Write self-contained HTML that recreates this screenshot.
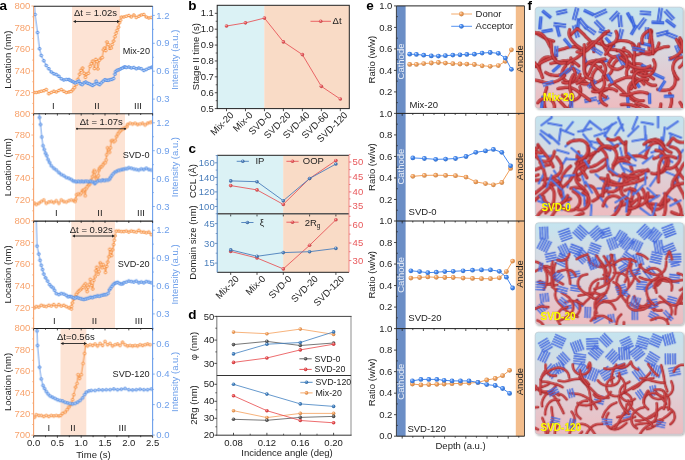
<!DOCTYPE html><html><head><meta charset="utf-8"><style>html,body{margin:0;padding:0;background:#fff;}svg{display:block;will-change:transform;}</style></head><body><svg width="685" height="460" viewBox="0 0 685 460" font-family='"Liberation Sans", sans-serif'><rect x="72" y="6" width="48" height="107.4" fill="#FDE3D4" />
<rect x="75" y="113.4" width="50" height="107.4" fill="#FDE3D4" />
<rect x="71.3" y="220.8" width="43.7" height="107.4" fill="#FDE3D4" />
<rect x="60.5" y="328.2" width="25.8" height="107.4" fill="#FDE3D4" />
<svg x="33.6" y="6" width="119" height="107.4" overflow="hidden"><g transform="translate(-33.6,-6)">
<polyline points="33.75,92.5 36.25,92.5 38.75,92 41.25,91.25 43.75,90.75 46.25,89.5 48.75,93.75 51.25,92.5 53.75,91.25 56.25,92 58.75,90.5 61.25,89.5 63.75,91.25 66.25,92.5 68.75,92 70.88,91.6 72.6,89.85 74.35,87.75 76.1,84.62 77.83,79.4 79.58,74.17 80.8,70.35 82.53,68.1 83.92,73.3 85.33,77.33 86.53,74.17 88.28,73.3 90.03,66.35 91.22,63.75 92.62,61.12 94.38,68.6 95.75,59.38 96.97,61.65 97.85,68.95 99.25,60.25 100.97,58.17 102.2,57.65 103.42,49.83 104.47,48.08 105.67,50.67 106.9,41.98 108.3,44.6 109.67,48.42 111.08,48.08 112.12,44.6 113.53,41.1 114.9,36.75 115.95,33.27 117,30.32 118.4,27.18 119.42,22.82 120.47,20.23 121.35,17.1 123.75,17 126.25,16.25 128.75,15.5 131.25,17 133.75,15 136.25,17.5 138.75,16.25 141.25,15 143.75,14.5 146.25,17 148.75,18 151.25,17.5" fill="none" stroke="#F5862F" stroke-width="0.85" stroke-linejoin="round" />
<circle cx="33.75" cy="92.5" r="1.3" fill="#FFF0E4" stroke="#F5862F" stroke-width="0.95"/>
<circle cx="36.25" cy="92.5" r="1.3" fill="#FFF0E4" stroke="#F5862F" stroke-width="0.95"/>
<circle cx="38.75" cy="92" r="1.3" fill="#FFF0E4" stroke="#F5862F" stroke-width="0.95"/>
<circle cx="41.25" cy="91.25" r="1.3" fill="#FFF0E4" stroke="#F5862F" stroke-width="0.95"/>
<circle cx="43.75" cy="90.75" r="1.3" fill="#FFF0E4" stroke="#F5862F" stroke-width="0.95"/>
<circle cx="46.25" cy="89.5" r="1.3" fill="#FFF0E4" stroke="#F5862F" stroke-width="0.95"/>
<circle cx="48.75" cy="93.75" r="1.3" fill="#FFF0E4" stroke="#F5862F" stroke-width="0.95"/>
<circle cx="51.25" cy="92.5" r="1.3" fill="#FFF0E4" stroke="#F5862F" stroke-width="0.95"/>
<circle cx="53.75" cy="91.25" r="1.3" fill="#FFF0E4" stroke="#F5862F" stroke-width="0.95"/>
<circle cx="56.25" cy="92" r="1.3" fill="#FFF0E4" stroke="#F5862F" stroke-width="0.95"/>
<circle cx="58.75" cy="90.5" r="1.3" fill="#FFF0E4" stroke="#F5862F" stroke-width="0.95"/>
<circle cx="61.25" cy="89.5" r="1.3" fill="#FFF0E4" stroke="#F5862F" stroke-width="0.95"/>
<circle cx="63.75" cy="91.25" r="1.3" fill="#FFF0E4" stroke="#F5862F" stroke-width="0.95"/>
<circle cx="66.25" cy="92.5" r="1.3" fill="#FFF0E4" stroke="#F5862F" stroke-width="0.95"/>
<circle cx="68.75" cy="92" r="1.3" fill="#FFF0E4" stroke="#F5862F" stroke-width="0.95"/>
<circle cx="70.88" cy="91.6" r="1.3" fill="#FFF0E4" stroke="#F5862F" stroke-width="0.95"/>
<circle cx="72.6" cy="89.85" r="1.3" fill="#FFF0E4" stroke="#F5862F" stroke-width="0.95"/>
<circle cx="74.35" cy="87.75" r="1.3" fill="#FFF0E4" stroke="#F5862F" stroke-width="0.95"/>
<circle cx="76.1" cy="84.62" r="1.3" fill="#FFF0E4" stroke="#F5862F" stroke-width="0.95"/>
<circle cx="77.83" cy="79.4" r="1.3" fill="#FFF0E4" stroke="#F5862F" stroke-width="0.95"/>
<circle cx="79.58" cy="74.17" r="1.3" fill="#FFF0E4" stroke="#F5862F" stroke-width="0.95"/>
<circle cx="80.8" cy="70.35" r="1.3" fill="#FFF0E4" stroke="#F5862F" stroke-width="0.95"/>
<circle cx="82.53" cy="68.1" r="1.3" fill="#FFF0E4" stroke="#F5862F" stroke-width="0.95"/>
<circle cx="83.92" cy="73.3" r="1.3" fill="#FFF0E4" stroke="#F5862F" stroke-width="0.95"/>
<circle cx="85.33" cy="77.33" r="1.3" fill="#FFF0E4" stroke="#F5862F" stroke-width="0.95"/>
<circle cx="86.53" cy="74.17" r="1.3" fill="#FFF0E4" stroke="#F5862F" stroke-width="0.95"/>
<circle cx="88.28" cy="73.3" r="1.3" fill="#FFF0E4" stroke="#F5862F" stroke-width="0.95"/>
<circle cx="90.03" cy="66.35" r="1.3" fill="#FFF0E4" stroke="#F5862F" stroke-width="0.95"/>
<circle cx="91.22" cy="63.75" r="1.3" fill="#FFF0E4" stroke="#F5862F" stroke-width="0.95"/>
<circle cx="92.62" cy="61.12" r="1.3" fill="#FFF0E4" stroke="#F5862F" stroke-width="0.95"/>
<circle cx="94.38" cy="68.6" r="1.3" fill="#FFF0E4" stroke="#F5862F" stroke-width="0.95"/>
<circle cx="95.75" cy="59.38" r="1.3" fill="#FFF0E4" stroke="#F5862F" stroke-width="0.95"/>
<circle cx="96.97" cy="61.65" r="1.3" fill="#FFF0E4" stroke="#F5862F" stroke-width="0.95"/>
<circle cx="97.85" cy="68.95" r="1.3" fill="#FFF0E4" stroke="#F5862F" stroke-width="0.95"/>
<circle cx="99.25" cy="60.25" r="1.3" fill="#FFF0E4" stroke="#F5862F" stroke-width="0.95"/>
<circle cx="100.97" cy="58.17" r="1.3" fill="#FFF0E4" stroke="#F5862F" stroke-width="0.95"/>
<circle cx="102.2" cy="57.65" r="1.3" fill="#FFF0E4" stroke="#F5862F" stroke-width="0.95"/>
<circle cx="103.42" cy="49.83" r="1.3" fill="#FFF0E4" stroke="#F5862F" stroke-width="0.95"/>
<circle cx="104.47" cy="48.08" r="1.3" fill="#FFF0E4" stroke="#F5862F" stroke-width="0.95"/>
<circle cx="105.67" cy="50.67" r="1.3" fill="#FFF0E4" stroke="#F5862F" stroke-width="0.95"/>
<circle cx="106.9" cy="41.98" r="1.3" fill="#FFF0E4" stroke="#F5862F" stroke-width="0.95"/>
<circle cx="108.3" cy="44.6" r="1.3" fill="#FFF0E4" stroke="#F5862F" stroke-width="0.95"/>
<circle cx="109.67" cy="48.42" r="1.3" fill="#FFF0E4" stroke="#F5862F" stroke-width="0.95"/>
<circle cx="111.08" cy="48.08" r="1.3" fill="#FFF0E4" stroke="#F5862F" stroke-width="0.95"/>
<circle cx="112.12" cy="44.6" r="1.3" fill="#FFF0E4" stroke="#F5862F" stroke-width="0.95"/>
<circle cx="113.53" cy="41.1" r="1.3" fill="#FFF0E4" stroke="#F5862F" stroke-width="0.95"/>
<circle cx="114.9" cy="36.75" r="1.3" fill="#FFF0E4" stroke="#F5862F" stroke-width="0.95"/>
<circle cx="115.95" cy="33.27" r="1.3" fill="#FFF0E4" stroke="#F5862F" stroke-width="0.95"/>
<circle cx="117" cy="30.32" r="1.3" fill="#FFF0E4" stroke="#F5862F" stroke-width="0.95"/>
<circle cx="118.4" cy="27.18" r="1.3" fill="#FFF0E4" stroke="#F5862F" stroke-width="0.95"/>
<circle cx="119.42" cy="22.82" r="1.3" fill="#FFF0E4" stroke="#F5862F" stroke-width="0.95"/>
<circle cx="120.47" cy="20.23" r="1.3" fill="#FFF0E4" stroke="#F5862F" stroke-width="0.95"/>
<circle cx="121.35" cy="17.1" r="1.3" fill="#FFF0E4" stroke="#F5862F" stroke-width="0.95"/>
<circle cx="123.75" cy="17" r="1.3" fill="#FFF0E4" stroke="#F5862F" stroke-width="0.95"/>
<circle cx="126.25" cy="16.25" r="1.3" fill="#FFF0E4" stroke="#F5862F" stroke-width="0.95"/>
<circle cx="128.75" cy="15.5" r="1.3" fill="#FFF0E4" stroke="#F5862F" stroke-width="0.95"/>
<circle cx="131.25" cy="17" r="1.3" fill="#FFF0E4" stroke="#F5862F" stroke-width="0.95"/>
<circle cx="133.75" cy="15" r="1.3" fill="#FFF0E4" stroke="#F5862F" stroke-width="0.95"/>
<circle cx="136.25" cy="17.5" r="1.3" fill="#FFF0E4" stroke="#F5862F" stroke-width="0.95"/>
<circle cx="138.75" cy="16.25" r="1.3" fill="#FFF0E4" stroke="#F5862F" stroke-width="0.95"/>
<circle cx="141.25" cy="15" r="1.3" fill="#FFF0E4" stroke="#F5862F" stroke-width="0.95"/>
<circle cx="143.75" cy="14.5" r="1.3" fill="#FFF0E4" stroke="#F5862F" stroke-width="0.95"/>
<circle cx="146.25" cy="17" r="1.3" fill="#FFF0E4" stroke="#F5862F" stroke-width="0.95"/>
<circle cx="148.75" cy="18" r="1.3" fill="#FFF0E4" stroke="#F5862F" stroke-width="0.95"/>
<circle cx="151.25" cy="17.5" r="1.3" fill="#FFF0E4" stroke="#F5862F" stroke-width="0.95"/>
<polyline points="34.4,4 35,14.5 37.5,32.5 39.5,48.75 41.25,55.5 43.75,60.75 46.25,65.5 48.75,68.75 51.25,72 53.75,73.75 56.25,74.5 58.75,76.25 61.25,78.75 63.75,80 66.25,79.5 68.75,79.5 70,80.28 71.75,81.15 73.47,82.03 75.22,82.88 76.97,82.03 78.7,81.15 80.45,83.75 82.17,84.62 83.92,82.88 85.67,82.03 87.4,83.22 89.15,83.75 90.9,84.62 92.62,85.5 94.38,84.28 96.1,81.15 97.85,83.75 99.6,84.62 101.33,82.88 103.08,81.15 104.83,79.75 106.55,80.28 108.3,80.28 110.03,79.75 111.78,79.4 113.53,78.53 114.9,74.17 115.6,71.58 117,70.35 118.75,69.83 120.47,68.95 122.22,68.1 123.95,67.22 125,66.88 126.25,67.5 128.75,67 131.25,68 133.75,67.5 136.25,68.75 138.75,68 141.25,68.75 143.75,70.5 146.25,69.5 148.75,68.25 151.25,67.5 152.5,67" fill="none" stroke="#4B88E4" stroke-width="0.8" stroke-linejoin="round" />
<circle cx="35" cy="14.5" r="1.35" fill="#C4D9F8" stroke="#4B88E4" stroke-width="0.95"/>
<circle cx="37.5" cy="32.5" r="1.35" fill="#C4D9F8" stroke="#4B88E4" stroke-width="0.95"/>
<circle cx="39.5" cy="48.75" r="1.35" fill="#C4D9F8" stroke="#4B88E4" stroke-width="0.95"/>
<circle cx="41.25" cy="55.5" r="1.35" fill="#C4D9F8" stroke="#4B88E4" stroke-width="0.95"/>
<circle cx="43.75" cy="60.75" r="1.35" fill="#C4D9F8" stroke="#4B88E4" stroke-width="0.95"/>
<circle cx="46.25" cy="65.5" r="1.35" fill="#C4D9F8" stroke="#4B88E4" stroke-width="0.95"/>
<circle cx="48.75" cy="68.75" r="1.35" fill="#C4D9F8" stroke="#4B88E4" stroke-width="0.95"/>
<circle cx="51.25" cy="72" r="1.35" fill="#C4D9F8" stroke="#4B88E4" stroke-width="0.95"/>
<circle cx="53.75" cy="73.75" r="1.35" fill="#C4D9F8" stroke="#4B88E4" stroke-width="0.95"/>
<circle cx="56.25" cy="74.5" r="1.35" fill="#C4D9F8" stroke="#4B88E4" stroke-width="0.95"/>
<circle cx="58.75" cy="76.25" r="1.35" fill="#C4D9F8" stroke="#4B88E4" stroke-width="0.95"/>
<circle cx="61.25" cy="78.75" r="1.35" fill="#C4D9F8" stroke="#4B88E4" stroke-width="0.95"/>
<circle cx="63.75" cy="80" r="1.35" fill="#C4D9F8" stroke="#4B88E4" stroke-width="0.95"/>
<circle cx="66.25" cy="79.5" r="1.35" fill="#C4D9F8" stroke="#4B88E4" stroke-width="0.95"/>
<circle cx="68.75" cy="79.5" r="1.35" fill="#C4D9F8" stroke="#4B88E4" stroke-width="0.95"/>
<circle cx="70" cy="80.28" r="1.35" fill="#C4D9F8" stroke="#4B88E4" stroke-width="0.95"/>
<circle cx="71.75" cy="81.15" r="1.35" fill="#C4D9F8" stroke="#4B88E4" stroke-width="0.95"/>
<circle cx="73.47" cy="82.03" r="1.35" fill="#C4D9F8" stroke="#4B88E4" stroke-width="0.95"/>
<circle cx="75.22" cy="82.88" r="1.35" fill="#C4D9F8" stroke="#4B88E4" stroke-width="0.95"/>
<circle cx="76.97" cy="82.03" r="1.35" fill="#C4D9F8" stroke="#4B88E4" stroke-width="0.95"/>
<circle cx="78.7" cy="81.15" r="1.35" fill="#C4D9F8" stroke="#4B88E4" stroke-width="0.95"/>
<circle cx="80.45" cy="83.75" r="1.35" fill="#C4D9F8" stroke="#4B88E4" stroke-width="0.95"/>
<circle cx="82.17" cy="84.62" r="1.35" fill="#C4D9F8" stroke="#4B88E4" stroke-width="0.95"/>
<circle cx="83.92" cy="82.88" r="1.35" fill="#C4D9F8" stroke="#4B88E4" stroke-width="0.95"/>
<circle cx="85.67" cy="82.03" r="1.35" fill="#C4D9F8" stroke="#4B88E4" stroke-width="0.95"/>
<circle cx="87.4" cy="83.22" r="1.35" fill="#C4D9F8" stroke="#4B88E4" stroke-width="0.95"/>
<circle cx="89.15" cy="83.75" r="1.35" fill="#C4D9F8" stroke="#4B88E4" stroke-width="0.95"/>
<circle cx="90.9" cy="84.62" r="1.35" fill="#C4D9F8" stroke="#4B88E4" stroke-width="0.95"/>
<circle cx="92.62" cy="85.5" r="1.35" fill="#C4D9F8" stroke="#4B88E4" stroke-width="0.95"/>
<circle cx="94.38" cy="84.28" r="1.35" fill="#C4D9F8" stroke="#4B88E4" stroke-width="0.95"/>
<circle cx="96.1" cy="81.15" r="1.35" fill="#C4D9F8" stroke="#4B88E4" stroke-width="0.95"/>
<circle cx="97.85" cy="83.75" r="1.35" fill="#C4D9F8" stroke="#4B88E4" stroke-width="0.95"/>
<circle cx="99.6" cy="84.62" r="1.35" fill="#C4D9F8" stroke="#4B88E4" stroke-width="0.95"/>
<circle cx="101.33" cy="82.88" r="1.35" fill="#C4D9F8" stroke="#4B88E4" stroke-width="0.95"/>
<circle cx="103.08" cy="81.15" r="1.35" fill="#C4D9F8" stroke="#4B88E4" stroke-width="0.95"/>
<circle cx="104.83" cy="79.75" r="1.35" fill="#C4D9F8" stroke="#4B88E4" stroke-width="0.95"/>
<circle cx="106.55" cy="80.28" r="1.35" fill="#C4D9F8" stroke="#4B88E4" stroke-width="0.95"/>
<circle cx="108.3" cy="80.28" r="1.35" fill="#C4D9F8" stroke="#4B88E4" stroke-width="0.95"/>
<circle cx="110.03" cy="79.75" r="1.35" fill="#C4D9F8" stroke="#4B88E4" stroke-width="0.95"/>
<circle cx="111.78" cy="79.4" r="1.35" fill="#C4D9F8" stroke="#4B88E4" stroke-width="0.95"/>
<circle cx="113.53" cy="78.53" r="1.35" fill="#C4D9F8" stroke="#4B88E4" stroke-width="0.95"/>
<circle cx="114.9" cy="74.17" r="1.35" fill="#C4D9F8" stroke="#4B88E4" stroke-width="0.95"/>
<circle cx="115.6" cy="71.58" r="1.35" fill="#C4D9F8" stroke="#4B88E4" stroke-width="0.95"/>
<circle cx="117" cy="70.35" r="1.35" fill="#C4D9F8" stroke="#4B88E4" stroke-width="0.95"/>
<circle cx="118.75" cy="69.83" r="1.35" fill="#C4D9F8" stroke="#4B88E4" stroke-width="0.95"/>
<circle cx="120.47" cy="68.95" r="1.35" fill="#C4D9F8" stroke="#4B88E4" stroke-width="0.95"/>
<circle cx="122.22" cy="68.1" r="1.35" fill="#C4D9F8" stroke="#4B88E4" stroke-width="0.95"/>
<circle cx="123.95" cy="67.22" r="1.35" fill="#C4D9F8" stroke="#4B88E4" stroke-width="0.95"/>
<circle cx="125" cy="66.88" r="1.35" fill="#C4D9F8" stroke="#4B88E4" stroke-width="0.95"/>
<circle cx="126.25" cy="67.5" r="1.35" fill="#C4D9F8" stroke="#4B88E4" stroke-width="0.95"/>
<circle cx="128.75" cy="67" r="1.35" fill="#C4D9F8" stroke="#4B88E4" stroke-width="0.95"/>
<circle cx="131.25" cy="68" r="1.35" fill="#C4D9F8" stroke="#4B88E4" stroke-width="0.95"/>
<circle cx="133.75" cy="67.5" r="1.35" fill="#C4D9F8" stroke="#4B88E4" stroke-width="0.95"/>
<circle cx="136.25" cy="68.75" r="1.35" fill="#C4D9F8" stroke="#4B88E4" stroke-width="0.95"/>
<circle cx="138.75" cy="68" r="1.35" fill="#C4D9F8" stroke="#4B88E4" stroke-width="0.95"/>
<circle cx="141.25" cy="68.75" r="1.35" fill="#C4D9F8" stroke="#4B88E4" stroke-width="0.95"/>
<circle cx="143.75" cy="70.5" r="1.35" fill="#C4D9F8" stroke="#4B88E4" stroke-width="0.95"/>
<circle cx="146.25" cy="69.5" r="1.35" fill="#C4D9F8" stroke="#4B88E4" stroke-width="0.95"/>
<circle cx="148.75" cy="68.25" r="1.35" fill="#C4D9F8" stroke="#4B88E4" stroke-width="0.95"/>
<circle cx="151.25" cy="67.5" r="1.35" fill="#C4D9F8" stroke="#4B88E4" stroke-width="0.95"/>
<circle cx="152.5" cy="67" r="1.35" fill="#C4D9F8" stroke="#4B88E4" stroke-width="0.95"/>
</g></svg>
<svg x="33.6" y="113.4" width="119" height="107.4" overflow="hidden"><g transform="translate(-33.6,-113.4)">
<polyline points="34.5,203.25 36.25,204.5 38.75,203.25 41.25,201.5 43.75,200 46.25,203.25 48.75,202 51.25,201.5 53.75,202.5 56.25,200.75 58.75,203.25 61.25,200 63.75,201.5 66.25,202 68.75,200.75 71.25,200 73.75,200.75 75,201.5 75.6,199.2 76.47,194.85 78.22,193.97 79.97,194.5 81.35,193.1 82.58,190.5 83.45,191.38 84.33,189.62 85.17,195.72 86.05,188.75 86.92,187.03 88.33,185.28 89.53,184.4 91.28,180.05 92.5,176.57 93.55,172.22 94.22,170.47 94.92,172.22 95.62,177.45 96.5,179.18 97.38,177.1 98.25,175.7 98.75,170.47 99.45,168.4 100.5,167 101.72,166.65 102.95,164.9 103.97,163.18 105.2,162.65 106.08,160.03 106.6,154.82 107.47,147.85 108.67,149.6 109.55,152.2 110.42,147.85 111.3,140.9 112.67,140.55 113.9,141.75 115.12,140.55 116.53,136.53 117.9,133.93 119.12,132.18 120.35,130.8 121.75,129.57 123.47,128.7 125.22,127.83 126.95,126.62 127.5,124.5 130,123.25 132.5,124 135,123.25 137.5,124.5 140,124 142.5,123.25 145,125 147.5,123.25 150,122.5 152,122" fill="none" stroke="#F5862F" stroke-width="0.85" stroke-linejoin="round" />
<circle cx="34.5" cy="203.25" r="1.3" fill="#FFF0E4" stroke="#F5862F" stroke-width="0.95"/>
<circle cx="36.25" cy="204.5" r="1.3" fill="#FFF0E4" stroke="#F5862F" stroke-width="0.95"/>
<circle cx="38.75" cy="203.25" r="1.3" fill="#FFF0E4" stroke="#F5862F" stroke-width="0.95"/>
<circle cx="41.25" cy="201.5" r="1.3" fill="#FFF0E4" stroke="#F5862F" stroke-width="0.95"/>
<circle cx="43.75" cy="200" r="1.3" fill="#FFF0E4" stroke="#F5862F" stroke-width="0.95"/>
<circle cx="46.25" cy="203.25" r="1.3" fill="#FFF0E4" stroke="#F5862F" stroke-width="0.95"/>
<circle cx="48.75" cy="202" r="1.3" fill="#FFF0E4" stroke="#F5862F" stroke-width="0.95"/>
<circle cx="51.25" cy="201.5" r="1.3" fill="#FFF0E4" stroke="#F5862F" stroke-width="0.95"/>
<circle cx="53.75" cy="202.5" r="1.3" fill="#FFF0E4" stroke="#F5862F" stroke-width="0.95"/>
<circle cx="56.25" cy="200.75" r="1.3" fill="#FFF0E4" stroke="#F5862F" stroke-width="0.95"/>
<circle cx="58.75" cy="203.25" r="1.3" fill="#FFF0E4" stroke="#F5862F" stroke-width="0.95"/>
<circle cx="61.25" cy="200" r="1.3" fill="#FFF0E4" stroke="#F5862F" stroke-width="0.95"/>
<circle cx="63.75" cy="201.5" r="1.3" fill="#FFF0E4" stroke="#F5862F" stroke-width="0.95"/>
<circle cx="66.25" cy="202" r="1.3" fill="#FFF0E4" stroke="#F5862F" stroke-width="0.95"/>
<circle cx="68.75" cy="200.75" r="1.3" fill="#FFF0E4" stroke="#F5862F" stroke-width="0.95"/>
<circle cx="71.25" cy="200" r="1.3" fill="#FFF0E4" stroke="#F5862F" stroke-width="0.95"/>
<circle cx="73.75" cy="200.75" r="1.3" fill="#FFF0E4" stroke="#F5862F" stroke-width="0.95"/>
<circle cx="75" cy="201.5" r="1.3" fill="#FFF0E4" stroke="#F5862F" stroke-width="0.95"/>
<circle cx="75.6" cy="199.2" r="1.3" fill="#FFF0E4" stroke="#F5862F" stroke-width="0.95"/>
<circle cx="76.47" cy="194.85" r="1.3" fill="#FFF0E4" stroke="#F5862F" stroke-width="0.95"/>
<circle cx="78.22" cy="193.97" r="1.3" fill="#FFF0E4" stroke="#F5862F" stroke-width="0.95"/>
<circle cx="79.97" cy="194.5" r="1.3" fill="#FFF0E4" stroke="#F5862F" stroke-width="0.95"/>
<circle cx="81.35" cy="193.1" r="1.3" fill="#FFF0E4" stroke="#F5862F" stroke-width="0.95"/>
<circle cx="82.58" cy="190.5" r="1.3" fill="#FFF0E4" stroke="#F5862F" stroke-width="0.95"/>
<circle cx="83.45" cy="191.38" r="1.3" fill="#FFF0E4" stroke="#F5862F" stroke-width="0.95"/>
<circle cx="84.33" cy="189.62" r="1.3" fill="#FFF0E4" stroke="#F5862F" stroke-width="0.95"/>
<circle cx="85.17" cy="195.72" r="1.3" fill="#FFF0E4" stroke="#F5862F" stroke-width="0.95"/>
<circle cx="86.05" cy="188.75" r="1.3" fill="#FFF0E4" stroke="#F5862F" stroke-width="0.95"/>
<circle cx="86.92" cy="187.03" r="1.3" fill="#FFF0E4" stroke="#F5862F" stroke-width="0.95"/>
<circle cx="88.33" cy="185.28" r="1.3" fill="#FFF0E4" stroke="#F5862F" stroke-width="0.95"/>
<circle cx="89.53" cy="184.4" r="1.3" fill="#FFF0E4" stroke="#F5862F" stroke-width="0.95"/>
<circle cx="91.28" cy="180.05" r="1.3" fill="#FFF0E4" stroke="#F5862F" stroke-width="0.95"/>
<circle cx="92.5" cy="176.57" r="1.3" fill="#FFF0E4" stroke="#F5862F" stroke-width="0.95"/>
<circle cx="93.55" cy="172.22" r="1.3" fill="#FFF0E4" stroke="#F5862F" stroke-width="0.95"/>
<circle cx="94.22" cy="170.47" r="1.3" fill="#FFF0E4" stroke="#F5862F" stroke-width="0.95"/>
<circle cx="94.92" cy="172.22" r="1.3" fill="#FFF0E4" stroke="#F5862F" stroke-width="0.95"/>
<circle cx="95.62" cy="177.45" r="1.3" fill="#FFF0E4" stroke="#F5862F" stroke-width="0.95"/>
<circle cx="96.5" cy="179.18" r="1.3" fill="#FFF0E4" stroke="#F5862F" stroke-width="0.95"/>
<circle cx="97.38" cy="177.1" r="1.3" fill="#FFF0E4" stroke="#F5862F" stroke-width="0.95"/>
<circle cx="98.25" cy="175.7" r="1.3" fill="#FFF0E4" stroke="#F5862F" stroke-width="0.95"/>
<circle cx="98.75" cy="170.47" r="1.3" fill="#FFF0E4" stroke="#F5862F" stroke-width="0.95"/>
<circle cx="99.45" cy="168.4" r="1.3" fill="#FFF0E4" stroke="#F5862F" stroke-width="0.95"/>
<circle cx="100.5" cy="167" r="1.3" fill="#FFF0E4" stroke="#F5862F" stroke-width="0.95"/>
<circle cx="101.72" cy="166.65" r="1.3" fill="#FFF0E4" stroke="#F5862F" stroke-width="0.95"/>
<circle cx="102.95" cy="164.9" r="1.3" fill="#FFF0E4" stroke="#F5862F" stroke-width="0.95"/>
<circle cx="103.97" cy="163.18" r="1.3" fill="#FFF0E4" stroke="#F5862F" stroke-width="0.95"/>
<circle cx="105.2" cy="162.65" r="1.3" fill="#FFF0E4" stroke="#F5862F" stroke-width="0.95"/>
<circle cx="106.08" cy="160.03" r="1.3" fill="#FFF0E4" stroke="#F5862F" stroke-width="0.95"/>
<circle cx="106.6" cy="154.82" r="1.3" fill="#FFF0E4" stroke="#F5862F" stroke-width="0.95"/>
<circle cx="107.47" cy="147.85" r="1.3" fill="#FFF0E4" stroke="#F5862F" stroke-width="0.95"/>
<circle cx="108.67" cy="149.6" r="1.3" fill="#FFF0E4" stroke="#F5862F" stroke-width="0.95"/>
<circle cx="109.55" cy="152.2" r="1.3" fill="#FFF0E4" stroke="#F5862F" stroke-width="0.95"/>
<circle cx="110.42" cy="147.85" r="1.3" fill="#FFF0E4" stroke="#F5862F" stroke-width="0.95"/>
<circle cx="111.3" cy="140.9" r="1.3" fill="#FFF0E4" stroke="#F5862F" stroke-width="0.95"/>
<circle cx="112.67" cy="140.55" r="1.3" fill="#FFF0E4" stroke="#F5862F" stroke-width="0.95"/>
<circle cx="113.9" cy="141.75" r="1.3" fill="#FFF0E4" stroke="#F5862F" stroke-width="0.95"/>
<circle cx="115.12" cy="140.55" r="1.3" fill="#FFF0E4" stroke="#F5862F" stroke-width="0.95"/>
<circle cx="116.53" cy="136.53" r="1.3" fill="#FFF0E4" stroke="#F5862F" stroke-width="0.95"/>
<circle cx="117.9" cy="133.93" r="1.3" fill="#FFF0E4" stroke="#F5862F" stroke-width="0.95"/>
<circle cx="119.12" cy="132.18" r="1.3" fill="#FFF0E4" stroke="#F5862F" stroke-width="0.95"/>
<circle cx="120.35" cy="130.8" r="1.3" fill="#FFF0E4" stroke="#F5862F" stroke-width="0.95"/>
<circle cx="121.75" cy="129.57" r="1.3" fill="#FFF0E4" stroke="#F5862F" stroke-width="0.95"/>
<circle cx="123.47" cy="128.7" r="1.3" fill="#FFF0E4" stroke="#F5862F" stroke-width="0.95"/>
<circle cx="125.22" cy="127.83" r="1.3" fill="#FFF0E4" stroke="#F5862F" stroke-width="0.95"/>
<circle cx="126.95" cy="126.62" r="1.3" fill="#FFF0E4" stroke="#F5862F" stroke-width="0.95"/>
<circle cx="127.5" cy="124.5" r="1.3" fill="#FFF0E4" stroke="#F5862F" stroke-width="0.95"/>
<circle cx="130" cy="123.25" r="1.3" fill="#FFF0E4" stroke="#F5862F" stroke-width="0.95"/>
<circle cx="132.5" cy="124" r="1.3" fill="#FFF0E4" stroke="#F5862F" stroke-width="0.95"/>
<circle cx="135" cy="123.25" r="1.3" fill="#FFF0E4" stroke="#F5862F" stroke-width="0.95"/>
<circle cx="137.5" cy="124.5" r="1.3" fill="#FFF0E4" stroke="#F5862F" stroke-width="0.95"/>
<circle cx="140" cy="124" r="1.3" fill="#FFF0E4" stroke="#F5862F" stroke-width="0.95"/>
<circle cx="142.5" cy="123.25" r="1.3" fill="#FFF0E4" stroke="#F5862F" stroke-width="0.95"/>
<circle cx="145" cy="125" r="1.3" fill="#FFF0E4" stroke="#F5862F" stroke-width="0.95"/>
<circle cx="147.5" cy="123.25" r="1.3" fill="#FFF0E4" stroke="#F5862F" stroke-width="0.95"/>
<circle cx="150" cy="122.5" r="1.3" fill="#FFF0E4" stroke="#F5862F" stroke-width="0.95"/>
<circle cx="152" cy="122" r="1.3" fill="#FFF0E4" stroke="#F5862F" stroke-width="0.95"/>
<polyline points="38.9,111.4 39.5,117.5 40.5,124.5 41.75,137 43,145.75 44.25,149.5 45.5,153.25 46.75,155.75 48,159.5 49.5,162.5 51.25,165.75 53.75,168.25 56.25,170 58.75,172.5 61.25,174.5 63.75,175.75 66.25,177.5 68.75,178.25 71.25,179.5 73,180.93 74.75,181.28 76.47,181.8 78.22,181.28 79.97,181.8 81.7,181.28 83.45,181.8 85.17,181.28 86.92,181.28 88.67,181.8 90.4,181.28 92.15,181.8 93.9,182.32 94.75,183.53 95.62,182.68 97.38,181.28 99.1,180.57 100.85,180.93 102.6,180.05 104.33,180.57 106.08,180.05 107.83,180.05 109.55,179.18 110.42,177.45 111.65,175.7 113.03,173.95 114.78,172.22 116.53,171.35 118.25,170.47 120,170.12 121.75,169.6 123.47,169.25 125.22,168.75 126.95,168.75 128.75,167.75 131.25,168.25 133.75,169 136.25,169.5 138.75,170 141.25,169 143.75,169.5 146.25,168.25 148.75,169.5 151.25,170" fill="none" stroke="#4B88E4" stroke-width="0.8" stroke-linejoin="round" />
<circle cx="39.5" cy="117.5" r="1.35" fill="#C4D9F8" stroke="#4B88E4" stroke-width="0.95"/>
<circle cx="40.5" cy="124.5" r="1.35" fill="#C4D9F8" stroke="#4B88E4" stroke-width="0.95"/>
<circle cx="41.75" cy="137" r="1.35" fill="#C4D9F8" stroke="#4B88E4" stroke-width="0.95"/>
<circle cx="43" cy="145.75" r="1.35" fill="#C4D9F8" stroke="#4B88E4" stroke-width="0.95"/>
<circle cx="44.25" cy="149.5" r="1.35" fill="#C4D9F8" stroke="#4B88E4" stroke-width="0.95"/>
<circle cx="45.5" cy="153.25" r="1.35" fill="#C4D9F8" stroke="#4B88E4" stroke-width="0.95"/>
<circle cx="46.75" cy="155.75" r="1.35" fill="#C4D9F8" stroke="#4B88E4" stroke-width="0.95"/>
<circle cx="48" cy="159.5" r="1.35" fill="#C4D9F8" stroke="#4B88E4" stroke-width="0.95"/>
<circle cx="49.5" cy="162.5" r="1.35" fill="#C4D9F8" stroke="#4B88E4" stroke-width="0.95"/>
<circle cx="51.25" cy="165.75" r="1.35" fill="#C4D9F8" stroke="#4B88E4" stroke-width="0.95"/>
<circle cx="53.75" cy="168.25" r="1.35" fill="#C4D9F8" stroke="#4B88E4" stroke-width="0.95"/>
<circle cx="56.25" cy="170" r="1.35" fill="#C4D9F8" stroke="#4B88E4" stroke-width="0.95"/>
<circle cx="58.75" cy="172.5" r="1.35" fill="#C4D9F8" stroke="#4B88E4" stroke-width="0.95"/>
<circle cx="61.25" cy="174.5" r="1.35" fill="#C4D9F8" stroke="#4B88E4" stroke-width="0.95"/>
<circle cx="63.75" cy="175.75" r="1.35" fill="#C4D9F8" stroke="#4B88E4" stroke-width="0.95"/>
<circle cx="66.25" cy="177.5" r="1.35" fill="#C4D9F8" stroke="#4B88E4" stroke-width="0.95"/>
<circle cx="68.75" cy="178.25" r="1.35" fill="#C4D9F8" stroke="#4B88E4" stroke-width="0.95"/>
<circle cx="71.25" cy="179.5" r="1.35" fill="#C4D9F8" stroke="#4B88E4" stroke-width="0.95"/>
<circle cx="73" cy="180.93" r="1.35" fill="#C4D9F8" stroke="#4B88E4" stroke-width="0.95"/>
<circle cx="74.75" cy="181.28" r="1.35" fill="#C4D9F8" stroke="#4B88E4" stroke-width="0.95"/>
<circle cx="76.47" cy="181.8" r="1.35" fill="#C4D9F8" stroke="#4B88E4" stroke-width="0.95"/>
<circle cx="78.22" cy="181.28" r="1.35" fill="#C4D9F8" stroke="#4B88E4" stroke-width="0.95"/>
<circle cx="79.97" cy="181.8" r="1.35" fill="#C4D9F8" stroke="#4B88E4" stroke-width="0.95"/>
<circle cx="81.7" cy="181.28" r="1.35" fill="#C4D9F8" stroke="#4B88E4" stroke-width="0.95"/>
<circle cx="83.45" cy="181.8" r="1.35" fill="#C4D9F8" stroke="#4B88E4" stroke-width="0.95"/>
<circle cx="85.17" cy="181.28" r="1.35" fill="#C4D9F8" stroke="#4B88E4" stroke-width="0.95"/>
<circle cx="86.92" cy="181.28" r="1.35" fill="#C4D9F8" stroke="#4B88E4" stroke-width="0.95"/>
<circle cx="88.67" cy="181.8" r="1.35" fill="#C4D9F8" stroke="#4B88E4" stroke-width="0.95"/>
<circle cx="90.4" cy="181.28" r="1.35" fill="#C4D9F8" stroke="#4B88E4" stroke-width="0.95"/>
<circle cx="92.15" cy="181.8" r="1.35" fill="#C4D9F8" stroke="#4B88E4" stroke-width="0.95"/>
<circle cx="93.9" cy="182.32" r="1.35" fill="#C4D9F8" stroke="#4B88E4" stroke-width="0.95"/>
<circle cx="94.75" cy="183.53" r="1.35" fill="#C4D9F8" stroke="#4B88E4" stroke-width="0.95"/>
<circle cx="95.62" cy="182.68" r="1.35" fill="#C4D9F8" stroke="#4B88E4" stroke-width="0.95"/>
<circle cx="97.38" cy="181.28" r="1.35" fill="#C4D9F8" stroke="#4B88E4" stroke-width="0.95"/>
<circle cx="99.1" cy="180.57" r="1.35" fill="#C4D9F8" stroke="#4B88E4" stroke-width="0.95"/>
<circle cx="100.85" cy="180.93" r="1.35" fill="#C4D9F8" stroke="#4B88E4" stroke-width="0.95"/>
<circle cx="102.6" cy="180.05" r="1.35" fill="#C4D9F8" stroke="#4B88E4" stroke-width="0.95"/>
<circle cx="104.33" cy="180.57" r="1.35" fill="#C4D9F8" stroke="#4B88E4" stroke-width="0.95"/>
<circle cx="106.08" cy="180.05" r="1.35" fill="#C4D9F8" stroke="#4B88E4" stroke-width="0.95"/>
<circle cx="107.83" cy="180.05" r="1.35" fill="#C4D9F8" stroke="#4B88E4" stroke-width="0.95"/>
<circle cx="109.55" cy="179.18" r="1.35" fill="#C4D9F8" stroke="#4B88E4" stroke-width="0.95"/>
<circle cx="110.42" cy="177.45" r="1.35" fill="#C4D9F8" stroke="#4B88E4" stroke-width="0.95"/>
<circle cx="111.65" cy="175.7" r="1.35" fill="#C4D9F8" stroke="#4B88E4" stroke-width="0.95"/>
<circle cx="113.03" cy="173.95" r="1.35" fill="#C4D9F8" stroke="#4B88E4" stroke-width="0.95"/>
<circle cx="114.78" cy="172.22" r="1.35" fill="#C4D9F8" stroke="#4B88E4" stroke-width="0.95"/>
<circle cx="116.53" cy="171.35" r="1.35" fill="#C4D9F8" stroke="#4B88E4" stroke-width="0.95"/>
<circle cx="118.25" cy="170.47" r="1.35" fill="#C4D9F8" stroke="#4B88E4" stroke-width="0.95"/>
<circle cx="120" cy="170.12" r="1.35" fill="#C4D9F8" stroke="#4B88E4" stroke-width="0.95"/>
<circle cx="121.75" cy="169.6" r="1.35" fill="#C4D9F8" stroke="#4B88E4" stroke-width="0.95"/>
<circle cx="123.47" cy="169.25" r="1.35" fill="#C4D9F8" stroke="#4B88E4" stroke-width="0.95"/>
<circle cx="125.22" cy="168.75" r="1.35" fill="#C4D9F8" stroke="#4B88E4" stroke-width="0.95"/>
<circle cx="126.95" cy="168.75" r="1.35" fill="#C4D9F8" stroke="#4B88E4" stroke-width="0.95"/>
<circle cx="128.75" cy="167.75" r="1.35" fill="#C4D9F8" stroke="#4B88E4" stroke-width="0.95"/>
<circle cx="131.25" cy="168.25" r="1.35" fill="#C4D9F8" stroke="#4B88E4" stroke-width="0.95"/>
<circle cx="133.75" cy="169" r="1.35" fill="#C4D9F8" stroke="#4B88E4" stroke-width="0.95"/>
<circle cx="136.25" cy="169.5" r="1.35" fill="#C4D9F8" stroke="#4B88E4" stroke-width="0.95"/>
<circle cx="138.75" cy="170" r="1.35" fill="#C4D9F8" stroke="#4B88E4" stroke-width="0.95"/>
<circle cx="141.25" cy="169" r="1.35" fill="#C4D9F8" stroke="#4B88E4" stroke-width="0.95"/>
<circle cx="143.75" cy="169.5" r="1.35" fill="#C4D9F8" stroke="#4B88E4" stroke-width="0.95"/>
<circle cx="146.25" cy="168.25" r="1.35" fill="#C4D9F8" stroke="#4B88E4" stroke-width="0.95"/>
<circle cx="148.75" cy="169.5" r="1.35" fill="#C4D9F8" stroke="#4B88E4" stroke-width="0.95"/>
<circle cx="151.25" cy="170" r="1.35" fill="#C4D9F8" stroke="#4B88E4" stroke-width="0.95"/>
</g></svg>
<svg x="33.6" y="220.8" width="119" height="107.4" overflow="hidden"><g transform="translate(-33.6,-220.8)">
<polyline points="34.5,307.75 36.25,306.5 38.75,307 41.25,305.25 43.75,306 46.25,306.5 48.75,305.25 51.25,306 53.75,304.5 56.25,306.5 58.75,304.5 61.25,306 63.75,305.25 66.25,306.5 68.75,307.75 71.25,309 71.47,306.32 72.35,302.85 73.58,299.02 74.97,296.75 76.35,294.15 77.58,292.4 78.8,291 80.17,289.8 81.58,288.57 82.8,287.18 84.03,285.45 85.4,283.7 86.28,288.93 87.15,291.52 88.03,287.18 89.22,284.57 90.28,279.35 91.5,285.45 92.72,288.93 93.75,280.23 94.97,276.75 95.85,270.65 96.72,267.18 97.95,274.12 98.97,271.52 100.2,262.82 101.08,264.55 101.95,267.68 103.15,264.55 104.2,267.18 105.42,272.38 106.65,266.3 107.67,261.95 108.9,256.73 109.78,249.22 110.83,252.03 111.53,255.5 112.55,249.75 113.6,244.53 114.3,240.18 115,235.82 116.25,231 118.75,231 121.25,231.5 123.75,231.5 126.25,231 128.75,232 131.25,231 133.75,231.5 136.25,232 138.75,230.25 141.25,232 143.75,232 146.25,232.75 148.75,232 151.25,234.5" fill="none" stroke="#F5862F" stroke-width="0.85" stroke-linejoin="round" />
<circle cx="34.5" cy="307.75" r="1.3" fill="#FFF0E4" stroke="#F5862F" stroke-width="0.95"/>
<circle cx="36.25" cy="306.5" r="1.3" fill="#FFF0E4" stroke="#F5862F" stroke-width="0.95"/>
<circle cx="38.75" cy="307" r="1.3" fill="#FFF0E4" stroke="#F5862F" stroke-width="0.95"/>
<circle cx="41.25" cy="305.25" r="1.3" fill="#FFF0E4" stroke="#F5862F" stroke-width="0.95"/>
<circle cx="43.75" cy="306" r="1.3" fill="#FFF0E4" stroke="#F5862F" stroke-width="0.95"/>
<circle cx="46.25" cy="306.5" r="1.3" fill="#FFF0E4" stroke="#F5862F" stroke-width="0.95"/>
<circle cx="48.75" cy="305.25" r="1.3" fill="#FFF0E4" stroke="#F5862F" stroke-width="0.95"/>
<circle cx="51.25" cy="306" r="1.3" fill="#FFF0E4" stroke="#F5862F" stroke-width="0.95"/>
<circle cx="53.75" cy="304.5" r="1.3" fill="#FFF0E4" stroke="#F5862F" stroke-width="0.95"/>
<circle cx="56.25" cy="306.5" r="1.3" fill="#FFF0E4" stroke="#F5862F" stroke-width="0.95"/>
<circle cx="58.75" cy="304.5" r="1.3" fill="#FFF0E4" stroke="#F5862F" stroke-width="0.95"/>
<circle cx="61.25" cy="306" r="1.3" fill="#FFF0E4" stroke="#F5862F" stroke-width="0.95"/>
<circle cx="63.75" cy="305.25" r="1.3" fill="#FFF0E4" stroke="#F5862F" stroke-width="0.95"/>
<circle cx="66.25" cy="306.5" r="1.3" fill="#FFF0E4" stroke="#F5862F" stroke-width="0.95"/>
<circle cx="68.75" cy="307.75" r="1.3" fill="#FFF0E4" stroke="#F5862F" stroke-width="0.95"/>
<circle cx="71.25" cy="309" r="1.3" fill="#FFF0E4" stroke="#F5862F" stroke-width="0.95"/>
<circle cx="71.47" cy="306.32" r="1.3" fill="#FFF0E4" stroke="#F5862F" stroke-width="0.95"/>
<circle cx="72.35" cy="302.85" r="1.3" fill="#FFF0E4" stroke="#F5862F" stroke-width="0.95"/>
<circle cx="73.58" cy="299.02" r="1.3" fill="#FFF0E4" stroke="#F5862F" stroke-width="0.95"/>
<circle cx="74.97" cy="296.75" r="1.3" fill="#FFF0E4" stroke="#F5862F" stroke-width="0.95"/>
<circle cx="76.35" cy="294.15" r="1.3" fill="#FFF0E4" stroke="#F5862F" stroke-width="0.95"/>
<circle cx="77.58" cy="292.4" r="1.3" fill="#FFF0E4" stroke="#F5862F" stroke-width="0.95"/>
<circle cx="78.8" cy="291" r="1.3" fill="#FFF0E4" stroke="#F5862F" stroke-width="0.95"/>
<circle cx="80.17" cy="289.8" r="1.3" fill="#FFF0E4" stroke="#F5862F" stroke-width="0.95"/>
<circle cx="81.58" cy="288.57" r="1.3" fill="#FFF0E4" stroke="#F5862F" stroke-width="0.95"/>
<circle cx="82.8" cy="287.18" r="1.3" fill="#FFF0E4" stroke="#F5862F" stroke-width="0.95"/>
<circle cx="84.03" cy="285.45" r="1.3" fill="#FFF0E4" stroke="#F5862F" stroke-width="0.95"/>
<circle cx="85.4" cy="283.7" r="1.3" fill="#FFF0E4" stroke="#F5862F" stroke-width="0.95"/>
<circle cx="86.28" cy="288.93" r="1.3" fill="#FFF0E4" stroke="#F5862F" stroke-width="0.95"/>
<circle cx="87.15" cy="291.52" r="1.3" fill="#FFF0E4" stroke="#F5862F" stroke-width="0.95"/>
<circle cx="88.03" cy="287.18" r="1.3" fill="#FFF0E4" stroke="#F5862F" stroke-width="0.95"/>
<circle cx="89.22" cy="284.57" r="1.3" fill="#FFF0E4" stroke="#F5862F" stroke-width="0.95"/>
<circle cx="90.28" cy="279.35" r="1.3" fill="#FFF0E4" stroke="#F5862F" stroke-width="0.95"/>
<circle cx="91.5" cy="285.45" r="1.3" fill="#FFF0E4" stroke="#F5862F" stroke-width="0.95"/>
<circle cx="92.72" cy="288.93" r="1.3" fill="#FFF0E4" stroke="#F5862F" stroke-width="0.95"/>
<circle cx="93.75" cy="280.23" r="1.3" fill="#FFF0E4" stroke="#F5862F" stroke-width="0.95"/>
<circle cx="94.97" cy="276.75" r="1.3" fill="#FFF0E4" stroke="#F5862F" stroke-width="0.95"/>
<circle cx="95.85" cy="270.65" r="1.3" fill="#FFF0E4" stroke="#F5862F" stroke-width="0.95"/>
<circle cx="96.72" cy="267.18" r="1.3" fill="#FFF0E4" stroke="#F5862F" stroke-width="0.95"/>
<circle cx="97.95" cy="274.12" r="1.3" fill="#FFF0E4" stroke="#F5862F" stroke-width="0.95"/>
<circle cx="98.97" cy="271.52" r="1.3" fill="#FFF0E4" stroke="#F5862F" stroke-width="0.95"/>
<circle cx="100.2" cy="262.82" r="1.3" fill="#FFF0E4" stroke="#F5862F" stroke-width="0.95"/>
<circle cx="101.08" cy="264.55" r="1.3" fill="#FFF0E4" stroke="#F5862F" stroke-width="0.95"/>
<circle cx="101.95" cy="267.68" r="1.3" fill="#FFF0E4" stroke="#F5862F" stroke-width="0.95"/>
<circle cx="103.15" cy="264.55" r="1.3" fill="#FFF0E4" stroke="#F5862F" stroke-width="0.95"/>
<circle cx="104.2" cy="267.18" r="1.3" fill="#FFF0E4" stroke="#F5862F" stroke-width="0.95"/>
<circle cx="105.42" cy="272.38" r="1.3" fill="#FFF0E4" stroke="#F5862F" stroke-width="0.95"/>
<circle cx="106.65" cy="266.3" r="1.3" fill="#FFF0E4" stroke="#F5862F" stroke-width="0.95"/>
<circle cx="107.67" cy="261.95" r="1.3" fill="#FFF0E4" stroke="#F5862F" stroke-width="0.95"/>
<circle cx="108.9" cy="256.73" r="1.3" fill="#FFF0E4" stroke="#F5862F" stroke-width="0.95"/>
<circle cx="109.78" cy="249.22" r="1.3" fill="#FFF0E4" stroke="#F5862F" stroke-width="0.95"/>
<circle cx="110.83" cy="252.03" r="1.3" fill="#FFF0E4" stroke="#F5862F" stroke-width="0.95"/>
<circle cx="111.53" cy="255.5" r="1.3" fill="#FFF0E4" stroke="#F5862F" stroke-width="0.95"/>
<circle cx="112.55" cy="249.75" r="1.3" fill="#FFF0E4" stroke="#F5862F" stroke-width="0.95"/>
<circle cx="113.6" cy="244.53" r="1.3" fill="#FFF0E4" stroke="#F5862F" stroke-width="0.95"/>
<circle cx="114.3" cy="240.18" r="1.3" fill="#FFF0E4" stroke="#F5862F" stroke-width="0.95"/>
<circle cx="115" cy="235.82" r="1.3" fill="#FFF0E4" stroke="#F5862F" stroke-width="0.95"/>
<circle cx="116.25" cy="231" r="1.3" fill="#FFF0E4" stroke="#F5862F" stroke-width="0.95"/>
<circle cx="118.75" cy="231" r="1.3" fill="#FFF0E4" stroke="#F5862F" stroke-width="0.95"/>
<circle cx="121.25" cy="231.5" r="1.3" fill="#FFF0E4" stroke="#F5862F" stroke-width="0.95"/>
<circle cx="123.75" cy="231.5" r="1.3" fill="#FFF0E4" stroke="#F5862F" stroke-width="0.95"/>
<circle cx="126.25" cy="231" r="1.3" fill="#FFF0E4" stroke="#F5862F" stroke-width="0.95"/>
<circle cx="128.75" cy="232" r="1.3" fill="#FFF0E4" stroke="#F5862F" stroke-width="0.95"/>
<circle cx="131.25" cy="231" r="1.3" fill="#FFF0E4" stroke="#F5862F" stroke-width="0.95"/>
<circle cx="133.75" cy="231.5" r="1.3" fill="#FFF0E4" stroke="#F5862F" stroke-width="0.95"/>
<circle cx="136.25" cy="232" r="1.3" fill="#FFF0E4" stroke="#F5862F" stroke-width="0.95"/>
<circle cx="138.75" cy="230.25" r="1.3" fill="#FFF0E4" stroke="#F5862F" stroke-width="0.95"/>
<circle cx="141.25" cy="232" r="1.3" fill="#FFF0E4" stroke="#F5862F" stroke-width="0.95"/>
<circle cx="143.75" cy="232" r="1.3" fill="#FFF0E4" stroke="#F5862F" stroke-width="0.95"/>
<circle cx="146.25" cy="232.75" r="1.3" fill="#FFF0E4" stroke="#F5862F" stroke-width="0.95"/>
<circle cx="148.75" cy="232" r="1.3" fill="#FFF0E4" stroke="#F5862F" stroke-width="0.95"/>
<circle cx="151.25" cy="234.5" r="1.3" fill="#FFF0E4" stroke="#F5862F" stroke-width="0.95"/>
<polyline points="35.65,218.8 36.25,220.25 37,246 38.75,254 40,260.25 41.25,265.25 42.5,269.5 43.75,274 45.5,277.75 47.5,281 49.5,284.5 51.25,286.5 53,287.75 54.5,290.25 56.25,293.5 58.75,294.5 61.25,293.5 63.75,294 66.25,295.25 68,296.75 69.75,296.4 71.47,296.75 73.22,297.62 74.97,298.15 76.7,297.27 78.45,297.98 80.17,298.5 81.92,299.02 83.67,299.38 85.4,299.02 87.15,298.5 88.9,297.98 90.62,297.27 92.38,297.62 94.1,296.75 95.85,296.4 97.6,295.88 99.33,296.23 101.08,295.52 102.83,295.02 104.55,294.68 106.3,294.5 108.03,293.27 109.42,289.8 110.65,288.05 111.88,286.3 113.25,284.57 114.65,283.35 115.88,282.82 117.6,282.3 119.35,283.35 121.1,284.05 122.83,283.7 123.75,282.75 126.25,282 128.75,281 131.25,281.5 133.75,282 136.25,281 138.75,282.75 141.25,282 143.75,282.75 146.25,281.5 148.75,282 151.25,282.75" fill="none" stroke="#4B88E4" stroke-width="0.8" stroke-linejoin="round" />
<circle cx="36.25" cy="220.25" r="1.35" fill="#C4D9F8" stroke="#4B88E4" stroke-width="0.95"/>
<circle cx="37" cy="246" r="1.35" fill="#C4D9F8" stroke="#4B88E4" stroke-width="0.95"/>
<circle cx="38.75" cy="254" r="1.35" fill="#C4D9F8" stroke="#4B88E4" stroke-width="0.95"/>
<circle cx="40" cy="260.25" r="1.35" fill="#C4D9F8" stroke="#4B88E4" stroke-width="0.95"/>
<circle cx="41.25" cy="265.25" r="1.35" fill="#C4D9F8" stroke="#4B88E4" stroke-width="0.95"/>
<circle cx="42.5" cy="269.5" r="1.35" fill="#C4D9F8" stroke="#4B88E4" stroke-width="0.95"/>
<circle cx="43.75" cy="274" r="1.35" fill="#C4D9F8" stroke="#4B88E4" stroke-width="0.95"/>
<circle cx="45.5" cy="277.75" r="1.35" fill="#C4D9F8" stroke="#4B88E4" stroke-width="0.95"/>
<circle cx="47.5" cy="281" r="1.35" fill="#C4D9F8" stroke="#4B88E4" stroke-width="0.95"/>
<circle cx="49.5" cy="284.5" r="1.35" fill="#C4D9F8" stroke="#4B88E4" stroke-width="0.95"/>
<circle cx="51.25" cy="286.5" r="1.35" fill="#C4D9F8" stroke="#4B88E4" stroke-width="0.95"/>
<circle cx="53" cy="287.75" r="1.35" fill="#C4D9F8" stroke="#4B88E4" stroke-width="0.95"/>
<circle cx="54.5" cy="290.25" r="1.35" fill="#C4D9F8" stroke="#4B88E4" stroke-width="0.95"/>
<circle cx="56.25" cy="293.5" r="1.35" fill="#C4D9F8" stroke="#4B88E4" stroke-width="0.95"/>
<circle cx="58.75" cy="294.5" r="1.35" fill="#C4D9F8" stroke="#4B88E4" stroke-width="0.95"/>
<circle cx="61.25" cy="293.5" r="1.35" fill="#C4D9F8" stroke="#4B88E4" stroke-width="0.95"/>
<circle cx="63.75" cy="294" r="1.35" fill="#C4D9F8" stroke="#4B88E4" stroke-width="0.95"/>
<circle cx="66.25" cy="295.25" r="1.35" fill="#C4D9F8" stroke="#4B88E4" stroke-width="0.95"/>
<circle cx="68" cy="296.75" r="1.35" fill="#C4D9F8" stroke="#4B88E4" stroke-width="0.95"/>
<circle cx="69.75" cy="296.4" r="1.35" fill="#C4D9F8" stroke="#4B88E4" stroke-width="0.95"/>
<circle cx="71.47" cy="296.75" r="1.35" fill="#C4D9F8" stroke="#4B88E4" stroke-width="0.95"/>
<circle cx="73.22" cy="297.62" r="1.35" fill="#C4D9F8" stroke="#4B88E4" stroke-width="0.95"/>
<circle cx="74.97" cy="298.15" r="1.35" fill="#C4D9F8" stroke="#4B88E4" stroke-width="0.95"/>
<circle cx="76.7" cy="297.27" r="1.35" fill="#C4D9F8" stroke="#4B88E4" stroke-width="0.95"/>
<circle cx="78.45" cy="297.98" r="1.35" fill="#C4D9F8" stroke="#4B88E4" stroke-width="0.95"/>
<circle cx="80.17" cy="298.5" r="1.35" fill="#C4D9F8" stroke="#4B88E4" stroke-width="0.95"/>
<circle cx="81.92" cy="299.02" r="1.35" fill="#C4D9F8" stroke="#4B88E4" stroke-width="0.95"/>
<circle cx="83.67" cy="299.38" r="1.35" fill="#C4D9F8" stroke="#4B88E4" stroke-width="0.95"/>
<circle cx="85.4" cy="299.02" r="1.35" fill="#C4D9F8" stroke="#4B88E4" stroke-width="0.95"/>
<circle cx="87.15" cy="298.5" r="1.35" fill="#C4D9F8" stroke="#4B88E4" stroke-width="0.95"/>
<circle cx="88.9" cy="297.98" r="1.35" fill="#C4D9F8" stroke="#4B88E4" stroke-width="0.95"/>
<circle cx="90.62" cy="297.27" r="1.35" fill="#C4D9F8" stroke="#4B88E4" stroke-width="0.95"/>
<circle cx="92.38" cy="297.62" r="1.35" fill="#C4D9F8" stroke="#4B88E4" stroke-width="0.95"/>
<circle cx="94.1" cy="296.75" r="1.35" fill="#C4D9F8" stroke="#4B88E4" stroke-width="0.95"/>
<circle cx="95.85" cy="296.4" r="1.35" fill="#C4D9F8" stroke="#4B88E4" stroke-width="0.95"/>
<circle cx="97.6" cy="295.88" r="1.35" fill="#C4D9F8" stroke="#4B88E4" stroke-width="0.95"/>
<circle cx="99.33" cy="296.23" r="1.35" fill="#C4D9F8" stroke="#4B88E4" stroke-width="0.95"/>
<circle cx="101.08" cy="295.52" r="1.35" fill="#C4D9F8" stroke="#4B88E4" stroke-width="0.95"/>
<circle cx="102.83" cy="295.02" r="1.35" fill="#C4D9F8" stroke="#4B88E4" stroke-width="0.95"/>
<circle cx="104.55" cy="294.68" r="1.35" fill="#C4D9F8" stroke="#4B88E4" stroke-width="0.95"/>
<circle cx="106.3" cy="294.5" r="1.35" fill="#C4D9F8" stroke="#4B88E4" stroke-width="0.95"/>
<circle cx="108.03" cy="293.27" r="1.35" fill="#C4D9F8" stroke="#4B88E4" stroke-width="0.95"/>
<circle cx="109.42" cy="289.8" r="1.35" fill="#C4D9F8" stroke="#4B88E4" stroke-width="0.95"/>
<circle cx="110.65" cy="288.05" r="1.35" fill="#C4D9F8" stroke="#4B88E4" stroke-width="0.95"/>
<circle cx="111.88" cy="286.3" r="1.35" fill="#C4D9F8" stroke="#4B88E4" stroke-width="0.95"/>
<circle cx="113.25" cy="284.57" r="1.35" fill="#C4D9F8" stroke="#4B88E4" stroke-width="0.95"/>
<circle cx="114.65" cy="283.35" r="1.35" fill="#C4D9F8" stroke="#4B88E4" stroke-width="0.95"/>
<circle cx="115.88" cy="282.82" r="1.35" fill="#C4D9F8" stroke="#4B88E4" stroke-width="0.95"/>
<circle cx="117.6" cy="282.3" r="1.35" fill="#C4D9F8" stroke="#4B88E4" stroke-width="0.95"/>
<circle cx="119.35" cy="283.35" r="1.35" fill="#C4D9F8" stroke="#4B88E4" stroke-width="0.95"/>
<circle cx="121.1" cy="284.05" r="1.35" fill="#C4D9F8" stroke="#4B88E4" stroke-width="0.95"/>
<circle cx="122.83" cy="283.7" r="1.35" fill="#C4D9F8" stroke="#4B88E4" stroke-width="0.95"/>
<circle cx="123.75" cy="282.75" r="1.35" fill="#C4D9F8" stroke="#4B88E4" stroke-width="0.95"/>
<circle cx="126.25" cy="282" r="1.35" fill="#C4D9F8" stroke="#4B88E4" stroke-width="0.95"/>
<circle cx="128.75" cy="281" r="1.35" fill="#C4D9F8" stroke="#4B88E4" stroke-width="0.95"/>
<circle cx="131.25" cy="281.5" r="1.35" fill="#C4D9F8" stroke="#4B88E4" stroke-width="0.95"/>
<circle cx="133.75" cy="282" r="1.35" fill="#C4D9F8" stroke="#4B88E4" stroke-width="0.95"/>
<circle cx="136.25" cy="281" r="1.35" fill="#C4D9F8" stroke="#4B88E4" stroke-width="0.95"/>
<circle cx="138.75" cy="282.75" r="1.35" fill="#C4D9F8" stroke="#4B88E4" stroke-width="0.95"/>
<circle cx="141.25" cy="282" r="1.35" fill="#C4D9F8" stroke="#4B88E4" stroke-width="0.95"/>
<circle cx="143.75" cy="282.75" r="1.35" fill="#C4D9F8" stroke="#4B88E4" stroke-width="0.95"/>
<circle cx="146.25" cy="281.5" r="1.35" fill="#C4D9F8" stroke="#4B88E4" stroke-width="0.95"/>
<circle cx="148.75" cy="282" r="1.35" fill="#C4D9F8" stroke="#4B88E4" stroke-width="0.95"/>
<circle cx="151.25" cy="282.75" r="1.35" fill="#C4D9F8" stroke="#4B88E4" stroke-width="0.95"/>
</g></svg>
<svg x="33.6" y="328.2" width="119" height="107.4" overflow="hidden"><g transform="translate(-33.6,-328.2)">
<polyline points="34.5,417.25 36.25,414.75 38.75,415.5 41.25,415.5 43.75,416.5 46.25,415.5 48.75,416.5 51.25,415.5 53.75,416 56.25,415.5 58.75,416 60.5,415.5 62.5,413.5 65,412.25 67,409.75 68.75,407.25 70.5,404.75 72.5,399.75 73.75,394.75 75.5,387.25 77,383.5 78,374.75 79.5,378.5 81.25,374.75 83,363.5 84.5,353.5 85.5,344.75 87.5,346 90,344.75 92.5,345.5 95,344 97.5,346 100,343.5 102.5,345.5 105,341.5 107.5,344.75 110,343.5 112.5,346 115,344.75 117.5,344 120,345.5 122.5,342.25 125,344.75 127.5,346 130,345.5 132.5,346 135,345.5 137.5,346 140,344.75 142.5,345.5 145,344.75 147.5,344 150,344.75" fill="none" stroke="#F5862F" stroke-width="0.85" stroke-linejoin="round" />
<circle cx="34.5" cy="417.25" r="1.3" fill="#FFF0E4" stroke="#F5862F" stroke-width="0.95"/>
<circle cx="36.25" cy="414.75" r="1.3" fill="#FFF0E4" stroke="#F5862F" stroke-width="0.95"/>
<circle cx="38.75" cy="415.5" r="1.3" fill="#FFF0E4" stroke="#F5862F" stroke-width="0.95"/>
<circle cx="41.25" cy="415.5" r="1.3" fill="#FFF0E4" stroke="#F5862F" stroke-width="0.95"/>
<circle cx="43.75" cy="416.5" r="1.3" fill="#FFF0E4" stroke="#F5862F" stroke-width="0.95"/>
<circle cx="46.25" cy="415.5" r="1.3" fill="#FFF0E4" stroke="#F5862F" stroke-width="0.95"/>
<circle cx="48.75" cy="416.5" r="1.3" fill="#FFF0E4" stroke="#F5862F" stroke-width="0.95"/>
<circle cx="51.25" cy="415.5" r="1.3" fill="#FFF0E4" stroke="#F5862F" stroke-width="0.95"/>
<circle cx="53.75" cy="416" r="1.3" fill="#FFF0E4" stroke="#F5862F" stroke-width="0.95"/>
<circle cx="56.25" cy="415.5" r="1.3" fill="#FFF0E4" stroke="#F5862F" stroke-width="0.95"/>
<circle cx="58.75" cy="416" r="1.3" fill="#FFF0E4" stroke="#F5862F" stroke-width="0.95"/>
<circle cx="60.5" cy="415.5" r="1.3" fill="#FFF0E4" stroke="#F5862F" stroke-width="0.95"/>
<circle cx="62.5" cy="413.5" r="1.3" fill="#FFF0E4" stroke="#F5862F" stroke-width="0.95"/>
<circle cx="65" cy="412.25" r="1.3" fill="#FFF0E4" stroke="#F5862F" stroke-width="0.95"/>
<circle cx="67" cy="409.75" r="1.3" fill="#FFF0E4" stroke="#F5862F" stroke-width="0.95"/>
<circle cx="68.75" cy="407.25" r="1.3" fill="#FFF0E4" stroke="#F5862F" stroke-width="0.95"/>
<circle cx="70.5" cy="404.75" r="1.3" fill="#FFF0E4" stroke="#F5862F" stroke-width="0.95"/>
<circle cx="72.5" cy="399.75" r="1.3" fill="#FFF0E4" stroke="#F5862F" stroke-width="0.95"/>
<circle cx="73.75" cy="394.75" r="1.3" fill="#FFF0E4" stroke="#F5862F" stroke-width="0.95"/>
<circle cx="75.5" cy="387.25" r="1.3" fill="#FFF0E4" stroke="#F5862F" stroke-width="0.95"/>
<circle cx="77" cy="383.5" r="1.3" fill="#FFF0E4" stroke="#F5862F" stroke-width="0.95"/>
<circle cx="78" cy="374.75" r="1.3" fill="#FFF0E4" stroke="#F5862F" stroke-width="0.95"/>
<circle cx="79.5" cy="378.5" r="1.3" fill="#FFF0E4" stroke="#F5862F" stroke-width="0.95"/>
<circle cx="81.25" cy="374.75" r="1.3" fill="#FFF0E4" stroke="#F5862F" stroke-width="0.95"/>
<circle cx="83" cy="363.5" r="1.3" fill="#FFF0E4" stroke="#F5862F" stroke-width="0.95"/>
<circle cx="84.5" cy="353.5" r="1.3" fill="#FFF0E4" stroke="#F5862F" stroke-width="0.95"/>
<circle cx="85.5" cy="344.75" r="1.3" fill="#FFF0E4" stroke="#F5862F" stroke-width="0.95"/>
<circle cx="87.5" cy="346" r="1.3" fill="#FFF0E4" stroke="#F5862F" stroke-width="0.95"/>
<circle cx="90" cy="344.75" r="1.3" fill="#FFF0E4" stroke="#F5862F" stroke-width="0.95"/>
<circle cx="92.5" cy="345.5" r="1.3" fill="#FFF0E4" stroke="#F5862F" stroke-width="0.95"/>
<circle cx="95" cy="344" r="1.3" fill="#FFF0E4" stroke="#F5862F" stroke-width="0.95"/>
<circle cx="97.5" cy="346" r="1.3" fill="#FFF0E4" stroke="#F5862F" stroke-width="0.95"/>
<circle cx="100" cy="343.5" r="1.3" fill="#FFF0E4" stroke="#F5862F" stroke-width="0.95"/>
<circle cx="102.5" cy="345.5" r="1.3" fill="#FFF0E4" stroke="#F5862F" stroke-width="0.95"/>
<circle cx="105" cy="341.5" r="1.3" fill="#FFF0E4" stroke="#F5862F" stroke-width="0.95"/>
<circle cx="107.5" cy="344.75" r="1.3" fill="#FFF0E4" stroke="#F5862F" stroke-width="0.95"/>
<circle cx="110" cy="343.5" r="1.3" fill="#FFF0E4" stroke="#F5862F" stroke-width="0.95"/>
<circle cx="112.5" cy="346" r="1.3" fill="#FFF0E4" stroke="#F5862F" stroke-width="0.95"/>
<circle cx="115" cy="344.75" r="1.3" fill="#FFF0E4" stroke="#F5862F" stroke-width="0.95"/>
<circle cx="117.5" cy="344" r="1.3" fill="#FFF0E4" stroke="#F5862F" stroke-width="0.95"/>
<circle cx="120" cy="345.5" r="1.3" fill="#FFF0E4" stroke="#F5862F" stroke-width="0.95"/>
<circle cx="122.5" cy="342.25" r="1.3" fill="#FFF0E4" stroke="#F5862F" stroke-width="0.95"/>
<circle cx="125" cy="344.75" r="1.3" fill="#FFF0E4" stroke="#F5862F" stroke-width="0.95"/>
<circle cx="127.5" cy="346" r="1.3" fill="#FFF0E4" stroke="#F5862F" stroke-width="0.95"/>
<circle cx="130" cy="345.5" r="1.3" fill="#FFF0E4" stroke="#F5862F" stroke-width="0.95"/>
<circle cx="132.5" cy="346" r="1.3" fill="#FFF0E4" stroke="#F5862F" stroke-width="0.95"/>
<circle cx="135" cy="345.5" r="1.3" fill="#FFF0E4" stroke="#F5862F" stroke-width="0.95"/>
<circle cx="137.5" cy="346" r="1.3" fill="#FFF0E4" stroke="#F5862F" stroke-width="0.95"/>
<circle cx="140" cy="344.75" r="1.3" fill="#FFF0E4" stroke="#F5862F" stroke-width="0.95"/>
<circle cx="142.5" cy="345.5" r="1.3" fill="#FFF0E4" stroke="#F5862F" stroke-width="0.95"/>
<circle cx="145" cy="344.75" r="1.3" fill="#FFF0E4" stroke="#F5862F" stroke-width="0.95"/>
<circle cx="147.5" cy="344" r="1.3" fill="#FFF0E4" stroke="#F5862F" stroke-width="0.95"/>
<circle cx="150" cy="344.75" r="1.3" fill="#FFF0E4" stroke="#F5862F" stroke-width="0.95"/>
<polyline points="36.4,326.2 37,331 37.5,345.5 39.5,367.25 41.25,379 43,385.5 44.5,388.5 46.25,391.5 48,394 50,396 52.5,397.25 55,398.5 57.5,399.75 60,400.5 62.5,401 65,402.25 67.5,403 70,403.5 72.5,404 75,403.5 77.5,402.25 80,400.5 82.5,398 84.5,394.75 86.25,392.25 88.75,391 91.25,390.5 95,390.5 98.75,389.75 102.5,390 106.25,389.75 110,389.75 113.75,389 117.5,389.75 121.25,389.25 125,388.5 128.75,389.75 132.5,390 136.25,389.75 140,389.25 143.75,389.75 147.5,389.75 151.25,389" fill="none" stroke="#4B88E4" stroke-width="0.8" stroke-linejoin="round" />
<circle cx="37" cy="331" r="1.35" fill="#C4D9F8" stroke="#4B88E4" stroke-width="0.95"/>
<circle cx="37.5" cy="345.5" r="1.35" fill="#C4D9F8" stroke="#4B88E4" stroke-width="0.95"/>
<circle cx="39.5" cy="367.25" r="1.35" fill="#C4D9F8" stroke="#4B88E4" stroke-width="0.95"/>
<circle cx="41.25" cy="379" r="1.35" fill="#C4D9F8" stroke="#4B88E4" stroke-width="0.95"/>
<circle cx="43" cy="385.5" r="1.35" fill="#C4D9F8" stroke="#4B88E4" stroke-width="0.95"/>
<circle cx="44.5" cy="388.5" r="1.35" fill="#C4D9F8" stroke="#4B88E4" stroke-width="0.95"/>
<circle cx="46.25" cy="391.5" r="1.35" fill="#C4D9F8" stroke="#4B88E4" stroke-width="0.95"/>
<circle cx="48" cy="394" r="1.35" fill="#C4D9F8" stroke="#4B88E4" stroke-width="0.95"/>
<circle cx="50" cy="396" r="1.35" fill="#C4D9F8" stroke="#4B88E4" stroke-width="0.95"/>
<circle cx="52.5" cy="397.25" r="1.35" fill="#C4D9F8" stroke="#4B88E4" stroke-width="0.95"/>
<circle cx="55" cy="398.5" r="1.35" fill="#C4D9F8" stroke="#4B88E4" stroke-width="0.95"/>
<circle cx="57.5" cy="399.75" r="1.35" fill="#C4D9F8" stroke="#4B88E4" stroke-width="0.95"/>
<circle cx="60" cy="400.5" r="1.35" fill="#C4D9F8" stroke="#4B88E4" stroke-width="0.95"/>
<circle cx="62.5" cy="401" r="1.35" fill="#C4D9F8" stroke="#4B88E4" stroke-width="0.95"/>
<circle cx="65" cy="402.25" r="1.35" fill="#C4D9F8" stroke="#4B88E4" stroke-width="0.95"/>
<circle cx="67.5" cy="403" r="1.35" fill="#C4D9F8" stroke="#4B88E4" stroke-width="0.95"/>
<circle cx="70" cy="403.5" r="1.35" fill="#C4D9F8" stroke="#4B88E4" stroke-width="0.95"/>
<circle cx="72.5" cy="404" r="1.35" fill="#C4D9F8" stroke="#4B88E4" stroke-width="0.95"/>
<circle cx="75" cy="403.5" r="1.35" fill="#C4D9F8" stroke="#4B88E4" stroke-width="0.95"/>
<circle cx="77.5" cy="402.25" r="1.35" fill="#C4D9F8" stroke="#4B88E4" stroke-width="0.95"/>
<circle cx="80" cy="400.5" r="1.35" fill="#C4D9F8" stroke="#4B88E4" stroke-width="0.95"/>
<circle cx="82.5" cy="398" r="1.35" fill="#C4D9F8" stroke="#4B88E4" stroke-width="0.95"/>
<circle cx="84.5" cy="394.75" r="1.35" fill="#C4D9F8" stroke="#4B88E4" stroke-width="0.95"/>
<circle cx="86.25" cy="392.25" r="1.35" fill="#C4D9F8" stroke="#4B88E4" stroke-width="0.95"/>
<circle cx="88.75" cy="391" r="1.35" fill="#C4D9F8" stroke="#4B88E4" stroke-width="0.95"/>
<circle cx="91.25" cy="390.5" r="1.35" fill="#C4D9F8" stroke="#4B88E4" stroke-width="0.95"/>
<circle cx="95" cy="390.5" r="1.35" fill="#C4D9F8" stroke="#4B88E4" stroke-width="0.95"/>
<circle cx="98.75" cy="389.75" r="1.35" fill="#C4D9F8" stroke="#4B88E4" stroke-width="0.95"/>
<circle cx="102.5" cy="390" r="1.35" fill="#C4D9F8" stroke="#4B88E4" stroke-width="0.95"/>
<circle cx="106.25" cy="389.75" r="1.35" fill="#C4D9F8" stroke="#4B88E4" stroke-width="0.95"/>
<circle cx="110" cy="389.75" r="1.35" fill="#C4D9F8" stroke="#4B88E4" stroke-width="0.95"/>
<circle cx="113.75" cy="389" r="1.35" fill="#C4D9F8" stroke="#4B88E4" stroke-width="0.95"/>
<circle cx="117.5" cy="389.75" r="1.35" fill="#C4D9F8" stroke="#4B88E4" stroke-width="0.95"/>
<circle cx="121.25" cy="389.25" r="1.35" fill="#C4D9F8" stroke="#4B88E4" stroke-width="0.95"/>
<circle cx="125" cy="388.5" r="1.35" fill="#C4D9F8" stroke="#4B88E4" stroke-width="0.95"/>
<circle cx="128.75" cy="389.75" r="1.35" fill="#C4D9F8" stroke="#4B88E4" stroke-width="0.95"/>
<circle cx="132.5" cy="390" r="1.35" fill="#C4D9F8" stroke="#4B88E4" stroke-width="0.95"/>
<circle cx="136.25" cy="389.75" r="1.35" fill="#C4D9F8" stroke="#4B88E4" stroke-width="0.95"/>
<circle cx="140" cy="389.25" r="1.35" fill="#C4D9F8" stroke="#4B88E4" stroke-width="0.95"/>
<circle cx="143.75" cy="389.75" r="1.35" fill="#C4D9F8" stroke="#4B88E4" stroke-width="0.95"/>
<circle cx="147.5" cy="389.75" r="1.35" fill="#C4D9F8" stroke="#4B88E4" stroke-width="0.95"/>
<circle cx="151.25" cy="389" r="1.35" fill="#C4D9F8" stroke="#4B88E4" stroke-width="0.95"/>
</g></svg>
<line x1="33.6" y1="6" x2="33.6" y2="435.6" stroke="#F7A26C" stroke-width="1.1" />
<line x1="152.6" y1="6" x2="152.6" y2="435.6" stroke="#6C9EEA" stroke-width="1.1" />
<line x1="33.6" y1="6.3" x2="152.6" y2="6.3" stroke="#222" stroke-width="1.1" />
<line x1="33.6" y1="113.7" x2="152.6" y2="113.7" stroke="#222" stroke-width="1.1" />
<line x1="33.6" y1="221.1" x2="152.6" y2="221.1" stroke="#222" stroke-width="1.1" />
<line x1="33.6" y1="328.5" x2="152.6" y2="328.5" stroke="#222" stroke-width="1.1" />
<line x1="33.6" y1="435.9" x2="152.6" y2="435.9" stroke="#222" stroke-width="1.1" />
<line x1="33.6" y1="113.4" x2="33.6" y2="115.6" stroke="#222" stroke-width="0.8" />
<line x1="45.5" y1="113.4" x2="45.5" y2="115" stroke="#222" stroke-width="0.8" />
<line x1="57.4" y1="113.4" x2="57.4" y2="115.6" stroke="#222" stroke-width="0.8" />
<line x1="69.3" y1="113.4" x2="69.3" y2="115" stroke="#222" stroke-width="0.8" />
<line x1="81.2" y1="113.4" x2="81.2" y2="115.6" stroke="#222" stroke-width="0.8" />
<line x1="93.1" y1="113.4" x2="93.1" y2="115" stroke="#222" stroke-width="0.8" />
<line x1="105" y1="113.4" x2="105" y2="115.6" stroke="#222" stroke-width="0.8" />
<line x1="116.9" y1="113.4" x2="116.9" y2="115" stroke="#222" stroke-width="0.8" />
<line x1="128.8" y1="113.4" x2="128.8" y2="115.6" stroke="#222" stroke-width="0.8" />
<line x1="140.7" y1="113.4" x2="140.7" y2="115" stroke="#222" stroke-width="0.8" />
<line x1="152.6" y1="113.4" x2="152.6" y2="115.6" stroke="#222" stroke-width="0.8" />
<line x1="33.6" y1="220.8" x2="33.6" y2="223" stroke="#222" stroke-width="0.8" />
<line x1="45.5" y1="220.8" x2="45.5" y2="222.4" stroke="#222" stroke-width="0.8" />
<line x1="57.4" y1="220.8" x2="57.4" y2="223" stroke="#222" stroke-width="0.8" />
<line x1="69.3" y1="220.8" x2="69.3" y2="222.4" stroke="#222" stroke-width="0.8" />
<line x1="81.2" y1="220.8" x2="81.2" y2="223" stroke="#222" stroke-width="0.8" />
<line x1="93.1" y1="220.8" x2="93.1" y2="222.4" stroke="#222" stroke-width="0.8" />
<line x1="105" y1="220.8" x2="105" y2="223" stroke="#222" stroke-width="0.8" />
<line x1="116.9" y1="220.8" x2="116.9" y2="222.4" stroke="#222" stroke-width="0.8" />
<line x1="128.8" y1="220.8" x2="128.8" y2="223" stroke="#222" stroke-width="0.8" />
<line x1="140.7" y1="220.8" x2="140.7" y2="222.4" stroke="#222" stroke-width="0.8" />
<line x1="152.6" y1="220.8" x2="152.6" y2="223" stroke="#222" stroke-width="0.8" />
<line x1="33.6" y1="328.2" x2="33.6" y2="330.4" stroke="#222" stroke-width="0.8" />
<line x1="45.5" y1="328.2" x2="45.5" y2="329.8" stroke="#222" stroke-width="0.8" />
<line x1="57.4" y1="328.2" x2="57.4" y2="330.4" stroke="#222" stroke-width="0.8" />
<line x1="69.3" y1="328.2" x2="69.3" y2="329.8" stroke="#222" stroke-width="0.8" />
<line x1="81.2" y1="328.2" x2="81.2" y2="330.4" stroke="#222" stroke-width="0.8" />
<line x1="93.1" y1="328.2" x2="93.1" y2="329.8" stroke="#222" stroke-width="0.8" />
<line x1="105" y1="328.2" x2="105" y2="330.4" stroke="#222" stroke-width="0.8" />
<line x1="116.9" y1="328.2" x2="116.9" y2="329.8" stroke="#222" stroke-width="0.8" />
<line x1="128.8" y1="328.2" x2="128.8" y2="330.4" stroke="#222" stroke-width="0.8" />
<line x1="140.7" y1="328.2" x2="140.7" y2="329.8" stroke="#222" stroke-width="0.8" />
<line x1="152.6" y1="328.2" x2="152.6" y2="330.4" stroke="#222" stroke-width="0.8" />
<line x1="33.6" y1="435.6" x2="33.6" y2="437.8" stroke="#222" stroke-width="0.8" />
<line x1="45.5" y1="435.6" x2="45.5" y2="437.2" stroke="#222" stroke-width="0.8" />
<line x1="57.4" y1="435.6" x2="57.4" y2="437.8" stroke="#222" stroke-width="0.8" />
<line x1="69.3" y1="435.6" x2="69.3" y2="437.2" stroke="#222" stroke-width="0.8" />
<line x1="81.2" y1="435.6" x2="81.2" y2="437.8" stroke="#222" stroke-width="0.8" />
<line x1="93.1" y1="435.6" x2="93.1" y2="437.2" stroke="#222" stroke-width="0.8" />
<line x1="105" y1="435.6" x2="105" y2="437.8" stroke="#222" stroke-width="0.8" />
<line x1="116.9" y1="435.6" x2="116.9" y2="437.2" stroke="#222" stroke-width="0.8" />
<line x1="128.8" y1="435.6" x2="128.8" y2="437.8" stroke="#222" stroke-width="0.8" />
<line x1="140.7" y1="435.6" x2="140.7" y2="437.2" stroke="#222" stroke-width="0.8" />
<line x1="152.6" y1="435.6" x2="152.6" y2="437.8" stroke="#222" stroke-width="0.8" />
<text x="33.6" y="445.63" font-size="9.5" fill="#222" text-anchor="middle" >0.0</text>
<text x="57.4" y="445.63" font-size="9.5" fill="#222" text-anchor="middle" >0.5</text>
<text x="81.2" y="445.63" font-size="9.5" fill="#222" text-anchor="middle" >1.0</text>
<text x="105" y="445.63" font-size="9.5" fill="#222" text-anchor="middle" >1.5</text>
<text x="128.8" y="445.63" font-size="9.5" fill="#222" text-anchor="middle" >2.0</text>
<text x="152.6" y="445.63" font-size="9.5" fill="#222" text-anchor="middle" >2.5</text>
<text x="93.4" y="457.53" font-size="9.5" fill="#222" text-anchor="middle" >Time (s)</text>
<line x1="31.4" y1="6" x2="33.6" y2="6" stroke="#F7A26C" stroke-width="0.8" />
<text x="30.3" y="9.13" font-size="9.5" fill="#F7A26C" text-anchor="end" >800</text>
<line x1="31.4" y1="27.65" x2="33.6" y2="27.65" stroke="#F7A26C" stroke-width="0.8" />
<text x="30.3" y="30.79" font-size="9.5" fill="#F7A26C" text-anchor="end" >780</text>
<line x1="31.4" y1="49.3" x2="33.6" y2="49.3" stroke="#F7A26C" stroke-width="0.8" />
<text x="30.3" y="52.43" font-size="9.5" fill="#F7A26C" text-anchor="end" >760</text>
<line x1="31.4" y1="70.95" x2="33.6" y2="70.95" stroke="#F7A26C" stroke-width="0.8" />
<text x="30.3" y="74.09" font-size="9.5" fill="#F7A26C" text-anchor="end" >740</text>
<line x1="31.4" y1="92.6" x2="33.6" y2="92.6" stroke="#F7A26C" stroke-width="0.8" />
<text x="30.3" y="95.73" font-size="9.5" fill="#F7A26C" text-anchor="end" >720</text>
<line x1="32.2" y1="16.82" x2="33.6" y2="16.82" stroke="#F7A26C" stroke-width="0.7" />
<line x1="32.2" y1="38.48" x2="33.6" y2="38.48" stroke="#F7A26C" stroke-width="0.7" />
<line x1="32.2" y1="60.12" x2="33.6" y2="60.12" stroke="#F7A26C" stroke-width="0.7" />
<line x1="32.2" y1="81.78" x2="33.6" y2="81.78" stroke="#F7A26C" stroke-width="0.7" />
<line x1="32.2" y1="103.42" x2="33.6" y2="103.42" stroke="#F7A26C" stroke-width="0.7" />
<text x="7.8" y="62.84" font-size="9.5" fill="#222" text-anchor="middle" transform="rotate(-90 7.8 59.7)" >Location (nm)</text>
<line x1="152.6" y1="15.4" x2="154.8" y2="15.4" stroke="#6C9EEA" stroke-width="0.8" />
<text x="156.3" y="18.54" font-size="9.5" fill="#6C9EEA" text-anchor="start" >1.2</text>
<line x1="152.6" y1="43.3" x2="154.8" y2="43.3" stroke="#6C9EEA" stroke-width="0.8" />
<text x="156.3" y="46.43" font-size="9.5" fill="#6C9EEA" text-anchor="start" >0.9</text>
<line x1="152.6" y1="71.2" x2="154.8" y2="71.2" stroke="#6C9EEA" stroke-width="0.8" />
<text x="156.3" y="74.34" font-size="9.5" fill="#6C9EEA" text-anchor="start" >0.6</text>
<line x1="152.6" y1="99.1" x2="154.8" y2="99.1" stroke="#6C9EEA" stroke-width="0.8" />
<text x="156.3" y="102.23" font-size="9.5" fill="#6C9EEA" text-anchor="start" >0.3</text>
<line x1="152.6" y1="29.35" x2="154" y2="29.35" stroke="#6C9EEA" stroke-width="0.7" />
<line x1="152.6" y1="57.25" x2="154" y2="57.25" stroke="#6C9EEA" stroke-width="0.7" />
<line x1="152.6" y1="85.15" x2="154" y2="85.15" stroke="#6C9EEA" stroke-width="0.7" />
<text x="175" y="62.84" font-size="9.5" fill="#6C9EEA" text-anchor="middle" transform="rotate(-90 175 59.7)" >Intensity (a.u.)</text>
<line x1="31.4" y1="113.4" x2="33.6" y2="113.4" stroke="#F7A26C" stroke-width="0.8" />
<text x="30.3" y="116.54" font-size="9.5" fill="#F7A26C" text-anchor="end" >800</text>
<line x1="31.4" y1="135.05" x2="33.6" y2="135.05" stroke="#F7A26C" stroke-width="0.8" />
<text x="30.3" y="138.19" font-size="9.5" fill="#F7A26C" text-anchor="end" >780</text>
<line x1="31.4" y1="156.7" x2="33.6" y2="156.7" stroke="#F7A26C" stroke-width="0.8" />
<text x="30.3" y="159.83" font-size="9.5" fill="#F7A26C" text-anchor="end" >760</text>
<line x1="31.4" y1="178.35" x2="33.6" y2="178.35" stroke="#F7A26C" stroke-width="0.8" />
<text x="30.3" y="181.49" font-size="9.5" fill="#F7A26C" text-anchor="end" >740</text>
<line x1="31.4" y1="200" x2="33.6" y2="200" stroke="#F7A26C" stroke-width="0.8" />
<text x="30.3" y="203.13" font-size="9.5" fill="#F7A26C" text-anchor="end" >720</text>
<line x1="32.2" y1="124.23" x2="33.6" y2="124.23" stroke="#F7A26C" stroke-width="0.7" />
<line x1="32.2" y1="145.88" x2="33.6" y2="145.88" stroke="#F7A26C" stroke-width="0.7" />
<line x1="32.2" y1="167.53" x2="33.6" y2="167.53" stroke="#F7A26C" stroke-width="0.7" />
<line x1="32.2" y1="189.18" x2="33.6" y2="189.18" stroke="#F7A26C" stroke-width="0.7" />
<line x1="32.2" y1="210.82" x2="33.6" y2="210.82" stroke="#F7A26C" stroke-width="0.7" />
<text x="7.8" y="170.24" font-size="9.5" fill="#222" text-anchor="middle" transform="rotate(-90 7.8 167.1)" >Location (nm)</text>
<line x1="152.6" y1="122.8" x2="154.8" y2="122.8" stroke="#6C9EEA" stroke-width="0.8" />
<text x="156.3" y="125.94" font-size="9.5" fill="#6C9EEA" text-anchor="start" >1.2</text>
<line x1="152.6" y1="150.7" x2="154.8" y2="150.7" stroke="#6C9EEA" stroke-width="0.8" />
<text x="156.3" y="153.84" font-size="9.5" fill="#6C9EEA" text-anchor="start" >0.9</text>
<line x1="152.6" y1="178.6" x2="154.8" y2="178.6" stroke="#6C9EEA" stroke-width="0.8" />
<text x="156.3" y="181.74" font-size="9.5" fill="#6C9EEA" text-anchor="start" >0.6</text>
<line x1="152.6" y1="206.5" x2="154.8" y2="206.5" stroke="#6C9EEA" stroke-width="0.8" />
<text x="156.3" y="209.63" font-size="9.5" fill="#6C9EEA" text-anchor="start" >0.3</text>
<line x1="152.6" y1="136.75" x2="154" y2="136.75" stroke="#6C9EEA" stroke-width="0.7" />
<line x1="152.6" y1="164.65" x2="154" y2="164.65" stroke="#6C9EEA" stroke-width="0.7" />
<line x1="152.6" y1="192.55" x2="154" y2="192.55" stroke="#6C9EEA" stroke-width="0.7" />
<text x="175" y="170.24" font-size="9.5" fill="#6C9EEA" text-anchor="middle" transform="rotate(-90 175 167.1)" >Intensity (a.u.)</text>
<line x1="31.4" y1="220.8" x2="33.6" y2="220.8" stroke="#F7A26C" stroke-width="0.8" />
<text x="30.3" y="223.94" font-size="9.5" fill="#F7A26C" text-anchor="end" >800</text>
<line x1="31.4" y1="242.45" x2="33.6" y2="242.45" stroke="#F7A26C" stroke-width="0.8" />
<text x="30.3" y="245.59" font-size="9.5" fill="#F7A26C" text-anchor="end" >780</text>
<line x1="31.4" y1="264.1" x2="33.6" y2="264.1" stroke="#F7A26C" stroke-width="0.8" />
<text x="30.3" y="267.24" font-size="9.5" fill="#F7A26C" text-anchor="end" >760</text>
<line x1="31.4" y1="285.75" x2="33.6" y2="285.75" stroke="#F7A26C" stroke-width="0.8" />
<text x="30.3" y="288.88" font-size="9.5" fill="#F7A26C" text-anchor="end" >740</text>
<line x1="31.4" y1="307.4" x2="33.6" y2="307.4" stroke="#F7A26C" stroke-width="0.8" />
<text x="30.3" y="310.53" font-size="9.5" fill="#F7A26C" text-anchor="end" >720</text>
<line x1="32.2" y1="231.62" x2="33.6" y2="231.62" stroke="#F7A26C" stroke-width="0.7" />
<line x1="32.2" y1="253.28" x2="33.6" y2="253.28" stroke="#F7A26C" stroke-width="0.7" />
<line x1="32.2" y1="274.93" x2="33.6" y2="274.93" stroke="#F7A26C" stroke-width="0.7" />
<line x1="32.2" y1="296.58" x2="33.6" y2="296.58" stroke="#F7A26C" stroke-width="0.7" />
<line x1="32.2" y1="318.23" x2="33.6" y2="318.23" stroke="#F7A26C" stroke-width="0.7" />
<text x="7.8" y="277.63" font-size="9.5" fill="#222" text-anchor="middle" transform="rotate(-90 7.8 274.5)" >Location (nm)</text>
<line x1="152.6" y1="230.2" x2="154.8" y2="230.2" stroke="#6C9EEA" stroke-width="0.8" />
<text x="156.3" y="233.34" font-size="9.5" fill="#6C9EEA" text-anchor="start" >1.2</text>
<line x1="152.6" y1="258.1" x2="154.8" y2="258.1" stroke="#6C9EEA" stroke-width="0.8" />
<text x="156.3" y="261.24" font-size="9.5" fill="#6C9EEA" text-anchor="start" >0.9</text>
<line x1="152.6" y1="286" x2="154.8" y2="286" stroke="#6C9EEA" stroke-width="0.8" />
<text x="156.3" y="289.13" font-size="9.5" fill="#6C9EEA" text-anchor="start" >0.6</text>
<line x1="152.6" y1="313.9" x2="154.8" y2="313.9" stroke="#6C9EEA" stroke-width="0.8" />
<text x="156.3" y="317.03" font-size="9.5" fill="#6C9EEA" text-anchor="start" >0.3</text>
<line x1="152.6" y1="244.15" x2="154" y2="244.15" stroke="#6C9EEA" stroke-width="0.7" />
<line x1="152.6" y1="272.05" x2="154" y2="272.05" stroke="#6C9EEA" stroke-width="0.7" />
<line x1="152.6" y1="299.95" x2="154" y2="299.95" stroke="#6C9EEA" stroke-width="0.7" />
<text x="175" y="277.63" font-size="9.5" fill="#6C9EEA" text-anchor="middle" transform="rotate(-90 175 274.5)" >Intensity (a.u.)</text>
<line x1="31.4" y1="328.2" x2="33.6" y2="328.2" stroke="#F7A26C" stroke-width="0.8" />
<text x="30.3" y="331.33" font-size="9.5" fill="#F7A26C" text-anchor="end" >800</text>
<line x1="31.4" y1="349.6" x2="33.6" y2="349.6" stroke="#F7A26C" stroke-width="0.8" />
<text x="30.3" y="352.73" font-size="9.5" fill="#F7A26C" text-anchor="end" >780</text>
<line x1="31.4" y1="371" x2="33.6" y2="371" stroke="#F7A26C" stroke-width="0.8" />
<text x="30.3" y="374.13" font-size="9.5" fill="#F7A26C" text-anchor="end" >760</text>
<line x1="31.4" y1="392.4" x2="33.6" y2="392.4" stroke="#F7A26C" stroke-width="0.8" />
<text x="30.3" y="395.53" font-size="9.5" fill="#F7A26C" text-anchor="end" >740</text>
<line x1="31.4" y1="413.8" x2="33.6" y2="413.8" stroke="#F7A26C" stroke-width="0.8" />
<text x="30.3" y="416.93" font-size="9.5" fill="#F7A26C" text-anchor="end" >720</text>
<line x1="31.4" y1="435.2" x2="33.6" y2="435.2" stroke="#F7A26C" stroke-width="0.8" />
<text x="30.3" y="438.33" font-size="9.5" fill="#F7A26C" text-anchor="end" >700</text>
<line x1="32.2" y1="338.9" x2="33.6" y2="338.9" stroke="#F7A26C" stroke-width="0.7" />
<line x1="32.2" y1="360.3" x2="33.6" y2="360.3" stroke="#F7A26C" stroke-width="0.7" />
<line x1="32.2" y1="381.7" x2="33.6" y2="381.7" stroke="#F7A26C" stroke-width="0.7" />
<line x1="32.2" y1="403.1" x2="33.6" y2="403.1" stroke="#F7A26C" stroke-width="0.7" />
<line x1="32.2" y1="424.5" x2="33.6" y2="424.5" stroke="#F7A26C" stroke-width="0.7" />
<text x="7.8" y="385.03" font-size="9.5" fill="#222" text-anchor="middle" transform="rotate(-90 7.8 381.9)" >Location (nm)</text>
<line x1="152.6" y1="343.6" x2="154.8" y2="343.6" stroke="#6C9EEA" stroke-width="0.8" />
<text x="156.3" y="346.73" font-size="9.5" fill="#6C9EEA" text-anchor="start" >0.6</text>
<line x1="152.6" y1="374.1" x2="154.8" y2="374.1" stroke="#6C9EEA" stroke-width="0.8" />
<text x="156.3" y="377.23" font-size="9.5" fill="#6C9EEA" text-anchor="start" >0.4</text>
<line x1="152.6" y1="404.6" x2="154.8" y2="404.6" stroke="#6C9EEA" stroke-width="0.8" />
<text x="156.3" y="407.73" font-size="9.5" fill="#6C9EEA" text-anchor="start" >0.2</text>
<line x1="152.6" y1="435.1" x2="154.8" y2="435.1" stroke="#6C9EEA" stroke-width="0.8" />
<text x="156.3" y="438.23" font-size="9.5" fill="#6C9EEA" text-anchor="start" >0.0</text>
<line x1="152.6" y1="328.35" x2="154" y2="328.35" stroke="#6C9EEA" stroke-width="0.7" />
<line x1="152.6" y1="358.85" x2="154" y2="358.85" stroke="#6C9EEA" stroke-width="0.7" />
<line x1="152.6" y1="389.35" x2="154" y2="389.35" stroke="#6C9EEA" stroke-width="0.7" />
<line x1="152.6" y1="419.85" x2="154" y2="419.85" stroke="#6C9EEA" stroke-width="0.7" />
<text x="175" y="385.03" font-size="9.5" fill="#6C9EEA" text-anchor="middle" transform="rotate(-90 175 381.9)" >Intensity (a.u.)</text>
<text x="95.5" y="16.14" font-size="9.5" fill="#222" text-anchor="middle" >Δt = 1.02s</text>
<line x1="75" y1="21.5" x2="118" y2="21.5" stroke="#222" stroke-width="0.9" />
<path d="M73,21.5 l3,-1.6 v3.2 z M120,21.5 l-3,-1.6 v3.2 z" fill="#222"/>
<text x="150" y="54.3" font-size="9.1" fill="#222" text-anchor="end" >Mix-20</text>
<text x="53.3" y="108.74" font-size="9.5" fill="#222" text-anchor="middle" >I</text>
<text x="97" y="108.74" font-size="9.5" fill="#222" text-anchor="middle" >II</text>
<text x="138" y="108.74" font-size="9.5" fill="#222" text-anchor="middle" >III</text>
<text x="101.3" y="125.14" font-size="9.5" fill="#222" text-anchor="middle" >Δt = 1.07s</text>
<line x1="77" y1="128.8" x2="125" y2="128.8" stroke="#3a3028" stroke-width="1.1" />
<circle cx="77" cy="128.8" r="1" fill="#222"/>
<circle cx="125" cy="128.8" r="1" fill="#222"/>
<text x="149.5" y="157.8" font-size="9.1" fill="#222" text-anchor="end" >SVD-0</text>
<text x="56.3" y="216.13" font-size="9.5" fill="#222" text-anchor="middle" >I</text>
<text x="100" y="216.13" font-size="9.5" fill="#222" text-anchor="middle" >II</text>
<text x="141" y="216.13" font-size="9.5" fill="#222" text-anchor="middle" >III</text>
<text x="91.3" y="232.94" font-size="9.5" fill="#222" text-anchor="middle" >Δt = 0.92s</text>
<line x1="74" y1="236" x2="113" y2="236" stroke="#222" stroke-width="0.9" />
<path d="M72,236 l3,-1.6 v3.2 z M115,236 l-3,-1.6 v3.2 z" fill="#222"/>
<text x="149.5" y="266.5" font-size="9.1" fill="#222" text-anchor="end" >SVD-20</text>
<text x="54.3" y="323.54" font-size="9.5" fill="#222" text-anchor="middle" >I</text>
<text x="94.5" y="323.54" font-size="9.5" fill="#222" text-anchor="middle" >II</text>
<text x="138.8" y="323.54" font-size="9.5" fill="#222" text-anchor="middle" >III</text>
<text x="75.8" y="340.44" font-size="9.5" fill="#222" text-anchor="middle" >Δt=0.56s</text>
<line x1="62.5" y1="343.5" x2="85" y2="343.5" stroke="#222" stroke-width="0.9" />
<path d="M60.5,343.5 l3,-1.6 v3.2 z M87,343.5 l-3,-1.6 v3.2 z" fill="#222"/>
<text x="149.5" y="377.3" font-size="9.1" fill="#222" text-anchor="end" >SVD-120</text>
<text x="48.8" y="430.94" font-size="9.5" fill="#222" text-anchor="middle" >I</text>
<text x="73" y="430.94" font-size="9.5" fill="#222" text-anchor="middle" >II</text>
<text x="122.5" y="430.94" font-size="9.5" fill="#222" text-anchor="middle" >III</text>
<text x="-0.6" y="9.8" font-size="13.5" font-weight="bold">a</text>
<rect x="217.2" y="5.3" width="47.1" height="103.3" fill="#DBF2F5" />
<rect x="264.3" y="5.3" width="85" height="103.3" fill="#F9DBC6" />
<polyline points="226.5,26.02 245.47,22.85 264.44,18.08 283.41,41.9 302.38,54.61 321.35,86.37 340.32,99.07" fill="none" stroke="#E8575A" stroke-width="0.9" stroke-linejoin="round" />
<defs><radialGradient id="g0" cx="0.45" cy="0.45" r="0.6" fx="0.33" fy="0.3"><stop offset="0" stop-color="#f9d5d5"/><stop offset="0.45" stop-color="#E8575A"/><stop offset="1" stop-color="#b94548"/></radialGradient></defs>
<circle cx="226.5" cy="26.02" r="1.8" fill="url(#g0)"/>
<circle cx="245.47" cy="22.85" r="1.8" fill="url(#g0)"/>
<circle cx="264.44" cy="18.08" r="1.8" fill="url(#g0)"/>
<circle cx="283.41" cy="41.9" r="1.8" fill="url(#g0)"/>
<circle cx="302.38" cy="54.61" r="1.8" fill="url(#g0)"/>
<circle cx="321.35" cy="86.37" r="1.8" fill="url(#g0)"/>
<circle cx="340.32" cy="99.07" r="1.8" fill="url(#g0)"/>
<rect x="217.2" y="5.3" width="132.1" height="103.3" fill="none" stroke="#222" stroke-width="1"/>
<line x1="214.8" y1="108.6" x2="217.2" y2="108.6" stroke="#222" stroke-width="0.8" />
<text x="213.9" y="111.73" font-size="9.5" fill="#222" text-anchor="end" >0.5</text>
<line x1="215.7" y1="100.66" x2="217.2" y2="100.66" stroke="#222" stroke-width="0.7" />
<line x1="214.8" y1="92.72" x2="217.2" y2="92.72" stroke="#222" stroke-width="0.8" />
<text x="213.9" y="95.86" font-size="9.5" fill="#222" text-anchor="end" >0.6</text>
<line x1="215.7" y1="84.78" x2="217.2" y2="84.78" stroke="#222" stroke-width="0.7" />
<line x1="214.8" y1="76.84" x2="217.2" y2="76.84" stroke="#222" stroke-width="0.8" />
<text x="213.9" y="79.98" font-size="9.5" fill="#222" text-anchor="end" >0.7</text>
<line x1="215.7" y1="68.9" x2="217.2" y2="68.9" stroke="#222" stroke-width="0.7" />
<line x1="214.8" y1="60.96" x2="217.2" y2="60.96" stroke="#222" stroke-width="0.8" />
<text x="213.9" y="64.09" font-size="9.5" fill="#222" text-anchor="end" >0.8</text>
<line x1="215.7" y1="53.02" x2="217.2" y2="53.02" stroke="#222" stroke-width="0.7" />
<line x1="214.8" y1="45.08" x2="217.2" y2="45.08" stroke="#222" stroke-width="0.8" />
<text x="213.9" y="48.21" font-size="9.5" fill="#222" text-anchor="end" >0.9</text>
<line x1="215.7" y1="37.14" x2="217.2" y2="37.14" stroke="#222" stroke-width="0.7" />
<line x1="214.8" y1="29.2" x2="217.2" y2="29.2" stroke="#222" stroke-width="0.8" />
<text x="213.9" y="32.33" font-size="9.5" fill="#222" text-anchor="end" >1.0</text>
<line x1="215.7" y1="21.26" x2="217.2" y2="21.26" stroke="#222" stroke-width="0.7" />
<line x1="214.8" y1="13.32" x2="217.2" y2="13.32" stroke="#222" stroke-width="0.8" />
<text x="213.9" y="16.45" font-size="9.5" fill="#222" text-anchor="end" >1.1</text>
<line x1="226.5" y1="108.6" x2="226.5" y2="111.2" stroke="#222" stroke-width="0.8" />
<line x1="245.47" y1="108.6" x2="245.47" y2="111.2" stroke="#222" stroke-width="0.8" />
<line x1="264.44" y1="108.6" x2="264.44" y2="111.2" stroke="#222" stroke-width="0.8" />
<line x1="283.41" y1="108.6" x2="283.41" y2="111.2" stroke="#222" stroke-width="0.8" />
<line x1="302.38" y1="108.6" x2="302.38" y2="111.2" stroke="#222" stroke-width="0.8" />
<line x1="321.35" y1="108.6" x2="321.35" y2="111.2" stroke="#222" stroke-width="0.8" />
<line x1="340.32" y1="108.6" x2="340.32" y2="111.2" stroke="#222" stroke-width="0.8" />
<text x="234.3" y="115.8" font-size="9.5" fill="#222" text-anchor="end" transform="rotate(-45 234.3 115.8)">Mix-20</text>
<text x="253.27" y="115.8" font-size="9.5" fill="#222" text-anchor="end" transform="rotate(-45 253.27 115.8)">Mix-0</text>
<text x="272.24" y="115.8" font-size="9.5" fill="#222" text-anchor="end" transform="rotate(-45 272.24 115.8)">SVD-0</text>
<text x="291.21" y="115.8" font-size="9.5" fill="#222" text-anchor="end" transform="rotate(-45 291.21 115.8)">SVD-20</text>
<text x="310.18" y="115.8" font-size="9.5" fill="#222" text-anchor="end" transform="rotate(-45 310.18 115.8)">SVD-40</text>
<text x="329.15" y="115.8" font-size="9.5" fill="#222" text-anchor="end" transform="rotate(-45 329.15 115.8)">SVD-60</text>
<text x="348.12" y="115.8" font-size="9.5" fill="#222" text-anchor="end" transform="rotate(-45 348.12 115.8)">SVD-120</text>
<text x="195.6" y="59.73" font-size="9.5" fill="#222" text-anchor="middle" transform="rotate(-90 195.6 56.6)" >Stage II time (s)</text>
<line x1="310.5" y1="21.3" x2="331" y2="21.3" stroke="#E8575A" stroke-width="0.9" />
<circle cx="320.7" cy="21.3" r="1.8" fill="url(#g0)"/>
<text x="332.6" y="24.44" font-size="9.5" fill="#222" text-anchor="start" >Δt</text>
<text x="188.2" y="9.8" font-size="13.5" font-weight="bold">b</text>
<rect x="217.2" y="155.3" width="66" height="117" fill="#DBF2F5" />
<rect x="283.2" y="155.3" width="65.8" height="117" fill="#F9DBC6" />
<polyline points="230.7,185.6 257,189.9 283.3,204.4 309.6,178.5 335.9,160.5" fill="none" stroke="#E8575A" stroke-width="0.9" stroke-linejoin="round" />
<circle cx="230.7" cy="185.6" r="1.8" fill="url(#g0)"/>
<circle cx="257" cy="189.9" r="1.8" fill="url(#g0)"/>
<circle cx="283.3" cy="204.4" r="1.8" fill="url(#g0)"/>
<circle cx="309.6" cy="178.5" r="1.8" fill="url(#g0)"/>
<circle cx="335.9" cy="160.5" r="1.8" fill="url(#g0)"/>
<polyline points="230.7,180.9 257,181.7 283.3,200.7 309.6,178.5 335.9,164" fill="none" stroke="#4A7EBB" stroke-width="0.9" stroke-linejoin="round" />
<defs><radialGradient id="g1" cx="0.45" cy="0.45" r="0.6" fx="0.33" fy="0.3"><stop offset="0" stop-color="#d1deee"/><stop offset="0.45" stop-color="#4A7EBB"/><stop offset="1" stop-color="#3b6495"/></radialGradient></defs>
<circle cx="230.7" cy="180.9" r="1.8" fill="url(#g1)"/>
<circle cx="257" cy="181.7" r="1.8" fill="url(#g1)"/>
<circle cx="283.3" cy="200.7" r="1.8" fill="url(#g1)"/>
<circle cx="309.6" cy="178.5" r="1.8" fill="url(#g1)"/>
<circle cx="335.9" cy="164" r="1.8" fill="url(#g1)"/>
<polyline points="230.7,251.4 257,258 283.3,268.9 309.6,245.3 335.9,219.8" fill="none" stroke="#E8575A" stroke-width="0.9" stroke-linejoin="round" />
<circle cx="230.7" cy="251.4" r="1.8" fill="url(#g0)"/>
<circle cx="257" cy="258" r="1.8" fill="url(#g0)"/>
<circle cx="283.3" cy="268.9" r="1.8" fill="url(#g0)"/>
<circle cx="309.6" cy="245.3" r="1.8" fill="url(#g0)"/>
<circle cx="335.9" cy="219.8" r="1.8" fill="url(#g0)"/>
<polyline points="230.7,249.9 257,256.3 283.3,252.6 309.6,251.7 335.9,248.4" fill="none" stroke="#4A7EBB" stroke-width="0.9" stroke-linejoin="round" />
<circle cx="230.7" cy="249.9" r="1.8" fill="url(#g1)"/>
<circle cx="257" cy="256.3" r="1.8" fill="url(#g1)"/>
<circle cx="283.3" cy="252.6" r="1.8" fill="url(#g1)"/>
<circle cx="309.6" cy="251.7" r="1.8" fill="url(#g1)"/>
<circle cx="335.9" cy="248.4" r="1.8" fill="url(#g1)"/>
<line x1="217.2" y1="155.3" x2="349" y2="155.3" stroke="#222" stroke-width="1.0" />
<line x1="217.2" y1="272.3" x2="349" y2="272.3" stroke="#222" stroke-width="1.0" />
<line x1="217.2" y1="213.8" x2="349" y2="213.8" stroke="#555" stroke-width="1.5" />
<line x1="217.2" y1="155.3" x2="217.2" y2="272.3" stroke="#4A7EBB" stroke-width="1.0" />
<line x1="349" y1="155.3" x2="349" y2="272.3" stroke="#EE7A7C" stroke-width="0.9" />
<line x1="230.7" y1="272.3" x2="230.7" y2="274.9" stroke="#222" stroke-width="0.8" />
<line x1="230.7" y1="214.5" x2="230.7" y2="216.4" stroke="#222" stroke-width="0.8" />
<line x1="257" y1="272.3" x2="257" y2="274.9" stroke="#222" stroke-width="0.8" />
<line x1="257" y1="214.5" x2="257" y2="216.4" stroke="#222" stroke-width="0.8" />
<line x1="283.3" y1="272.3" x2="283.3" y2="274.9" stroke="#222" stroke-width="0.8" />
<line x1="283.3" y1="214.5" x2="283.3" y2="216.4" stroke="#222" stroke-width="0.8" />
<line x1="309.6" y1="272.3" x2="309.6" y2="274.9" stroke="#222" stroke-width="0.8" />
<line x1="309.6" y1="214.5" x2="309.6" y2="216.4" stroke="#222" stroke-width="0.8" />
<line x1="335.9" y1="272.3" x2="335.9" y2="274.9" stroke="#222" stroke-width="0.8" />
<line x1="335.9" y1="214.5" x2="335.9" y2="216.4" stroke="#222" stroke-width="0.8" />
<line x1="214.8" y1="162.8" x2="217.2" y2="162.8" stroke="#4A7EBB" stroke-width="0.8" />
<text x="214.7" y="165.94" font-size="9.5" fill="#4A7EBB" text-anchor="end" >160</text>
<line x1="215.7" y1="155.5" x2="217.2" y2="155.5" stroke="#4A7EBB" stroke-width="0.7" />
<line x1="214.8" y1="177.4" x2="217.2" y2="177.4" stroke="#4A7EBB" stroke-width="0.8" />
<text x="214.7" y="180.53" font-size="9.5" fill="#4A7EBB" text-anchor="end" >140</text>
<line x1="215.7" y1="170.1" x2="217.2" y2="170.1" stroke="#4A7EBB" stroke-width="0.7" />
<line x1="214.8" y1="191.9" x2="217.2" y2="191.9" stroke="#4A7EBB" stroke-width="0.8" />
<text x="214.7" y="195.03" font-size="9.5" fill="#4A7EBB" text-anchor="end" >120</text>
<line x1="215.7" y1="184.6" x2="217.2" y2="184.6" stroke="#4A7EBB" stroke-width="0.7" />
<line x1="214.8" y1="206.5" x2="217.2" y2="206.5" stroke="#4A7EBB" stroke-width="0.8" />
<text x="214.7" y="209.63" font-size="9.5" fill="#4A7EBB" text-anchor="end" >100</text>
<line x1="215.7" y1="199.2" x2="217.2" y2="199.2" stroke="#4A7EBB" stroke-width="0.7" />
<line x1="349" y1="162" x2="351.4" y2="162" stroke="#E8575A" stroke-width="0.8" />
<text x="352.6" y="165.13" font-size="9.5" fill="#E8575A" text-anchor="start" >50</text>
<line x1="349" y1="154.6" x2="350.5" y2="154.6" stroke="#E8575A" stroke-width="0.7" />
<line x1="349" y1="177" x2="351.4" y2="177" stroke="#E8575A" stroke-width="0.8" />
<text x="352.6" y="180.13" font-size="9.5" fill="#E8575A" text-anchor="start" >45</text>
<line x1="349" y1="169.6" x2="350.5" y2="169.6" stroke="#E8575A" stroke-width="0.7" />
<line x1="349" y1="191.9" x2="351.4" y2="191.9" stroke="#E8575A" stroke-width="0.8" />
<text x="352.6" y="195.03" font-size="9.5" fill="#E8575A" text-anchor="start" >40</text>
<line x1="349" y1="184.5" x2="350.5" y2="184.5" stroke="#E8575A" stroke-width="0.7" />
<line x1="349" y1="206.3" x2="351.4" y2="206.3" stroke="#E8575A" stroke-width="0.8" />
<text x="352.6" y="209.44" font-size="9.5" fill="#E8575A" text-anchor="start" >35</text>
<line x1="349" y1="198.9" x2="350.5" y2="198.9" stroke="#E8575A" stroke-width="0.7" />
<line x1="214.8" y1="223.6" x2="217.2" y2="223.6" stroke="#4A7EBB" stroke-width="0.8" />
<text x="214.7" y="226.73" font-size="9.5" fill="#4A7EBB" text-anchor="end" >45</text>
<line x1="215.7" y1="213.7" x2="217.2" y2="213.7" stroke="#4A7EBB" stroke-width="0.7" />
<line x1="214.8" y1="243.4" x2="217.2" y2="243.4" stroke="#4A7EBB" stroke-width="0.8" />
<text x="214.7" y="246.53" font-size="9.5" fill="#4A7EBB" text-anchor="end" >30</text>
<line x1="215.7" y1="233.5" x2="217.2" y2="233.5" stroke="#4A7EBB" stroke-width="0.7" />
<line x1="214.8" y1="263.1" x2="217.2" y2="263.1" stroke="#4A7EBB" stroke-width="0.8" />
<text x="214.7" y="266.24" font-size="9.5" fill="#4A7EBB" text-anchor="end" >15</text>
<line x1="215.7" y1="253.2" x2="217.2" y2="253.2" stroke="#4A7EBB" stroke-width="0.7" />
<line x1="349" y1="225.2" x2="351.4" y2="225.2" stroke="#E8575A" stroke-width="0.8" />
<text x="352.6" y="228.33" font-size="9.5" fill="#E8575A" text-anchor="start" >60</text>
<line x1="349" y1="216.3" x2="350.5" y2="216.3" stroke="#E8575A" stroke-width="0.7" />
<line x1="349" y1="243" x2="351.4" y2="243" stroke="#E8575A" stroke-width="0.8" />
<text x="352.6" y="246.13" font-size="9.5" fill="#E8575A" text-anchor="start" >45</text>
<line x1="349" y1="234.1" x2="350.5" y2="234.1" stroke="#E8575A" stroke-width="0.7" />
<line x1="349" y1="260.6" x2="351.4" y2="260.6" stroke="#E8575A" stroke-width="0.8" />
<text x="352.6" y="263.74" font-size="9.5" fill="#E8575A" text-anchor="start" >30</text>
<line x1="349" y1="251.7" x2="350.5" y2="251.7" stroke="#E8575A" stroke-width="0.7" />
<text x="192.6" y="184.13" font-size="9.5" fill="#222" text-anchor="middle" transform="rotate(-90 192.6 181)" >CCL (Å)</text>
<text x="192.6" y="245.63" font-size="9.5" fill="#222" text-anchor="middle" transform="rotate(-90 192.6 242.5)" >Domain size (nm)</text>
<line x1="236.7" y1="161.3" x2="248.9" y2="161.3" stroke="#4A7EBB" stroke-width="0.9" />
<circle cx="242.8" cy="161.3" r="1.8" fill="url(#g1)"/>
<text x="255.4" y="164.44" font-size="9.5" fill="#222" text-anchor="start" >IP</text>
<line x1="286.4" y1="161.3" x2="298.6" y2="161.3" stroke="#E8575A" stroke-width="0.9" />
<circle cx="292.5" cy="161.3" r="1.8" fill="url(#g0)"/>
<text x="302.8" y="164.44" font-size="9.5" fill="#222" text-anchor="start" >OOP</text>
<line x1="241.3" y1="222.5" x2="253.5" y2="222.5" stroke="#4A7EBB" stroke-width="0.9" />
<circle cx="247.4" cy="222.5" r="1.8" fill="url(#g1)"/>
<text x="259.8" y="225.63" font-size="9.5" fill="#222" text-anchor="start" >ξ</text>
<line x1="286.4" y1="222.2" x2="298.6" y2="222.2" stroke="#E8575A" stroke-width="0.9" />
<circle cx="292.5" cy="222.2" r="1.8" fill="url(#g0)"/>
<text x="304.7" y="225.6" font-size="9.5" fill="#222">2R<tspan font-size="6.5" dy="2.4">g</tspan></text>
<text x="239.6" y="279.4" font-size="9.5" fill="#222" text-anchor="end" transform="rotate(-45 239.6 279.4)">Mix-20</text>
<text x="265.9" y="279.4" font-size="9.5" fill="#222" text-anchor="end" transform="rotate(-45 265.9 279.4)">Mix-0</text>
<text x="292.2" y="279.4" font-size="9.5" fill="#222" text-anchor="end" transform="rotate(-45 292.2 279.4)">SVD-0</text>
<text x="318.5" y="279.4" font-size="9.5" fill="#222" text-anchor="end" transform="rotate(-45 318.5 279.4)">SVD-20</text>
<text x="344.8" y="279.4" font-size="9.5" fill="#222" text-anchor="end" transform="rotate(-45 344.8 279.4)">SVD-120</text>
<text x="188.5" y="153.2" font-size="13.5" font-weight="bold">c</text>
<polyline points="233.5,332.1 266.9,333.7 300.3,329.1 333.6,334.4" fill="none" stroke="#F5A05A" stroke-width="0.8" stroke-linejoin="round" />
<defs><radialGradient id="g2" cx="0.45" cy="0.45" r="0.6" fx="0.33" fy="0.3"><stop offset="0" stop-color="#fce7d5"/><stop offset="0.45" stop-color="#F5A05A"/><stop offset="1" stop-color="#c48048"/></radialGradient></defs>
<circle cx="233.5" cy="332.1" r="1.8" fill="url(#g2)"/>
<circle cx="266.9" cy="333.7" r="1.8" fill="url(#g2)"/>
<circle cx="300.3" cy="329.1" r="1.8" fill="url(#g2)"/>
<circle cx="333.6" cy="334.4" r="1.8" fill="url(#g2)"/>
<polyline points="233.5,344.6 266.9,341.4 300.3,345.5 333.6,343" fill="none" stroke="#555555" stroke-width="0.8" stroke-linejoin="round" />
<defs><radialGradient id="g3" cx="0.45" cy="0.45" r="0.6" fx="0.33" fy="0.3"><stop offset="0" stop-color="#d4d4d4"/><stop offset="0.45" stop-color="#555555"/><stop offset="1" stop-color="#444444"/></radialGradient></defs>
<circle cx="233.5" cy="344.6" r="1.8" fill="url(#g3)"/>
<circle cx="266.9" cy="341.4" r="1.8" fill="url(#g3)"/>
<circle cx="300.3" cy="345.5" r="1.8" fill="url(#g3)"/>
<circle cx="333.6" cy="343" r="1.8" fill="url(#g3)"/>
<polyline points="233.5,353.9 266.9,344.2 300.3,342.5 333.6,331.9" fill="none" stroke="#3F7FC0" stroke-width="0.8" stroke-linejoin="round" />
<defs><radialGradient id="g4" cx="0.45" cy="0.45" r="0.6" fx="0.33" fy="0.3"><stop offset="0" stop-color="#cfdfef"/><stop offset="0.45" stop-color="#3F7FC0"/><stop offset="1" stop-color="#326599"/></radialGradient></defs>
<circle cx="233.5" cy="353.9" r="1.8" fill="url(#g4)"/>
<circle cx="266.9" cy="344.2" r="1.8" fill="url(#g4)"/>
<circle cx="300.3" cy="342.5" r="1.8" fill="url(#g4)"/>
<circle cx="333.6" cy="331.9" r="1.8" fill="url(#g4)"/>
<polyline points="233.5,362.4 266.9,358 300.3,349.9 333.6,344.2" fill="none" stroke="#E8474A" stroke-width="0.8" stroke-linejoin="round" />
<defs><radialGradient id="g5" cx="0.45" cy="0.45" r="0.6" fx="0.33" fy="0.3"><stop offset="0" stop-color="#f9d1d1"/><stop offset="0.45" stop-color="#E8474A"/><stop offset="1" stop-color="#b9383b"/></radialGradient></defs>
<circle cx="233.5" cy="362.4" r="1.8" fill="url(#g5)"/>
<circle cx="266.9" cy="358" r="1.8" fill="url(#g5)"/>
<circle cx="300.3" cy="349.9" r="1.8" fill="url(#g5)"/>
<circle cx="333.6" cy="344.2" r="1.8" fill="url(#g5)"/>
<polyline points="233.5,410.7 266.9,417.6 300.3,413.4 333.6,413.4" fill="none" stroke="#F5A05A" stroke-width="0.8" stroke-linejoin="round" />
<circle cx="233.5" cy="410.7" r="1.8" fill="url(#g2)"/>
<circle cx="266.9" cy="417.6" r="1.8" fill="url(#g2)"/>
<circle cx="300.3" cy="413.4" r="1.8" fill="url(#g2)"/>
<circle cx="333.6" cy="413.4" r="1.8" fill="url(#g2)"/>
<polyline points="233.5,419.3 266.9,420.3 300.3,417.4 333.6,416.4" fill="none" stroke="#555555" stroke-width="0.8" stroke-linejoin="round" />
<circle cx="233.5" cy="419.3" r="1.8" fill="url(#g3)"/>
<circle cx="266.9" cy="420.3" r="1.8" fill="url(#g3)"/>
<circle cx="300.3" cy="417.4" r="1.8" fill="url(#g3)"/>
<circle cx="333.6" cy="416.4" r="1.8" fill="url(#g3)"/>
<polyline points="233.5,384.3 266.9,394.1 300.3,403.9 333.6,406.4" fill="none" stroke="#3F7FC0" stroke-width="0.8" stroke-linejoin="round" />
<circle cx="233.5" cy="384.3" r="1.8" fill="url(#g4)"/>
<circle cx="266.9" cy="394.1" r="1.8" fill="url(#g4)"/>
<circle cx="300.3" cy="403.9" r="1.8" fill="url(#g4)"/>
<circle cx="333.6" cy="406.4" r="1.8" fill="url(#g4)"/>
<polyline points="233.5,395.8 266.9,410.7 300.3,420.5 333.6,422.8" fill="none" stroke="#E8474A" stroke-width="0.8" stroke-linejoin="round" />
<circle cx="233.5" cy="395.8" r="1.8" fill="url(#g5)"/>
<circle cx="266.9" cy="410.7" r="1.8" fill="url(#g5)"/>
<circle cx="300.3" cy="420.5" r="1.8" fill="url(#g5)"/>
<circle cx="333.6" cy="422.8" r="1.8" fill="url(#g5)"/>
<line x1="216.8" y1="316.4" x2="216.8" y2="435.2" stroke="#8a8a8a" stroke-width="1.2" />
<line x1="351" y1="316.4" x2="351" y2="435.2" stroke="#a8a8a8" stroke-width="1.3" />
<line x1="216.2" y1="316.4" x2="351.6" y2="316.4" stroke="#444" stroke-width="1.0" />
<line x1="216.2" y1="435.2" x2="351.6" y2="435.2" stroke="#333" stroke-width="1.0" />
<line x1="216.8" y1="375.5" x2="351" y2="375.5" stroke="#333" stroke-width="1.1" />
<line x1="214.4" y1="316.4" x2="216.8" y2="316.4" stroke="#222" stroke-width="0.8" />
<text x="214.3" y="319.53" font-size="9.5" fill="#222" text-anchor="end" >50</text>
<line x1="215.3" y1="328.2" x2="216.8" y2="328.2" stroke="#222" stroke-width="0.7" />
<line x1="214.4" y1="340.1" x2="216.8" y2="340.1" stroke="#222" stroke-width="0.8" />
<text x="214.3" y="343.24" font-size="9.5" fill="#222" text-anchor="end" >40</text>
<line x1="215.3" y1="351.9" x2="216.8" y2="351.9" stroke="#222" stroke-width="0.7" />
<line x1="214.4" y1="363.4" x2="216.8" y2="363.4" stroke="#222" stroke-width="0.8" />
<text x="214.3" y="366.53" font-size="9.5" fill="#222" text-anchor="end" >30</text>
<line x1="214.4" y1="384.3" x2="216.8" y2="384.3" stroke="#222" stroke-width="0.8" />
<text x="214.3" y="387.44" font-size="9.5" fill="#222" text-anchor="end" >50</text>
<line x1="215.3" y1="392.8" x2="216.8" y2="392.8" stroke="#222" stroke-width="0.7" />
<line x1="214.4" y1="401.3" x2="216.8" y2="401.3" stroke="#222" stroke-width="0.8" />
<text x="214.3" y="404.44" font-size="9.5" fill="#222" text-anchor="end" >40</text>
<line x1="215.3" y1="409.8" x2="216.8" y2="409.8" stroke="#222" stroke-width="0.7" />
<line x1="214.4" y1="418.3" x2="216.8" y2="418.3" stroke="#222" stroke-width="0.8" />
<text x="214.3" y="421.44" font-size="9.5" fill="#222" text-anchor="end" >30</text>
<line x1="215.3" y1="426.8" x2="216.8" y2="426.8" stroke="#222" stroke-width="0.7" />
<line x1="214.4" y1="435.2" x2="216.8" y2="435.2" stroke="#222" stroke-width="0.8" />
<text x="214.3" y="438.33" font-size="9.5" fill="#222" text-anchor="end" >20</text>
<line x1="233.5" y1="435.2" x2="233.5" y2="432.8" stroke="#222" stroke-width="0.8" />
<text x="233.5" y="445.94" font-size="9.5" fill="#222" text-anchor="middle" >0.08</text>
<line x1="266.9" y1="435.2" x2="266.9" y2="432.8" stroke="#222" stroke-width="0.8" />
<text x="266.9" y="445.94" font-size="9.5" fill="#222" text-anchor="middle" >0.12</text>
<line x1="300.3" y1="435.2" x2="300.3" y2="432.8" stroke="#222" stroke-width="0.8" />
<text x="300.3" y="445.94" font-size="9.5" fill="#222" text-anchor="middle" >0.16</text>
<line x1="333.6" y1="435.2" x2="333.6" y2="432.8" stroke="#222" stroke-width="0.8" />
<text x="333.6" y="445.94" font-size="9.5" fill="#222" text-anchor="middle" >0.20</text>
<line x1="250.2" y1="435.2" x2="250.2" y2="433.7" stroke="#222" stroke-width="0.7" />
<line x1="283.6" y1="435.2" x2="283.6" y2="433.7" stroke="#222" stroke-width="0.7" />
<line x1="317" y1="435.2" x2="317" y2="433.7" stroke="#222" stroke-width="0.7" />
<text x="287" y="455.53" font-size="9.5" fill="#222" text-anchor="middle" >Incidence angle (deg)</text>
<text x="194" y="349.13" font-size="9.5" fill="#222" text-anchor="middle" transform="rotate(-90 194 346)" >φ (nm)</text>
<text x="194.2" y="408.13" font-size="9.5" fill="#222" text-anchor="middle" transform="rotate(-90 194.2 405)" >2Rg (nm)</text>
<line x1="299.4" y1="358.8" x2="311.7" y2="358.8" stroke="#555555" stroke-width="0.9" />
<circle cx="305.6" cy="358.8" r="1.8" fill="url(#g3)"/>
<text x="314.6" y="361.7" font-size="8.8" fill="#222" text-anchor="start" >SVD-0</text>
<line x1="299.4" y1="369.4" x2="311.7" y2="369.4" stroke="#E8474A" stroke-width="0.9" />
<circle cx="305.6" cy="369.4" r="1.8" fill="url(#g5)"/>
<text x="314.6" y="372.3" font-size="8.8" fill="#222" text-anchor="start" >SVD-20</text>
<line x1="300.3" y1="382.3" x2="312.6" y2="382.3" stroke="#3F7FC0" stroke-width="0.9" />
<circle cx="306.5" cy="382.3" r="1.8" fill="url(#g4)"/>
<text x="315.5" y="385.2" font-size="8.8" fill="#222" text-anchor="start" >SVD-120</text>
<line x1="300.3" y1="392.9" x2="312.6" y2="392.9" stroke="#F5A05A" stroke-width="0.9" />
<circle cx="306.5" cy="392.9" r="1.8" fill="url(#g2)"/>
<text x="315.5" y="395.8" font-size="8.8" fill="#222" text-anchor="start" >Mix-20</text>
<text x="188.2" y="318.7" font-size="13.5" font-weight="bold">d</text>
<rect x="396.4" y="5.9" width="9.2" height="107.5" fill="#6B8EC6" />
<rect x="515.8" y="5.9" width="8.7" height="107.5" fill="#F3BD8C" />
<rect x="396.4" y="113.4" width="9.2" height="107.6" fill="#6B8EC6" />
<rect x="515.8" y="113.4" width="8.7" height="107.6" fill="#F3BD8C" />
<rect x="396.4" y="221" width="9.2" height="107.6" fill="#6B8EC6" />
<rect x="515.8" y="221" width="8.7" height="107.6" fill="#F3BD8C" />
<rect x="396.4" y="328.6" width="9.2" height="107.6" fill="#6B8EC6" />
<rect x="515.8" y="328.6" width="8.7" height="107.6" fill="#F3BD8C" />
<polyline points="409.7,64.4 416.4,64.4 423.7,63.6 431.3,63 438.4,62.5 445.4,63.1 452.8,63.7 460,64 466.8,64.1 474.4,64.5 482.1,65.8 490.2,66.3 498.3,65.6 505.3,61.3 511.4,49.8" fill="none" stroke="#F2A05A" stroke-width="1.0" stroke-linejoin="round" />
<defs><radialGradient id="g6" cx="0.45" cy="0.45" r="0.6" fx="0.33" fy="0.3"><stop offset="0" stop-color="#fbe7d5"/><stop offset="0.45" stop-color="#F2A05A"/><stop offset="1" stop-color="#c18048"/></radialGradient></defs>
<circle cx="409.7" cy="64.4" r="2.4" fill="url(#g6)"/>
<circle cx="416.4" cy="64.4" r="2.4" fill="url(#g6)"/>
<circle cx="423.7" cy="63.6" r="2.4" fill="url(#g6)"/>
<circle cx="431.3" cy="63" r="2.4" fill="url(#g6)"/>
<circle cx="438.4" cy="62.5" r="2.4" fill="url(#g6)"/>
<circle cx="445.4" cy="63.1" r="2.4" fill="url(#g6)"/>
<circle cx="452.8" cy="63.7" r="2.4" fill="url(#g6)"/>
<circle cx="460" cy="64" r="2.4" fill="url(#g6)"/>
<circle cx="466.8" cy="64.1" r="2.4" fill="url(#g6)"/>
<circle cx="474.4" cy="64.5" r="2.4" fill="url(#g6)"/>
<circle cx="482.1" cy="65.8" r="2.4" fill="url(#g6)"/>
<circle cx="490.2" cy="66.3" r="2.4" fill="url(#g6)"/>
<circle cx="498.3" cy="65.6" r="2.4" fill="url(#g6)"/>
<circle cx="505.3" cy="61.3" r="2.4" fill="url(#g6)"/>
<circle cx="511.4" cy="49.8" r="2.4" fill="url(#g6)"/>
<polyline points="409.7,54.2 416.4,54.4 423.7,55.2 431.3,55.9 438.4,56.1 445.4,55.7 452.8,55.1 460,54.8 466.8,54.4 474.4,54.2 482.1,53.1 490.2,52.5 498.3,53.3 505.3,58.1 511.4,69.3" fill="none" stroke="#4287F0" stroke-width="1.0" stroke-linejoin="round" />
<defs><radialGradient id="g7" cx="0.45" cy="0.45" r="0.6" fx="0.33" fy="0.3"><stop offset="0" stop-color="#cfe1fb"/><stop offset="0.45" stop-color="#4287F0"/><stop offset="1" stop-color="#346cc0"/></radialGradient></defs>
<circle cx="409.7" cy="54.2" r="2.4" fill="url(#g7)"/>
<circle cx="416.4" cy="54.4" r="2.4" fill="url(#g7)"/>
<circle cx="423.7" cy="55.2" r="2.4" fill="url(#g7)"/>
<circle cx="431.3" cy="55.9" r="2.4" fill="url(#g7)"/>
<circle cx="438.4" cy="56.1" r="2.4" fill="url(#g7)"/>
<circle cx="445.4" cy="55.7" r="2.4" fill="url(#g7)"/>
<circle cx="452.8" cy="55.1" r="2.4" fill="url(#g7)"/>
<circle cx="460" cy="54.8" r="2.4" fill="url(#g7)"/>
<circle cx="466.8" cy="54.4" r="2.4" fill="url(#g7)"/>
<circle cx="474.4" cy="54.2" r="2.4" fill="url(#g7)"/>
<circle cx="482.1" cy="53.1" r="2.4" fill="url(#g7)"/>
<circle cx="490.2" cy="52.5" r="2.4" fill="url(#g7)"/>
<circle cx="498.3" cy="53.3" r="2.4" fill="url(#g7)"/>
<circle cx="505.3" cy="58.1" r="2.4" fill="url(#g7)"/>
<circle cx="511.4" cy="69.3" r="2.4" fill="url(#g7)"/>
<polyline points="412.8,176.3 424.4,175.4 435.7,175.2 445.6,175.4 455.5,175.7 466,177.1 475.8,181.9 485.5,183.6 493.4,184.8 501.8,182.5 510.6,168.4" fill="none" stroke="#F2A05A" stroke-width="1.0" stroke-linejoin="round" />
<circle cx="412.8" cy="176.3" r="2.4" fill="url(#g6)"/>
<circle cx="424.4" cy="175.4" r="2.4" fill="url(#g6)"/>
<circle cx="435.7" cy="175.2" r="2.4" fill="url(#g6)"/>
<circle cx="445.6" cy="175.4" r="2.4" fill="url(#g6)"/>
<circle cx="455.5" cy="175.7" r="2.4" fill="url(#g6)"/>
<circle cx="466" cy="177.1" r="2.4" fill="url(#g6)"/>
<circle cx="475.8" cy="181.9" r="2.4" fill="url(#g6)"/>
<circle cx="485.5" cy="183.6" r="2.4" fill="url(#g6)"/>
<circle cx="493.4" cy="184.8" r="2.4" fill="url(#g6)"/>
<circle cx="501.8" cy="182.5" r="2.4" fill="url(#g6)"/>
<circle cx="510.6" cy="168.4" r="2.4" fill="url(#g6)"/>
<polyline points="412.8,157.9 424.4,158.5 435.7,159.3 445.6,159.1 455.5,158.5 466,156.5 475.8,152.3 485.5,150.9 493.4,149.4 501.8,152.3 510.6,165.8" fill="none" stroke="#4287F0" stroke-width="1.0" stroke-linejoin="round" />
<circle cx="412.8" cy="157.9" r="2.4" fill="url(#g7)"/>
<circle cx="424.4" cy="158.5" r="2.4" fill="url(#g7)"/>
<circle cx="435.7" cy="159.3" r="2.4" fill="url(#g7)"/>
<circle cx="445.6" cy="159.1" r="2.4" fill="url(#g7)"/>
<circle cx="455.5" cy="158.5" r="2.4" fill="url(#g7)"/>
<circle cx="466" cy="156.5" r="2.4" fill="url(#g7)"/>
<circle cx="475.8" cy="152.3" r="2.4" fill="url(#g7)"/>
<circle cx="485.5" cy="150.9" r="2.4" fill="url(#g7)"/>
<circle cx="493.4" cy="149.4" r="2.4" fill="url(#g7)"/>
<circle cx="501.8" cy="152.3" r="2.4" fill="url(#g7)"/>
<circle cx="510.6" cy="165.8" r="2.4" fill="url(#g7)"/>
<polyline points="410.9,278.1 419.6,277.5 427.8,276.9 436.3,277.3 444.8,277.5 453.2,277.5 463.1,278.1 472.5,278.4 481.5,278.7 490.5,278.7 499.3,277.8 506.4,271.6 512.6,261.1" fill="none" stroke="#F2A05A" stroke-width="1.0" stroke-linejoin="round" />
<circle cx="410.9" cy="278.1" r="2.4" fill="url(#g6)"/>
<circle cx="419.6" cy="277.5" r="2.4" fill="url(#g6)"/>
<circle cx="427.8" cy="276.9" r="2.4" fill="url(#g6)"/>
<circle cx="436.3" cy="277.3" r="2.4" fill="url(#g6)"/>
<circle cx="444.8" cy="277.5" r="2.4" fill="url(#g6)"/>
<circle cx="453.2" cy="277.5" r="2.4" fill="url(#g6)"/>
<circle cx="463.1" cy="278.1" r="2.4" fill="url(#g6)"/>
<circle cx="472.5" cy="278.4" r="2.4" fill="url(#g6)"/>
<circle cx="481.5" cy="278.7" r="2.4" fill="url(#g6)"/>
<circle cx="490.5" cy="278.7" r="2.4" fill="url(#g6)"/>
<circle cx="499.3" cy="277.8" r="2.4" fill="url(#g6)"/>
<circle cx="506.4" cy="271.6" r="2.4" fill="url(#g6)"/>
<circle cx="512.6" cy="261.1" r="2.4" fill="url(#g6)"/>
<polyline points="410.9,270.8 419.6,271.6 427.8,272.7 436.3,272.2 444.8,271.6 453.2,271.3 463.1,270.8 472.5,270.2 481.5,269.9 490.5,269.9 499.3,271.3 506.4,277.2 512.6,288" fill="none" stroke="#4287F0" stroke-width="1.0" stroke-linejoin="round" />
<circle cx="410.9" cy="270.8" r="2.4" fill="url(#g7)"/>
<circle cx="419.6" cy="271.6" r="2.4" fill="url(#g7)"/>
<circle cx="427.8" cy="272.7" r="2.4" fill="url(#g7)"/>
<circle cx="436.3" cy="272.2" r="2.4" fill="url(#g7)"/>
<circle cx="444.8" cy="271.6" r="2.4" fill="url(#g7)"/>
<circle cx="453.2" cy="271.3" r="2.4" fill="url(#g7)"/>
<circle cx="463.1" cy="270.8" r="2.4" fill="url(#g7)"/>
<circle cx="472.5" cy="270.2" r="2.4" fill="url(#g7)"/>
<circle cx="481.5" cy="269.9" r="2.4" fill="url(#g7)"/>
<circle cx="490.5" cy="269.9" r="2.4" fill="url(#g7)"/>
<circle cx="499.3" cy="271.3" r="2.4" fill="url(#g7)"/>
<circle cx="506.4" cy="277.2" r="2.4" fill="url(#g7)"/>
<circle cx="512.6" cy="288" r="2.4" fill="url(#g7)"/>
<polyline points="412.4,384 420.9,384.9 428.8,384.6 436.8,384.3 444.1,384 452,383.7 460.5,383.4 469,383.1 477.9,382.4 486.7,380 495.2,378.5 502.6,375.7 509.6,370.3" fill="none" stroke="#F2A05A" stroke-width="1.0" stroke-linejoin="round" />
<circle cx="412.4" cy="384" r="2.4" fill="url(#g6)"/>
<circle cx="420.9" cy="384.9" r="2.4" fill="url(#g6)"/>
<circle cx="428.8" cy="384.6" r="2.4" fill="url(#g6)"/>
<circle cx="436.8" cy="384.3" r="2.4" fill="url(#g6)"/>
<circle cx="444.1" cy="384" r="2.4" fill="url(#g6)"/>
<circle cx="452" cy="383.7" r="2.4" fill="url(#g6)"/>
<circle cx="460.5" cy="383.4" r="2.4" fill="url(#g6)"/>
<circle cx="469" cy="383.1" r="2.4" fill="url(#g6)"/>
<circle cx="477.9" cy="382.4" r="2.4" fill="url(#g6)"/>
<circle cx="486.7" cy="380" r="2.4" fill="url(#g6)"/>
<circle cx="495.2" cy="378.5" r="2.4" fill="url(#g6)"/>
<circle cx="502.6" cy="375.7" r="2.4" fill="url(#g6)"/>
<circle cx="509.6" cy="370.3" r="2.4" fill="url(#g6)"/>
<polyline points="412.4,380.9 420.9,379.4 428.8,379.4 436.8,379.4 444.1,380.3 452,380.9 460.5,380.9 469,380.9 477.9,382.4 486.7,384.6 495.2,385.5 502.6,388.5 509.6,393.4" fill="none" stroke="#4287F0" stroke-width="1.0" stroke-linejoin="round" />
<circle cx="412.4" cy="380.9" r="2.4" fill="url(#g7)"/>
<circle cx="420.9" cy="379.4" r="2.4" fill="url(#g7)"/>
<circle cx="428.8" cy="379.4" r="2.4" fill="url(#g7)"/>
<circle cx="436.8" cy="379.4" r="2.4" fill="url(#g7)"/>
<circle cx="444.1" cy="380.3" r="2.4" fill="url(#g7)"/>
<circle cx="452" cy="380.9" r="2.4" fill="url(#g7)"/>
<circle cx="460.5" cy="380.9" r="2.4" fill="url(#g7)"/>
<circle cx="469" cy="380.9" r="2.4" fill="url(#g7)"/>
<circle cx="477.9" cy="382.4" r="2.4" fill="url(#g7)"/>
<circle cx="486.7" cy="384.6" r="2.4" fill="url(#g7)"/>
<circle cx="495.2" cy="385.5" r="2.4" fill="url(#g7)"/>
<circle cx="502.6" cy="388.5" r="2.4" fill="url(#g7)"/>
<circle cx="509.6" cy="393.4" r="2.4" fill="url(#g7)"/>
<line x1="396.4" y1="5.9" x2="524.5" y2="5.9" stroke="#222" stroke-width="1.0" />
<line x1="396.4" y1="113.4" x2="524.5" y2="113.4" stroke="#222" stroke-width="1.0" />
<line x1="396.4" y1="221" x2="524.5" y2="221" stroke="#222" stroke-width="1.0" />
<line x1="396.4" y1="328.6" x2="524.5" y2="328.6" stroke="#222" stroke-width="1.0" />
<line x1="396.4" y1="436.2" x2="524.5" y2="436.2" stroke="#222" stroke-width="1.0" />
<line x1="396.4" y1="5.9" x2="396.4" y2="436.2" stroke="#222" stroke-width="0.8" />
<line x1="524.5" y1="5.9" x2="524.5" y2="436.2" stroke="#222" stroke-width="0.8" />
<line x1="394" y1="5.9" x2="396.4" y2="5.9" stroke="#222" stroke-width="0.8" />
<text x="392.4" y="9.04" font-size="9.5" fill="#222" text-anchor="end" >1.0</text>
<line x1="394" y1="27.4" x2="396.4" y2="27.4" stroke="#222" stroke-width="0.8" />
<text x="392.4" y="30.54" font-size="9.5" fill="#222" text-anchor="end" >0.8</text>
<line x1="394" y1="48.9" x2="396.4" y2="48.9" stroke="#222" stroke-width="0.8" />
<text x="392.4" y="52.03" font-size="9.5" fill="#222" text-anchor="end" >0.6</text>
<line x1="394" y1="70.4" x2="396.4" y2="70.4" stroke="#222" stroke-width="0.8" />
<text x="392.4" y="73.54" font-size="9.5" fill="#222" text-anchor="end" >0.4</text>
<line x1="394" y1="91.9" x2="396.4" y2="91.9" stroke="#222" stroke-width="0.8" />
<text x="392.4" y="95.04" font-size="9.5" fill="#222" text-anchor="end" >0.2</text>
<line x1="396.4" y1="16.65" x2="397.9" y2="16.65" stroke="#222" stroke-width="0.7" />
<line x1="396.4" y1="38.15" x2="397.9" y2="38.15" stroke="#222" stroke-width="0.7" />
<line x1="396.4" y1="59.65" x2="397.9" y2="59.65" stroke="#222" stroke-width="0.7" />
<line x1="396.4" y1="81.15" x2="397.9" y2="81.15" stroke="#222" stroke-width="0.7" />
<line x1="396.4" y1="102.65" x2="397.9" y2="102.65" stroke="#222" stroke-width="0.7" />
<text x="371.5" y="62.78" font-size="9.5" fill="#222" text-anchor="middle" transform="rotate(-90 371.5 59.65)" >Ratio (w/w)</text>
<text x="401" y="64.64" font-size="9.5" fill="#E8EEF8" text-anchor="middle" transform="rotate(-90 401 61.5)" >Cathode</text>
<text x="520.2" y="61.98" font-size="9.5" fill="#222" text-anchor="middle" transform="rotate(-90 520.2 58.85)" >Anode</text>
<line x1="394" y1="113.4" x2="396.4" y2="113.4" stroke="#222" stroke-width="0.8" />
<text x="392.4" y="116.54" font-size="9.5" fill="#222" text-anchor="end" >1.0</text>
<line x1="394" y1="134.92" x2="396.4" y2="134.92" stroke="#222" stroke-width="0.8" />
<text x="392.4" y="138.06" font-size="9.5" fill="#222" text-anchor="end" >0.8</text>
<line x1="394" y1="156.44" x2="396.4" y2="156.44" stroke="#222" stroke-width="0.8" />
<text x="392.4" y="159.57" font-size="9.5" fill="#222" text-anchor="end" >0.6</text>
<line x1="394" y1="177.96" x2="396.4" y2="177.96" stroke="#222" stroke-width="0.8" />
<text x="392.4" y="181.09" font-size="9.5" fill="#222" text-anchor="end" >0.4</text>
<line x1="394" y1="199.48" x2="396.4" y2="199.48" stroke="#222" stroke-width="0.8" />
<text x="392.4" y="202.62" font-size="9.5" fill="#222" text-anchor="end" >0.2</text>
<line x1="396.4" y1="124.16" x2="397.9" y2="124.16" stroke="#222" stroke-width="0.7" />
<line x1="396.4" y1="145.68" x2="397.9" y2="145.68" stroke="#222" stroke-width="0.7" />
<line x1="396.4" y1="167.2" x2="397.9" y2="167.2" stroke="#222" stroke-width="0.7" />
<line x1="396.4" y1="188.72" x2="397.9" y2="188.72" stroke="#222" stroke-width="0.7" />
<line x1="396.4" y1="210.24" x2="397.9" y2="210.24" stroke="#222" stroke-width="0.7" />
<text x="371.5" y="170.33" font-size="9.5" fill="#222" text-anchor="middle" transform="rotate(-90 371.5 167.2)" >Ratio (w/w)</text>
<text x="401" y="169.73" font-size="9.5" fill="#E8EEF8" text-anchor="middle" transform="rotate(-90 401 166.6)" >Cathode</text>
<text x="520.2" y="169.53" font-size="9.5" fill="#222" text-anchor="middle" transform="rotate(-90 520.2 166.4)" >Anode</text>
<line x1="394" y1="221" x2="396.4" y2="221" stroke="#222" stroke-width="0.8" />
<text x="392.4" y="224.13" font-size="9.5" fill="#222" text-anchor="end" >1.0</text>
<line x1="394" y1="242.52" x2="396.4" y2="242.52" stroke="#222" stroke-width="0.8" />
<text x="392.4" y="245.66" font-size="9.5" fill="#222" text-anchor="end" >0.8</text>
<line x1="394" y1="264.04" x2="396.4" y2="264.04" stroke="#222" stroke-width="0.8" />
<text x="392.4" y="267.18" font-size="9.5" fill="#222" text-anchor="end" >0.6</text>
<line x1="394" y1="285.56" x2="396.4" y2="285.56" stroke="#222" stroke-width="0.8" />
<text x="392.4" y="288.69" font-size="9.5" fill="#222" text-anchor="end" >0.4</text>
<line x1="394" y1="307.08" x2="396.4" y2="307.08" stroke="#222" stroke-width="0.8" />
<text x="392.4" y="310.22" font-size="9.5" fill="#222" text-anchor="end" >0.2</text>
<line x1="396.4" y1="231.76" x2="397.9" y2="231.76" stroke="#222" stroke-width="0.7" />
<line x1="396.4" y1="253.28" x2="397.9" y2="253.28" stroke="#222" stroke-width="0.7" />
<line x1="396.4" y1="274.8" x2="397.9" y2="274.8" stroke="#222" stroke-width="0.7" />
<line x1="396.4" y1="296.32" x2="397.9" y2="296.32" stroke="#222" stroke-width="0.7" />
<line x1="396.4" y1="317.84" x2="397.9" y2="317.84" stroke="#222" stroke-width="0.7" />
<text x="371.5" y="277.94" font-size="9.5" fill="#222" text-anchor="middle" transform="rotate(-90 371.5 274.8)" >Ratio (w/w)</text>
<text x="401" y="277.94" font-size="9.5" fill="#E8EEF8" text-anchor="middle" transform="rotate(-90 401 274.8)" >Cathode</text>
<text x="520.2" y="277.13" font-size="9.5" fill="#222" text-anchor="middle" transform="rotate(-90 520.2 274)" >Anode</text>
<line x1="394" y1="328.6" x2="396.4" y2="328.6" stroke="#222" stroke-width="0.8" />
<text x="392.4" y="331.74" font-size="9.5" fill="#222" text-anchor="end" >1.0</text>
<line x1="394" y1="350.12" x2="396.4" y2="350.12" stroke="#222" stroke-width="0.8" />
<text x="392.4" y="353.25" font-size="9.5" fill="#222" text-anchor="end" >0.8</text>
<line x1="394" y1="371.64" x2="396.4" y2="371.64" stroke="#222" stroke-width="0.8" />
<text x="392.4" y="374.77" font-size="9.5" fill="#222" text-anchor="end" >0.6</text>
<line x1="394" y1="393.16" x2="396.4" y2="393.16" stroke="#222" stroke-width="0.8" />
<text x="392.4" y="396.3" font-size="9.5" fill="#222" text-anchor="end" >0.4</text>
<line x1="394" y1="414.68" x2="396.4" y2="414.68" stroke="#222" stroke-width="0.8" />
<text x="392.4" y="417.81" font-size="9.5" fill="#222" text-anchor="end" >0.2</text>
<line x1="394" y1="436.2" x2="396.4" y2="436.2" stroke="#222" stroke-width="0.8" />
<text x="392.4" y="439.33" font-size="9.5" fill="#222" text-anchor="end" >0.0</text>
<line x1="396.4" y1="339.36" x2="397.9" y2="339.36" stroke="#222" stroke-width="0.7" />
<line x1="396.4" y1="360.88" x2="397.9" y2="360.88" stroke="#222" stroke-width="0.7" />
<line x1="396.4" y1="382.4" x2="397.9" y2="382.4" stroke="#222" stroke-width="0.7" />
<line x1="396.4" y1="403.92" x2="397.9" y2="403.92" stroke="#222" stroke-width="0.7" />
<line x1="396.4" y1="425.44" x2="397.9" y2="425.44" stroke="#222" stroke-width="0.7" />
<text x="371.5" y="385.53" font-size="9.5" fill="#222" text-anchor="middle" transform="rotate(-90 371.5 382.4)" >Ratio (w/w)</text>
<text x="401" y="384.83" font-size="9.5" fill="#E8EEF8" text-anchor="middle" transform="rotate(-90 401 381.7)" >Cathode</text>
<text x="520.2" y="384.73" font-size="9.5" fill="#222" text-anchor="middle" transform="rotate(-90 520.2 381.6)" >Anode</text>
<line x1="402.2" y1="113.4" x2="402.2" y2="115.8" stroke="#222" stroke-width="0.8" />
<line x1="412.8" y1="113.4" x2="412.8" y2="114.9" stroke="#222" stroke-width="0.8" />
<line x1="423.4" y1="113.4" x2="423.4" y2="115.8" stroke="#222" stroke-width="0.8" />
<line x1="434" y1="113.4" x2="434" y2="114.9" stroke="#222" stroke-width="0.8" />
<line x1="444.6" y1="113.4" x2="444.6" y2="115.8" stroke="#222" stroke-width="0.8" />
<line x1="455.2" y1="113.4" x2="455.2" y2="114.9" stroke="#222" stroke-width="0.8" />
<line x1="465.8" y1="113.4" x2="465.8" y2="115.8" stroke="#222" stroke-width="0.8" />
<line x1="476.4" y1="113.4" x2="476.4" y2="114.9" stroke="#222" stroke-width="0.8" />
<line x1="487" y1="113.4" x2="487" y2="115.8" stroke="#222" stroke-width="0.8" />
<line x1="497.6" y1="113.4" x2="497.6" y2="114.9" stroke="#222" stroke-width="0.8" />
<line x1="508.2" y1="113.4" x2="508.2" y2="115.8" stroke="#222" stroke-width="0.8" />
<line x1="518.8" y1="113.4" x2="518.8" y2="114.9" stroke="#222" stroke-width="0.8" />
<line x1="402.2" y1="221" x2="402.2" y2="223.4" stroke="#222" stroke-width="0.8" />
<line x1="412.8" y1="221" x2="412.8" y2="222.5" stroke="#222" stroke-width="0.8" />
<line x1="423.4" y1="221" x2="423.4" y2="223.4" stroke="#222" stroke-width="0.8" />
<line x1="434" y1="221" x2="434" y2="222.5" stroke="#222" stroke-width="0.8" />
<line x1="444.6" y1="221" x2="444.6" y2="223.4" stroke="#222" stroke-width="0.8" />
<line x1="455.2" y1="221" x2="455.2" y2="222.5" stroke="#222" stroke-width="0.8" />
<line x1="465.8" y1="221" x2="465.8" y2="223.4" stroke="#222" stroke-width="0.8" />
<line x1="476.4" y1="221" x2="476.4" y2="222.5" stroke="#222" stroke-width="0.8" />
<line x1="487" y1="221" x2="487" y2="223.4" stroke="#222" stroke-width="0.8" />
<line x1="497.6" y1="221" x2="497.6" y2="222.5" stroke="#222" stroke-width="0.8" />
<line x1="508.2" y1="221" x2="508.2" y2="223.4" stroke="#222" stroke-width="0.8" />
<line x1="518.8" y1="221" x2="518.8" y2="222.5" stroke="#222" stroke-width="0.8" />
<line x1="402.2" y1="328.6" x2="402.2" y2="331" stroke="#222" stroke-width="0.8" />
<line x1="412.8" y1="328.6" x2="412.8" y2="330.1" stroke="#222" stroke-width="0.8" />
<line x1="423.4" y1="328.6" x2="423.4" y2="331" stroke="#222" stroke-width="0.8" />
<line x1="434" y1="328.6" x2="434" y2="330.1" stroke="#222" stroke-width="0.8" />
<line x1="444.6" y1="328.6" x2="444.6" y2="331" stroke="#222" stroke-width="0.8" />
<line x1="455.2" y1="328.6" x2="455.2" y2="330.1" stroke="#222" stroke-width="0.8" />
<line x1="465.8" y1="328.6" x2="465.8" y2="331" stroke="#222" stroke-width="0.8" />
<line x1="476.4" y1="328.6" x2="476.4" y2="330.1" stroke="#222" stroke-width="0.8" />
<line x1="487" y1="328.6" x2="487" y2="331" stroke="#222" stroke-width="0.8" />
<line x1="497.6" y1="328.6" x2="497.6" y2="330.1" stroke="#222" stroke-width="0.8" />
<line x1="508.2" y1="328.6" x2="508.2" y2="331" stroke="#222" stroke-width="0.8" />
<line x1="518.8" y1="328.6" x2="518.8" y2="330.1" stroke="#222" stroke-width="0.8" />
<line x1="402.2" y1="436.2" x2="402.2" y2="438.6" stroke="#222" stroke-width="0.8" />
<line x1="412.8" y1="436.2" x2="412.8" y2="437.7" stroke="#222" stroke-width="0.8" />
<line x1="423.4" y1="436.2" x2="423.4" y2="438.6" stroke="#222" stroke-width="0.8" />
<line x1="434" y1="436.2" x2="434" y2="437.7" stroke="#222" stroke-width="0.8" />
<line x1="444.6" y1="436.2" x2="444.6" y2="438.6" stroke="#222" stroke-width="0.8" />
<line x1="455.2" y1="436.2" x2="455.2" y2="437.7" stroke="#222" stroke-width="0.8" />
<line x1="465.8" y1="436.2" x2="465.8" y2="438.6" stroke="#222" stroke-width="0.8" />
<line x1="476.4" y1="436.2" x2="476.4" y2="437.7" stroke="#222" stroke-width="0.8" />
<line x1="487" y1="436.2" x2="487" y2="438.6" stroke="#222" stroke-width="0.8" />
<line x1="497.6" y1="436.2" x2="497.6" y2="437.7" stroke="#222" stroke-width="0.8" />
<line x1="508.2" y1="436.2" x2="508.2" y2="438.6" stroke="#222" stroke-width="0.8" />
<line x1="518.8" y1="436.2" x2="518.8" y2="437.7" stroke="#222" stroke-width="0.8" />
<text x="409.5" y="107.64" font-size="9.5" fill="#222" text-anchor="start" >Mix-20</text>
<text x="408.6" y="215.44" font-size="9.5" fill="#222" text-anchor="start" >SVD-0</text>
<text x="408.3" y="321.13" font-size="9.5" fill="#222" text-anchor="start" >SVD-20</text>
<text x="407.4" y="431.53" font-size="9.5" fill="#222" text-anchor="start" >SVD-120</text>
<text x="460.6" y="448.63" font-size="9.5" fill="#222" text-anchor="middle" >Depth (a.u.)</text>
<line x1="451.2" y1="14" x2="472" y2="14" stroke="#F2A05A" stroke-width="0.9" />
<circle cx="461.4" cy="14" r="2.4" fill="url(#g6)"/>
<text x="475.6" y="17.14" font-size="9.5" fill="#222" text-anchor="start" >Donor</text>
<line x1="451.2" y1="26.3" x2="472" y2="26.3" stroke="#4287F0" stroke-width="0.9" />
<circle cx="461.4" cy="26.3" r="2.4" fill="url(#g7)"/>
<text x="475.6" y="29.44" font-size="9.5" fill="#222" text-anchor="start" >Acceptor</text>
<text x="366.3" y="9.8" font-size="13.5" font-weight="bold">e</text>
<defs>
<linearGradient id="fbg" x1="0" y1="0" x2="0" y2="1"><stop offset="0" stop-color="#C4E4EF"/><stop offset="0.4" stop-color="#D8D8E0"/><stop offset="1" stop-color="#EDBCC0"/></linearGradient>
<filter id="fsh" x="-5%" y="-5%" width="115%" height="115%"><feGaussianBlur in="SourceAlpha" stdDeviation="0.8"/><feOffset dx="0.8" dy="0.8"/><feComponentTransfer><feFuncA type="linear" slope="0.35"/></feComponentTransfer><feMerge><feMergeNode/><feMergeNode in="SourceGraphic"/></feMerge></filter>
</defs>
<style>.t1{fill:none;stroke:#962226;stroke-width:3.2;stroke-linecap:round}.t2{fill:none;stroke:#C93A3D;stroke-width:2.0;stroke-linecap:round}.t1b{fill:none;stroke:#9A2629;stroke-width:2.5;stroke-linecap:round}.t2b{fill:none;stroke:#C53A3D;stroke-width:1.5;stroke-linecap:round}.t3{fill:none;stroke:#E26A6A;stroke-width:0.5;stroke-linecap:round;transform:translate(-0.45px,-0.45px)}</style>
<g filter="url(#fsh)"><rect x="535.2" y="7.2" width="147.8" height="101" rx="3" fill="url(#fbg)" stroke="#B8C4CC" stroke-width="0.6"/></g>
<svg x="535.2" y="7.2" width="147.8" height="101" overflow="hidden"><g transform="translate(-535.2,-7.2)">
<g transform="translate(546.7,14.3) rotate(39)">
<rect x="-5.7" y="-1.7" width="11.4" height="3.4" rx="0.6" fill="#3660DC"/>
<rect x="-5.1" y="-0.5" width="10.2" height="0.5" fill="#8AA8F4"/>
</g>
<g transform="translate(561.7,12) rotate(167)">
<rect x="-5.6" y="-2.2" width="11.2" height="1.8" fill="#3157D6"/>
<rect x="-5.1" y="-1.7" width="10.2" height="0.4" fill="#7E9EF2"/>
<rect x="-5.6" y="0.4" width="11.2" height="1.8" fill="#3157D6"/>
<rect x="-5.1" y="0.9" width="10.2" height="0.4" fill="#7E9EF2"/>
</g>
<g transform="translate(575.6,14) rotate(105)">
<rect x="-6.3" y="-2.2" width="12.6" height="1.8" fill="#3157D6"/>
<rect x="-5.8" y="-1.7" width="11.6" height="0.4" fill="#7E9EF2"/>
<rect x="-6.3" y="0.4" width="12.6" height="1.8" fill="#3157D6"/>
<rect x="-5.8" y="0.9" width="11.6" height="0.4" fill="#7E9EF2"/>
</g>
<g transform="translate(588.9,12.6) rotate(26)">
<rect x="-5.7" y="-1.7" width="11.4" height="3.4" rx="0.6" fill="#3660DC"/>
<rect x="-5.1" y="-0.5" width="10.2" height="0.5" fill="#8AA8F4"/>
</g>
<g transform="translate(600.5,13.3) rotate(156)">
<rect x="-6.8" y="-2.2" width="13.6" height="1.8" fill="#3157D6"/>
<rect x="-6.3" y="-1.7" width="12.6" height="0.4" fill="#7E9EF2"/>
<rect x="-6.8" y="0.4" width="13.6" height="1.8" fill="#3157D6"/>
<rect x="-6.3" y="0.9" width="12.6" height="0.4" fill="#7E9EF2"/>
</g>
<g transform="translate(614.5,16.2) rotate(133)">
<rect x="-5.9" y="-2.2" width="11.8" height="1.8" fill="#3157D6"/>
<rect x="-5.4" y="-1.7" width="10.8" height="0.4" fill="#7E9EF2"/>
<rect x="-5.9" y="0.4" width="11.8" height="1.8" fill="#3157D6"/>
<rect x="-5.4" y="0.9" width="10.8" height="0.4" fill="#7E9EF2"/>
</g>
<g transform="translate(630.1,17.7) rotate(61)">
<rect x="-5.9" y="-1.7" width="11.8" height="3.4" rx="0.6" fill="#3660DC"/>
<rect x="-5.3" y="-0.5" width="10.6" height="0.5" fill="#8AA8F4"/>
</g>
<g transform="translate(645.4,13) rotate(4)">
<rect x="-5.6" y="-2.2" width="11.3" height="1.8" fill="#3157D6"/>
<rect x="-5.1" y="-1.7" width="10.3" height="0.4" fill="#7E9EF2"/>
<rect x="-5.6" y="0.4" width="11.3" height="1.8" fill="#3157D6"/>
<rect x="-5.1" y="0.9" width="10.3" height="0.4" fill="#7E9EF2"/>
</g>
<g transform="translate(659.8,14.9) rotate(98)">
<rect x="-7" y="-2.2" width="14" height="1.8" fill="#3157D6"/>
<rect x="-6.5" y="-1.7" width="13" height="0.4" fill="#7E9EF2"/>
<rect x="-7" y="0.4" width="14" height="1.8" fill="#3157D6"/>
<rect x="-6.5" y="0.9" width="13" height="0.4" fill="#7E9EF2"/>
</g>
<g transform="translate(669.3,14.9) rotate(47)">
<rect x="-6.1" y="-2.2" width="12.3" height="1.8" fill="#3157D6"/>
<rect x="-5.6" y="-1.7" width="11.3" height="0.4" fill="#7E9EF2"/>
<rect x="-6.1" y="0.4" width="12.3" height="1.8" fill="#3157D6"/>
<rect x="-5.6" y="0.9" width="11.3" height="0.4" fill="#7E9EF2"/>
</g>
<g transform="translate(540.4,23) rotate(95)">
<rect x="-6.6" y="-1.7" width="13.1" height="3.4" rx="0.6" fill="#3660DC"/>
<rect x="-6" y="-0.5" width="11.9" height="0.5" fill="#8AA8F4"/>
</g>
<g transform="translate(559.8,25) rotate(7)">
<rect x="-6.3" y="-2.2" width="12.6" height="1.8" fill="#3157D6"/>
<rect x="-5.8" y="-1.7" width="11.6" height="0.4" fill="#7E9EF2"/>
<rect x="-6.3" y="0.4" width="12.6" height="1.8" fill="#3157D6"/>
<rect x="-5.8" y="0.9" width="11.6" height="0.4" fill="#7E9EF2"/>
</g>
<g transform="translate(578.2,24.6) rotate(96)">
<rect x="-6.2" y="-1.7" width="12.3" height="3.4" rx="0.6" fill="#3660DC"/>
<rect x="-5.6" y="-0.5" width="11.1" height="0.5" fill="#8AA8F4"/>
</g>
<g transform="translate(583.1,23.7) rotate(51)">
<rect x="-6.5" y="-2.2" width="12.9" height="1.8" fill="#3157D6"/>
<rect x="-6" y="-1.7" width="11.9" height="0.4" fill="#7E9EF2"/>
<rect x="-6.5" y="0.4" width="12.9" height="1.8" fill="#3157D6"/>
<rect x="-6" y="0.9" width="11.9" height="0.4" fill="#7E9EF2"/>
</g>
<g transform="translate(599.5,25.4) rotate(46)">
<rect x="-6.1" y="-2.2" width="12.2" height="1.8" fill="#3157D6"/>
<rect x="-5.6" y="-1.7" width="11.2" height="0.4" fill="#7E9EF2"/>
<rect x="-6.1" y="0.4" width="12.2" height="1.8" fill="#3157D6"/>
<rect x="-5.6" y="0.9" width="11.2" height="0.4" fill="#7E9EF2"/>
</g>
<g transform="translate(620.1,21.2) rotate(85)">
<rect x="-6" y="-2.2" width="11.9" height="1.8" fill="#3157D6"/>
<rect x="-5.5" y="-1.7" width="10.9" height="0.4" fill="#7E9EF2"/>
<rect x="-6" y="0.4" width="11.9" height="1.8" fill="#3157D6"/>
<rect x="-5.5" y="0.9" width="10.9" height="0.4" fill="#7E9EF2"/>
</g>
<g transform="translate(633.1,22.5) rotate(72)">
<rect x="-6.6" y="-1.7" width="13.1" height="3.4" rx="0.6" fill="#3660DC"/>
<rect x="-6" y="-0.5" width="11.9" height="0.5" fill="#8AA8F4"/>
</g>
<g transform="translate(641.4,23.6) rotate(127)">
<rect x="-6.4" y="-2.2" width="12.9" height="1.8" fill="#3157D6"/>
<rect x="-5.9" y="-1.7" width="11.9" height="0.4" fill="#7E9EF2"/>
<rect x="-6.4" y="0.4" width="12.9" height="1.8" fill="#3157D6"/>
<rect x="-5.9" y="0.9" width="11.9" height="0.4" fill="#7E9EF2"/>
</g>
<g transform="translate(657.9,22.5) rotate(3)">
<rect x="-6.4" y="-1.7" width="12.7" height="3.4" rx="0.6" fill="#3660DC"/>
<rect x="-5.8" y="-0.5" width="11.5" height="0.5" fill="#8AA8F4"/>
</g>
<g transform="translate(670.6,23.4) rotate(37)">
<rect x="-6" y="-1.7" width="11.9" height="3.4" rx="0.6" fill="#3660DC"/>
<rect x="-5.4" y="-0.5" width="10.7" height="0.5" fill="#8AA8F4"/>
</g>
<g transform="translate(547.2,30.8) rotate(170)">
<rect x="-5.7" y="-1.7" width="11.4" height="3.4" rx="0.6" fill="#3660DC"/>
<rect x="-5.1" y="-0.5" width="10.2" height="0.5" fill="#8AA8F4"/>
</g>
<g transform="translate(558.2,31.3) rotate(76)">
<rect x="-5.6" y="-1.7" width="11.2" height="3.4" rx="0.6" fill="#3660DC"/>
<rect x="-5" y="-0.5" width="10" height="0.5" fill="#8AA8F4"/>
</g>
<g transform="translate(575.9,31.3) rotate(72)">
<rect x="-6.4" y="-2.2" width="12.9" height="1.8" fill="#3157D6"/>
<rect x="-5.9" y="-1.7" width="11.9" height="0.4" fill="#7E9EF2"/>
<rect x="-6.4" y="0.4" width="12.9" height="1.8" fill="#3157D6"/>
<rect x="-5.9" y="0.9" width="11.9" height="0.4" fill="#7E9EF2"/>
</g>
<g transform="translate(590.2,29.9) rotate(36)">
<rect x="-6.4" y="-2.2" width="12.7" height="1.8" fill="#3157D6"/>
<rect x="-5.9" y="-1.7" width="11.7" height="0.4" fill="#7E9EF2"/>
<rect x="-6.4" y="0.4" width="12.7" height="1.8" fill="#3157D6"/>
<rect x="-5.9" y="0.9" width="11.7" height="0.4" fill="#7E9EF2"/>
</g>
<g transform="translate(605.5,32.5) rotate(19)">
<rect x="-6.8" y="-2.2" width="13.6" height="1.8" fill="#3157D6"/>
<rect x="-6.3" y="-1.7" width="12.6" height="0.4" fill="#7E9EF2"/>
<rect x="-6.8" y="0.4" width="13.6" height="1.8" fill="#3157D6"/>
<rect x="-6.3" y="0.9" width="12.6" height="0.4" fill="#7E9EF2"/>
</g>
<g transform="translate(620.5,34.8) rotate(104)">
<rect x="-5.9" y="-2.2" width="11.8" height="1.8" fill="#3157D6"/>
<rect x="-5.4" y="-1.7" width="10.8" height="0.4" fill="#7E9EF2"/>
<rect x="-5.9" y="0.4" width="11.8" height="1.8" fill="#3157D6"/>
<rect x="-5.4" y="0.9" width="10.8" height="0.4" fill="#7E9EF2"/>
</g>
<g transform="translate(633.8,30) rotate(120)">
<rect x="-5.6" y="-1.7" width="11.1" height="3.4" rx="0.6" fill="#3660DC"/>
<rect x="-5" y="-0.5" width="9.9" height="0.5" fill="#8AA8F4"/>
</g>
<g transform="translate(647,33.1) rotate(91)">
<rect x="-6" y="-2.2" width="12" height="1.8" fill="#3157D6"/>
<rect x="-5.5" y="-1.7" width="11" height="0.4" fill="#7E9EF2"/>
<rect x="-6" y="0.4" width="12" height="1.8" fill="#3157D6"/>
<rect x="-5.5" y="0.9" width="11" height="0.4" fill="#7E9EF2"/>
</g>
<g transform="translate(662.6,33.4) rotate(165)">
<rect x="-6.5" y="-2.2" width="12.9" height="1.8" fill="#3157D6"/>
<rect x="-6" y="-1.7" width="11.9" height="0.4" fill="#7E9EF2"/>
<rect x="-6.5" y="0.4" width="12.9" height="1.8" fill="#3157D6"/>
<rect x="-6" y="0.9" width="11.9" height="0.4" fill="#7E9EF2"/>
</g>
<g transform="translate(671.4,35.5) rotate(22)">
<rect x="-6.1" y="-2.2" width="12.3" height="1.8" fill="#3157D6"/>
<rect x="-5.6" y="-1.7" width="11.3" height="0.4" fill="#7E9EF2"/>
<rect x="-6.1" y="0.4" width="12.3" height="1.8" fill="#3157D6"/>
<rect x="-5.6" y="0.9" width="11.3" height="0.4" fill="#7E9EF2"/>
</g>
<defs><path id="p1" d="M546.9 87.5Q546 90.4 545.5 91.8Q545.1 93.2 544.7 94.7Q544.3 96.1 544.2 97.6Q544 99.1 544 100.6Q544 102.1 544.2 103.6Q544.4 105.1 544.7 106.6Q545 108 545.4 109.5Q545.7 110.9 545.9 112.4Q546.1 113.9 546 115.4Q545.8 116.9 545.2 118.2L544.6 119.6"/></defs><use href="#p1" class="t1"/><use href="#p1" class="t2"/><use href="#p1" class="t3"/>
<defs><path id="p2" d="M588.1 43.9Q590.7 42.5 592.2 42.3Q593.7 42 595.1 42.3Q596.6 42.6 598 43.2Q599.4 43.8 600.8 44.3Q602.1 44.9 603.6 45.3Q605 45.7 606.5 45.8Q608 45.8 609.5 45.8Q611 45.7 612.5 45.8L614 45.9"/></defs><use href="#p2" class="t1"/><use href="#p2" class="t2"/><use href="#p2" class="t3"/>
<defs><path id="p3" d="M573.1 96.1Q572.4 99 572 100.5Q571.5 101.9 571 103.3Q570.5 104.7 569.8 106.1Q569.1 107.4 568.2 108.6Q567.3 109.8 566.1 110.7Q564.9 111.5 563.5 112.1L562.1 112.7"/></defs><use href="#p3" class="t1"/><use href="#p3" class="t2"/><use href="#p3" class="t3"/>
<g transform="translate(603.1,100) rotate(152)">
<rect x="-6.3" y="-2" width="12.5" height="1.7" fill="#3157D6"/>
<rect x="-5.8" y="-1.5" width="11.5" height="0.4" fill="#7E9EF2"/>
<rect x="-6.3" y="0.4" width="12.5" height="1.7" fill="#3157D6"/>
<rect x="-5.8" y="0.9" width="11.5" height="0.4" fill="#7E9EF2"/>
</g>
<defs><path id="p4" d="M540.1 70.5Q539.3 67.6 539.3 66.1Q539.3 64.6 539.8 63.2Q540.2 61.7 541.2 60.6Q542.1 59.4 543.3 58.6Q544.6 57.7 546 57.3Q547.5 56.9 549 57.1Q550.5 57.2 551.9 57.6Q553.4 58 554.7 58.7L556 59.4"/></defs><use href="#p4" class="t1"/><use href="#p4" class="t2"/><use href="#p4" class="t3"/>
<defs><path id="p5" d="M653.6 79Q651.2 77.3 650 76.4Q648.7 75.5 647.4 74.8Q646.1 74 644.8 73.4Q643.4 72.8 642 72.2Q640.6 71.7 639.1 71.4Q637.7 71.1 636.2 71.2Q634.7 71.2 633.2 71.5L631.7 71.8"/></defs><use href="#p5" class="t1"/><use href="#p5" class="t2"/><use href="#p5" class="t3"/>
<defs><path id="p6" d="M605.6 97.2Q603.2 95.4 602 94.5Q600.8 93.6 599.6 92.7Q598.4 91.8 597.2 90.9Q596 90 594.8 89.1Q593.6 88.2 592.4 87.3Q591.2 86.4 590 85.4Q588.8 84.5 587.6 83.7Q586.4 82.8 585.2 81.9Q584 81 582.9 80Q581.8 78.9 580.7 77.9L579.6 76.8"/></defs><use href="#p6" class="t1"/><use href="#p6" class="t2"/><use href="#p6" class="t3"/>
<defs><path id="p7" d="M553.7 41.2Q550.7 40.5 549.3 40Q547.9 39.5 546.5 39Q545.1 38.4 543.8 37.6Q542.5 36.9 541.3 36.1Q540 35.3 538.7 34.5Q537.4 33.8 536.1 33Q534.8 32.2 533.5 31.6Q532.1 30.9 530.7 30.4L529.3 29.9"/></defs><use href="#p7" class="t1"/><use href="#p7" class="t2"/><use href="#p7" class="t3"/>
<g transform="translate(602.9,60.8) rotate(178)">
<rect x="-5" y="-1.6" width="10.1" height="3.2" rx="0.6" fill="#3660DC"/>
<rect x="-4.4" y="-0.5" width="8.9" height="0.5" fill="#8AA8F4"/>
</g>
<defs><path id="p8" d="M607.8 75.9Q609.8 78.2 610.6 79.4Q611.5 80.7 612.4 81.9Q613.3 83 614.4 84.1Q615.5 85.1 616.7 86Q617.9 86.9 619 87.8Q620.2 88.8 621.3 89.8Q622.4 90.9 623.5 91.9Q624.5 92.9 625.6 94Q626.7 95 627.7 96.1Q628.8 97.2 630 98.1Q631.2 98.9 632.5 99.7L633.8 100.5"/></defs><use href="#p8" class="t1"/><use href="#p8" class="t2"/><use href="#p8" class="t3"/>
<defs><path id="p9" d="M609.2 62.4Q610.5 59.7 611.6 58.7Q612.7 57.6 614 57Q615.4 56.4 616.9 56.2Q618.4 55.9 619.9 55.9Q621.4 55.8 622.9 55.9Q624.4 55.9 625.9 56Q627.4 56.1 628.9 56.1Q630.4 56.1 631.8 55.9Q633.3 55.7 634.8 55.3Q636.2 54.9 637.7 54.6Q639.1 54.2 640.6 53.7Q642 53.2 643.4 52.9L644.9 52.5"/></defs><use href="#p9" class="t1"/><use href="#p9" class="t2"/><use href="#p9" class="t3"/>
<defs><path id="p10" d="M653.9 68.3Q650.9 68.6 649.5 69.2Q648.2 69.9 647.1 70.9Q646.1 72 645.5 73.4Q644.8 74.7 644.7 76.2Q644.6 77.7 645 79.2Q645.4 80.6 646.3 81.8Q647.2 83 648.4 83.9Q649.7 84.7 651.1 85.1Q652.6 85.5 654.1 85.4L655.6 85.3"/></defs><use href="#p10" class="t1"/><use href="#p10" class="t2"/><use href="#p10" class="t3"/>
<defs><path id="p11" d="M578.3 82.8Q581.2 83.8 582.7 83.9Q584.2 84.1 585.7 84.1Q587.2 84.2 588.7 84.2Q590.2 84.1 591.6 83.9Q593.1 83.6 594.5 83.1Q595.9 82.5 597.3 82Q598.7 81.5 600 80.7Q601.3 80 602.6 79.2Q603.9 78.5 605.2 77.7Q606.5 76.9 607.6 76Q608.8 75 609.8 73.9Q610.9 72.8 611.5 71.5L612.2 70.2"/></defs><use href="#p11" class="t1"/><use href="#p11" class="t2"/><use href="#p11" class="t3"/>
<defs><path id="p12" d="M624.1 48.1Q623.7 51.1 623 52.4Q622.3 53.7 621.2 54.8Q620.1 55.8 618.8 56.4Q617.4 56.9 615.9 57.1Q614.4 57.3 612.9 56.9Q611.5 56.6 610.2 55.8Q608.9 55 608 53.8Q607.1 52.6 606.4 51.3Q605.7 50 605.1 48.6Q604.4 47.2 603.9 45.8Q603.4 44.4 602.8 43L602.3 41.7"/></defs><use href="#p12" class="t1"/><use href="#p12" class="t2"/><use href="#p12" class="t3"/>
<g transform="translate(542.2,102.1) rotate(96)">
<rect x="-6.3" y="-1.6" width="12.7" height="3.2" rx="0.6" fill="#3660DC"/>
<rect x="-5.7" y="-0.5" width="11.5" height="0.5" fill="#8AA8F4"/>
</g>
<defs><path id="p13" d="M649.2 49.3Q649.2 46.3 649.3 44.8Q649.4 43.3 649.7 41.8Q649.9 40.3 650.1 38.8Q650.3 37.3 650.6 35.9Q650.9 34.4 651.3 33L651.7 31.5"/></defs><use href="#p13" class="t1"/><use href="#p13" class="t2"/><use href="#p13" class="t3"/>
<g transform="translate(645.3,44.3) rotate(13)">
<rect x="-6" y="-1.6" width="11.9" height="3.2" rx="0.6" fill="#3660DC"/>
<rect x="-5.4" y="-0.5" width="10.7" height="0.5" fill="#8AA8F4"/>
</g>
<g transform="translate(592,84.2) rotate(139)">
<rect x="-5.2" y="-2" width="10.3" height="1.7" fill="#3157D6"/>
<rect x="-4.7" y="-1.5" width="9.3" height="0.4" fill="#7E9EF2"/>
<rect x="-5.2" y="0.4" width="10.3" height="1.7" fill="#3157D6"/>
<rect x="-4.7" y="0.9" width="9.3" height="0.4" fill="#7E9EF2"/>
</g>
<defs><path id="p14" d="M669.7 93.3Q671.2 95.9 671.4 97.3Q671.7 98.8 671.7 100.3Q671.7 101.8 671.4 103.3Q671.1 104.8 670.6 106.2Q670.1 107.6 669.6 109Q669 110.4 668.4 111.7Q667.7 113.1 666.9 114.3L666.1 115.6"/></defs><use href="#p14" class="t1"/><use href="#p14" class="t2"/><use href="#p14" class="t3"/>
<g transform="translate(636.6,82.6) rotate(58)">
<rect x="-5.9" y="-1.6" width="11.9" height="3.2" rx="0.6" fill="#3660DC"/>
<rect x="-5.3" y="-0.5" width="10.7" height="0.5" fill="#8AA8F4"/>
</g>
<g transform="translate(649.6,98.4) rotate(88)">
<rect x="-5.4" y="-1.6" width="10.9" height="3.2" rx="0.6" fill="#3660DC"/>
<rect x="-4.8" y="-0.5" width="9.7" height="0.5" fill="#8AA8F4"/>
</g>
<g transform="translate(678.3,50.7) rotate(68)">
<rect x="-5.9" y="-2" width="11.8" height="1.7" fill="#3157D6"/>
<rect x="-5.4" y="-1.5" width="10.8" height="0.4" fill="#7E9EF2"/>
<rect x="-5.9" y="0.4" width="11.8" height="1.7" fill="#3157D6"/>
<rect x="-5.4" y="0.9" width="10.8" height="0.4" fill="#7E9EF2"/>
</g>
<defs><path id="p15" d="M557.6 50.5Q560.4 49.6 561.9 49.2Q563.3 48.9 564.8 48.4Q566.2 47.9 567.6 47.5Q569.1 47.1 570.6 46.9Q572 46.7 573.5 46.7Q575 46.8 576.5 47.2Q577.9 47.7 579.1 48.6L580.3 49.5"/></defs><use href="#p15" class="t1"/><use href="#p15" class="t2"/><use href="#p15" class="t3"/>
<defs><path id="p16" d="M616.4 50.1Q613.4 49.8 612 49.5Q610.5 49.2 609.1 48.8Q607.6 48.4 606.3 47.7Q604.9 47 603.8 46Q602.7 45 602 43.7Q601.4 42.3 601.2 40.8Q601 39.3 601.3 37.9Q601.7 36.4 602.5 35.2Q603.3 33.9 604.5 33Q605.7 32.1 607.1 31.6L608.5 31.1"/></defs><use href="#p16" class="t1"/><use href="#p16" class="t2"/><use href="#p16" class="t3"/>
<defs><path id="p17" d="M659 43.2Q658.1 46.1 657.5 47.4Q657 48.8 656.2 50.1Q655.3 51.3 654.2 52.3Q653.1 53.3 651.7 53.8Q650.3 54.4 648.8 54.4Q647.3 54.4 645.8 54Q644.3 53.7 643 52.9Q641.8 52.2 640.8 51Q639.9 49.8 639.4 48.4Q638.9 47 638.9 45.5L638.9 44"/></defs><use href="#p17" class="t1"/><use href="#p17" class="t2"/><use href="#p17" class="t3"/>
<defs><path id="p18" d="M557.2 98.5Q559.3 100.6 560.3 101.7Q561.4 102.8 562.4 103.9Q563.4 105 564.4 106.1Q565.5 107.2 566.4 108.4Q567.4 109.5 568.5 110.5Q569.6 111.5 570.8 112.5Q571.9 113.4 573.2 114.2Q574.5 115.1 575.8 115.7Q577.1 116.4 578.6 116.8L580 117.3"/></defs><use href="#p18" class="t1"/><use href="#p18" class="t2"/><use href="#p18" class="t3"/>
<defs><path id="p19" d="M556.8 55.4Q554.2 56.8 552.9 57.4Q551.5 58 550.1 58.7Q548.8 59.3 547.4 59.8Q546 60.4 544.6 61Q543.2 61.6 541.9 62.4Q540.7 63.2 539.4 64Q538.2 64.9 537 65.7Q535.7 66.5 534.3 67.1Q532.9 67.7 531.5 67.9Q530 68.2 528.5 67.8L527 67.5"/></defs><use href="#p19" class="t1"/><use href="#p19" class="t2"/><use href="#p19" class="t3"/>
<defs><path id="p20" d="M562.3 95.2Q564.4 97.2 565.7 98.1Q566.9 98.9 568.3 99.5Q569.7 100.1 571.2 100.2Q572.7 100.4 574.1 100.1Q575.6 99.7 576.8 98.9Q578.1 98.1 579 96.9Q579.9 95.7 580.3 94.2Q580.7 92.8 580.8 91.3Q580.9 89.8 580.5 88.4L580 86.9"/></defs><use href="#p20" class="t1"/><use href="#p20" class="t2"/><use href="#p20" class="t3"/>
<defs><path id="p21" d="M550.5 47.1Q549 44.5 548.4 43.1Q547.7 41.7 547 40.4Q546.3 39.1 545.4 37.9Q544.5 36.7 543.4 35.6Q542.4 34.6 541.1 33.8Q539.8 33.1 538.3 32.9Q536.8 32.6 535.3 32.9Q533.9 33.1 532.5 33.7L531.1 34.3"/></defs><use href="#p21" class="t1"/><use href="#p21" class="t2"/><use href="#p21" class="t3"/>
<defs><path id="p22" d="M680 102.5Q681.8 104.9 682.3 106.3Q682.8 107.7 682.8 109.2Q682.8 110.7 682.5 112.2Q682.2 113.6 681.5 115Q680.9 116.4 680 117.5Q679 118.7 677.8 119.6L676.7 120.5"/></defs><use href="#p22" class="t1"/><use href="#p22" class="t2"/><use href="#p22" class="t3"/>
<defs><path id="p23" d="M570.8 34.7Q573 32.6 574.1 31.5Q575.2 30.5 576.2 29.5Q577.3 28.4 578.4 29.4Q579.6 30.4 580.6 31.4Q581.7 32.4 582.8 33.5Q583.9 34.5 584.9 35.6Q585.9 36.8 586.9 37.8Q588 38.9 589.1 39.9Q590.2 40.9 591.2 42Q592.2 43.1 593 44.4Q593.7 45.7 594 47.2Q594.3 48.7 594 50.2L593.8 51.6"/></defs><use href="#p23" class="t1"/><use href="#p23" class="t2"/><use href="#p23" class="t3"/>
<defs><path id="p24" d="M570.9 58Q572.2 60.7 572.4 62.2Q572.6 63.7 572.2 65.1Q571.9 66.6 571.1 67.9Q570.3 69.2 569.2 70.2Q568.1 71.2 566.8 72Q565.5 72.7 564.2 73.4Q562.8 74 561.4 74.5Q560 75 558.5 75.3Q557.1 75.5 555.6 75.5Q554.1 75.5 552.6 75.2Q551.1 75 549.7 74.6Q548.2 74.1 547 73.3L545.7 72.5"/></defs><use href="#p24" class="t1"/><use href="#p24" class="t2"/><use href="#p24" class="t3"/>
<g transform="translate(609.7,42.3) rotate(48)">
<rect x="-6.4" y="-1.6" width="12.9" height="3.2" rx="0.6" fill="#3660DC"/>
<rect x="-5.8" y="-0.5" width="11.7" height="0.5" fill="#8AA8F4"/>
</g>
<defs><path id="p25" d="M676.4 39.5Q677.9 42.1 678.6 43.4Q679.4 44.7 680.1 46Q680.8 47.3 681.6 48.6Q682.3 49.9 683.2 51.2Q684 52.4 685.1 53.4Q686.2 54.5 687.5 55.3Q688.7 56.1 690.1 56.5L691.6 57"/></defs><use href="#p25" class="t1"/><use href="#p25" class="t2"/><use href="#p25" class="t3"/>
<defs><path id="p26" d="M606.6 89.8Q603.8 90.9 602.3 91Q600.8 91.1 599.4 90.6Q597.9 90.1 596.7 89.3Q595.5 88.5 594.4 87.4Q593.4 86.3 592.8 84.9Q592.2 83.6 591.9 82.1Q591.6 80.6 591.8 79.1Q591.9 77.6 592.3 76.2Q592.6 74.7 593.3 73.4Q594 72 594.8 70.8Q595.7 69.6 596.9 68.7Q598.1 67.7 599.5 67.3L600.9 66.9"/></defs><use href="#p26" class="t1"/><use href="#p26" class="t2"/><use href="#p26" class="t3"/>
<defs><path id="p27" d="M641.7 64.5Q638.8 63.8 637.3 63.7Q635.8 63.7 634.3 64.1Q632.9 64.4 631.6 65.1Q630.3 65.9 629.2 66.9Q628.1 67.9 627.4 69.3Q626.7 70.6 626.5 72.1Q626.3 73.6 626.7 75.1L627 76.5"/></defs><use href="#p27" class="t1"/><use href="#p27" class="t2"/><use href="#p27" class="t3"/>
<g transform="translate(575.2,69.7) rotate(33)">
<rect x="-5.4" y="-2" width="10.9" height="1.7" fill="#3157D6"/>
<rect x="-4.9" y="-1.5" width="9.9" height="0.4" fill="#7E9EF2"/>
<rect x="-5.4" y="0.4" width="10.9" height="1.7" fill="#3157D6"/>
<rect x="-4.9" y="0.9" width="9.9" height="0.4" fill="#7E9EF2"/>
</g>
<g transform="translate(658.6,76.1) rotate(25)">
<rect x="-6.3" y="-1.6" width="12.6" height="3.2" rx="0.6" fill="#3660DC"/>
<rect x="-5.7" y="-0.5" width="11.4" height="0.5" fill="#8AA8F4"/>
</g>
<defs><path id="p28" d="M585.2 62.4Q588.1 62.9 589.6 63.3Q591 63.7 592.4 64.2Q593.8 64.8 595.2 65.5Q596.5 66.1 597.6 67.1Q598.8 68.1 599.8 69.1Q600.9 70.2 602 71.3Q603 72.3 604 73.5Q604.9 74.6 605.7 75.9Q606.5 77.2 607.2 78.5L607.9 79.8"/></defs><use href="#p28" class="t1"/><use href="#p28" class="t2"/><use href="#p28" class="t3"/>
<g transform="translate(585.3,60.4) rotate(70)">
<rect x="-6" y="-1.6" width="12" height="3.2" rx="0.6" fill="#3660DC"/>
<rect x="-5.4" y="-0.5" width="10.8" height="0.5" fill="#8AA8F4"/>
</g>
<defs><path id="p29" d="M580.1 74.3Q578.9 77 578 78.2Q577.2 79.5 576 80.4Q574.8 81.4 573.4 81.9Q572 82.4 570.5 82.4Q569 82.3 567.6 81.8Q566.2 81.3 565.1 80.3Q563.9 79.3 563.2 78Q562.4 76.7 562.2 75.3Q561.9 73.8 562.2 72.3Q562.5 70.8 563.2 69.5Q563.9 68.2 564.8 67L565.8 65.9"/></defs><use href="#p29" class="t1"/><use href="#p29" class="t2"/><use href="#p29" class="t3"/>
<g transform="translate(668.9,96.2) rotate(179)">
<rect x="-5.2" y="-1.6" width="10.3" height="3.2" rx="0.6" fill="#3660DC"/>
<rect x="-4.6" y="-0.5" width="9.1" height="0.5" fill="#8AA8F4"/>
</g>
<defs><path id="p30" d="M668.5 46.6Q665.5 46.7 664 47Q662.6 47.4 661.2 47.9Q659.8 48.5 658.4 49.1Q657 49.7 655.6 50.2Q654.2 50.7 652.8 51.2Q651.4 51.6 649.9 51.9Q648.4 52.2 646.9 52.2Q645.4 52.3 644 51.9Q642.5 51.6 641.2 50.9Q639.8 50.2 638.6 49.4Q637.4 48.5 636.3 47.5Q635.1 46.5 634.3 45.3L633.4 44.1"/></defs><use href="#p30" class="t1"/><use href="#p30" class="t2"/><use href="#p30" class="t3"/>
<g transform="translate(564.8,73.1) rotate(141)">
<rect x="-6.2" y="-2" width="12.5" height="1.7" fill="#3157D6"/>
<rect x="-5.7" y="-1.5" width="11.5" height="0.4" fill="#7E9EF2"/>
<rect x="-6.2" y="0.4" width="12.5" height="1.7" fill="#3157D6"/>
<rect x="-5.7" y="0.9" width="11.5" height="0.4" fill="#7E9EF2"/>
</g>
<defs><path id="p31" d="M562.9 82.3Q565.8 83.2 567.2 83.1Q568.7 83 570.1 82.4Q571.5 81.8 572.6 80.8Q573.7 79.7 574.4 78.4Q575 77 575.3 75.6Q575.5 74.1 575.2 72.6Q575 71.1 574.2 69.8L573.4 68.6"/></defs><use href="#p31" class="t1"/><use href="#p31" class="t2"/><use href="#p31" class="t3"/>
<defs><path id="p32" d="M609.3 85.4Q611.6 83.6 613 82.9Q614.3 82.2 615.7 81.6Q617.1 81 618.4 80.4Q619.8 79.8 621.2 79.2Q622.6 78.6 624 78.1Q625.4 77.7 626.9 77.4Q628.4 77.1 629.9 77.1Q631.4 77.2 632.8 77.5Q634.3 77.8 635.7 78.3Q637.1 78.8 638.5 79.5Q639.8 80.1 641 81Q642.2 81.9 643.2 83.1L644.1 84.2"/></defs><use href="#p32" class="t1"/><use href="#p32" class="t2"/><use href="#p32" class="t3"/>
<g transform="translate(673.7,58.3) rotate(173)">
<rect x="-5.5" y="-2" width="10.9" height="1.7" fill="#3157D6"/>
<rect x="-5" y="-1.5" width="9.9" height="0.4" fill="#7E9EF2"/>
<rect x="-5.5" y="0.4" width="10.9" height="1.7" fill="#3157D6"/>
<rect x="-5" y="0.9" width="9.9" height="0.4" fill="#7E9EF2"/>
</g>
<defs><path id="p33" d="M660.9 104.1Q660.6 107.1 660.3 108.6Q660 110 659.5 111.4Q658.9 112.8 658.2 114.1Q657.4 115.4 656.3 116.4Q655.1 117.4 653.8 118Q652.4 118.6 650.9 118.9Q649.5 119.2 648 118.9Q646.5 118.7 645.2 118Q643.9 117.2 642.8 116.2L641.7 115.2"/></defs><use href="#p33" class="t1"/><use href="#p33" class="t2"/><use href="#p33" class="t3"/>
<defs><path id="p34" d="M642.4 43.2Q641.8 40.3 642 38.8Q642.3 37.3 642.9 35.9Q643.5 34.6 644.6 33.5Q645.7 32.4 647 31.7Q648.2 30.9 649.7 30.6L651.2 30.3"/></defs><use href="#p34" class="t1"/><use href="#p34" class="t2"/><use href="#p34" class="t3"/>
<defs><path id="p35" d="M605.5 54.4Q607.2 51.9 608 50.7Q608.9 49.5 609.6 48.2Q610.4 46.9 611.3 45.7Q612.1 44.4 613.2 43.4Q614.3 42.4 615.6 41.7Q617 41 618.5 40.8Q619.9 40.6 621.4 40.7Q622.9 40.7 624.4 40.9Q625.9 41 627.4 41.3Q628.9 41.6 630.2 42.3L631.6 42.9"/></defs><use href="#p35" class="t1"/><use href="#p35" class="t2"/><use href="#p35" class="t3"/>
<defs><path id="p36" d="M616.6 90.9Q614 89.3 612.6 89Q611.1 88.6 609.6 88.5Q608.1 88.4 606.7 88.8Q605.2 89.2 604 90Q602.7 90.9 601.9 92.1Q601 93.3 600.6 94.7Q600.2 96.2 600.3 97.7Q600.4 99.2 601 100.5Q601.7 101.9 602.7 103Q603.8 104 605.1 104.7L606.5 105.3"/></defs><use href="#p36" class="t1"/><use href="#p36" class="t2"/><use href="#p36" class="t3"/>
<defs><path id="p37" d="M634.2 75.9Q634.4 72.9 634.2 71.4Q633.9 69.9 633.4 68.5Q632.9 67.1 632.2 65.8Q631.4 64.5 630.4 63.4Q629.4 62.3 628.2 61.4Q627 60.5 625.6 59.9Q624.2 59.2 622.8 59Q621.3 58.8 619.8 59.2Q618.3 59.5 617.1 60.3Q615.8 61.1 614.9 62.3Q613.9 63.4 613.3 64.8L612.8 66.2"/></defs><use href="#p37" class="t1"/><use href="#p37" class="t2"/><use href="#p37" class="t3"/>
<defs><path id="p38" d="M603.9 74.7Q605.3 72.1 605.5 70.6Q605.7 69.1 605.5 67.6Q605.3 66.2 604.5 64.9Q603.8 63.5 602.7 62.6Q601.5 61.6 600.2 61Q598.8 60.4 597.3 60.3L595.8 60.2"/></defs><use href="#p38" class="t1"/><use href="#p38" class="t2"/><use href="#p38" class="t3"/>
<defs><path id="p39" d="M679.5 67.3Q681.8 65.3 682.7 64.1Q683.6 62.9 684 61.5Q684.5 60.1 684.8 58.6Q685.1 57.1 685.2 55.6Q685.3 54.1 685.2 52.6Q685 51.1 684.6 49.7Q684.1 48.3 683.5 46.9Q682.8 45.6 682.1 44.3Q681.3 43 680.6 41.7L679.8 40.4"/></defs><use href="#p39" class="t1"/><use href="#p39" class="t2"/><use href="#p39" class="t3"/>
<defs><path id="p40" d="M583.9 50Q581.3 48.4 580 47.7Q578.7 47 577.5 46Q576.3 45.1 575.3 44Q574.2 42.9 573.2 41.8Q572.2 40.7 571.4 39.5Q570.5 38.3 569.9 36.9Q569.2 35.6 569.1 34.1Q568.9 32.6 569.3 31.1L569.7 29.7"/></defs><use href="#p40" class="t1"/><use href="#p40" class="t2"/><use href="#p40" class="t3"/>
<defs><path id="p41" d="M657.6 89.4Q660.5 90.2 662 90.3Q663.5 90.4 665 90.4Q666.5 90.3 667.9 90Q669.4 89.7 670.7 89Q672 88.3 673.1 87.2Q674.1 86.1 674.6 84.7Q675.2 83.3 675.3 81.8Q675.5 80.3 675.4 78.8Q675.3 77.3 674.9 75.9Q674.5 74.4 674.1 73L673.7 71.5"/></defs><use href="#p41" class="t1"/><use href="#p41" class="t2"/><use href="#p41" class="t3"/>
<defs><path id="p42" d="M647.8 79.6Q645 78.8 643.5 78.8Q642 78.9 640.6 79.5Q639.2 80.1 638 81Q636.8 81.9 635.7 83Q634.7 84 633.8 85.2Q632.9 86.4 632 87.7L631.1 88.9"/></defs><use href="#p42" class="t1"/><use href="#p42" class="t2"/><use href="#p42" class="t3"/>
<g transform="translate(646.6,67.7) rotate(28)">
<rect x="-6" y="-1.6" width="12" height="3.2" rx="0.6" fill="#3660DC"/>
<rect x="-5.4" y="-0.5" width="10.8" height="0.5" fill="#8AA8F4"/>
</g>
<defs><path id="p43" d="M653.5 59.9Q654.9 62.5 655.1 64Q655.3 65.5 655 67Q654.6 68.4 654.1 69.8Q653.5 71.2 652.6 72.4Q651.7 73.6 650.5 74.5Q649.2 75.3 647.8 75.7Q646.3 76 644.8 76Q643.3 75.9 641.9 75.6Q640.4 75.3 639.1 74.5Q637.9 73.7 637 72.5L636.1 71.3"/></defs><use href="#p43" class="t1"/><use href="#p43" class="t2"/><use href="#p43" class="t3"/>
<defs><path id="p44" d="M542.6 77.8Q541.7 75 541.2 73.6Q540.6 72.2 539.9 70.8Q539.2 69.5 538.5 68.2Q537.8 66.9 537 65.7Q536.1 64.4 535.1 63.3Q534.1 62.2 533.2 61Q532.2 59.8 531.4 58.6Q530.6 57.3 529.7 56.1Q528.8 54.9 528.1 53.6Q527.3 52.3 526.9 50.9L526.4 49.4"/></defs><use href="#p44" class="t1"/><use href="#p44" class="t2"/><use href="#p44" class="t3"/>
<g transform="translate(567.6,43) rotate(50)">
<rect x="-5.7" y="-1.6" width="11.5" height="3.2" rx="0.6" fill="#3660DC"/>
<rect x="-5.1" y="-0.5" width="10.3" height="0.5" fill="#8AA8F4"/>
</g>
<g transform="translate(620.9,60.1) rotate(61)">
<rect x="-6.5" y="-2" width="13" height="1.7" fill="#3157D6"/>
<rect x="-6" y="-1.5" width="12" height="0.4" fill="#7E9EF2"/>
<rect x="-6.5" y="0.4" width="13" height="1.7" fill="#3157D6"/>
<rect x="-6" y="0.9" width="12" height="0.4" fill="#7E9EF2"/>
</g>
<defs><path id="p45" d="M643.4 100.7Q640.4 101 639 100.7Q637.5 100.3 636.1 99.8Q634.7 99.2 633.6 98.2Q632.4 97.3 631.4 96.2Q630.4 95.1 629.7 93.8Q629 92.4 628.7 91Q628.5 89.5 628.7 88Q629 86.5 629.8 85.2Q630.5 84 631.5 82.9Q632.6 81.8 633.8 80.9L635.1 80.1"/></defs><use href="#p45" class="t1"/><use href="#p45" class="t2"/><use href="#p45" class="t3"/>
<defs><path id="p46" d="M550.8 63.4Q553.8 62.8 555.2 62.7Q556.7 62.5 558.2 62.1Q559.6 61.7 561.1 61.4Q562.6 61.1 564 60.8Q565.5 60.5 567 60.5Q568.5 60.4 570 60.7Q571.5 61 572.8 61.6Q574.2 62.2 575.4 63Q576.7 63.8 577.8 64.9L578.9 65.9"/></defs><use href="#p46" class="t1"/><use href="#p46" class="t2"/><use href="#p46" class="t3"/>
<g transform="translate(571.3,102.7) rotate(90)">
<rect x="-5" y="-2" width="10.1" height="1.7" fill="#3157D6"/>
<rect x="-4.5" y="-1.5" width="9.1" height="0.4" fill="#7E9EF2"/>
<rect x="-5" y="0.4" width="10.1" height="1.7" fill="#3157D6"/>
<rect x="-4.5" y="0.9" width="9.1" height="0.4" fill="#7E9EF2"/>
</g>
<defs><path id="p47" d="M670.8 58.4Q673.6 57.3 674.9 56.6Q676.3 55.9 677.5 55.1Q678.7 54.2 679.7 53.1Q680.8 52 681.4 50.7Q682.1 49.3 682.3 47.9Q682.6 46.4 682.5 44.9Q682.3 43.4 681.9 42Q681.5 40.5 680.7 39.2L679.9 38"/></defs><use href="#p47" class="t1"/><use href="#p47" class="t2"/><use href="#p47" class="t3"/>
<g transform="translate(628.1,103.4) rotate(85)">
<rect x="-6.3" y="-1.6" width="12.5" height="3.2" rx="0.6" fill="#3660DC"/>
<rect x="-5.7" y="-0.5" width="11.3" height="0.5" fill="#8AA8F4"/>
</g>
<g transform="translate(556.3,51.4) rotate(92)">
<rect x="-5.4" y="-2" width="10.8" height="1.7" fill="#3157D6"/>
<rect x="-4.9" y="-1.5" width="9.8" height="0.4" fill="#7E9EF2"/>
<rect x="-5.4" y="0.4" width="10.8" height="1.7" fill="#3157D6"/>
<rect x="-4.9" y="0.9" width="9.8" height="0.4" fill="#7E9EF2"/>
</g>
<g transform="translate(597.2,51.1) rotate(32)">
<rect x="-6" y="-2" width="12" height="1.7" fill="#3157D6"/>
<rect x="-5.5" y="-1.5" width="11" height="0.4" fill="#7E9EF2"/>
<rect x="-6" y="0.4" width="12" height="1.7" fill="#3157D6"/>
<rect x="-5.5" y="0.9" width="11" height="0.4" fill="#7E9EF2"/>
</g>
<g transform="translate(661.8,85.9) rotate(123)">
<rect x="-6.2" y="-1.6" width="12.4" height="3.2" rx="0.6" fill="#3660DC"/>
<rect x="-5.6" y="-0.5" width="11.2" height="0.5" fill="#8AA8F4"/>
</g>
<defs><path id="p48" d="M564.8 75.4Q562.6 77.4 561.4 78.4Q560.2 79.3 558.9 80Q557.6 80.7 556.2 81.3Q554.8 81.9 553.4 82.3Q551.9 82.6 550.4 82.8Q548.9 83 547.4 82.9Q545.9 82.8 544.5 82.4Q543 82 541.6 81.6Q540.1 81.2 538.7 80.8Q537.2 80.5 535.7 80.2L534.3 80"/></defs><use href="#p48" class="t1"/><use href="#p48" class="t2"/><use href="#p48" class="t3"/>
<defs><path id="p49" d="M585.6 74.1Q584.6 71.3 584.6 69.8Q584.6 68.3 585.1 66.9Q585.6 65.5 586.6 64.3Q587.5 63.2 588.8 62.4Q590.1 61.6 591.5 61.2Q593 60.9 594.5 60.8Q596 60.8 597.5 61Q598.9 61.2 600.4 61.4L601.9 61.6"/></defs><use href="#p49" class="t1"/><use href="#p49" class="t2"/><use href="#p49" class="t3"/>
<defs><path id="p50" d="M678.1 79.2Q676.3 76.8 675.5 75.5Q674.7 74.2 674.1 72.8Q673.5 71.5 673.1 70Q672.8 68.6 672.9 67.1Q673 65.6 673.5 64.1Q673.9 62.7 674.8 61.5Q675.6 60.2 676.8 59.3Q677.9 58.3 679.3 57.8Q680.7 57.2 682.2 57.2Q683.7 57.1 685.2 57.5L686.6 57.9"/></defs><use href="#p50" class="t1"/><use href="#p50" class="t2"/><use href="#p50" class="t3"/>
<defs><path id="p51" d="M635.4 87.6Q634 84.9 633.6 83.5Q633.2 82 633.2 80.5Q633.2 79 633.4 77.6Q633.7 76.1 634.5 74.8Q635.2 73.5 636.3 72.5Q637.4 71.5 638.8 70.9Q640.2 70.4 641.7 70.1Q643.2 69.9 644.7 69.9Q646.2 69.9 647.7 70Q649.2 70.1 650.7 70.2L652.2 70.3"/></defs><use href="#p51" class="t1"/><use href="#p51" class="t2"/><use href="#p51" class="t3"/>
<defs><path id="p52" d="M621.3 104.5Q624.3 104.2 625.8 104.3Q627.3 104.3 628.7 104.5Q630.2 104.7 631.7 105.1Q633.1 105.5 634.6 106Q636 106.5 637.3 107.2Q638.6 107.8 639.9 108.7L641.1 109.6"/></defs><use href="#p52" class="t1"/><use href="#p52" class="t2"/><use href="#p52" class="t3"/>
<g transform="translate(590.6,99.8) rotate(167)">
<rect x="-6.3" y="-2" width="12.6" height="1.7" fill="#3157D6"/>
<rect x="-5.8" y="-1.5" width="11.6" height="0.4" fill="#7E9EF2"/>
<rect x="-6.3" y="0.4" width="12.6" height="1.7" fill="#3157D6"/>
<rect x="-5.8" y="0.9" width="11.6" height="0.4" fill="#7E9EF2"/>
</g>
<g transform="translate(556.3,68.3) rotate(138)">
<rect x="-5.3" y="-1.6" width="10.6" height="3.2" rx="0.6" fill="#3660DC"/>
<rect x="-4.7" y="-0.5" width="9.4" height="0.5" fill="#8AA8F4"/>
</g>
<defs><path id="p53" d="M609.3 44.7Q612.2 43.9 613.5 43.1Q614.7 42.3 615.6 41.1Q616.5 39.9 616.9 38.4Q617.4 37 617.3 35.5Q617.2 34 616.6 32.6L616 31.3"/></defs><use href="#p53" class="t1"/><use href="#p53" class="t2"/><use href="#p53" class="t3"/>
<defs><path id="p54" d="M595.3 41.5Q592.4 42.5 591.3 43.4Q590.1 44.4 589.1 45.5Q588.2 46.7 587.3 47.9Q586.4 49.1 585.4 50.2Q584.5 51.4 583.4 52.5Q582.4 53.5 581.2 54.5Q580 55.4 578.8 56.3Q577.6 57.2 576.4 58Q575.1 58.8 573.8 59.6Q572.5 60.4 571.2 61.1Q569.9 61.9 568.8 62.8L567.6 63.8"/></defs><use href="#p54" class="t1"/><use href="#p54" class="t2"/><use href="#p54" class="t3"/>
<defs><path id="p55" d="M605 59.1Q602 59.4 600.5 59.8Q599.1 60.2 597.8 60.9Q596.4 61.5 595.3 62.5Q594.1 63.4 593.2 64.7Q592.4 65.9 591.8 67.3Q591.2 68.6 590.6 70Q590.1 71.4 589.5 72.8Q588.8 74.1 587.8 75.3Q586.9 76.4 585.7 77.4Q584.5 78.3 583.3 79.2Q582 80 580.8 80.9Q579.6 81.8 578.4 82.6L577.1 83.4"/></defs><use href="#p55" class="t1"/><use href="#p55" class="t2"/><use href="#p55" class="t3"/>
<defs><path id="p56" d="M634.1 62.9Q633.5 59.9 632.9 58.5Q632.4 57.1 631.6 55.9Q630.8 54.6 629.8 53.5Q628.8 52.4 627.5 51.6Q626.2 50.8 624.8 50.4Q623.3 50.1 621.8 50.2Q620.3 50.2 618.8 50.5L617.3 50.8"/></defs><use href="#p56" class="t1"/><use href="#p56" class="t2"/><use href="#p56" class="t3"/>
<defs><path id="p57" d="M590 100.4Q587.5 98.7 586.4 97.7Q585.2 96.7 584 95.9Q582.8 95 581.5 94.2Q580.3 93.3 579.1 92.4Q577.9 91.5 576.7 90.6Q575.5 89.8 574.1 89.1Q572.7 88.5 571.3 88.1Q569.9 87.7 568.4 87.6Q566.9 87.5 565.4 87.6Q563.9 87.8 562.4 88Q560.9 88.2 559.4 88.4L557.9 88.7"/></defs><use href="#p57" class="t1"/><use href="#p57" class="t2"/><use href="#p57" class="t3"/>
<defs><path id="p58" d="M636 103.1Q638.8 104.2 640.3 104.6Q641.7 105 643.2 105.4Q644.6 105.8 645.9 106.5Q647.3 107.2 648.3 108.3Q649.3 109.3 649.9 110.7Q650.6 112.1 650.8 113.6Q651 115.1 651 116.6Q651.1 118.1 650.8 119.5L650.5 121"/></defs><use href="#p58" class="t1"/><use href="#p58" class="t2"/><use href="#p58" class="t3"/>
<defs><path id="p59" d="M577.1 52Q580 52.8 581.5 52.7Q582.9 52.5 584.3 51.9Q585.7 51.3 586.9 50.4Q588 49.4 589.2 48.5Q590.3 47.5 591.4 46.5Q592.6 45.5 593.6 44.4Q594.6 43.3 595.6 42.2Q596.6 41.1 597.6 40Q598.6 38.9 599.8 37.9Q600.9 36.9 602.1 36Q603.2 35 604.5 34.2L605.8 33.5"/></defs><use href="#p59" class="t1"/><use href="#p59" class="t2"/><use href="#p59" class="t3"/>
<defs><path id="p60" d="M632.4 44.5Q633.7 47.2 634 48.7Q634.3 50.2 634.5 51.6Q634.7 53.1 634.5 54.6Q634.4 56.1 634.2 57.6Q634 59.1 633.9 60.6Q633.8 62.1 634 63.6Q634.1 65.1 634.4 66.6L634.6 68"/></defs><use href="#p60" class="t1"/><use href="#p60" class="t2"/><use href="#p60" class="t3"/>
<defs><path id="p61" d="M650.1 66.2Q647.3 67.4 645.9 67.9Q644.4 68.3 642.9 68.3Q641.4 68.4 639.9 68.3Q638.4 68.1 637 67.8Q635.5 67.4 634.1 66.9Q632.7 66.5 631.4 65.7Q630.1 65 628.8 64.1Q627.6 63.3 626.5 62.3Q625.4 61.3 624.2 60.4Q623 59.4 621.8 58.5L620.6 57.6"/></defs><use href="#p61" class="t1"/><use href="#p61" class="t2"/><use href="#p61" class="t3"/>
<defs><path id="p62" d="M572.3 94.6Q570.7 92 570.3 90.6Q569.9 89.1 569.8 87.6Q569.7 86.1 569.9 84.6Q570.1 83.1 570.4 81.7Q570.8 80.2 571.3 78.8Q571.8 77.4 572.6 76.1L573.4 74.8"/></defs><use href="#p62" class="t1"/><use href="#p62" class="t2"/><use href="#p62" class="t3"/>
<g transform="translate(548.2,83.5) rotate(163)">
<rect x="-5.5" y="-2" width="11" height="1.7" fill="#3157D6"/>
<rect x="-5" y="-1.5" width="10" height="0.4" fill="#7E9EF2"/>
<rect x="-5.5" y="0.4" width="11" height="1.7" fill="#3157D6"/>
<rect x="-5" y="0.9" width="10" height="0.4" fill="#7E9EF2"/>
</g>
<defs><path id="p63" d="M626.3 66.9Q627 64 627.1 62.5Q627.2 61 627 59.5Q626.7 58.1 625.9 56.8Q625.2 55.5 624.1 54.4Q623 53.4 621.8 52.5Q620.6 51.6 619.2 51L617.8 50.5"/></defs><use href="#p63" class="t1"/><use href="#p63" class="t2"/><use href="#p63" class="t3"/>
<defs><path id="p64" d="M551.1 42.3Q551.4 45.3 551.4 46.8Q551.4 48.3 551.5 49.8Q551.6 51.3 551.9 52.8Q552.2 54.2 552.7 55.7Q553.2 57.1 553.9 58.4Q554.6 59.7 555.7 60.8Q556.8 61.8 558.1 62.4Q559.5 63.1 561 63.3Q562.5 63.4 563.9 63.2L565.4 63"/></defs><use href="#p64" class="t1"/><use href="#p64" class="t2"/><use href="#p64" class="t3"/>
<defs><path id="p65" d="M592.2 79.6Q589.3 78.8 588 77.9Q586.8 77.1 585.9 75.9Q585.1 74.6 584.7 73.2Q584.3 71.7 584.2 70.2Q584.1 68.7 584.1 67.2Q584.1 65.7 584.1 64.2Q584 62.7 584 61.2Q584 59.7 584.1 58.2Q584.1 56.7 584.2 55.2Q584.3 53.7 584.2 52.2Q584.2 50.7 584.3 49.2Q584.4 47.7 584.4 46.2L584.3 44.7"/></defs><use href="#p65" class="t1"/><use href="#p65" class="t2"/><use href="#p65" class="t3"/>
<defs><path id="p66" d="M592.5 91.3Q595.4 92 596.9 91.9Q598.4 91.7 599.7 91.1Q601.1 90.4 602.1 89.4Q603.2 88.3 603.8 86.9Q604.4 85.6 604.5 84.1Q604.6 82.6 604.3 81.1Q604 79.6 603.6 78.2L603.1 76.8"/></defs><use href="#p66" class="t1"/><use href="#p66" class="t2"/><use href="#p66" class="t3"/>
<g transform="translate(609.9,78.7) rotate(61)">
<rect x="-5.2" y="-1.6" width="10.4" height="3.2" rx="0.6" fill="#3660DC"/>
<rect x="-4.6" y="-0.5" width="9.2" height="0.5" fill="#8AA8F4"/>
</g>
<defs><path id="p67" d="M537.8 102.8Q539.6 100.4 540.9 99.7Q542.2 98.9 543.7 98.5Q545.1 98.2 546.6 98.3Q548.1 98.4 549.5 99Q550.8 99.6 551.9 100.6Q553 101.7 553.6 103Q554.3 104.4 554.5 105.9Q554.6 107.4 554.3 108.8Q553.9 110.3 553.3 111.6Q552.7 113 551.8 114.2Q550.9 115.4 549.9 116.5Q548.9 117.6 547.6 118.4L546.4 119.3"/></defs><use href="#p67" class="t1"/><use href="#p67" class="t2"/><use href="#p67" class="t3"/>
<defs><path id="p68" d="M623.1 66.6Q620.7 68.5 619.3 68.9Q617.9 69.4 616.4 69.3Q614.9 69.2 613.5 68.7Q612 68.2 610.9 67.3Q609.7 66.3 609 65L608.2 63.7"/></defs><use href="#p68" class="t1"/><use href="#p68" class="t2"/><use href="#p68" class="t3"/>
<g transform="translate(638.5,49.5) rotate(9)">
<rect x="-6.5" y="-2" width="13" height="1.7" fill="#3157D6"/>
<rect x="-6" y="-1.5" width="12" height="0.4" fill="#7E9EF2"/>
<rect x="-6.5" y="0.4" width="13" height="1.7" fill="#3157D6"/>
<rect x="-6" y="0.9" width="12" height="0.4" fill="#7E9EF2"/>
</g>
<defs><path id="p69" d="M653 53.8Q653.1 50.8 653.1 49.3Q653.1 47.8 652.8 46.3Q652.6 44.9 652.3 43.4Q652.1 41.9 651.9 40.4Q651.7 38.9 651.5 37.4Q651.4 35.9 651 34.5Q650.6 33 650.2 31.6L649.8 30.2"/></defs><use href="#p69" class="t1"/><use href="#p69" class="t2"/><use href="#p69" class="t3"/>
<defs><path id="p70" d="M647.4 93.3Q644.5 92.5 643 92.2Q641.5 92 640 92Q638.5 92 637 92.3Q635.6 92.5 634.1 93Q632.7 93.4 631.3 93.9Q629.9 94.4 628.4 94.7Q626.9 95 625.4 95Q623.9 95.1 622.4 94.9L621 94.7"/></defs><use href="#p70" class="t1"/><use href="#p70" class="t2"/><use href="#p70" class="t3"/>
</g></svg>
<text x="543.1" y="100.6" font-size="10" font-weight="bold" fill="#FFFF00" stroke="#8a7a00" stroke-width="0.35" stroke-opacity="0.6" paint-order="stroke">Mix-20</text>
<g filter="url(#fsh)"><rect x="535.4" y="116.4" width="148.2" height="99.4" rx="3" fill="url(#fbg)" stroke="#B8C4CC" stroke-width="0.6"/></g>
<svg x="535.4" y="116.4" width="148.2" height="99.4" overflow="hidden"><g transform="translate(-535.4,-116.4)">
<g transform="translate(546.5,121.3) rotate(143)">
<rect x="-7.4" y="-1.1" width="14.7" height="2.1" rx="0.6" fill="#3660DC"/>
<rect x="-6.8" y="-0.3" width="13.5" height="0.5" fill="#8AA8F4"/>
</g>
<g transform="translate(554.8,124.5) rotate(10)">
<rect x="-7.7" y="-1.1" width="15.4" height="2.1" rx="0.6" fill="#3660DC"/>
<rect x="-7.1" y="-0.3" width="14.2" height="0.5" fill="#8AA8F4"/>
</g>
<g transform="translate(569.2,126.5) rotate(129)">
<rect x="-6.7" y="-1.1" width="13.4" height="2.1" rx="0.6" fill="#3660DC"/>
<rect x="-6.1" y="-0.3" width="12.2" height="0.5" fill="#8AA8F4"/>
</g>
<g transform="translate(586.3,126.2) rotate(124)">
<rect x="-7.2" y="-1.1" width="14.5" height="2.1" rx="0.6" fill="#3660DC"/>
<rect x="-6.6" y="-0.3" width="13.3" height="0.5" fill="#8AA8F4"/>
</g>
<g transform="translate(595.8,125.9) rotate(37)">
<rect x="-7.8" y="-1.1" width="15.6" height="2.1" rx="0.6" fill="#3660DC"/>
<rect x="-7.2" y="-0.3" width="14.4" height="0.5" fill="#8AA8F4"/>
</g>
<g transform="translate(610.1,125.9) rotate(149)">
<rect x="-7.9" y="-1.1" width="15.9" height="2.1" rx="0.6" fill="#3660DC"/>
<rect x="-7.3" y="-0.3" width="14.7" height="0.5" fill="#8AA8F4"/>
</g>
<g transform="translate(620.8,124.2) rotate(68)">
<rect x="-7.9" y="-1.1" width="15.8" height="2.1" rx="0.6" fill="#3660DC"/>
<rect x="-7.3" y="-0.3" width="14.6" height="0.5" fill="#8AA8F4"/>
</g>
<g transform="translate(634.8,123.3) rotate(112)">
<rect x="-7.2" y="-1.1" width="14.3" height="2.1" rx="0.6" fill="#3660DC"/>
<rect x="-6.6" y="-0.3" width="13.1" height="0.5" fill="#8AA8F4"/>
</g>
<g transform="translate(647.3,123.3) rotate(10)">
<rect x="-6.7" y="-1.1" width="13.3" height="2.1" rx="0.6" fill="#3660DC"/>
<rect x="-6.1" y="-0.3" width="12.1" height="0.5" fill="#8AA8F4"/>
</g>
<g transform="translate(658,121.6) rotate(90)">
<rect x="-6.6" y="-1.1" width="13.2" height="2.1" rx="0.6" fill="#3660DC"/>
<rect x="-6" y="-0.3" width="12" height="0.5" fill="#8AA8F4"/>
</g>
<g transform="translate(672.4,125.1) rotate(146)">
<rect x="-7.4" y="-1.1" width="14.8" height="2.1" rx="0.6" fill="#3660DC"/>
<rect x="-6.8" y="-0.3" width="13.6" height="0.5" fill="#8AA8F4"/>
</g>
<g transform="translate(546.3,134.4) rotate(35)">
<rect x="-7.4" y="-1.1" width="14.8" height="2.1" rx="0.6" fill="#3660DC"/>
<rect x="-6.8" y="-0.3" width="13.6" height="0.5" fill="#8AA8F4"/>
</g>
<g transform="translate(559.8,134.8) rotate(98)">
<rect x="-7" y="-1.1" width="14" height="2.1" rx="0.6" fill="#3660DC"/>
<rect x="-6.4" y="-0.3" width="12.8" height="0.5" fill="#8AA8F4"/>
</g>
<g transform="translate(567.1,132.1) rotate(22)">
<rect x="-7.9" y="-1.1" width="15.8" height="2.1" rx="0.6" fill="#3660DC"/>
<rect x="-7.3" y="-0.3" width="14.6" height="0.5" fill="#8AA8F4"/>
</g>
<g transform="translate(584.7,130.1) rotate(168)">
<rect x="-7.6" y="-1.1" width="15.3" height="2.1" rx="0.6" fill="#3660DC"/>
<rect x="-7" y="-0.3" width="14.1" height="0.5" fill="#8AA8F4"/>
</g>
<g transform="translate(599.9,134.2) rotate(162)">
<rect x="-6.6" y="-1.1" width="13.2" height="2.1" rx="0.6" fill="#3660DC"/>
<rect x="-6" y="-0.3" width="12" height="0.5" fill="#8AA8F4"/>
</g>
<g transform="translate(608.3,129.9) rotate(123)">
<rect x="-7.9" y="-1.1" width="15.8" height="2.1" rx="0.6" fill="#3660DC"/>
<rect x="-7.3" y="-0.3" width="14.6" height="0.5" fill="#8AA8F4"/>
</g>
<g transform="translate(618.8,129.9) rotate(125)">
<rect x="-7.6" y="-1.1" width="15.3" height="2.1" rx="0.6" fill="#3660DC"/>
<rect x="-7" y="-0.3" width="14.1" height="0.5" fill="#8AA8F4"/>
</g>
<g transform="translate(633.1,131.2) rotate(136)">
<rect x="-8" y="-1.1" width="15.9" height="2.1" rx="0.6" fill="#3660DC"/>
<rect x="-7.4" y="-0.3" width="14.7" height="0.5" fill="#8AA8F4"/>
</g>
<g transform="translate(645.1,132.7) rotate(87)">
<rect x="-7.4" y="-1.1" width="14.7" height="2.1" rx="0.6" fill="#3660DC"/>
<rect x="-6.8" y="-0.3" width="13.5" height="0.5" fill="#8AA8F4"/>
</g>
<g transform="translate(664,134.1) rotate(96)">
<rect x="-7.6" y="-1.1" width="15.1" height="2.1" rx="0.6" fill="#3660DC"/>
<rect x="-7" y="-0.3" width="13.9" height="0.5" fill="#8AA8F4"/>
</g>
<g transform="translate(675.3,135.5) rotate(21)">
<rect x="-7.1" y="-1.1" width="14.2" height="2.1" rx="0.6" fill="#3660DC"/>
<rect x="-6.5" y="-0.3" width="13" height="0.5" fill="#8AA8F4"/>
</g>
<g transform="translate(545,138.8) rotate(45)">
<rect x="-7.7" y="-1.1" width="15.3" height="2.1" rx="0.6" fill="#3660DC"/>
<rect x="-7.1" y="-0.3" width="14.1" height="0.5" fill="#8AA8F4"/>
</g>
<g transform="translate(554,139.4) rotate(43)">
<rect x="-7.7" y="-1.1" width="15.5" height="2.1" rx="0.6" fill="#3660DC"/>
<rect x="-7.1" y="-0.3" width="14.3" height="0.5" fill="#8AA8F4"/>
</g>
<g transform="translate(569.8,142.7) rotate(140)">
<rect x="-6.6" y="-1.1" width="13.3" height="2.1" rx="0.6" fill="#3660DC"/>
<rect x="-6" y="-0.3" width="12.1" height="0.5" fill="#8AA8F4"/>
</g>
<g transform="translate(587.5,139.6) rotate(51)">
<rect x="-7.5" y="-1.1" width="15.1" height="2.1" rx="0.6" fill="#3660DC"/>
<rect x="-6.9" y="-0.3" width="13.9" height="0.5" fill="#8AA8F4"/>
</g>
<g transform="translate(596.5,142.7) rotate(13)">
<rect x="-7.5" y="-1.1" width="15" height="2.1" rx="0.6" fill="#3660DC"/>
<rect x="-6.9" y="-0.3" width="13.8" height="0.5" fill="#8AA8F4"/>
</g>
<g transform="translate(609.2,140.4) rotate(49)">
<rect x="-6.7" y="-1.1" width="13.3" height="2.1" rx="0.6" fill="#3660DC"/>
<rect x="-6.1" y="-0.3" width="12.1" height="0.5" fill="#8AA8F4"/>
</g>
<g transform="translate(619.6,143.7) rotate(160)">
<rect x="-6.8" y="-1.1" width="13.6" height="2.1" rx="0.6" fill="#3660DC"/>
<rect x="-6.2" y="-0.3" width="12.4" height="0.5" fill="#8AA8F4"/>
</g>
<g transform="translate(638.8,140) rotate(171)">
<rect x="-7.4" y="-1.1" width="14.8" height="2.1" rx="0.6" fill="#3660DC"/>
<rect x="-6.8" y="-0.3" width="13.6" height="0.5" fill="#8AA8F4"/>
</g>
<g transform="translate(646.2,141.7) rotate(87)">
<rect x="-7.3" y="-1.1" width="14.6" height="2.1" rx="0.6" fill="#3660DC"/>
<rect x="-6.7" y="-0.3" width="13.4" height="0.5" fill="#8AA8F4"/>
</g>
<g transform="translate(660.5,142.8) rotate(102)">
<rect x="-6.5" y="-1.1" width="13" height="2.1" rx="0.6" fill="#3660DC"/>
<rect x="-5.9" y="-0.3" width="11.8" height="0.5" fill="#8AA8F4"/>
</g>
<g transform="translate(670.2,140.8) rotate(97)">
<rect x="-6.9" y="-1.1" width="13.9" height="2.1" rx="0.6" fill="#3660DC"/>
<rect x="-6.3" y="-0.3" width="12.7" height="0.5" fill="#8AA8F4"/>
</g>
<defs><path id="p71" d="M647.1 201Q649.5 202.7 650.9 203.3Q652.3 203.8 653.8 204.1Q655.2 204.5 656.7 204.6Q658.2 204.7 659.7 204.6Q661.2 204.4 662.7 204Q664.1 203.5 665.3 202.7Q666.6 201.8 667.7 200.9L668.9 199.9"/></defs><use href="#p71" class="t1"/><use href="#p71" class="t2"/><use href="#p71" class="t3"/>
<defs><path id="p72" d="M570.6 166.2Q568.3 168.2 567.3 169.2Q566.2 170.3 565.3 171.5Q564.4 172.7 563.6 174Q562.9 175.3 562.2 176.6Q561.5 177.9 561 179.3Q560.5 180.8 560.1 182.2Q559.6 183.6 559.3 185.1Q559 186.6 558.9 188.1Q558.8 189.6 559.1 191Q559.5 192.5 560.1 193.8Q560.8 195.2 561.6 196.4L562.4 197.7"/></defs><use href="#p72" class="t1"/><use href="#p72" class="t2"/><use href="#p72" class="t3"/>
<defs><path id="p73" d="M645.3 155.9Q646.7 153.2 647.1 151.8Q647.6 150.4 648.2 149Q648.8 147.6 649.6 146.4Q650.5 145.2 651.7 144.3Q653 143.4 654.4 143.1Q655.9 142.7 657.4 142.8Q658.9 142.9 660.2 143.6Q661.6 144.2 662.8 145.1L664 146"/></defs><use href="#p73" class="t1"/><use href="#p73" class="t2"/><use href="#p73" class="t3"/>
<defs><path id="p74" d="M561.2 194.2Q561.7 191.3 561.8 189.8Q561.8 188.3 561.4 186.8Q561.1 185.4 560.2 184.2Q559.4 182.9 558.3 181.9Q557.2 180.8 555.9 180.1Q554.6 179.4 553.1 179.1Q551.6 178.8 550.1 178.8Q548.6 178.8 547.1 178.9Q545.6 179 544.1 179.2Q542.7 179.4 541.2 179.6Q539.7 179.8 538.2 180Q536.7 180.2 535.2 180.2L533.7 180.2"/></defs><use href="#p74" class="t1"/><use href="#p74" class="t2"/><use href="#p74" class="t3"/>
<defs><path id="p75" d="M604.4 159.3Q601.9 161 600.7 161.9Q599.5 162.8 598.3 163.7Q597 164.5 595.7 165.1Q594.3 165.8 592.9 166.3Q591.5 166.8 590 167Q588.5 167.2 587 167.3Q585.5 167.3 584.1 166.9Q582.6 166.6 581.4 165.7Q580.1 164.9 579.2 163.7Q578.3 162.5 577.7 161.1Q577.1 159.7 577.1 158.2Q577 156.7 577.4 155.3L577.8 153.9"/></defs><use href="#p75" class="t1"/><use href="#p75" class="t2"/><use href="#p75" class="t3"/>
<g transform="translate(670.9,173.9) rotate(22)">
<rect x="-6.2" y="-1" width="12.5" height="2" rx="0.6" fill="#3660DC"/>
<rect x="-5.6" y="-0.3" width="11.3" height="0.5" fill="#8AA8F4"/>
</g>
<g transform="translate(600.5,178.7) rotate(42)">
<rect x="-7.4" y="-1" width="14.8" height="2" rx="0.6" fill="#3660DC"/>
<rect x="-6.8" y="-0.3" width="13.6" height="0.5" fill="#8AA8F4"/>
</g>
<g transform="translate(675.8,181.1) rotate(125)">
<rect x="-6.3" y="-1" width="12.6" height="2" rx="0.6" fill="#3660DC"/>
<rect x="-5.7" y="-0.3" width="11.4" height="0.5" fill="#8AA8F4"/>
</g>
<defs><path id="p76" d="M653.8 158.5Q656.7 157.7 658 157Q659.3 156.3 660.4 155.2Q661.4 154.2 662.3 152.9Q663.1 151.7 663.5 150.3Q663.9 148.8 663.8 147.3Q663.7 145.8 663.1 144.4Q662.5 143.1 661.5 142Q660.5 140.9 659.1 140.3Q657.8 139.6 656.3 139.4Q654.8 139.3 653.3 139.6Q651.9 140 650.6 140.8L649.4 141.7"/></defs><use href="#p76" class="t1"/><use href="#p76" class="t2"/><use href="#p76" class="t3"/>
<defs><path id="p77" d="M615.9 208.2Q618.5 206.7 619.9 206.1Q621.3 205.6 622.7 205.1Q624.1 204.7 625.5 204.1Q626.9 203.5 628.1 202.6Q629.4 201.8 630.4 200.7Q631.3 199.5 631.9 198.1Q632.4 196.7 632.6 195.3Q632.7 193.8 632.3 192.3Q631.9 190.9 631.1 189.6L630.2 188.4"/></defs><use href="#p77" class="t1"/><use href="#p77" class="t2"/><use href="#p77" class="t3"/>
<g transform="translate(563.6,162.8) rotate(122)">
<rect x="-6.5" y="-1" width="13.1" height="2" rx="0.6" fill="#3660DC"/>
<rect x="-5.9" y="-0.3" width="11.9" height="0.5" fill="#8AA8F4"/>
</g>
<g transform="translate(658.5,170.6) rotate(102)">
<rect x="-7.2" y="-1" width="14.4" height="2" rx="0.6" fill="#3660DC"/>
<rect x="-6.6" y="-0.3" width="13.2" height="0.5" fill="#8AA8F4"/>
</g>
<g transform="translate(605.2,148.3) rotate(20)">
<rect x="-6.7" y="-1" width="13.4" height="2" rx="0.6" fill="#3660DC"/>
<rect x="-6.1" y="-0.3" width="12.2" height="0.5" fill="#8AA8F4"/>
</g>
<g transform="translate(562.2,204.1) rotate(94)">
<rect x="-6.6" y="-1" width="13.3" height="2" rx="0.6" fill="#3660DC"/>
<rect x="-6" y="-0.3" width="12.1" height="0.5" fill="#8AA8F4"/>
</g>
<g transform="translate(583,178.4) rotate(72)">
<rect x="-7.5" y="-1" width="14.9" height="2" rx="0.6" fill="#3660DC"/>
<rect x="-6.9" y="-0.3" width="13.7" height="0.5" fill="#8AA8F4"/>
</g>
<defs><path id="p78" d="M599.1 149Q596.7 150.8 595.7 151.9Q594.6 153 593.6 154.1Q592.6 155.2 591.8 156.4Q590.9 157.7 590.1 158.9Q589.3 160.2 588.6 161.5Q587.8 162.8 587.2 164.2Q586.7 165.6 586.1 166.9Q585.5 168.3 584.7 169.6Q583.9 170.9 582.8 171.9Q581.8 173 580.5 173.8Q579.3 174.7 577.8 175L576.3 175.4"/></defs><use href="#p78" class="t1"/><use href="#p78" class="t2"/><use href="#p78" class="t3"/>
<g transform="translate(618.4,183) rotate(112)">
<rect x="-7.3" y="-1" width="14.5" height="2" rx="0.6" fill="#3660DC"/>
<rect x="-6.7" y="-0.3" width="13.3" height="0.5" fill="#8AA8F4"/>
</g>
<g transform="translate(645.5,212) rotate(37)">
<rect x="-7.2" y="-1" width="14.4" height="2" rx="0.6" fill="#3660DC"/>
<rect x="-6.6" y="-0.3" width="13.2" height="0.5" fill="#8AA8F4"/>
</g>
<g transform="translate(621.5,153.3) rotate(77)">
<rect x="-6.4" y="-1" width="12.9" height="2" rx="0.6" fill="#3660DC"/>
<rect x="-5.8" y="-0.3" width="11.7" height="0.5" fill="#8AA8F4"/>
</g>
<defs><path id="p79" d="M538.2 174.8Q535.5 176 534 176.3Q532.6 176.5 531.1 176.2Q529.6 176 528.2 175.4Q526.8 174.9 525.5 174.1Q524.2 173.4 522.9 172.7Q521.6 172 520.2 171.3Q518.8 170.7 517.4 170.2Q516 169.6 514.6 169.1Q513.2 168.6 511.8 168.2Q510.3 167.8 508.8 167.8Q507.3 167.8 505.9 168.1Q504.4 168.4 503.1 169.1L501.7 169.8"/></defs><use href="#p79" class="t1"/><use href="#p79" class="t2"/><use href="#p79" class="t3"/>
<g transform="translate(656.8,150.8) rotate(162)">
<rect x="-6.6" y="-1" width="13.2" height="2" rx="0.6" fill="#3660DC"/>
<rect x="-6" y="-0.3" width="12" height="0.5" fill="#8AA8F4"/>
</g>
<defs><path id="p80" d="M671.6 212.1Q674.3 213.4 675.8 213.8Q677.2 214.3 678.6 214.8Q680 215.3 681.4 215.8Q682.8 216.3 684.3 216.8Q685.7 217.3 687.2 217.5Q688.7 217.6 690.2 217.7Q691.7 217.8 693.2 217.9Q694.6 218.1 696.1 218.3Q697.6 218.5 699.1 218.8L700.6 219.1"/></defs><use href="#p80" class="t1"/><use href="#p80" class="t2"/><use href="#p80" class="t3"/>
<defs><path id="p81" d="M579.6 179.9Q577.4 177.9 576.7 176.5Q576 175.2 575.9 173.7Q575.7 172.2 576 170.7Q576.3 169.3 577.1 168Q577.9 166.7 579.1 165.8Q580.3 164.9 581.7 164.2Q583 163.6 584.4 163.1Q585.9 162.7 587.4 162.6L588.9 162.5"/></defs><use href="#p81" class="t1"/><use href="#p81" class="t2"/><use href="#p81" class="t3"/>
<g transform="translate(608,191.3) rotate(76)">
<rect x="-7.4" y="-1" width="14.7" height="2" rx="0.6" fill="#3660DC"/>
<rect x="-6.8" y="-0.3" width="13.5" height="0.5" fill="#8AA8F4"/>
</g>
<defs><path id="p82" d="M657 196.3Q654 196.7 652.5 196.8Q651 196.9 649.5 197Q648.1 197.2 646.6 197.3Q645.1 197.4 643.6 197.6Q642.1 197.8 640.7 198.2Q639.2 198.7 637.9 199.3Q636.5 200 635.3 200.9Q634.2 201.8 633.1 202.9Q632 203.9 630.9 204.9Q629.8 205.9 628.7 207L627.7 208.1"/></defs><use href="#p82" class="t1"/><use href="#p82" class="t2"/><use href="#p82" class="t3"/>
<g transform="translate(653.4,181.2) rotate(125)">
<rect x="-6.8" y="-1" width="13.6" height="2" rx="0.6" fill="#3660DC"/>
<rect x="-6.2" y="-0.3" width="12.4" height="0.5" fill="#8AA8F4"/>
</g>
<g transform="translate(621.7,166.7) rotate(63)">
<rect x="-7.2" y="-1" width="14.3" height="2" rx="0.6" fill="#3660DC"/>
<rect x="-6.6" y="-0.3" width="13.1" height="0.5" fill="#8AA8F4"/>
</g>
<g transform="translate(541.6,178) rotate(117)">
<rect x="-7" y="-1" width="14" height="2" rx="0.6" fill="#3660DC"/>
<rect x="-6.4" y="-0.3" width="12.8" height="0.5" fill="#8AA8F4"/>
</g>
<g transform="translate(557.1,175.3) rotate(56)">
<rect x="-6.4" y="-1" width="12.9" height="2" rx="0.6" fill="#3660DC"/>
<rect x="-5.8" y="-0.3" width="11.7" height="0.5" fill="#8AA8F4"/>
</g>
<defs><path id="p83" d="M586.9 177.7Q585.5 175.1 584.6 173.9Q583.7 172.7 582.8 171.5Q581.9 170.3 580.8 169.2Q579.8 168.1 578.9 166.9Q578 165.7 577 164.6L576.1 163.4"/></defs><use href="#p83" class="t1"/><use href="#p83" class="t2"/><use href="#p83" class="t3"/>
<defs><path id="p84" d="M632.3 171.5Q631.7 168.5 631.2 167.1Q630.7 165.7 629.9 164.5Q629 163.2 627.8 162.3Q626.6 161.4 625.2 161Q623.7 160.6 622.3 160.6Q620.8 160.7 619.4 161.3Q618 161.9 616.8 162.8Q615.6 163.7 614.6 164.8Q613.6 166 613 167.3Q612.4 168.7 612.3 170.2Q612.2 171.7 612.7 173.2L613.1 174.6"/></defs><use href="#p84" class="t1"/><use href="#p84" class="t2"/><use href="#p84" class="t3"/>
<g transform="translate(568.5,203.1) rotate(98)">
<rect x="-6.7" y="-1" width="13.4" height="2" rx="0.6" fill="#3660DC"/>
<rect x="-6.1" y="-0.3" width="12.2" height="0.5" fill="#8AA8F4"/>
</g>
<defs><path id="p85" d="M641.4 188.1Q643.4 190.3 643.9 191.7Q644.5 193.1 644.7 194.6Q645 196.1 645.2 197.5Q645.4 199 645.7 200.5Q646.1 202 646.7 203.3Q647.3 204.7 648.2 205.9Q649.2 207 650.4 207.9Q651.6 208.8 653 209.3Q654.5 209.7 656 209.6Q657.5 209.5 658.8 209Q660.2 208.4 661.3 207.4L662.5 206.4"/></defs><use href="#p85" class="t1"/><use href="#p85" class="t2"/><use href="#p85" class="t3"/>
<defs><path id="p86" d="M627.3 210.5Q630 209.2 631.4 208.6Q632.7 207.9 634.2 207.5Q635.6 207 637 206.6Q638.4 206.1 639.8 205.6Q641.2 205 642.5 204.3Q643.8 203.5 644.9 202.5Q646 201.4 646.6 200.1Q647.3 198.7 647.7 197.3Q648.1 195.8 648 194.3L647.9 192.9"/></defs><use href="#p86" class="t1"/><use href="#p86" class="t2"/><use href="#p86" class="t3"/>
<g transform="translate(668.1,196.3) rotate(34)">
<rect x="-6.2" y="-1" width="12.4" height="2" rx="0.6" fill="#3660DC"/>
<rect x="-5.6" y="-0.3" width="11.2" height="0.5" fill="#8AA8F4"/>
</g>
<defs><path id="p87" d="M590.8 171.5Q593.8 171.3 595.3 171Q596.8 170.7 598.1 170.1Q599.5 169.4 600.8 168.6Q602.1 167.9 603.2 166.9Q604.4 166 605.3 164.8Q606.2 163.6 606.7 162.2Q607.2 160.8 607.1 159.3Q607 157.8 606.5 156.4Q606.1 154.9 605.4 153.6Q604.7 152.3 603.6 151.2Q602.6 150.1 601.4 149.3L600.1 148.4"/></defs><use href="#p87" class="t1"/><use href="#p87" class="t2"/><use href="#p87" class="t3"/>
<defs><path id="p88" d="M594.7 152.6Q592 153.9 590.6 154.5Q589.3 155.1 587.9 155.7Q586.5 156.3 585.3 157.1Q584 157.9 583 159.1Q582.1 160.2 581.5 161.6Q581 163 580.8 164.5L580.6 166"/></defs><use href="#p88" class="t1"/><use href="#p88" class="t2"/><use href="#p88" class="t3"/>
<defs><path id="p89" d="M570.7 188.3Q573.6 187.7 575.1 187.6Q576.6 187.5 578.1 187.7Q579.6 187.9 581 188.3Q582.5 188.7 583.8 189.5Q585.1 190.3 586 191.4Q587 192.6 587.5 194Q588 195.4 588.1 196.9Q588.1 198.4 587.6 199.8Q587.1 201.2 586.2 202.4L585.2 203.5"/></defs><use href="#p89" class="t1"/><use href="#p89" class="t2"/><use href="#p89" class="t3"/>
<defs><path id="p90" d="M624.4 196.4Q625.9 199 626.8 200.2Q627.7 201.4 628.4 202.7Q629.2 204 629.7 205.4Q630.2 206.8 630.2 208.3Q630.3 209.8 629.8 211.3Q629.3 212.7 628.4 213.9L627.4 215"/></defs><use href="#p90" class="t1"/><use href="#p90" class="t2"/><use href="#p90" class="t3"/>
<g transform="translate(546.1,156.3) rotate(176)">
<rect x="-6.8" y="-1" width="13.6" height="2" rx="0.6" fill="#3660DC"/>
<rect x="-6.2" y="-0.3" width="12.4" height="0.5" fill="#8AA8F4"/>
</g>
<g transform="translate(568.9,181.4) rotate(104)">
<rect x="-6.9" y="-1" width="13.7" height="2" rx="0.6" fill="#3660DC"/>
<rect x="-6.3" y="-0.3" width="12.5" height="0.5" fill="#8AA8F4"/>
</g>
<g transform="translate(584.4,200.2) rotate(86)">
<rect x="-6.8" y="-1" width="13.5" height="2" rx="0.6" fill="#3660DC"/>
<rect x="-6.2" y="-0.3" width="12.3" height="0.5" fill="#8AA8F4"/>
</g>
<defs><path id="p91" d="M651 205.6Q652 208.4 652.5 209.8Q652.9 211.2 653.5 212.6Q654.1 214 654.6 215.4Q655.2 216.8 655.5 218.3Q655.9 219.7 656.2 221.2Q656.4 222.7 656.4 224.2Q656.5 225.7 656 227.1L655.5 228.5"/></defs><use href="#p91" class="t1"/><use href="#p91" class="t2"/><use href="#p91" class="t3"/>
<defs><path id="p92" d="M558.9 184Q555.9 184 554.5 184.5Q553.1 185.1 551.9 185.8Q550.6 186.6 549.4 187.6Q548.2 188.5 547.2 189.6Q546.1 190.6 545 191.7Q543.9 192.7 542.7 193.6Q541.5 194.5 540.3 195.3Q539.1 196.2 538 197.3Q537 198.4 535.9 199.4L534.9 200.5"/></defs><use href="#p92" class="t1"/><use href="#p92" class="t2"/><use href="#p92" class="t3"/>
<g transform="translate(644.5,150.6) rotate(146)">
<rect x="-7" y="-1" width="14" height="2" rx="0.6" fill="#3660DC"/>
<rect x="-6.4" y="-0.3" width="12.8" height="0.5" fill="#8AA8F4"/>
</g>
<g transform="translate(679.9,154.3) rotate(125)">
<rect x="-6.2" y="-1" width="12.5" height="2" rx="0.6" fill="#3660DC"/>
<rect x="-5.6" y="-0.3" width="11.3" height="0.5" fill="#8AA8F4"/>
</g>
<defs><path id="p93" d="M549.6 164.5Q546.7 165 545.3 165.5Q543.8 166 542.5 166.7Q541.2 167.3 539.8 167.9Q538.4 168.6 537 169.1Q535.6 169.7 534.3 170.2Q532.9 170.8 531.5 171.5Q530.2 172.1 528.8 172.6Q527.4 173.2 525.9 173.4L524.4 173.7"/></defs><use href="#p93" class="t1"/><use href="#p93" class="t2"/><use href="#p93" class="t3"/>
<defs><path id="p94" d="M623.6 184.4Q620.6 183.9 619.2 183.7Q617.7 183.4 616.2 183.1Q614.8 182.7 613.4 182.1Q612 181.5 610.7 180.8Q609.4 180.1 608 179.5Q606.6 178.9 605.1 178.7Q603.6 178.5 602.2 178.4L600.7 178.3"/></defs><use href="#p94" class="t1"/><use href="#p94" class="t2"/><use href="#p94" class="t3"/>
<defs><path id="p95" d="M578.3 152Q578.9 154.9 579 156.4Q579.2 157.9 579 159.4Q578.8 160.9 578.5 162.4Q578.2 163.8 577.7 165.3Q577.3 166.7 576.7 168.1Q576.1 169.5 575.5 170.8Q574.8 172.2 574.1 173.5Q573.5 174.8 572.7 176.2Q572 177.5 571.2 178.7Q570.4 180 569.4 181.1Q568.3 182.2 567.2 183.2Q566.1 184.2 565 185.2L563.9 186.3"/></defs><use href="#p95" class="t1"/><use href="#p95" class="t2"/><use href="#p95" class="t3"/>
<defs><path id="p96" d="M617.5 145.6Q615 147.2 613.5 147.7Q612.1 148.1 610.6 148.2Q609.1 148.3 607.7 147.9Q606.2 147.4 604.9 146.7Q603.6 146 602.5 145Q601.4 144 600.3 142.9Q599.3 141.8 598.5 140.6L597.7 139.3"/></defs><use href="#p96" class="t1"/><use href="#p96" class="t2"/><use href="#p96" class="t3"/>
<g transform="translate(629.2,164.4) rotate(11)">
<rect x="-7.1" y="-1" width="14.2" height="2" rx="0.6" fill="#3660DC"/>
<rect x="-6.5" y="-0.3" width="13" height="0.5" fill="#8AA8F4"/>
</g>
<defs><path id="p97" d="M570.5 198.9Q567.7 200 566.3 200.5Q564.9 201.1 563.6 201.9Q562.3 202.7 561.2 203.6Q560 204.6 559 205.7Q558.1 206.9 557.2 208.1Q556.3 209.3 555.5 210.5Q554.7 211.8 553.8 213Q552.9 214.3 552.2 215.6Q551.5 216.9 550.8 218.2Q550.1 219.5 549.4 220.9Q548.8 222.3 548.4 223.7Q548 225.1 547.7 226.6L547.3 228.1"/></defs><use href="#p97" class="t1"/><use href="#p97" class="t2"/><use href="#p97" class="t3"/>
<defs><path id="p98" d="M676.5 178.6Q677.2 181.5 677.7 182.9Q678.2 184.3 678.8 185.7Q679.4 187.1 680.1 188.4Q680.8 189.7 681.5 191Q682.3 192.3 683 193.7Q683.7 195 684.1 196.4L684.5 197.9"/></defs><use href="#p98" class="t1"/><use href="#p98" class="t2"/><use href="#p98" class="t3"/>
<defs><path id="p99" d="M557.9 181.2Q555 181.8 553.6 182.2Q552.1 182.7 550.7 183.1Q549.3 183.6 547.9 184.1Q546.4 184.6 545.2 185.4Q543.9 186.1 542.7 187.1Q541.5 188 540.4 189Q539.2 189.9 538.1 190.9Q537 191.9 535.8 192.8Q534.6 193.8 533.4 194.7L532.3 195.6"/></defs><use href="#p99" class="t1"/><use href="#p99" class="t2"/><use href="#p99" class="t3"/>
<g transform="translate(542.8,200.6) rotate(58)">
<rect x="-6.8" y="-1" width="13.7" height="2" rx="0.6" fill="#3660DC"/>
<rect x="-6.2" y="-0.3" width="12.5" height="0.5" fill="#8AA8F4"/>
</g>
<defs><path id="p100" d="M644 144.3Q646.3 142.4 647.6 141.6Q648.8 140.8 650.3 140.5Q651.7 140.1 653.2 140.1Q654.7 140.1 656.1 140.7Q657.5 141.2 658.8 142.1Q660 142.9 661.1 144Q662.1 145.1 663 146.2Q664 147.4 665 148.5Q666 149.6 667.2 150.5Q668.4 151.4 669.8 151.9L671.2 152.5"/></defs><use href="#p100" class="t1"/><use href="#p100" class="t2"/><use href="#p100" class="t3"/>
<defs><path id="p101" d="M586.1 157.9Q587.6 155.3 588.1 153.9Q588.7 152.5 588.8 151Q588.9 149.5 588.6 148.1Q588.3 146.6 587.7 145.2Q587 143.8 586 142.8Q585 141.7 583.6 141Q582.3 140.4 580.8 140.2Q579.3 140 577.8 140.2Q576.3 140.4 574.8 140.6Q573.3 140.7 571.9 141.2Q570.4 141.6 569.2 142.4L567.9 143.2"/></defs><use href="#p101" class="t1"/><use href="#p101" class="t2"/><use href="#p101" class="t3"/>
<defs><path id="p102" d="M629 159Q627.2 156.6 626.7 155.1Q626.2 153.7 625.9 152.2Q625.7 150.8 625.6 149.3Q625.4 147.8 625.5 146.3Q625.5 144.8 625.8 143.3L626.1 141.8"/></defs><use href="#p102" class="t1"/><use href="#p102" class="t2"/><use href="#p102" class="t3"/>
<defs><path id="p103" d="M592.9 201.1Q595.4 199.5 596.7 198.7Q597.9 197.9 599.1 196.9Q600.2 195.9 601.4 195Q602.6 194.1 603.6 193Q604.7 192 605.6 190.7Q606.4 189.5 607.1 188.2Q607.7 186.8 608.1 185.4Q608.5 183.9 608.7 182.4Q608.8 180.9 608.7 179.4Q608.5 177.9 608.1 176.5L607.7 175.1"/></defs><use href="#p103" class="t1"/><use href="#p103" class="t2"/><use href="#p103" class="t3"/>
<g transform="translate(651.4,191.9) rotate(43)">
<rect x="-6.5" y="-1" width="13" height="2" rx="0.6" fill="#3660DC"/>
<rect x="-5.9" y="-0.3" width="11.8" height="0.5" fill="#8AA8F4"/>
</g>
<g transform="translate(576,152) rotate(41)">
<rect x="-7" y="-1" width="14.1" height="2" rx="0.6" fill="#3660DC"/>
<rect x="-6.4" y="-0.3" width="12.9" height="0.5" fill="#8AA8F4"/>
</g>
<defs><path id="p104" d="M562.7 207.9Q565.3 209.3 566.8 209.8Q568.2 210.2 569.7 210.4Q571.2 210.5 572.6 210.1Q574.1 209.7 575.4 209Q576.7 208.2 577.7 207.1Q578.7 206 579.3 204.6Q579.9 203.2 580 201.7Q580.2 200.3 579.9 198.8Q579.6 197.3 578.7 196.1Q577.9 194.8 576.8 193.8Q575.7 192.8 574.4 192L573.2 191.2"/></defs><use href="#p104" class="t1"/><use href="#p104" class="t2"/><use href="#p104" class="t3"/>
<g transform="translate(654.3,198.5) rotate(149)">
<rect x="-6.6" y="-1" width="13.1" height="2" rx="0.6" fill="#3660DC"/>
<rect x="-6" y="-0.3" width="11.9" height="0.5" fill="#8AA8F4"/>
</g>
<defs><path id="p105" d="M553.2 166.8Q551.9 164.1 551.2 162.7Q550.5 161.4 549.6 160.2Q548.8 159 547.9 157.8Q547 156.5 546.1 155.4Q545.1 154.2 544.2 153.1Q543.2 151.9 542.3 150.7Q541.3 149.6 540.4 148.4Q539.5 147.2 538.7 145.9L537.9 144.7"/></defs><use href="#p105" class="t1"/><use href="#p105" class="t2"/><use href="#p105" class="t3"/>
<defs><path id="p106" d="M675.1 200.1Q677.3 202.2 678.2 203.4Q679 204.6 679.6 206Q680.2 207.4 680.5 208.9Q680.9 210.3 681.1 211.8Q681.4 213.3 681.4 214.8Q681.4 216.3 680.8 217.7Q680.3 219.1 679.4 220.3Q678.5 221.5 677.2 222.3Q675.9 223.1 674.5 223.4Q673 223.7 671.5 223.7Q670 223.7 668.5 223.3Q667.1 223 665.7 222.3L664.4 221.7"/></defs><use href="#p106" class="t1"/><use href="#p106" class="t2"/><use href="#p106" class="t3"/>
<g transform="translate(628.2,170.6) rotate(26)">
<rect x="-7.4" y="-1" width="14.8" height="2" rx="0.6" fill="#3660DC"/>
<rect x="-6.8" y="-0.3" width="13.6" height="0.5" fill="#8AA8F4"/>
</g>
<g transform="translate(634.8,189.5) rotate(108)">
<rect x="-6.7" y="-1" width="13.3" height="2" rx="0.6" fill="#3660DC"/>
<rect x="-6.1" y="-0.3" width="12.1" height="0.5" fill="#8AA8F4"/>
</g>
<g transform="translate(667.4,158.7) rotate(34)">
<rect x="-6.9" y="-1" width="13.8" height="2" rx="0.6" fill="#3660DC"/>
<rect x="-6.3" y="-0.3" width="12.6" height="0.5" fill="#8AA8F4"/>
</g>
<g transform="translate(563.7,194.6) rotate(78)">
<rect x="-6" y="-1" width="12.1" height="2" rx="0.6" fill="#3660DC"/>
<rect x="-5.4" y="-0.3" width="10.9" height="0.5" fill="#8AA8F4"/>
</g>
<defs><path id="p107" d="M617.4 158.3Q620.4 158 621.9 157.7Q623.4 157.5 624.8 157.4Q626.3 157.2 627.8 157Q629.3 156.9 630.8 156.6Q632.3 156.3 633.7 156.1Q635.2 155.9 636.7 155.8Q638.2 155.8 639.7 156Q641.2 156.3 642.6 156.7Q644.1 157.1 645.4 157.7L646.8 158.4"/></defs><use href="#p107" class="t1"/><use href="#p107" class="t2"/><use href="#p107" class="t3"/>
<g transform="translate(647.8,159.6) rotate(143)">
<rect x="-7.2" y="-1" width="14.4" height="2" rx="0.6" fill="#3660DC"/>
<rect x="-6.6" y="-0.3" width="13.2" height="0.5" fill="#8AA8F4"/>
</g>
<g transform="translate(654.4,209.2) rotate(106)">
<rect x="-6.9" y="-1" width="13.9" height="2" rx="0.6" fill="#3660DC"/>
<rect x="-6.3" y="-0.3" width="12.7" height="0.5" fill="#8AA8F4"/>
</g>
<defs><path id="p108" d="M607.4 166Q608.3 168.9 609.2 170.1Q610.1 171.2 611.3 172.2Q612.5 173.1 613.8 173.7Q615.2 174.4 616.6 174.9Q618 175.4 619.5 175.7Q620.9 176.1 622.4 176.4Q623.9 176.8 625.3 177.1L626.8 177.4"/></defs><use href="#p108" class="t1"/><use href="#p108" class="t2"/><use href="#p108" class="t3"/>
<defs><path id="p109" d="M543.5 196.9Q544.2 199.8 545 201.1Q545.8 202.4 547 203.3Q548.2 204.2 549.6 204.7Q551 205.2 552.5 205.4Q554 205.6 555.5 205.5Q557 205.3 558.4 204.8Q559.8 204.2 561.1 203.5Q562.4 202.7 563.5 201.8Q564.7 200.9 565.5 199.6Q566.4 198.4 567 197L567.6 195.6"/></defs><use href="#p109" class="t1"/><use href="#p109" class="t2"/><use href="#p109" class="t3"/>
<defs><path id="p110" d="M624.3 144Q622.1 142 621.1 140.9Q620.1 139.7 619.3 138.5Q618.5 137.2 617.4 138.2Q616.2 139.1 614.8 139.6Q613.4 140.1 611.9 140.1Q610.4 140.1 609 139.5L607.6 139"/></defs><use href="#p110" class="t1"/><use href="#p110" class="t2"/><use href="#p110" class="t3"/>
<defs><path id="p111" d="M556.6 157Q558.4 159.4 559.3 160.6Q560.2 161.8 560.8 163.2Q561.5 164.5 561.7 166Q561.9 167.5 561.5 169Q561.2 170.4 560.5 171.8Q559.8 173.1 558.7 174.1Q557.6 175.1 556.3 175.9Q555 176.6 553.5 176.9L552 177.1"/></defs><use href="#p111" class="t1"/><use href="#p111" class="t2"/><use href="#p111" class="t3"/>
<g transform="translate(627.8,195.7) rotate(109)">
<rect x="-7" y="-1" width="14.1" height="2" rx="0.6" fill="#3660DC"/>
<rect x="-6.4" y="-0.3" width="12.9" height="0.5" fill="#8AA8F4"/>
</g>
<defs><path id="p112" d="M660.4 204.6Q661.7 201.9 662.5 200.6Q663.2 199.3 664.1 198.1Q664.9 196.8 665.7 195.6Q666.6 194.4 667.4 193.1Q668.2 191.9 669.2 190.7Q670.1 189.5 671.2 188.5Q672.3 187.5 673.6 186.6Q674.8 185.8 676.1 185.1Q677.5 184.5 678.9 184.1Q680.4 183.7 681.9 183.5L683.4 183.3"/></defs><use href="#p112" class="t1"/><use href="#p112" class="t2"/><use href="#p112" class="t3"/>
<defs><path id="p113" d="M648.6 171.1Q645.6 170.6 644.1 170.6Q642.6 170.6 641.1 170.8Q639.6 170.9 638.2 171.3Q636.7 171.6 635.3 172.2Q633.9 172.7 632.6 173.5Q631.3 174.3 630.3 175.3Q629.3 176.4 628.6 177.8L627.9 179.1"/></defs><use href="#p113" class="t1"/><use href="#p113" class="t2"/><use href="#p113" class="t3"/>
<g transform="translate(571.3,159.3) rotate(3)">
<rect x="-6.6" y="-1" width="13.3" height="2" rx="0.6" fill="#3660DC"/>
<rect x="-6" y="-0.3" width="12.1" height="0.5" fill="#8AA8F4"/>
</g>
<g transform="translate(632,156.7) rotate(43)">
<rect x="-6.4" y="-1" width="12.7" height="2" rx="0.6" fill="#3660DC"/>
<rect x="-5.8" y="-0.3" width="11.5" height="0.5" fill="#8AA8F4"/>
</g>
<defs><path id="p114" d="M608.2 192Q611.2 192 612.7 191.7Q614.2 191.5 615.5 190.8Q616.9 190.1 618.1 189.3Q619.3 188.5 620.3 187.4Q621.3 186.2 622.2 185Q623 183.8 623.5 182.3Q624 180.9 624.1 179.4L624.2 177.9"/></defs><use href="#p114" class="t1"/><use href="#p114" class="t2"/><use href="#p114" class="t3"/>
<defs><path id="p115" d="M551 186.4Q552.8 188.9 553.4 190.3Q554 191.6 554.2 193.1Q554.3 194.6 554.2 196.1Q554.2 197.6 554 199.1Q553.9 200.6 553.5 202Q553.1 203.5 552.4 204.8Q551.6 206.1 550.7 207.3Q549.8 208.5 548.8 209.6Q547.9 210.8 546.7 211.7L545.6 212.7"/></defs><use href="#p115" class="t1"/><use href="#p115" class="t2"/><use href="#p115" class="t3"/>
<defs><path id="p116" d="M598.4 196.2Q597.1 193.5 596.4 192.2Q595.8 190.8 595 189.5Q594.2 188.3 593.1 187.3Q591.9 186.4 590.5 185.9Q589.1 185.4 587.6 185.4L586.1 185.4"/></defs><use href="#p116" class="t1"/><use href="#p116" class="t2"/><use href="#p116" class="t3"/>
<defs><path id="p117" d="M554.5 151.5Q553.9 154.5 553.3 155.8Q552.7 157.2 551.7 158.3Q550.7 159.5 549.4 160.3Q548.2 161.1 546.7 161.4Q545.2 161.7 543.7 161.5Q542.3 161.3 540.9 160.6Q539.6 159.9 538.5 158.9Q537.4 157.9 536.7 156.6Q536 155.2 535.7 153.7Q535.5 152.3 535.8 150.8Q536.2 149.3 537 148.1L537.7 146.8"/></defs><use href="#p117" class="t1"/><use href="#p117" class="t2"/><use href="#p117" class="t3"/>
<defs><path id="p118" d="M584.3 188.7Q581.9 186.9 580.7 186Q579.5 185.1 578.4 184Q577.4 182.9 576.7 181.6Q576.1 180.2 575.8 178.7Q575.4 177.3 575.3 175.8Q575.3 174.3 575.6 172.8Q575.8 171.3 576.5 170Q577.3 168.7 578.3 167.7Q579.4 166.6 580.7 165.8Q582 165.1 583.3 164.4L584.7 163.8"/></defs><use href="#p118" class="t1"/><use href="#p118" class="t2"/><use href="#p118" class="t3"/>
<g transform="translate(618.4,206.4) rotate(126)">
<rect x="-6.9" y="-1" width="13.8" height="2" rx="0.6" fill="#3660DC"/>
<rect x="-6.3" y="-0.3" width="12.6" height="0.5" fill="#8AA8F4"/>
</g>
<defs><path id="p119" d="M638.2 178.1Q635.3 178.4 633.8 178.7Q632.3 178.9 630.9 179.4Q629.5 179.9 628.1 180.6Q626.8 181.3 625.6 182.2Q624.4 183.1 623.5 184.3Q622.5 185.4 621.9 186.8Q621.3 188.2 621.2 189.7Q621.1 191.2 621.5 192.6Q621.9 194.1 622.8 195.3Q623.6 196.5 624.9 197.3Q626.1 198.2 627.5 198.8Q628.8 199.4 630.2 200L631.6 200.6"/></defs><use href="#p119" class="t1"/><use href="#p119" class="t2"/><use href="#p119" class="t3"/>
<g transform="translate(585.3,161.2) rotate(58)">
<rect x="-7.5" y="-1" width="15" height="2" rx="0.6" fill="#3660DC"/>
<rect x="-6.9" y="-0.3" width="13.8" height="0.5" fill="#8AA8F4"/>
</g>
<defs><path id="p120" d="M667.6 156Q668.4 158.8 668.5 160.3Q668.7 161.8 668.4 163.3Q668.2 164.8 667.6 166.2Q667 167.6 666.1 168.7Q665.1 169.9 664 170.8Q662.8 171.8 661.4 172.4Q660.1 173 658.6 173.1L657.1 173.2"/></defs><use href="#p120" class="t1"/><use href="#p120" class="t2"/><use href="#p120" class="t3"/>
<defs><path id="p121" d="M624.9 190.4Q627.6 189 629.1 188.9Q630.6 188.7 632 189Q633.5 189.4 634.8 190.2Q636 191 636.9 192.2Q637.9 193.4 638.5 194.7Q639.2 196.1 639.5 197.5Q639.8 199 639.6 200.5Q639.5 202 638.9 203.4Q638.2 204.7 637.2 205.8Q636.2 206.9 634.8 207.6Q633.5 208.2 632 208.4Q630.5 208.6 629 208.3L627.6 208"/></defs><use href="#p121" class="t1"/><use href="#p121" class="t2"/><use href="#p121" class="t3"/>
<g transform="translate(549.1,181.1) rotate(112)">
<rect x="-7.4" y="-1" width="14.9" height="2" rx="0.6" fill="#3660DC"/>
<rect x="-6.8" y="-0.3" width="13.7" height="0.5" fill="#8AA8F4"/>
</g>
<defs><path id="p122" d="M676.1 167.4Q677.4 170.1 678.2 171.4Q679 172.6 679.8 173.9Q680.7 175.1 681.6 176.3Q682.5 177.5 683.6 178.6Q684.6 179.6 685.9 180.4Q687.1 181.2 688.6 181.7Q690 182.1 691.5 182Q693 181.9 694.4 181.3Q695.8 180.7 696.8 179.6Q697.9 178.6 698.6 177.3Q699.2 175.9 699.4 174.4Q699.6 172.9 699.4 171.4L699.1 170"/></defs><use href="#p122" class="t1"/><use href="#p122" class="t2"/><use href="#p122" class="t3"/>
<g transform="translate(604,188.1) rotate(178)">
<rect x="-7.3" y="-1" width="14.7" height="2" rx="0.6" fill="#3660DC"/>
<rect x="-6.7" y="-0.3" width="13.5" height="0.5" fill="#8AA8F4"/>
</g>
<g transform="translate(603.7,202.3) rotate(54)">
<rect x="-6.5" y="-1" width="13" height="2" rx="0.6" fill="#3660DC"/>
<rect x="-5.9" y="-0.3" width="11.8" height="0.5" fill="#8AA8F4"/>
</g>
<defs><path id="p123" d="M665 193.4Q665.4 196.4 665.5 197.9Q665.5 199.4 665.5 200.9Q665.4 202.4 665.5 203.9Q665.5 205.4 665.5 206.9Q665.5 208.4 665.4 209.9Q665.2 211.4 664.9 212.8Q664.5 214.3 664 215.7Q663.5 217.1 662.8 218.5Q662.1 219.8 661.4 221.1L660.7 222.4"/></defs><use href="#p123" class="t1"/><use href="#p123" class="t2"/><use href="#p123" class="t3"/>
<g transform="translate(662.5,160.4) rotate(64)">
<rect x="-6.1" y="-1" width="12.2" height="2" rx="0.6" fill="#3660DC"/>
<rect x="-5.5" y="-0.3" width="11" height="0.5" fill="#8AA8F4"/>
</g>
<defs><path id="p124" d="M621.5 201.6Q620.7 204.5 620.1 205.9Q619.6 207.3 619 208.7Q618.3 210.1 617.4 211.3Q616.6 212.5 615.6 213.6Q614.6 214.8 613.5 215.7Q612.3 216.7 611.1 217.6Q609.9 218.4 608.7 219.3Q607.5 220.2 606.3 221.2L605.2 222.2"/></defs><use href="#p124" class="t1"/><use href="#p124" class="t2"/><use href="#p124" class="t3"/>
<g transform="translate(594.4,148.4) rotate(34)">
<rect x="-6" y="-1" width="12.1" height="2" rx="0.6" fill="#3660DC"/>
<rect x="-5.4" y="-0.3" width="10.9" height="0.5" fill="#8AA8F4"/>
</g>
<defs><path id="p125" d="M578.8 160.4Q581.6 159.1 582.9 158.4Q584.2 157.6 585.2 156.5Q586.3 155.5 586.9 154.1Q587.6 152.8 587.8 151.3Q587.9 149.8 587.8 148.3L587.6 146.8"/></defs><use href="#p125" class="t1"/><use href="#p125" class="t2"/><use href="#p125" class="t3"/>
<defs><path id="p126" d="M603.1 205.9Q604 203.1 604.7 201.7Q605.3 200.4 606.3 199.2Q607.2 198 608.5 197.3Q609.8 196.5 611.2 196.1Q612.7 195.8 614.2 195.9Q615.7 195.9 617.1 196.5Q618.5 197.1 619.6 198Q620.8 199 621.7 200.2L622.6 201.4"/></defs><use href="#p126" class="t1"/><use href="#p126" class="t2"/><use href="#p126" class="t3"/>
<g transform="translate(578.2,192.1) rotate(35)">
<rect x="-6.6" y="-1" width="13.2" height="2" rx="0.6" fill="#3660DC"/>
<rect x="-6" y="-0.3" width="12" height="0.5" fill="#8AA8F4"/>
</g>
<defs><path id="p127" d="M541.3 152.7Q538.3 152.3 536.8 152.1Q535.3 151.9 533.9 151.7Q532.4 151.5 530.9 151.3Q529.4 151.2 527.9 151.1Q526.4 151.1 524.9 151Q523.4 150.9 521.9 150.9Q520.4 150.9 518.9 150.7Q517.4 150.5 516 150.2Q514.5 149.8 513.2 149.1Q511.8 148.5 510.5 147.7Q509.3 146.9 508.1 145.9Q507 144.9 506 143.8L504.9 142.7"/></defs><use href="#p127" class="t1"/><use href="#p127" class="t2"/><use href="#p127" class="t3"/>
<g transform="translate(626.9,205.7) rotate(97)">
<rect x="-6.9" y="-1" width="13.9" height="2" rx="0.6" fill="#3660DC"/>
<rect x="-6.3" y="-0.3" width="12.7" height="0.5" fill="#8AA8F4"/>
</g>
<defs><path id="p128" d="M540 162.4Q541.6 164.9 542.2 166.3Q542.8 167.7 543.3 169.1Q543.8 170.5 544.2 172Q544.6 173.4 545 174.9Q545.3 176.3 545.4 177.8Q545.4 179.3 545.3 180.8Q545.2 182.3 544.6 183.7L544.1 185.1"/></defs><use href="#p128" class="t1"/><use href="#p128" class="t2"/><use href="#p128" class="t3"/>
<g transform="translate(569.4,175.6) rotate(173)">
<rect x="-6" y="-1" width="12" height="2" rx="0.6" fill="#3660DC"/>
<rect x="-5.4" y="-0.3" width="10.8" height="0.5" fill="#8AA8F4"/>
</g>
<g transform="translate(591.1,211.3) rotate(94)">
<rect x="-7.4" y="-1" width="14.9" height="2" rx="0.6" fill="#3660DC"/>
<rect x="-6.8" y="-0.3" width="13.7" height="0.5" fill="#8AA8F4"/>
</g>
<defs><path id="p129" d="M575.8 208.7Q578.6 209.8 580.1 209.9Q581.6 209.9 583 209.4Q584.5 209 585.6 208Q586.8 207.1 587.7 205.9Q588.6 204.7 589 203.2Q589.4 201.8 589.3 200.3Q589.2 198.8 588.5 197.4Q587.9 196 586.9 195Q585.8 193.9 584.5 193.2L583.1 192.6"/></defs><use href="#p129" class="t1"/><use href="#p129" class="t2"/><use href="#p129" class="t3"/>
<g transform="translate(562.8,151.6) rotate(16)">
<rect x="-7" y="-1" width="14" height="2" rx="0.6" fill="#3660DC"/>
<rect x="-6.4" y="-0.3" width="12.8" height="0.5" fill="#8AA8F4"/>
</g>
<defs><path id="p130" d="M583.3 213.3Q580.4 214.1 579 214.8Q577.7 215.4 576.4 216.2Q575.1 217 573.9 217.8Q572.6 218.6 571.1 219.1Q569.7 219.6 568.3 219.8Q566.8 220 565.3 219.9Q563.8 219.8 562.3 219.6L560.8 219.4"/></defs><use href="#p130" class="t1"/><use href="#p130" class="t2"/><use href="#p130" class="t3"/>
<g transform="translate(541.6,161.5) rotate(66)">
<rect x="-7.2" y="-1" width="14.4" height="2" rx="0.6" fill="#3660DC"/>
<rect x="-6.6" y="-0.3" width="13.2" height="0.5" fill="#8AA8F4"/>
</g>
<defs><path id="p131" d="M667.5 145Q669.4 142.6 670.3 141.4Q671.2 140.2 672 139Q672.9 137.7 674 138.8Q675.1 139.8 676.3 140.7Q677.5 141.5 679 142Q680.4 142.4 681.9 142.4Q683.4 142.4 684.9 142.1Q686.4 141.8 687.7 141.3Q689.1 140.7 690.3 139.7L691.4 138.7"/></defs><use href="#p131" class="t1"/><use href="#p131" class="t2"/><use href="#p131" class="t3"/>
<defs><path id="p132" d="M613.1 164.7Q614.7 162.2 615.3 160.8Q616 159.5 616.3 158Q616.7 156.6 616.7 155.1Q616.6 153.6 616.1 152.2Q615.6 150.7 614.6 149.6Q613.6 148.5 612.3 147.7Q611 147 609.6 146.5Q608.2 146 606.7 146Q605.2 146 603.7 146.4Q602.3 146.8 601.1 147.6Q599.8 148.5 599 149.7L598.1 150.9"/></defs><use href="#p132" class="t1"/><use href="#p132" class="t2"/><use href="#p132" class="t3"/>
<g transform="translate(543.9,203) rotate(19)">
<rect x="-6.9" y="-1" width="13.8" height="2" rx="0.6" fill="#3660DC"/>
<rect x="-6.3" y="-0.3" width="12.6" height="0.5" fill="#8AA8F4"/>
</g>
<g transform="translate(613,171.3) rotate(36)">
<rect x="-6.3" y="-1" width="12.5" height="2" rx="0.6" fill="#3660DC"/>
<rect x="-5.7" y="-0.3" width="11.3" height="0.5" fill="#8AA8F4"/>
</g>
<defs><path id="p133" d="M646.1 177.7Q643.4 179 642.1 179.6Q640.7 180.3 639.3 180.9Q638 181.5 636.5 182Q635.1 182.5 633.7 182.8Q632.2 183.2 630.7 183.4Q629.2 183.7 627.8 184Q626.3 184.2 624.8 184.6Q623.4 184.9 621.9 185.1Q620.4 185.3 618.9 185.4Q617.4 185.4 615.9 185.3Q614.4 185.2 612.9 184.9Q611.5 184.6 610.1 184.1L608.7 183.5"/></defs><use href="#p133" class="t1"/><use href="#p133" class="t2"/><use href="#p133" class="t3"/>
<defs><path id="p134" d="M672.3 187.9Q672.1 184.9 672.4 183.4Q672.6 181.9 673.3 180.6Q674 179.3 674.9 178.1Q675.8 176.9 676.7 175.6Q677.6 174.4 678.4 173.2Q679.2 171.9 679.9 170.6Q680.7 169.3 681.3 167.9Q681.9 166.6 682.7 165.3Q683.5 164 684.6 163Q685.7 162 686.9 161.1L688.1 160.2"/></defs><use href="#p134" class="t1"/><use href="#p134" class="t2"/><use href="#p134" class="t3"/>
<g transform="translate(675.5,203.1) rotate(153)">
<rect x="-6.7" y="-1" width="13.5" height="2" rx="0.6" fill="#3660DC"/>
<rect x="-6.1" y="-0.3" width="12.3" height="0.5" fill="#8AA8F4"/>
</g>
<defs><path id="p135" d="M655.8 150.3Q658.7 150.7 660.2 151.2Q661.6 151.7 662.7 152.7Q663.9 153.6 664.7 154.9Q665.5 156.1 665.8 157.6Q666.2 159.1 666.2 160.6Q666.2 162.1 665.7 163.5Q665.3 164.9 664.7 166.3Q664 167.7 663.2 168.9Q662.4 170.1 661.3 171.2Q660.2 172.2 658.8 172.8Q657.5 173.5 656 173.7Q654.5 173.9 653 173.6L651.6 173.3"/></defs><use href="#p135" class="t1"/><use href="#p135" class="t2"/><use href="#p135" class="t3"/>
<defs><path id="p136" d="M623 174Q625.7 175.3 627.1 175.6Q628.6 176 630.1 176.1Q631.6 176.3 633.1 176.3Q634.6 176.3 636 176.1Q637.5 175.8 638.9 175.2Q640.3 174.7 641.6 174Q643 173.3 644.2 172.5Q645.4 171.6 646.5 170.6L647.6 169.5"/></defs><use href="#p136" class="t1"/><use href="#p136" class="t2"/><use href="#p136" class="t3"/>
<g transform="translate(639.1,189.5) rotate(134)">
<rect x="-6.4" y="-1" width="12.8" height="2" rx="0.6" fill="#3660DC"/>
<rect x="-5.8" y="-0.3" width="11.6" height="0.5" fill="#8AA8F4"/>
</g>
<defs><path id="p137" d="M551.6 209.1Q548.6 208.5 547.1 208.6Q545.6 208.7 544.3 209.4Q542.9 210 541.8 211Q540.7 212 539.7 213.1Q538.7 214.2 537.9 215.5Q537 216.7 536.2 218Q535.4 219.3 534.6 220.5Q533.7 221.7 532.8 222.9Q531.8 224 530.7 225.1Q529.7 226.1 528.7 227.3L527.7 228.4"/></defs><use href="#p137" class="t1"/><use href="#p137" class="t2"/><use href="#p137" class="t3"/>
<g transform="translate(620.4,199.5) rotate(149)">
<rect x="-6.6" y="-1" width="13.2" height="2" rx="0.6" fill="#3660DC"/>
<rect x="-6" y="-0.3" width="12" height="0.5" fill="#8AA8F4"/>
</g>
<g transform="translate(645.4,178.8) rotate(94)">
<rect x="-6.6" y="-1" width="13.1" height="2" rx="0.6" fill="#3660DC"/>
<rect x="-6" y="-0.3" width="11.9" height="0.5" fill="#8AA8F4"/>
</g>
<defs><path id="p138" d="M658.5 182Q658.3 179 658.4 177.5Q658.5 176 658.6 174.5Q658.8 173 658.7 171.5Q658.7 170 658.8 168.5Q658.9 167 659.1 165.5Q659.4 164 659.8 162.6Q660.3 161.2 661.1 159.9Q661.9 158.6 663.1 157.7Q664.3 156.8 665.7 156.4Q667.1 155.9 668.6 156Q670.1 156 671.6 156.4Q673 156.8 674.4 157.3L675.8 157.9"/></defs><use href="#p138" class="t1"/><use href="#p138" class="t2"/><use href="#p138" class="t3"/>
<defs><path id="p139" d="M666.4 168.3Q669.4 168.6 670.8 168.3Q672.3 168 673.6 167.2Q674.8 166.4 676 165.4Q677.1 164.4 678 163.2Q678.9 162 679.4 160.6Q679.8 159.2 680.1 157.7Q680.3 156.2 680.1 154.7Q679.8 153.3 679.1 152Q678.3 150.7 677.3 149.6Q676.2 148.5 674.8 147.9Q673.5 147.3 672 147L670.5 146.7"/></defs><use href="#p139" class="t1"/><use href="#p139" class="t2"/><use href="#p139" class="t3"/>
<g transform="translate(607.8,164.6) rotate(85)">
<rect x="-6" y="-1" width="12.1" height="2" rx="0.6" fill="#3660DC"/>
<rect x="-5.4" y="-0.3" width="10.9" height="0.5" fill="#8AA8F4"/>
</g>
<g transform="translate(588.9,187.3) rotate(60)">
<rect x="-7.2" y="-1" width="14.4" height="2" rx="0.6" fill="#3660DC"/>
<rect x="-6.6" y="-0.3" width="13.2" height="0.5" fill="#8AA8F4"/>
</g>
<g transform="translate(556.3,184.5) rotate(44)">
<rect x="-7.3" y="-1" width="14.6" height="2" rx="0.6" fill="#3660DC"/>
<rect x="-6.7" y="-0.3" width="13.4" height="0.5" fill="#8AA8F4"/>
</g>
<defs><path id="p140" d="M606.4 178.7Q605.9 181.7 605.4 183.1Q604.8 184.5 604.3 185.9Q603.8 187.3 603.4 188.7Q603 190.2 602.9 191.7Q602.8 193.2 602.8 194.7L602.8 196.2"/></defs><use href="#p140" class="t1"/><use href="#p140" class="t2"/><use href="#p140" class="t3"/>
</g></svg>
<text x="541.4" y="211.4" font-size="10" font-weight="bold" fill="#FFFF00" stroke="#8a7a00" stroke-width="0.35" stroke-opacity="0.6" paint-order="stroke">SVD-0</text>
<g filter="url(#fsh)"><rect x="535.4" y="222.8" width="148" height="101.6" rx="3" fill="url(#fbg)" stroke="#B8C4CC" stroke-width="0.6"/></g>
<svg x="535.4" y="222.8" width="148" height="101.6" overflow="hidden"><g transform="translate(-535.4,-222.8)">
<g transform="translate(543.9,232.9) rotate(87)">
<rect x="-6.3" y="-4.4" width="12.6" height="1.4" fill="#3157D6"/>
<rect x="-5.8" y="-4" width="11.6" height="0.4" fill="#7E9EF2"/>
<rect x="-6.3" y="-2" width="12.6" height="1.4" fill="#3157D6"/>
<rect x="-5.8" y="-1.5" width="11.6" height="0.4" fill="#7E9EF2"/>
<rect x="-6.3" y="0.5" width="12.6" height="1.4" fill="#3157D6"/>
<rect x="-5.8" y="0.9" width="11.6" height="0.4" fill="#7E9EF2"/>
<rect x="-6.3" y="3" width="12.6" height="1.4" fill="#3157D6"/>
<rect x="-5.8" y="3.4" width="11.6" height="0.4" fill="#7E9EF2"/>
</g>
<g transform="translate(565.3,234.8) rotate(160)">
<rect x="-5.9" y="-5.6" width="11.9" height="1.4" fill="#3157D6"/>
<rect x="-5.4" y="-5.2" width="10.9" height="0.4" fill="#7E9EF2"/>
<rect x="-5.9" y="-3.2" width="11.9" height="1.4" fill="#3157D6"/>
<rect x="-5.4" y="-2.7" width="10.9" height="0.4" fill="#7E9EF2"/>
<rect x="-5.9" y="-0.7" width="11.9" height="1.4" fill="#3157D6"/>
<rect x="-5.4" y="-0.3" width="10.9" height="0.4" fill="#7E9EF2"/>
<rect x="-5.9" y="1.7" width="11.9" height="1.4" fill="#3157D6"/>
<rect x="-5.4" y="2.2" width="10.9" height="0.4" fill="#7E9EF2"/>
<rect x="-5.9" y="4.2" width="11.9" height="1.4" fill="#3157D6"/>
<rect x="-5.4" y="4.6" width="10.9" height="0.4" fill="#7E9EF2"/>
</g>
<g transform="translate(580.5,232.7) rotate(43)">
<rect x="-6.2" y="-5.6" width="12.4" height="1.4" fill="#3157D6"/>
<rect x="-5.7" y="-5.2" width="11.4" height="0.4" fill="#7E9EF2"/>
<rect x="-6.2" y="-3.2" width="12.4" height="1.4" fill="#3157D6"/>
<rect x="-5.7" y="-2.7" width="11.4" height="0.4" fill="#7E9EF2"/>
<rect x="-6.2" y="-0.7" width="12.4" height="1.4" fill="#3157D6"/>
<rect x="-5.7" y="-0.3" width="11.4" height="0.4" fill="#7E9EF2"/>
<rect x="-6.2" y="1.7" width="12.4" height="1.4" fill="#3157D6"/>
<rect x="-5.7" y="2.2" width="11.4" height="0.4" fill="#7E9EF2"/>
<rect x="-6.2" y="4.2" width="12.4" height="1.4" fill="#3157D6"/>
<rect x="-5.7" y="4.6" width="11.4" height="0.4" fill="#7E9EF2"/>
</g>
<g transform="translate(596.6,233.5) rotate(138)">
<rect x="-6.3" y="-5.6" width="12.6" height="1.4" fill="#3157D6"/>
<rect x="-5.8" y="-5.2" width="11.6" height="0.4" fill="#7E9EF2"/>
<rect x="-6.3" y="-3.2" width="12.6" height="1.4" fill="#3157D6"/>
<rect x="-5.8" y="-2.7" width="11.6" height="0.4" fill="#7E9EF2"/>
<rect x="-6.3" y="-0.7" width="12.6" height="1.4" fill="#3157D6"/>
<rect x="-5.8" y="-0.3" width="11.6" height="0.4" fill="#7E9EF2"/>
<rect x="-6.3" y="1.7" width="12.6" height="1.4" fill="#3157D6"/>
<rect x="-5.8" y="2.2" width="11.6" height="0.4" fill="#7E9EF2"/>
<rect x="-6.3" y="4.2" width="12.6" height="1.4" fill="#3157D6"/>
<rect x="-5.8" y="4.6" width="11.6" height="0.4" fill="#7E9EF2"/>
</g>
<g transform="translate(605.5,232.9) rotate(162)">
<rect x="-5.6" y="-4.4" width="11.3" height="1.4" fill="#3157D6"/>
<rect x="-5.1" y="-4" width="10.3" height="0.4" fill="#7E9EF2"/>
<rect x="-5.6" y="-2" width="11.3" height="1.4" fill="#3157D6"/>
<rect x="-5.1" y="-1.5" width="10.3" height="0.4" fill="#7E9EF2"/>
<rect x="-5.6" y="0.5" width="11.3" height="1.4" fill="#3157D6"/>
<rect x="-5.1" y="0.9" width="10.3" height="0.4" fill="#7E9EF2"/>
<rect x="-5.6" y="3" width="11.3" height="1.4" fill="#3157D6"/>
<rect x="-5.1" y="3.4" width="10.3" height="0.4" fill="#7E9EF2"/>
</g>
<g transform="translate(620.7,236.6) rotate(121)">
<rect x="-5.7" y="-4.4" width="11.3" height="1.4" fill="#3157D6"/>
<rect x="-5.2" y="-4" width="10.3" height="0.4" fill="#7E9EF2"/>
<rect x="-5.7" y="-2" width="11.3" height="1.4" fill="#3157D6"/>
<rect x="-5.2" y="-1.5" width="10.3" height="0.4" fill="#7E9EF2"/>
<rect x="-5.7" y="0.5" width="11.3" height="1.4" fill="#3157D6"/>
<rect x="-5.2" y="0.9" width="10.3" height="0.4" fill="#7E9EF2"/>
<rect x="-5.7" y="3" width="11.3" height="1.4" fill="#3157D6"/>
<rect x="-5.2" y="3.4" width="10.3" height="0.4" fill="#7E9EF2"/>
</g>
<g transform="translate(644.7,232) rotate(135)">
<rect x="-6.2" y="-5.6" width="12.4" height="1.4" fill="#3157D6"/>
<rect x="-5.7" y="-5.2" width="11.4" height="0.4" fill="#7E9EF2"/>
<rect x="-6.2" y="-3.2" width="12.4" height="1.4" fill="#3157D6"/>
<rect x="-5.7" y="-2.7" width="11.4" height="0.4" fill="#7E9EF2"/>
<rect x="-6.2" y="-0.7" width="12.4" height="1.4" fill="#3157D6"/>
<rect x="-5.7" y="-0.3" width="11.4" height="0.4" fill="#7E9EF2"/>
<rect x="-6.2" y="1.7" width="12.4" height="1.4" fill="#3157D6"/>
<rect x="-5.7" y="2.2" width="11.4" height="0.4" fill="#7E9EF2"/>
<rect x="-6.2" y="4.2" width="12.4" height="1.4" fill="#3157D6"/>
<rect x="-5.7" y="4.6" width="11.4" height="0.4" fill="#7E9EF2"/>
</g>
<g transform="translate(654.3,235.3) rotate(129)">
<rect x="-6.4" y="-5.6" width="12.8" height="1.4" fill="#3157D6"/>
<rect x="-5.9" y="-5.2" width="11.8" height="0.4" fill="#7E9EF2"/>
<rect x="-6.4" y="-3.2" width="12.8" height="1.4" fill="#3157D6"/>
<rect x="-5.9" y="-2.7" width="11.8" height="0.4" fill="#7E9EF2"/>
<rect x="-6.4" y="-0.7" width="12.8" height="1.4" fill="#3157D6"/>
<rect x="-5.9" y="-0.3" width="11.8" height="0.4" fill="#7E9EF2"/>
<rect x="-6.4" y="1.7" width="12.8" height="1.4" fill="#3157D6"/>
<rect x="-5.9" y="2.2" width="11.8" height="0.4" fill="#7E9EF2"/>
<rect x="-6.4" y="4.2" width="12.8" height="1.4" fill="#3157D6"/>
<rect x="-5.9" y="4.6" width="11.8" height="0.4" fill="#7E9EF2"/>
</g>
<g transform="translate(668.9,230.8) rotate(159)">
<rect x="-6.1" y="-5.6" width="12.2" height="1.4" fill="#3157D6"/>
<rect x="-5.6" y="-5.2" width="11.2" height="0.4" fill="#7E9EF2"/>
<rect x="-6.1" y="-3.2" width="12.2" height="1.4" fill="#3157D6"/>
<rect x="-5.6" y="-2.7" width="11.2" height="0.4" fill="#7E9EF2"/>
<rect x="-6.1" y="-0.7" width="12.2" height="1.4" fill="#3157D6"/>
<rect x="-5.6" y="-0.3" width="11.2" height="0.4" fill="#7E9EF2"/>
<rect x="-6.1" y="1.7" width="12.2" height="1.4" fill="#3157D6"/>
<rect x="-5.6" y="2.2" width="11.2" height="0.4" fill="#7E9EF2"/>
<rect x="-6.1" y="4.2" width="12.2" height="1.4" fill="#3157D6"/>
<rect x="-5.6" y="4.6" width="11.2" height="0.4" fill="#7E9EF2"/>
</g>
<g transform="translate(544.3,245) rotate(117)">
<rect x="-6.2" y="-5.6" width="12.5" height="1.4" fill="#3157D6"/>
<rect x="-5.7" y="-5.2" width="11.5" height="0.4" fill="#7E9EF2"/>
<rect x="-6.2" y="-3.2" width="12.5" height="1.4" fill="#3157D6"/>
<rect x="-5.7" y="-2.7" width="11.5" height="0.4" fill="#7E9EF2"/>
<rect x="-6.2" y="-0.7" width="12.5" height="1.4" fill="#3157D6"/>
<rect x="-5.7" y="-0.3" width="11.5" height="0.4" fill="#7E9EF2"/>
<rect x="-6.2" y="1.7" width="12.5" height="1.4" fill="#3157D6"/>
<rect x="-5.7" y="2.2" width="11.5" height="0.4" fill="#7E9EF2"/>
<rect x="-6.2" y="4.2" width="12.5" height="1.4" fill="#3157D6"/>
<rect x="-5.7" y="4.6" width="11.5" height="0.4" fill="#7E9EF2"/>
</g>
<g transform="translate(563.9,249.7) rotate(64)">
<rect x="-5.5" y="-4.4" width="11" height="1.4" fill="#3157D6"/>
<rect x="-5" y="-4" width="10" height="0.4" fill="#7E9EF2"/>
<rect x="-5.5" y="-2" width="11" height="1.4" fill="#3157D6"/>
<rect x="-5" y="-1.5" width="10" height="0.4" fill="#7E9EF2"/>
<rect x="-5.5" y="0.5" width="11" height="1.4" fill="#3157D6"/>
<rect x="-5" y="0.9" width="10" height="0.4" fill="#7E9EF2"/>
<rect x="-5.5" y="3" width="11" height="1.4" fill="#3157D6"/>
<rect x="-5" y="3.4" width="10" height="0.4" fill="#7E9EF2"/>
</g>
<g transform="translate(575.6,249.7) rotate(20)">
<rect x="-6.3" y="-4.4" width="12.6" height="1.4" fill="#3157D6"/>
<rect x="-5.8" y="-4" width="11.6" height="0.4" fill="#7E9EF2"/>
<rect x="-6.3" y="-2" width="12.6" height="1.4" fill="#3157D6"/>
<rect x="-5.8" y="-1.5" width="11.6" height="0.4" fill="#7E9EF2"/>
<rect x="-6.3" y="0.5" width="12.6" height="1.4" fill="#3157D6"/>
<rect x="-5.8" y="0.9" width="11.6" height="0.4" fill="#7E9EF2"/>
<rect x="-6.3" y="3" width="12.6" height="1.4" fill="#3157D6"/>
<rect x="-5.8" y="3.4" width="11.6" height="0.4" fill="#7E9EF2"/>
</g>
<g transform="translate(594.4,249.2) rotate(21)">
<rect x="-5.7" y="-5.6" width="11.4" height="1.4" fill="#3157D6"/>
<rect x="-5.2" y="-5.2" width="10.4" height="0.4" fill="#7E9EF2"/>
<rect x="-5.7" y="-3.2" width="11.4" height="1.4" fill="#3157D6"/>
<rect x="-5.2" y="-2.7" width="10.4" height="0.4" fill="#7E9EF2"/>
<rect x="-5.7" y="-0.7" width="11.4" height="1.4" fill="#3157D6"/>
<rect x="-5.2" y="-0.3" width="10.4" height="0.4" fill="#7E9EF2"/>
<rect x="-5.7" y="1.7" width="11.4" height="1.4" fill="#3157D6"/>
<rect x="-5.2" y="2.2" width="10.4" height="0.4" fill="#7E9EF2"/>
<rect x="-5.7" y="4.2" width="11.4" height="1.4" fill="#3157D6"/>
<rect x="-5.2" y="4.6" width="10.4" height="0.4" fill="#7E9EF2"/>
</g>
<g transform="translate(612.4,243.5) rotate(70)">
<rect x="-5.9" y="-4.4" width="11.8" height="1.4" fill="#3157D6"/>
<rect x="-5.4" y="-4" width="10.8" height="0.4" fill="#7E9EF2"/>
<rect x="-5.9" y="-2" width="11.8" height="1.4" fill="#3157D6"/>
<rect x="-5.4" y="-1.5" width="10.8" height="0.4" fill="#7E9EF2"/>
<rect x="-5.9" y="0.5" width="11.8" height="1.4" fill="#3157D6"/>
<rect x="-5.4" y="0.9" width="10.8" height="0.4" fill="#7E9EF2"/>
<rect x="-5.9" y="3" width="11.8" height="1.4" fill="#3157D6"/>
<rect x="-5.4" y="3.4" width="10.8" height="0.4" fill="#7E9EF2"/>
</g>
<g transform="translate(626.3,243.2) rotate(128)">
<rect x="-6.5" y="-5.6" width="13" height="1.4" fill="#3157D6"/>
<rect x="-6" y="-5.2" width="12" height="0.4" fill="#7E9EF2"/>
<rect x="-6.5" y="-3.2" width="13" height="1.4" fill="#3157D6"/>
<rect x="-6" y="-2.7" width="12" height="0.4" fill="#7E9EF2"/>
<rect x="-6.5" y="-0.7" width="13" height="1.4" fill="#3157D6"/>
<rect x="-6" y="-0.3" width="12" height="0.4" fill="#7E9EF2"/>
<rect x="-6.5" y="1.7" width="13" height="1.4" fill="#3157D6"/>
<rect x="-6" y="2.2" width="12" height="0.4" fill="#7E9EF2"/>
<rect x="-6.5" y="4.2" width="13" height="1.4" fill="#3157D6"/>
<rect x="-6" y="4.6" width="12" height="0.4" fill="#7E9EF2"/>
</g>
<g transform="translate(635.9,245.3) rotate(115)">
<rect x="-5.5" y="-5.6" width="11.1" height="1.4" fill="#3157D6"/>
<rect x="-5" y="-5.2" width="10.1" height="0.4" fill="#7E9EF2"/>
<rect x="-5.5" y="-3.2" width="11.1" height="1.4" fill="#3157D6"/>
<rect x="-5" y="-2.7" width="10.1" height="0.4" fill="#7E9EF2"/>
<rect x="-5.5" y="-0.7" width="11.1" height="1.4" fill="#3157D6"/>
<rect x="-5" y="-0.3" width="10.1" height="0.4" fill="#7E9EF2"/>
<rect x="-5.5" y="1.7" width="11.1" height="1.4" fill="#3157D6"/>
<rect x="-5" y="2.2" width="10.1" height="0.4" fill="#7E9EF2"/>
<rect x="-5.5" y="4.2" width="11.1" height="1.4" fill="#3157D6"/>
<rect x="-5" y="4.6" width="10.1" height="0.4" fill="#7E9EF2"/>
</g>
<g transform="translate(658.6,246.6) rotate(80)">
<rect x="-6.3" y="-4.4" width="12.6" height="1.4" fill="#3157D6"/>
<rect x="-5.8" y="-4" width="11.6" height="0.4" fill="#7E9EF2"/>
<rect x="-6.3" y="-2" width="12.6" height="1.4" fill="#3157D6"/>
<rect x="-5.8" y="-1.5" width="11.6" height="0.4" fill="#7E9EF2"/>
<rect x="-6.3" y="0.5" width="12.6" height="1.4" fill="#3157D6"/>
<rect x="-5.8" y="0.9" width="11.6" height="0.4" fill="#7E9EF2"/>
<rect x="-6.3" y="3" width="12.6" height="1.4" fill="#3157D6"/>
<rect x="-5.8" y="3.4" width="11.6" height="0.4" fill="#7E9EF2"/>
</g>
<g transform="translate(668.8,248.8) rotate(157)">
<rect x="-6.5" y="-4.4" width="13" height="1.4" fill="#3157D6"/>
<rect x="-6" y="-4" width="12" height="0.4" fill="#7E9EF2"/>
<rect x="-6.5" y="-2" width="13" height="1.4" fill="#3157D6"/>
<rect x="-6" y="-1.5" width="12" height="0.4" fill="#7E9EF2"/>
<rect x="-6.5" y="0.5" width="13" height="1.4" fill="#3157D6"/>
<rect x="-6" y="0.9" width="12" height="0.4" fill="#7E9EF2"/>
<rect x="-6.5" y="3" width="13" height="1.4" fill="#3157D6"/>
<rect x="-6" y="3.4" width="12" height="0.4" fill="#7E9EF2"/>
</g>
<g transform="translate(551,257) rotate(168)">
<rect x="-5.6" y="-4.4" width="11.2" height="1.4" fill="#3157D6"/>
<rect x="-5.1" y="-4" width="10.2" height="0.4" fill="#7E9EF2"/>
<rect x="-5.6" y="-2" width="11.2" height="1.4" fill="#3157D6"/>
<rect x="-5.1" y="-1.5" width="10.2" height="0.4" fill="#7E9EF2"/>
<rect x="-5.6" y="0.5" width="11.2" height="1.4" fill="#3157D6"/>
<rect x="-5.1" y="0.9" width="10.2" height="0.4" fill="#7E9EF2"/>
<rect x="-5.6" y="3" width="11.2" height="1.4" fill="#3157D6"/>
<rect x="-5.1" y="3.4" width="10.2" height="0.4" fill="#7E9EF2"/>
</g>
<g transform="translate(562.2,260.1) rotate(25)">
<rect x="-5.6" y="-5.6" width="11.2" height="1.4" fill="#3157D6"/>
<rect x="-5.1" y="-5.2" width="10.2" height="0.4" fill="#7E9EF2"/>
<rect x="-5.6" y="-3.2" width="11.2" height="1.4" fill="#3157D6"/>
<rect x="-5.1" y="-2.7" width="10.2" height="0.4" fill="#7E9EF2"/>
<rect x="-5.6" y="-0.7" width="11.2" height="1.4" fill="#3157D6"/>
<rect x="-5.1" y="-0.3" width="10.2" height="0.4" fill="#7E9EF2"/>
<rect x="-5.6" y="1.7" width="11.2" height="1.4" fill="#3157D6"/>
<rect x="-5.1" y="2.2" width="10.2" height="0.4" fill="#7E9EF2"/>
<rect x="-5.6" y="4.2" width="11.2" height="1.4" fill="#3157D6"/>
<rect x="-5.1" y="4.6" width="10.2" height="0.4" fill="#7E9EF2"/>
</g>
<g transform="translate(582,256.1) rotate(45)">
<rect x="-6.4" y="-5.6" width="12.9" height="1.4" fill="#3157D6"/>
<rect x="-5.9" y="-5.2" width="11.9" height="0.4" fill="#7E9EF2"/>
<rect x="-6.4" y="-3.2" width="12.9" height="1.4" fill="#3157D6"/>
<rect x="-5.9" y="-2.7" width="11.9" height="0.4" fill="#7E9EF2"/>
<rect x="-6.4" y="-0.7" width="12.9" height="1.4" fill="#3157D6"/>
<rect x="-5.9" y="-0.3" width="11.9" height="0.4" fill="#7E9EF2"/>
<rect x="-6.4" y="1.7" width="12.9" height="1.4" fill="#3157D6"/>
<rect x="-5.9" y="2.2" width="11.9" height="0.4" fill="#7E9EF2"/>
<rect x="-6.4" y="4.2" width="12.9" height="1.4" fill="#3157D6"/>
<rect x="-5.9" y="4.6" width="11.9" height="0.4" fill="#7E9EF2"/>
</g>
<g transform="translate(594.3,262.7) rotate(72)">
<rect x="-5.9" y="-5.6" width="11.9" height="1.4" fill="#3157D6"/>
<rect x="-5.4" y="-5.2" width="10.9" height="0.4" fill="#7E9EF2"/>
<rect x="-5.9" y="-3.2" width="11.9" height="1.4" fill="#3157D6"/>
<rect x="-5.4" y="-2.7" width="10.9" height="0.4" fill="#7E9EF2"/>
<rect x="-5.9" y="-0.7" width="11.9" height="1.4" fill="#3157D6"/>
<rect x="-5.4" y="-0.3" width="10.9" height="0.4" fill="#7E9EF2"/>
<rect x="-5.9" y="1.7" width="11.9" height="1.4" fill="#3157D6"/>
<rect x="-5.4" y="2.2" width="10.9" height="0.4" fill="#7E9EF2"/>
<rect x="-5.9" y="4.2" width="11.9" height="1.4" fill="#3157D6"/>
<rect x="-5.4" y="4.6" width="10.9" height="0.4" fill="#7E9EF2"/>
</g>
<g transform="translate(610.4,260.7) rotate(81)">
<rect x="-6" y="-5.6" width="11.9" height="1.4" fill="#3157D6"/>
<rect x="-5.5" y="-5.2" width="10.9" height="0.4" fill="#7E9EF2"/>
<rect x="-6" y="-3.2" width="11.9" height="1.4" fill="#3157D6"/>
<rect x="-5.5" y="-2.7" width="10.9" height="0.4" fill="#7E9EF2"/>
<rect x="-6" y="-0.7" width="11.9" height="1.4" fill="#3157D6"/>
<rect x="-5.5" y="-0.3" width="10.9" height="0.4" fill="#7E9EF2"/>
<rect x="-6" y="1.7" width="11.9" height="1.4" fill="#3157D6"/>
<rect x="-5.5" y="2.2" width="10.9" height="0.4" fill="#7E9EF2"/>
<rect x="-6" y="4.2" width="11.9" height="1.4" fill="#3157D6"/>
<rect x="-5.5" y="4.6" width="10.9" height="0.4" fill="#7E9EF2"/>
</g>
<g transform="translate(627.5,259.1) rotate(34)">
<rect x="-6.4" y="-5.6" width="12.7" height="1.4" fill="#3157D6"/>
<rect x="-5.9" y="-5.2" width="11.7" height="0.4" fill="#7E9EF2"/>
<rect x="-6.4" y="-3.2" width="12.7" height="1.4" fill="#3157D6"/>
<rect x="-5.9" y="-2.7" width="11.7" height="0.4" fill="#7E9EF2"/>
<rect x="-6.4" y="-0.7" width="12.7" height="1.4" fill="#3157D6"/>
<rect x="-5.9" y="-0.3" width="11.7" height="0.4" fill="#7E9EF2"/>
<rect x="-6.4" y="1.7" width="12.7" height="1.4" fill="#3157D6"/>
<rect x="-5.9" y="2.2" width="11.7" height="0.4" fill="#7E9EF2"/>
<rect x="-6.4" y="4.2" width="12.7" height="1.4" fill="#3157D6"/>
<rect x="-5.9" y="4.6" width="11.7" height="0.4" fill="#7E9EF2"/>
</g>
<g transform="translate(638.5,259.7) rotate(75)">
<rect x="-6.3" y="-4.4" width="12.7" height="1.4" fill="#3157D6"/>
<rect x="-5.8" y="-4" width="11.7" height="0.4" fill="#7E9EF2"/>
<rect x="-6.3" y="-2" width="12.7" height="1.4" fill="#3157D6"/>
<rect x="-5.8" y="-1.5" width="11.7" height="0.4" fill="#7E9EF2"/>
<rect x="-6.3" y="0.5" width="12.7" height="1.4" fill="#3157D6"/>
<rect x="-5.8" y="0.9" width="11.7" height="0.4" fill="#7E9EF2"/>
<rect x="-6.3" y="3" width="12.7" height="1.4" fill="#3157D6"/>
<rect x="-5.8" y="3.4" width="11.7" height="0.4" fill="#7E9EF2"/>
</g>
<g transform="translate(656.3,257.8) rotate(13)">
<rect x="-5.8" y="-5.6" width="11.5" height="1.4" fill="#3157D6"/>
<rect x="-5.3" y="-5.2" width="10.5" height="0.4" fill="#7E9EF2"/>
<rect x="-5.8" y="-3.2" width="11.5" height="1.4" fill="#3157D6"/>
<rect x="-5.3" y="-2.7" width="10.5" height="0.4" fill="#7E9EF2"/>
<rect x="-5.8" y="-0.7" width="11.5" height="1.4" fill="#3157D6"/>
<rect x="-5.3" y="-0.3" width="10.5" height="0.4" fill="#7E9EF2"/>
<rect x="-5.8" y="1.7" width="11.5" height="1.4" fill="#3157D6"/>
<rect x="-5.3" y="2.2" width="10.5" height="0.4" fill="#7E9EF2"/>
<rect x="-5.8" y="4.2" width="11.5" height="1.4" fill="#3157D6"/>
<rect x="-5.3" y="4.6" width="10.5" height="0.4" fill="#7E9EF2"/>
</g>
<g transform="translate(674.9,258) rotate(178)">
<rect x="-6.3" y="-4.4" width="12.7" height="1.4" fill="#3157D6"/>
<rect x="-5.8" y="-4" width="11.7" height="0.4" fill="#7E9EF2"/>
<rect x="-6.3" y="-2" width="12.7" height="1.4" fill="#3157D6"/>
<rect x="-5.8" y="-1.5" width="11.7" height="0.4" fill="#7E9EF2"/>
<rect x="-6.3" y="0.5" width="12.7" height="1.4" fill="#3157D6"/>
<rect x="-5.8" y="0.9" width="11.7" height="0.4" fill="#7E9EF2"/>
<rect x="-6.3" y="3" width="12.7" height="1.4" fill="#3157D6"/>
<rect x="-5.8" y="3.4" width="11.7" height="0.4" fill="#7E9EF2"/>
</g>
<defs><path id="p141" d="M588.1 256.9Q588.8 259.8 589.6 261.1Q590.3 262.4 591.5 263.4Q592.6 264.3 593.9 265Q595.3 265.7 596.7 266.2Q598.1 266.6 599.6 266.9Q601.1 267.1 602.6 266.9Q604.1 266.7 605.4 266.1Q606.8 265.4 607.9 264.4Q609 263.4 609.8 262.1Q610.7 260.9 611.3 259.5Q611.8 258.1 612 256.6L612.2 255.1"/></defs><use href="#p141" class="t1b"/><use href="#p141" class="t2b"/><use href="#p141" class="t3"/>
<defs><path id="p142" d="M614.6 269.1Q614.3 266.1 614 264.6Q613.7 263.1 613.3 261.7Q612.8 260.3 612.3 258.9Q611.7 257.5 611.2 256.1L610.8 254.7"/></defs><use href="#p142" class="t1b"/><use href="#p142" class="t2b"/><use href="#p142" class="t3"/>
<defs><path id="p143" d="M607.1 273.2Q606.3 270.3 605.8 268.9Q605.3 267.5 604.4 266.3Q603.6 265 602.6 263.9Q601.7 262.7 600.8 261.5Q599.8 260.4 598.9 259.2Q598 258 597.2 256.7L596.3 255.5"/></defs><use href="#p143" class="t1b"/><use href="#p143" class="t2b"/><use href="#p143" class="t3"/>
<defs><path id="p144" d="M546 267.9Q547.7 270.4 548.5 271.6Q549.2 272.9 550.1 274.2Q550.9 275.4 551.9 276.5Q553 277.6 554.2 278.5Q555.4 279.4 556.6 280.3Q557.8 281.1 559.1 281.9Q560.4 282.6 561.7 283.4L563 284.2"/></defs><use href="#p144" class="t1b"/><use href="#p144" class="t2b"/><use href="#p144" class="t3"/>
<defs><path id="p145" d="M666.6 320Q668.8 318 669.8 316.8Q670.7 315.6 671.2 314.2Q671.8 312.8 671.8 311.3Q671.8 309.8 671.3 308.4Q670.9 307 670.1 305.7Q669.3 304.5 668.1 303.5Q666.9 302.6 665.5 302.1Q664.1 301.6 662.6 301.7Q661.1 301.7 659.7 302.3Q658.3 302.8 657.2 303.8Q656.1 304.8 655.3 306.1Q654.6 307.5 654.3 308.9L654 310.4"/></defs><use href="#p145" class="t1b"/><use href="#p145" class="t2b"/><use href="#p145" class="t3"/>
<defs><path id="p146" d="M552.9 267.8Q550 266.8 548.5 266.7Q547 266.6 545.6 266.7Q544.1 266.9 542.6 267.4Q541.2 267.9 539.9 268.6Q538.6 269.3 537.3 270.1Q536 270.9 534.7 271.6L533.5 272.4"/></defs><use href="#p146" class="t1b"/><use href="#p146" class="t2b"/><use href="#p146" class="t3"/>
<g transform="translate(607,279.5) rotate(85)">
<rect x="-4.6" y="-3.2" width="9.1" height="1.4" fill="#3157D6"/>
<rect x="-4.1" y="-2.7" width="8.1" height="0.4" fill="#7E9EF2"/>
<rect x="-4.6" y="-0.7" width="9.1" height="1.4" fill="#3157D6"/>
<rect x="-4.1" y="-0.3" width="8.1" height="0.4" fill="#7E9EF2"/>
<rect x="-4.6" y="1.7" width="9.1" height="1.4" fill="#3157D6"/>
<rect x="-4.1" y="2.2" width="8.1" height="0.4" fill="#7E9EF2"/>
</g>
<g transform="translate(675.1,264.4) rotate(167)">
<rect x="-4.6" y="-1.9" width="9.1" height="1.4" fill="#3157D6"/>
<rect x="-4.1" y="-1.5" width="8.1" height="0.4" fill="#7E9EF2"/>
<rect x="-4.6" y="0.5" width="9.1" height="1.4" fill="#3157D6"/>
<rect x="-4.1" y="0.9" width="8.1" height="0.4" fill="#7E9EF2"/>
</g>
<g transform="translate(668.2,315.5) rotate(47)">
<rect x="-5.9" y="-1.9" width="11.9" height="1.4" fill="#3157D6"/>
<rect x="-5.4" y="-1.5" width="10.9" height="0.4" fill="#7E9EF2"/>
<rect x="-5.9" y="0.5" width="11.9" height="1.4" fill="#3157D6"/>
<rect x="-5.4" y="0.9" width="10.9" height="0.4" fill="#7E9EF2"/>
</g>
<g transform="translate(653.5,315.7) rotate(27)">
<rect x="-4.8" y="-3.2" width="9.5" height="1.4" fill="#3157D6"/>
<rect x="-4.3" y="-2.7" width="8.5" height="0.4" fill="#7E9EF2"/>
<rect x="-4.8" y="-0.7" width="9.5" height="1.4" fill="#3157D6"/>
<rect x="-4.3" y="-0.3" width="8.5" height="0.4" fill="#7E9EF2"/>
<rect x="-4.8" y="1.7" width="9.5" height="1.4" fill="#3157D6"/>
<rect x="-4.3" y="2.2" width="8.5" height="0.4" fill="#7E9EF2"/>
</g>
<defs><path id="p147" d="M628.7 286.2Q628.7 283.2 628.6 281.7Q628.5 280.2 627.9 278.8Q627.4 277.4 626.4 276.3Q625.4 275.1 624.1 274.4Q622.8 273.6 621.4 273.3Q619.9 273 618.4 272.8Q616.9 272.7 615.4 272.7L613.9 272.8"/></defs><use href="#p147" class="t1b"/><use href="#p147" class="t2b"/><use href="#p147" class="t3"/>
<defs><path id="p148" d="M543.2 266.3Q546.2 266.2 547.6 266.6Q549 267.1 550.3 267.9Q551.5 268.8 552.5 270Q553.4 271.1 554 272.5Q554.5 273.9 554.6 275.4Q554.6 276.9 554.2 278.3Q553.8 279.8 552.9 281Q552 282.2 550.8 283Q549.5 283.9 548.1 284.2Q546.6 284.6 545.1 284.4Q543.6 284.3 542.2 283.8Q540.8 283.3 539.5 282.5L538.2 281.8"/></defs><use href="#p148" class="t1b"/><use href="#p148" class="t2b"/><use href="#p148" class="t3"/>
<defs><path id="p149" d="M611.1 265Q613.8 263.6 615 262.8Q616.3 261.9 617.6 261.2Q618.8 260.4 620.2 259.8Q621.6 259.2 623.1 258.9Q624.6 258.6 626 258.7Q627.5 258.7 629 259Q630.5 259.2 631.9 259.8Q633.3 260.3 634.6 261L635.9 261.7"/></defs><use href="#p149" class="t1b"/><use href="#p149" class="t2b"/><use href="#p149" class="t3"/>
<defs><path id="p150" d="M537.5 320.4Q540.3 321.6 541.4 322.6Q542.5 323.6 543.2 324.9Q544 326.3 544.2 327.7Q544.4 329.2 544.3 330.7Q544.1 332.2 543.9 333.7Q543.6 335.2 543.4 336.7Q543.3 338.1 543 339.6Q542.7 341.1 542.3 342.5Q541.8 343.9 541 345.2Q540.2 346.5 539 347.4L537.8 348.3"/></defs><use href="#p150" class="t1b"/><use href="#p150" class="t2b"/><use href="#p150" class="t3"/>
<defs><path id="p151" d="M648.1 299.1Q648 302.1 648.5 303.5Q648.9 304.9 649.9 306.1Q650.8 307.3 651.9 308.2Q653.1 309.2 654.5 309.7Q655.9 310.2 657.4 310.5Q658.9 310.7 660.3 310.5L661.8 310.2"/></defs><use href="#p151" class="t1b"/><use href="#p151" class="t2b"/><use href="#p151" class="t3"/>
<g transform="translate(602.1,300) rotate(156)">
<rect x="-5.9" y="-3.2" width="11.8" height="1.4" fill="#3157D6"/>
<rect x="-5.4" y="-2.7" width="10.8" height="0.4" fill="#7E9EF2"/>
<rect x="-5.9" y="-0.7" width="11.8" height="1.4" fill="#3157D6"/>
<rect x="-5.4" y="-0.3" width="10.8" height="0.4" fill="#7E9EF2"/>
<rect x="-5.9" y="1.7" width="11.8" height="1.4" fill="#3157D6"/>
<rect x="-5.4" y="2.2" width="10.8" height="0.4" fill="#7E9EF2"/>
</g>
<defs><path id="p152" d="M679.7 303.5Q682.7 303.3 684.2 303.3Q685.7 303.4 687.2 303.4Q688.7 303.5 690.2 303.4Q691.7 303.3 693.2 303Q694.6 302.6 696 301.9Q697.3 301.3 698.4 300.2Q699.4 299.1 700 297.7Q700.6 296.4 700.7 294.9L700.8 293.4"/></defs><use href="#p152" class="t1b"/><use href="#p152" class="t2b"/><use href="#p152" class="t3"/>
<defs><path id="p153" d="M600.9 278.9Q603.8 278.6 605.2 278Q606.6 277.4 607.6 276.3Q608.7 275.2 609.4 273.9Q610 272.5 610.2 271.1Q610.5 269.6 610.2 268.1Q609.9 266.6 609.4 265.2Q608.8 263.8 608 262.6Q607.3 261.3 606.4 260Q605.6 258.8 604.7 257.6L603.8 256.4"/></defs><use href="#p153" class="t1b"/><use href="#p153" class="t2b"/><use href="#p153" class="t3"/>
<defs><path id="p154" d="M593.2 298.4Q591.1 296.3 590.5 294.9Q589.9 293.6 589.7 292.1Q589.6 290.6 589.8 289.1Q590 287.6 590.6 286.2Q591.2 284.8 592.1 283.6Q593 282.4 594.2 281.5Q595.4 280.7 596.7 280L598.1 279.4"/></defs><use href="#p154" class="t1b"/><use href="#p154" class="t2b"/><use href="#p154" class="t3"/>
<g transform="translate(641.6,285.5) rotate(5)">
<rect x="-5.3" y="-4.4" width="10.6" height="1.4" fill="#3157D6"/>
<rect x="-4.8" y="-4" width="9.6" height="0.4" fill="#7E9EF2"/>
<rect x="-5.3" y="-2" width="10.6" height="1.4" fill="#3157D6"/>
<rect x="-4.8" y="-1.5" width="9.6" height="0.4" fill="#7E9EF2"/>
<rect x="-5.3" y="0.5" width="10.6" height="1.4" fill="#3157D6"/>
<rect x="-4.8" y="0.9" width="9.6" height="0.4" fill="#7E9EF2"/>
<rect x="-5.3" y="3" width="10.6" height="1.4" fill="#3157D6"/>
<rect x="-4.8" y="3.4" width="9.6" height="0.4" fill="#7E9EF2"/>
</g>
<defs><path id="p155" d="M539.9 281.1Q542.6 282.4 544 282.9Q545.5 283.4 546.9 283.8Q548.4 284.2 549.8 284.6Q551.2 285 552.7 285.1Q554.2 285.3 555.7 285L557.2 284.8"/></defs><use href="#p155" class="t1b"/><use href="#p155" class="t2b"/><use href="#p155" class="t3"/>
<defs><path id="p156" d="M630 303.1Q632.4 305 633.6 305.8Q634.9 306.7 636.3 307.1Q637.7 307.6 639.2 307.6Q640.7 307.5 642.1 307Q643.5 306.4 644.8 305.6Q646 304.8 647.2 303.8Q648.3 302.9 649.5 302L650.7 301.1"/></defs><use href="#p156" class="t1b"/><use href="#p156" class="t2b"/><use href="#p156" class="t3"/>
<defs><path id="p157" d="M552.1 287.1Q553.2 284.3 553.5 282.8Q553.8 281.4 553.7 279.9Q553.7 278.4 553.6 276.9Q553.5 275.4 553.6 273.9Q553.6 272.4 553.7 270.9Q553.8 269.4 554.1 267.9Q554.4 266.4 554.8 265L555.3 263.6"/></defs><use href="#p157" class="t1b"/><use href="#p157" class="t2b"/><use href="#p157" class="t3"/>
<g transform="translate(674.4,278.6) rotate(7)">
<rect x="-5.6" y="-4.4" width="11.1" height="1.4" fill="#3157D6"/>
<rect x="-5.1" y="-4" width="10.1" height="0.4" fill="#7E9EF2"/>
<rect x="-5.6" y="-2" width="11.1" height="1.4" fill="#3157D6"/>
<rect x="-5.1" y="-1.5" width="10.1" height="0.4" fill="#7E9EF2"/>
<rect x="-5.6" y="0.5" width="11.1" height="1.4" fill="#3157D6"/>
<rect x="-5.1" y="0.9" width="10.1" height="0.4" fill="#7E9EF2"/>
<rect x="-5.6" y="3" width="11.1" height="1.4" fill="#3157D6"/>
<rect x="-5.1" y="3.4" width="10.1" height="0.4" fill="#7E9EF2"/>
</g>
<defs><path id="p158" d="M625.6 269.4Q623 270.9 621.8 271.8Q620.6 272.7 619.7 273.8Q618.7 275 618 276.3Q617.4 277.7 617 279.1Q616.6 280.6 616.4 282.1Q616.2 283.6 616.4 285.1Q616.6 286.5 617.1 288Q617.6 289.4 618.2 290.7Q618.8 292.1 619.6 293.4Q620.4 294.6 621.4 295.8Q622.3 297 623.2 298.2Q624.1 299.4 625 300.6L625.9 301.8"/></defs><use href="#p158" class="t1b"/><use href="#p158" class="t2b"/><use href="#p158" class="t3"/>
<defs><path id="p159" d="M622.8 295.2Q624.5 292.8 625.4 291.5Q626.2 290.3 627.2 289.1Q628.1 288 629 286.7Q629.9 285.5 630.8 284.3Q631.6 283.1 632.4 281.8Q633.2 280.5 633.7 279.1Q634.3 277.8 634.9 276.4Q635.5 275 636.2 273.7Q636.9 272.3 637.6 271.1Q638.4 269.8 639 268.4Q639.6 267 640.3 265.7L640.9 264.3"/></defs><use href="#p159" class="t1b"/><use href="#p159" class="t2b"/><use href="#p159" class="t3"/>
<g transform="translate(634.7,314.1) rotate(89)">
<rect x="-6" y="-3.2" width="12" height="1.4" fill="#3157D6"/>
<rect x="-5.5" y="-2.7" width="11" height="0.4" fill="#7E9EF2"/>
<rect x="-6" y="-0.7" width="12" height="1.4" fill="#3157D6"/>
<rect x="-5.5" y="-0.3" width="11" height="0.4" fill="#7E9EF2"/>
<rect x="-6" y="1.7" width="12" height="1.4" fill="#3157D6"/>
<rect x="-5.5" y="2.2" width="11" height="0.4" fill="#7E9EF2"/>
</g>
<defs><path id="p160" d="M582.8 304.8Q584.8 302.6 585.8 301.5Q586.9 300.4 588 299.4Q589.1 298.3 590.1 297.3Q591.2 296.3 592.2 295.1Q593.1 294 593.9 292.7Q594.7 291.4 595.3 290Q596 288.7 596.6 287.3Q597.2 285.9 597.6 284.5L598.1 283.1"/></defs><use href="#p160" class="t1b"/><use href="#p160" class="t2b"/><use href="#p160" class="t3"/>
<g transform="translate(652.8,303.6) rotate(168)">
<rect x="-5.1" y="-4.4" width="10.3" height="1.4" fill="#3157D6"/>
<rect x="-4.6" y="-4" width="9.3" height="0.4" fill="#7E9EF2"/>
<rect x="-5.1" y="-2" width="10.3" height="1.4" fill="#3157D6"/>
<rect x="-4.6" y="-1.5" width="9.3" height="0.4" fill="#7E9EF2"/>
<rect x="-5.1" y="0.5" width="10.3" height="1.4" fill="#3157D6"/>
<rect x="-4.6" y="0.9" width="9.3" height="0.4" fill="#7E9EF2"/>
<rect x="-5.1" y="3" width="10.3" height="1.4" fill="#3157D6"/>
<rect x="-4.6" y="3.4" width="9.3" height="0.4" fill="#7E9EF2"/>
</g>
<g transform="translate(598.2,319.3) rotate(151)">
<rect x="-5.8" y="-1.9" width="11.5" height="1.4" fill="#3157D6"/>
<rect x="-5.3" y="-1.5" width="10.5" height="0.4" fill="#7E9EF2"/>
<rect x="-5.8" y="0.5" width="11.5" height="1.4" fill="#3157D6"/>
<rect x="-5.3" y="0.9" width="10.5" height="0.4" fill="#7E9EF2"/>
</g>
<g transform="translate(557.8,276.4) rotate(136)">
<rect x="-4.7" y="-4.4" width="9.4" height="1.4" fill="#3157D6"/>
<rect x="-4.2" y="-4" width="8.4" height="0.4" fill="#7E9EF2"/>
<rect x="-4.7" y="-2" width="9.4" height="1.4" fill="#3157D6"/>
<rect x="-4.2" y="-1.5" width="8.4" height="0.4" fill="#7E9EF2"/>
<rect x="-4.7" y="0.5" width="9.4" height="1.4" fill="#3157D6"/>
<rect x="-4.2" y="0.9" width="8.4" height="0.4" fill="#7E9EF2"/>
<rect x="-4.7" y="3" width="9.4" height="1.4" fill="#3157D6"/>
<rect x="-4.2" y="3.4" width="8.4" height="0.4" fill="#7E9EF2"/>
</g>
<g transform="translate(671.6,301) rotate(15)">
<rect x="-4.8" y="-4.4" width="9.6" height="1.4" fill="#3157D6"/>
<rect x="-4.3" y="-4" width="8.6" height="0.4" fill="#7E9EF2"/>
<rect x="-4.8" y="-2" width="9.6" height="1.4" fill="#3157D6"/>
<rect x="-4.3" y="-1.5" width="8.6" height="0.4" fill="#7E9EF2"/>
<rect x="-4.8" y="0.5" width="9.6" height="1.4" fill="#3157D6"/>
<rect x="-4.3" y="0.9" width="8.6" height="0.4" fill="#7E9EF2"/>
<rect x="-4.8" y="3" width="9.6" height="1.4" fill="#3157D6"/>
<rect x="-4.3" y="3.4" width="8.6" height="0.4" fill="#7E9EF2"/>
</g>
<defs><path id="p161" d="M634.4 296.3Q635 299.2 635.5 300.6Q636.1 302 637 303.2Q637.9 304.4 639.1 305.2Q640.4 306.1 641.8 306.4Q643.3 306.7 644.8 306.6Q646.3 306.5 647.7 305.9Q649.1 305.4 650.2 304.4L651.3 303.3"/></defs><use href="#p161" class="t1b"/><use href="#p161" class="t2b"/><use href="#p161" class="t3"/>
<defs><path id="p162" d="M543.7 289.4Q545.1 286.8 545.8 285.4Q546.4 284.1 546.8 282.6Q547.1 281.2 547.2 279.7Q547.2 278.2 547.1 276.7Q547 275.2 546.7 273.7Q546.3 272.3 545.6 270.9Q544.9 269.6 544.1 268.3Q543.4 267 542.4 265.9Q541.5 264.7 540.3 263.8Q539.1 262.9 537.7 262.3Q536.3 261.7 534.8 261.5Q533.4 261.3 531.9 261.5L530.4 261.6"/></defs><use href="#p162" class="t1b"/><use href="#p162" class="t2b"/><use href="#p162" class="t3"/>
<defs><path id="p163" d="M595.6 304Q597.5 301.7 598.5 300.6Q599.6 299.6 600.6 298.5Q601.7 297.4 602.7 296.3Q603.7 295.3 604.6 294Q605.5 292.8 606.3 291.5Q607 290.2 607.7 288.9Q608.3 287.5 608.6 286Q608.9 284.6 608.9 283.1Q608.9 281.6 608.4 280.1Q607.9 278.7 607 277.6Q606.1 276.4 604.8 275.6L603.5 274.8"/></defs><use href="#p163" class="t1b"/><use href="#p163" class="t2b"/><use href="#p163" class="t3"/>
<defs><path id="p164" d="M661.4 280.1Q664.3 280.7 665.8 281Q667.3 281.4 668.8 281.4Q670.3 281.5 671.8 281.4Q673.3 281.3 674.8 281.2Q676.3 281.1 677.7 280.8Q679.2 280.6 680.7 280.2Q682.1 279.9 683.6 279.5Q685 279 686.4 278.6Q687.9 278.1 689.3 277.7Q690.8 277.3 692.2 277L693.7 276.7"/></defs><use href="#p164" class="t1b"/><use href="#p164" class="t2b"/><use href="#p164" class="t3"/>
<g transform="translate(625.1,293.6) rotate(34)">
<rect x="-4.7" y="-1.9" width="9.5" height="1.4" fill="#3157D6"/>
<rect x="-4.2" y="-1.5" width="8.5" height="0.4" fill="#7E9EF2"/>
<rect x="-4.7" y="0.5" width="9.5" height="1.4" fill="#3157D6"/>
<rect x="-4.2" y="0.9" width="8.5" height="0.4" fill="#7E9EF2"/>
</g>
<g transform="translate(577.9,304.3) rotate(54)">
<rect x="-5" y="-3.2" width="9.9" height="1.4" fill="#3157D6"/>
<rect x="-4.5" y="-2.7" width="8.9" height="0.4" fill="#7E9EF2"/>
<rect x="-5" y="-0.7" width="9.9" height="1.4" fill="#3157D6"/>
<rect x="-4.5" y="-0.3" width="8.9" height="0.4" fill="#7E9EF2"/>
<rect x="-5" y="1.7" width="9.9" height="1.4" fill="#3157D6"/>
<rect x="-4.5" y="2.2" width="8.9" height="0.4" fill="#7E9EF2"/>
</g>
<g transform="translate(587.6,312.4) rotate(93)">
<rect x="-5.6" y="-3.2" width="11.2" height="1.4" fill="#3157D6"/>
<rect x="-5.1" y="-2.7" width="10.2" height="0.4" fill="#7E9EF2"/>
<rect x="-5.6" y="-0.7" width="11.2" height="1.4" fill="#3157D6"/>
<rect x="-5.1" y="-0.3" width="10.2" height="0.4" fill="#7E9EF2"/>
<rect x="-5.6" y="1.7" width="11.2" height="1.4" fill="#3157D6"/>
<rect x="-5.1" y="2.2" width="10.2" height="0.4" fill="#7E9EF2"/>
</g>
<defs><path id="p165" d="M677.7 273.2Q680.7 273.8 681.9 274.6Q683.2 275.4 684.1 276.6Q685 277.8 685.5 279.2Q685.9 280.7 685.9 282.2Q685.8 283.7 685.2 285.1Q684.6 286.4 683.6 287.6Q682.6 288.7 681.3 289.4L680 290.1"/></defs><use href="#p165" class="t1b"/><use href="#p165" class="t2b"/><use href="#p165" class="t3"/>
<g transform="translate(574.8,274.4) rotate(168)">
<rect x="-5.6" y="-3.2" width="11.2" height="1.4" fill="#3157D6"/>
<rect x="-5.1" y="-2.7" width="10.2" height="0.4" fill="#7E9EF2"/>
<rect x="-5.6" y="-0.7" width="11.2" height="1.4" fill="#3157D6"/>
<rect x="-5.1" y="-0.3" width="10.2" height="0.4" fill="#7E9EF2"/>
<rect x="-5.6" y="1.7" width="11.2" height="1.4" fill="#3157D6"/>
<rect x="-5.1" y="2.2" width="10.2" height="0.4" fill="#7E9EF2"/>
</g>
<g transform="translate(634.5,272.5) rotate(164)">
<rect x="-5.9" y="-3.2" width="11.7" height="1.4" fill="#3157D6"/>
<rect x="-5.4" y="-2.7" width="10.7" height="0.4" fill="#7E9EF2"/>
<rect x="-5.9" y="-0.7" width="11.7" height="1.4" fill="#3157D6"/>
<rect x="-5.4" y="-0.3" width="10.7" height="0.4" fill="#7E9EF2"/>
<rect x="-5.9" y="1.7" width="11.7" height="1.4" fill="#3157D6"/>
<rect x="-5.4" y="2.2" width="10.7" height="0.4" fill="#7E9EF2"/>
</g>
<defs><path id="p166" d="M601 264.3Q603.1 266.4 603.7 267.8Q604.3 269.1 604.6 270.6Q604.8 272.1 604.9 273.6Q605 275.1 605.1 276.6Q605.3 278.1 605.3 279.6Q605.4 281.1 605.2 282.6L605.1 284.1"/></defs><use href="#p166" class="t1b"/><use href="#p166" class="t2b"/><use href="#p166" class="t3"/>
<defs><path id="p167" d="M671.9 259.2Q671.3 256.3 670.8 254.9Q670.3 253.5 669.8 252Q669.3 250.6 668.8 252Q668.2 253.4 667.7 254.8Q667.1 256.2 666.6 257.6L666.1 259"/></defs><use href="#p167" class="t1b"/><use href="#p167" class="t2b"/><use href="#p167" class="t3"/>
<defs><path id="p168" d="M576.7 259Q579.2 257.3 580.6 256.7Q581.9 256.1 583.3 255.6Q584.8 255.1 586.2 254.7L587.6 254.3"/></defs><use href="#p168" class="t1b"/><use href="#p168" class="t2b"/><use href="#p168" class="t3"/>
<g transform="translate(541.3,308.3) rotate(48)">
<rect x="-4.7" y="-4.4" width="9.3" height="1.4" fill="#3157D6"/>
<rect x="-4.2" y="-4" width="8.3" height="0.4" fill="#7E9EF2"/>
<rect x="-4.7" y="-2" width="9.3" height="1.4" fill="#3157D6"/>
<rect x="-4.2" y="-1.5" width="8.3" height="0.4" fill="#7E9EF2"/>
<rect x="-4.7" y="0.5" width="9.3" height="1.4" fill="#3157D6"/>
<rect x="-4.2" y="0.9" width="8.3" height="0.4" fill="#7E9EF2"/>
<rect x="-4.7" y="3" width="9.3" height="1.4" fill="#3157D6"/>
<rect x="-4.2" y="3.4" width="8.3" height="0.4" fill="#7E9EF2"/>
</g>
<g transform="translate(621.4,289.3) rotate(162)">
<rect x="-5.4" y="-4.4" width="10.8" height="1.4" fill="#3157D6"/>
<rect x="-4.9" y="-4" width="9.8" height="0.4" fill="#7E9EF2"/>
<rect x="-5.4" y="-2" width="10.8" height="1.4" fill="#3157D6"/>
<rect x="-4.9" y="-1.5" width="9.8" height="0.4" fill="#7E9EF2"/>
<rect x="-5.4" y="0.5" width="10.8" height="1.4" fill="#3157D6"/>
<rect x="-4.9" y="0.9" width="9.8" height="0.4" fill="#7E9EF2"/>
<rect x="-5.4" y="3" width="10.8" height="1.4" fill="#3157D6"/>
<rect x="-4.9" y="3.4" width="9.8" height="0.4" fill="#7E9EF2"/>
</g>
<g transform="translate(566.9,307.5) rotate(167)">
<rect x="-4.8" y="-1.9" width="9.6" height="1.4" fill="#3157D6"/>
<rect x="-4.3" y="-1.5" width="8.6" height="0.4" fill="#7E9EF2"/>
<rect x="-4.8" y="0.5" width="9.6" height="1.4" fill="#3157D6"/>
<rect x="-4.3" y="0.9" width="8.6" height="0.4" fill="#7E9EF2"/>
</g>
<g transform="translate(611.4,318.5) rotate(79)">
<rect x="-4.5" y="-3.2" width="9" height="1.4" fill="#3157D6"/>
<rect x="-4" y="-2.7" width="8" height="0.4" fill="#7E9EF2"/>
<rect x="-4.5" y="-0.7" width="9" height="1.4" fill="#3157D6"/>
<rect x="-4" y="-0.3" width="8" height="0.4" fill="#7E9EF2"/>
<rect x="-4.5" y="1.7" width="9" height="1.4" fill="#3157D6"/>
<rect x="-4" y="2.2" width="8" height="0.4" fill="#7E9EF2"/>
</g>
<defs><path id="p169" d="M576.6 300.2Q578.5 302.4 579.2 303.8Q579.9 305.1 580 306.6Q580.2 308.1 579.8 309.5Q579.5 311 578.8 312.3Q578.1 313.7 577 314.7L575.9 315.7"/></defs><use href="#p169" class="t1b"/><use href="#p169" class="t2b"/><use href="#p169" class="t3"/>
<g transform="translate(649.3,272.4) rotate(50)">
<rect x="-5.7" y="-4.4" width="11.3" height="1.4" fill="#3157D6"/>
<rect x="-5.2" y="-4" width="10.3" height="0.4" fill="#7E9EF2"/>
<rect x="-5.7" y="-2" width="11.3" height="1.4" fill="#3157D6"/>
<rect x="-5.2" y="-1.5" width="10.3" height="0.4" fill="#7E9EF2"/>
<rect x="-5.7" y="0.5" width="11.3" height="1.4" fill="#3157D6"/>
<rect x="-5.2" y="0.9" width="10.3" height="0.4" fill="#7E9EF2"/>
<rect x="-5.7" y="3" width="11.3" height="1.4" fill="#3157D6"/>
<rect x="-5.2" y="3.4" width="10.3" height="0.4" fill="#7E9EF2"/>
</g>
<defs><path id="p170" d="M548.4 307.1Q545.5 306.6 544 306.5Q542.5 306.3 541 306.6Q539.5 306.8 538.1 307.4Q536.7 308 535.5 308.8Q534.2 309.6 533.2 310.7Q532.1 311.8 531.5 313.1Q530.9 314.5 530.8 316Q530.7 317.5 531.1 318.9Q531.5 320.4 532.4 321.6L533.3 322.8"/></defs><use href="#p170" class="t1b"/><use href="#p170" class="t2b"/><use href="#p170" class="t3"/>
<defs><path id="p171" d="M564.6 302.7Q567.4 301.6 568.9 301.2Q570.3 300.9 571.8 300.9Q573.3 300.9 574.8 301Q576.3 301.2 577.7 301.8Q579.1 302.3 580.4 303L581.8 303.7"/></defs><use href="#p171" class="t1b"/><use href="#p171" class="t2b"/><use href="#p171" class="t3"/>
<defs><path id="p172" d="M615.3 309.3Q613.9 306.6 613 305.4Q612.1 304.2 610.9 303.3Q609.6 302.5 608.2 302.1Q606.7 301.8 605.2 301.7Q603.7 301.6 602.3 302Q600.9 302.5 599.7 303.4Q598.4 304.3 597.6 305.5Q596.8 306.8 596.3 308.2Q595.7 309.6 595.3 311Q594.9 312.4 594.8 313.9Q594.7 315.4 594.9 316.9L595.1 318.4"/></defs><use href="#p172" class="t1b"/><use href="#p172" class="t2b"/><use href="#p172" class="t3"/>
<defs><path id="p173" d="M560.4 320.3Q563.1 318.9 564.4 318.2Q565.7 317.5 567 316.7Q568.2 315.9 569.4 314.8Q570.5 313.8 571.4 312.6Q572.3 311.4 572.8 310Q573.2 308.6 573.3 307.1Q573.4 305.6 573 304.2Q572.6 302.7 571.8 301.4Q571.1 300.2 570.1 299Q569.2 297.8 568 296.9Q566.9 295.9 565.6 295.1Q564.3 294.3 563.1 293.5L561.8 292.7"/></defs><use href="#p173" class="t1b"/><use href="#p173" class="t2b"/><use href="#p173" class="t3"/>
<g transform="translate(623.4,267.9) rotate(150)">
<rect x="-4.7" y="-3.2" width="9.3" height="1.4" fill="#3157D6"/>
<rect x="-4.2" y="-2.7" width="8.3" height="0.4" fill="#7E9EF2"/>
<rect x="-4.7" y="-0.7" width="9.3" height="1.4" fill="#3157D6"/>
<rect x="-4.2" y="-0.3" width="8.3" height="0.4" fill="#7E9EF2"/>
<rect x="-4.7" y="1.7" width="9.3" height="1.4" fill="#3157D6"/>
<rect x="-4.2" y="2.2" width="8.3" height="0.4" fill="#7E9EF2"/>
</g>
<g transform="translate(540.8,267.1) rotate(99)">
<rect x="-4.7" y="-1.9" width="9.4" height="1.4" fill="#3157D6"/>
<rect x="-4.2" y="-1.5" width="8.4" height="0.4" fill="#7E9EF2"/>
<rect x="-4.7" y="0.5" width="9.4" height="1.4" fill="#3157D6"/>
<rect x="-4.2" y="0.9" width="8.4" height="0.4" fill="#7E9EF2"/>
</g>
<defs><path id="p174" d="M639.2 281.5Q637.1 279.4 636 278.4Q635 277.3 634 276.2Q633.1 275 632.2 273.7Q631.4 272.5 631 271.1Q630.5 269.6 630.6 268.1Q630.7 266.6 631.2 265.2L631.8 263.9"/></defs><use href="#p174" class="t1b"/><use href="#p174" class="t2b"/><use href="#p174" class="t3"/>
<defs><path id="p175" d="M621.2 314.5Q619 316.5 618.2 317.8Q617.5 319.1 617.1 320.6Q616.6 322 616.5 323.5Q616.3 325 616.2 326.5Q616.2 328 616.3 329.5Q616.4 331 616.9 332.4Q617.3 333.8 618.2 335Q619.1 336.2 620.3 337.2Q621.4 338.2 622.7 338.8L624.1 339.5"/></defs><use href="#p175" class="t1b"/><use href="#p175" class="t2b"/><use href="#p175" class="t3"/>
<defs><path id="p176" d="M596.8 312.9Q595.5 310.3 595.1 308.8Q594.7 307.4 594.7 305.9Q594.7 304.4 595 302.9Q595.3 301.4 595.8 300Q596.4 298.6 597.4 297.5Q598.4 296.4 599.6 295.5Q600.8 294.6 602.2 294Q603.6 293.4 605 292.9L606.4 292.4"/></defs><use href="#p176" class="t1b"/><use href="#p176" class="t2b"/><use href="#p176" class="t3"/>
<defs><path id="p177" d="M577.6 316.8Q574.8 315.9 573.4 315.3Q572 314.8 570.7 314Q569.4 313.2 568.3 312.3Q567.1 311.4 566 310.4Q564.8 309.4 563.8 308.2Q562.8 307.1 561.8 306Q560.8 304.9 559.7 303.9Q558.7 302.8 557.8 301.6Q556.9 300.4 556.2 299Q555.6 297.7 555.3 296.2Q555 294.7 555.3 293.3Q555.6 291.8 556.2 290.4L556.9 289.1"/></defs><use href="#p177" class="t1b"/><use href="#p177" class="t2b"/><use href="#p177" class="t3"/>
<defs><path id="p178" d="M647.7 259Q645.5 257 644.2 256.2Q642.9 255.4 641.5 254.8Q640.1 254.3 638.7 253.9L637.2 253.5"/></defs><use href="#p178" class="t1b"/><use href="#p178" class="t2b"/><use href="#p178" class="t3"/>
<g transform="translate(575.3,288.3) rotate(9)">
<rect x="-5" y="-3.2" width="10.1" height="1.4" fill="#3157D6"/>
<rect x="-4.5" y="-2.7" width="9.1" height="0.4" fill="#7E9EF2"/>
<rect x="-5" y="-0.7" width="10.1" height="1.4" fill="#3157D6"/>
<rect x="-4.5" y="-0.3" width="9.1" height="0.4" fill="#7E9EF2"/>
<rect x="-5" y="1.7" width="10.1" height="1.4" fill="#3157D6"/>
<rect x="-4.5" y="2.2" width="9.1" height="0.4" fill="#7E9EF2"/>
</g>
<defs><path id="p179" d="M567.4 307.1Q564.5 307.7 563.1 308.3Q561.7 308.9 560.6 309.9Q559.5 311 558.7 312.2Q557.8 313.4 557.5 314.9Q557.1 316.3 557.2 317.8Q557.3 319.3 557.8 320.7Q558.3 322.1 559.3 323.3L560.2 324.5"/></defs><use href="#p179" class="t1b"/><use href="#p179" class="t2b"/><use href="#p179" class="t3"/>
<g transform="translate(540.7,285.9) rotate(2)">
<rect x="-4.7" y="-4.4" width="9.3" height="1.4" fill="#3157D6"/>
<rect x="-4.2" y="-4" width="8.3" height="0.4" fill="#7E9EF2"/>
<rect x="-4.7" y="-2" width="9.3" height="1.4" fill="#3157D6"/>
<rect x="-4.2" y="-1.5" width="8.3" height="0.4" fill="#7E9EF2"/>
<rect x="-4.7" y="0.5" width="9.3" height="1.4" fill="#3157D6"/>
<rect x="-4.2" y="0.9" width="8.3" height="0.4" fill="#7E9EF2"/>
<rect x="-4.7" y="3" width="9.3" height="1.4" fill="#3157D6"/>
<rect x="-4.2" y="3.4" width="8.3" height="0.4" fill="#7E9EF2"/>
</g>
<defs><path id="p180" d="M645.3 271.7Q647.7 269.9 649 269.2Q650.3 268.5 651.8 268.3Q653.3 268.1 654.8 268.3Q656.3 268.5 657.6 269.2Q658.9 269.9 659.9 271Q660.9 272.1 661.5 273.5Q662.1 274.9 662.1 276.4Q662.2 277.9 661.7 279.3Q661.3 280.7 660.5 282Q659.7 283.2 658.6 284.3L657.6 285.4"/></defs><use href="#p180" class="t1b"/><use href="#p180" class="t2b"/><use href="#p180" class="t3"/>
<defs><path id="p181" d="M623.9 322.3Q623.8 325.3 623.6 326.7Q623.4 328.2 623.3 329.7Q623.2 331.2 623 332.7Q622.7 334.2 622.1 335.6Q621.6 337 620.8 338.2Q620 339.5 619.1 340.7Q618.2 341.9 617 342.9Q615.9 343.8 614.5 344.3Q613.1 344.8 611.6 345.1Q610.1 345.3 608.6 345.3Q607.1 345.3 605.6 345Q604.1 344.8 602.8 344.1L601.4 343.5"/></defs><use href="#p181" class="t1b"/><use href="#p181" class="t2b"/><use href="#p181" class="t3"/>
<defs><path id="p182" d="M651 319.9Q653.8 318.8 655.2 318.3Q656.6 317.8 658.1 317.6Q659.6 317.4 661.1 317.7Q662.5 318 663.9 318.7Q665.2 319.4 666.2 320.5Q667.2 321.6 667.8 323Q668.4 324.4 668.4 325.9Q668.5 327.4 668.3 328.9Q668.1 330.4 667.5 331.7Q666.8 333.1 665.8 334.2L664.7 335.2"/></defs><use href="#p182" class="t1b"/><use href="#p182" class="t2b"/><use href="#p182" class="t3"/>
<defs><path id="p183" d="M671.4 280.9Q669 279.2 667.5 278.8Q666.1 278.5 664.6 278.4Q663.1 278.4 661.7 278.9Q660.2 279.4 659.1 280.3Q657.9 281.3 657.1 282.5Q656.4 283.8 655.9 285.3Q655.5 286.7 655.6 288.2Q655.7 289.7 656.1 291.1L656.5 292.6"/></defs><use href="#p183" class="t1b"/><use href="#p183" class="t2b"/><use href="#p183" class="t3"/>
<defs><path id="p184" d="M648.1 307Q645.5 308.5 644.1 309Q642.7 309.5 641.2 309.7Q639.7 310 638.2 310.1Q636.7 310.3 635.2 310.2Q633.7 310.1 632.3 309.6Q630.9 309 629.8 308Q628.7 307 627.9 305.7Q627.2 304.4 627 302.9Q626.8 301.4 627.1 300Q627.3 298.5 628.1 297.2L628.9 295.9"/></defs><use href="#p184" class="t1b"/><use href="#p184" class="t2b"/><use href="#p184" class="t3"/>
<defs><path id="p185" d="M594.2 288.7Q597.2 288.3 598.6 287.9Q600 287.5 601.4 286.8Q602.7 286.2 604.1 285.5Q605.4 284.9 606.6 283.9Q607.8 283 608.9 282Q610 281 611.1 279.9Q612.1 278.9 613 277.7Q613.9 276.5 614.5 275.1Q615.1 273.7 615.2 272.2Q615.3 270.7 614.9 269.3Q614.5 267.8 613.8 266.5L613.1 265.2"/></defs><use href="#p185" class="t1b"/><use href="#p185" class="t2b"/><use href="#p185" class="t3"/>
<defs><path id="p186" d="M555.7 290.3Q553.7 288 553 286.7Q552.4 285.3 552.1 283.8Q551.9 282.4 551.8 280.9Q551.7 279.4 551.6 277.9Q551.6 276.4 551.5 274.9Q551.4 273.4 551.4 271.9Q551.4 270.4 551.5 268.9Q551.6 267.4 551.8 265.9Q551.9 264.4 552.3 262.9L552.7 261.5"/></defs><use href="#p186" class="t1b"/><use href="#p186" class="t2b"/><use href="#p186" class="t3"/>
<defs><path id="p187" d="M557.4 260Q560.4 260.6 561.9 260.4Q563.4 260.3 564.7 259.6Q566.1 258.9 567.1 257.9Q568.1 256.8 568.7 255.4L569.3 254"/></defs><use href="#p187" class="t1b"/><use href="#p187" class="t2b"/><use href="#p187" class="t3"/>
<g transform="translate(648.3,287.3) rotate(146)">
<rect x="-5.5" y="-1.9" width="11.1" height="1.4" fill="#3157D6"/>
<rect x="-5" y="-1.5" width="10.1" height="0.4" fill="#7E9EF2"/>
<rect x="-5.5" y="0.5" width="11.1" height="1.4" fill="#3157D6"/>
<rect x="-5" y="0.9" width="10.1" height="0.4" fill="#7E9EF2"/>
</g>
<defs><path id="p188" d="M590.9 320.7Q592.6 318.3 593.8 317.4Q595.1 316.5 596.5 316.1Q597.9 315.7 599.4 315.7Q600.9 315.7 602.4 315.9Q603.9 316.1 605.3 316.8Q606.6 317.4 607.8 318.3Q609.1 319.1 610.3 319.9L611.6 320.8"/></defs><use href="#p188" class="t1b"/><use href="#p188" class="t2b"/><use href="#p188" class="t3"/>
<defs><path id="p189" d="M570.2 283.7Q570 280.7 569.7 279.2Q569.4 277.7 569.1 276.3Q568.9 274.8 568.4 273.4Q567.9 271.9 567.5 270.5Q567.1 269.1 566.9 267.6Q566.7 266.1 566.6 264.6Q566.4 263.1 566.5 261.6L566.6 260.1"/></defs><use href="#p189" class="t1b"/><use href="#p189" class="t2b"/><use href="#p189" class="t3"/>
<defs><path id="p190" d="M630.6 258.7Q630.1 261.6 629.7 263.1Q629.3 264.5 628.8 265.9Q628.3 267.4 627.8 268.8Q627.3 270.2 627.1 271.7Q626.8 273.2 626.7 274.7Q626.6 276.1 626.4 277.6Q626.2 279.1 625.6 280.5L625 281.9"/></defs><use href="#p190" class="t1b"/><use href="#p190" class="t2b"/><use href="#p190" class="t3"/>
<defs><path id="p191" d="M599 294Q596.1 293.2 594.6 292.9Q593.1 292.7 591.6 292.9Q590.1 293 588.7 293.3Q587.2 293.6 585.8 294Q584.3 294.4 582.9 294.8Q581.4 295.2 579.9 295.4L578.5 295.7"/></defs><use href="#p191" class="t1b"/><use href="#p191" class="t2b"/><use href="#p191" class="t3"/>
<g transform="translate(544.4,297.7) rotate(83)">
<rect x="-4.5" y="-4.4" width="9" height="1.4" fill="#3157D6"/>
<rect x="-4" y="-4" width="8" height="0.4" fill="#7E9EF2"/>
<rect x="-4.5" y="-2" width="9" height="1.4" fill="#3157D6"/>
<rect x="-4" y="-1.5" width="8" height="0.4" fill="#7E9EF2"/>
<rect x="-4.5" y="0.5" width="9" height="1.4" fill="#3157D6"/>
<rect x="-4" y="0.9" width="8" height="0.4" fill="#7E9EF2"/>
<rect x="-4.5" y="3" width="9" height="1.4" fill="#3157D6"/>
<rect x="-4" y="3.4" width="8" height="0.4" fill="#7E9EF2"/>
</g>
<defs><path id="p192" d="M587.2 274.2Q584.2 274.6 582.9 275.3Q581.5 275.9 580.5 277Q579.4 278 578.8 279.4Q578.1 280.7 578 282.2Q577.8 283.7 578.2 285.2Q578.6 286.6 579.4 287.9Q580.3 289.1 581.4 290.1Q582.4 291.2 583.7 292Q584.9 292.9 586.2 293.7Q587.4 294.5 588.7 295.2Q590.1 295.9 591.4 296.6Q592.7 297.3 594 298.1L595.3 298.8"/></defs><use href="#p192" class="t1b"/><use href="#p192" class="t2b"/><use href="#p192" class="t3"/>
<defs><path id="p193" d="M666.3 261.5Q666.2 264.5 666 265.9Q665.7 267.4 665.2 268.8Q664.7 270.2 663.7 271.4Q662.8 272.6 661.5 273.3Q660.2 274.1 658.8 274.5Q657.3 274.9 655.8 274.7Q654.3 274.6 652.9 274.2Q651.4 273.8 650.1 273.2Q648.7 272.7 647.4 271.9Q646.1 271.2 644.8 270.4Q643.5 269.6 642.4 268.5Q641.4 267.5 640.5 266.3L639.6 265"/></defs><use href="#p193" class="t1b"/><use href="#p193" class="t2b"/><use href="#p193" class="t3"/>
<defs><path id="p194" d="M653.8 304.4Q651.4 302.5 650.5 301.3Q649.6 300.2 648.8 298.9Q648 297.6 647.5 296.2Q647.1 294.8 646.8 293.3Q646.4 291.8 646.4 290.3Q646.4 288.8 646.9 287.4Q647.3 286 648.2 284.8Q649.1 283.6 650.3 282.6Q651.4 281.6 652.6 280.7Q653.8 279.8 655 279Q656.3 278.1 657.6 277.4L659 276.8"/></defs><use href="#p194" class="t1b"/><use href="#p194" class="t2b"/><use href="#p194" class="t3"/>
<defs><path id="p195" d="M675.3 314.1Q675.3 311.1 675.5 309.6Q675.7 308.1 676.2 306.7Q676.7 305.3 677.3 303.9Q677.8 302.5 678.4 301.1Q679 299.7 679.8 298.4Q680.5 297.1 681.4 295.9Q682.2 294.6 682.9 293.3Q683.6 292 684.1 290.6L684.6 289.2"/></defs><use href="#p195" class="t1b"/><use href="#p195" class="t2b"/><use href="#p195" class="t3"/>
<defs><path id="p196" d="M671.5 290.3Q672.2 287.4 672 285.9Q671.8 284.4 671.1 283.1Q670.5 281.7 669.5 280.6Q668.5 279.5 667.2 278.8Q665.9 278 664.4 277.8Q662.9 277.6 661.4 277.9Q659.9 278.2 658.7 278.9Q657.4 279.7 656.4 280.9Q655.5 282.1 654.9 283.4Q654.3 284.8 654.2 286.3L654.1 287.8"/></defs><use href="#p196" class="t1b"/><use href="#p196" class="t2b"/><use href="#p196" class="t3"/>
<g transform="translate(635.3,302.2) rotate(107)">
<rect x="-5.4" y="-4.4" width="10.9" height="1.4" fill="#3157D6"/>
<rect x="-4.9" y="-4" width="9.9" height="0.4" fill="#7E9EF2"/>
<rect x="-5.4" y="-2" width="10.9" height="1.4" fill="#3157D6"/>
<rect x="-4.9" y="-1.5" width="9.9" height="0.4" fill="#7E9EF2"/>
<rect x="-5.4" y="0.5" width="10.9" height="1.4" fill="#3157D6"/>
<rect x="-4.9" y="0.9" width="9.9" height="0.4" fill="#7E9EF2"/>
<rect x="-5.4" y="3" width="10.9" height="1.4" fill="#3157D6"/>
<rect x="-4.9" y="3.4" width="9.9" height="0.4" fill="#7E9EF2"/>
</g>
<defs><path id="p197" d="M613.3 282.1Q616.2 283.2 617.3 284.1Q618.5 285.1 619.2 286.4Q620 287.7 620.4 289.1Q620.8 290.6 620.7 292.1Q620.7 293.6 620.2 295Q619.7 296.4 618.7 297.5Q617.7 298.6 616.5 299.5Q615.2 300.3 613.7 300.6Q612.3 300.9 610.8 301Q609.3 301.1 607.8 301.1Q606.3 301.1 604.8 300.8L603.3 300.6"/></defs><use href="#p197" class="t1b"/><use href="#p197" class="t2b"/><use href="#p197" class="t3"/>
<g transform="translate(593.1,264.5) rotate(68)">
<rect x="-4.7" y="-4.4" width="9.3" height="1.4" fill="#3157D6"/>
<rect x="-4.2" y="-4" width="8.3" height="0.4" fill="#7E9EF2"/>
<rect x="-4.7" y="-2" width="9.3" height="1.4" fill="#3157D6"/>
<rect x="-4.2" y="-1.5" width="8.3" height="0.4" fill="#7E9EF2"/>
<rect x="-4.7" y="0.5" width="9.3" height="1.4" fill="#3157D6"/>
<rect x="-4.2" y="0.9" width="8.3" height="0.4" fill="#7E9EF2"/>
<rect x="-4.7" y="3" width="9.3" height="1.4" fill="#3157D6"/>
<rect x="-4.2" y="3.4" width="8.3" height="0.4" fill="#7E9EF2"/>
</g>
<g transform="translate(563.1,302) rotate(40)">
<rect x="-4.7" y="-3.2" width="9.4" height="1.4" fill="#3157D6"/>
<rect x="-4.2" y="-2.7" width="8.4" height="0.4" fill="#7E9EF2"/>
<rect x="-4.7" y="-0.7" width="9.4" height="1.4" fill="#3157D6"/>
<rect x="-4.2" y="-0.3" width="8.4" height="0.4" fill="#7E9EF2"/>
<rect x="-4.7" y="1.7" width="9.4" height="1.4" fill="#3157D6"/>
<rect x="-4.2" y="2.2" width="8.4" height="0.4" fill="#7E9EF2"/>
</g>
<defs><path id="p198" d="M659.7 296.3Q662.1 298.2 663.2 299.2Q664.4 300.1 665.5 301.1Q666.6 302.1 667.8 303Q669 303.9 670.4 304.5Q671.8 305.1 673.3 305.2Q674.8 305.2 676.2 304.8Q677.7 304.4 678.9 303.5Q680.1 302.6 680.9 301.3Q681.7 300.1 682.1 298.6L682.4 297.2"/></defs><use href="#p198" class="t1b"/><use href="#p198" class="t2b"/><use href="#p198" class="t3"/>
<defs><path id="p199" d="M658.5 275.8Q656.6 278.1 655.3 278.9Q654.1 279.7 652.6 280Q651.1 280.3 649.6 280.1Q648.1 280 646.7 279.6Q645.2 279.3 643.8 278.9Q642.4 278.4 641 277.8L639.7 277.1"/></defs><use href="#p199" class="t1b"/><use href="#p199" class="t2b"/><use href="#p199" class="t3"/>
<g transform="translate(562.2,289.8) rotate(16)">
<rect x="-5.4" y="-3.2" width="10.9" height="1.4" fill="#3157D6"/>
<rect x="-4.9" y="-2.7" width="9.9" height="0.4" fill="#7E9EF2"/>
<rect x="-5.4" y="-0.7" width="10.9" height="1.4" fill="#3157D6"/>
<rect x="-4.9" y="-0.3" width="9.9" height="0.4" fill="#7E9EF2"/>
<rect x="-5.4" y="1.7" width="10.9" height="1.4" fill="#3157D6"/>
<rect x="-4.9" y="2.2" width="9.9" height="0.4" fill="#7E9EF2"/>
</g>
<defs><path id="p200" d="M575.6 275.9Q574.4 273.2 573.3 272.1Q572.2 271.1 570.9 270.4Q569.5 269.8 568 269.7Q566.5 269.5 565 269.7Q563.6 269.9 562.1 270.3Q560.7 270.7 559.2 271.1L557.8 271.5"/></defs><use href="#p200" class="t1b"/><use href="#p200" class="t2b"/><use href="#p200" class="t3"/>
</g></svg>
<text x="540.5" y="320.2" font-size="10" font-weight="bold" fill="#FFFF00" stroke="#8a7a00" stroke-width="0.35" stroke-opacity="0.6" paint-order="stroke">SVD-20</text>
<g filter="url(#fsh)"><rect x="535.2" y="332.2" width="148.2" height="102" rx="3" fill="url(#fbg)" stroke="#B8C4CC" stroke-width="0.6"/></g>
<svg x="535.2" y="332.2" width="148.2" height="102" overflow="hidden"><g transform="translate(-535.2,-332.2)">
<g transform="translate(545.3,345.2) rotate(149)">
<rect x="-5.6" y="-5.6" width="11.1" height="1.4" fill="#3157D6"/>
<rect x="-5.1" y="-5.2" width="10.1" height="0.4" fill="#7E9EF2"/>
<rect x="-5.6" y="-3.2" width="11.1" height="1.4" fill="#3157D6"/>
<rect x="-5.1" y="-2.7" width="10.1" height="0.4" fill="#7E9EF2"/>
<rect x="-5.6" y="-0.7" width="11.1" height="1.4" fill="#3157D6"/>
<rect x="-5.1" y="-0.3" width="10.1" height="0.4" fill="#7E9EF2"/>
<rect x="-5.6" y="1.7" width="11.1" height="1.4" fill="#3157D6"/>
<rect x="-5.1" y="2.2" width="10.1" height="0.4" fill="#7E9EF2"/>
<rect x="-5.6" y="4.2" width="11.1" height="1.4" fill="#3157D6"/>
<rect x="-5.1" y="4.6" width="10.1" height="0.4" fill="#7E9EF2"/>
</g>
<g transform="translate(558.7,341.3) rotate(24)">
<rect x="-6" y="-5.6" width="12" height="1.4" fill="#3157D6"/>
<rect x="-5.5" y="-5.2" width="11" height="0.4" fill="#7E9EF2"/>
<rect x="-6" y="-3.2" width="12" height="1.4" fill="#3157D6"/>
<rect x="-5.5" y="-2.7" width="11" height="0.4" fill="#7E9EF2"/>
<rect x="-6" y="-0.7" width="12" height="1.4" fill="#3157D6"/>
<rect x="-5.5" y="-0.3" width="11" height="0.4" fill="#7E9EF2"/>
<rect x="-6" y="1.7" width="12" height="1.4" fill="#3157D6"/>
<rect x="-5.5" y="2.2" width="11" height="0.4" fill="#7E9EF2"/>
<rect x="-6" y="4.2" width="12" height="1.4" fill="#3157D6"/>
<rect x="-5.5" y="4.6" width="11" height="0.4" fill="#7E9EF2"/>
</g>
<g transform="translate(577.1,346.2) rotate(69)">
<rect x="-5.6" y="-5.6" width="11.3" height="1.4" fill="#3157D6"/>
<rect x="-5.1" y="-5.2" width="10.3" height="0.4" fill="#7E9EF2"/>
<rect x="-5.6" y="-3.2" width="11.3" height="1.4" fill="#3157D6"/>
<rect x="-5.1" y="-2.7" width="10.3" height="0.4" fill="#7E9EF2"/>
<rect x="-5.6" y="-0.7" width="11.3" height="1.4" fill="#3157D6"/>
<rect x="-5.1" y="-0.3" width="10.3" height="0.4" fill="#7E9EF2"/>
<rect x="-5.6" y="1.7" width="11.3" height="1.4" fill="#3157D6"/>
<rect x="-5.1" y="2.2" width="10.3" height="0.4" fill="#7E9EF2"/>
<rect x="-5.6" y="4.2" width="11.3" height="1.4" fill="#3157D6"/>
<rect x="-5.1" y="4.6" width="10.3" height="0.4" fill="#7E9EF2"/>
</g>
<g transform="translate(592.3,343.8) rotate(177)">
<rect x="-6.2" y="-5.6" width="12.3" height="1.4" fill="#3157D6"/>
<rect x="-5.7" y="-5.2" width="11.3" height="0.4" fill="#7E9EF2"/>
<rect x="-6.2" y="-3.2" width="12.3" height="1.4" fill="#3157D6"/>
<rect x="-5.7" y="-2.7" width="11.3" height="0.4" fill="#7E9EF2"/>
<rect x="-6.2" y="-0.7" width="12.3" height="1.4" fill="#3157D6"/>
<rect x="-5.7" y="-0.3" width="11.3" height="0.4" fill="#7E9EF2"/>
<rect x="-6.2" y="1.7" width="12.3" height="1.4" fill="#3157D6"/>
<rect x="-5.7" y="2.2" width="11.3" height="0.4" fill="#7E9EF2"/>
<rect x="-6.2" y="4.2" width="12.3" height="1.4" fill="#3157D6"/>
<rect x="-5.7" y="4.6" width="11.3" height="0.4" fill="#7E9EF2"/>
</g>
<g transform="translate(605.6,340.3) rotate(46)">
<rect x="-6.2" y="-4.4" width="12.4" height="1.4" fill="#3157D6"/>
<rect x="-5.7" y="-4" width="11.4" height="0.4" fill="#7E9EF2"/>
<rect x="-6.2" y="-2" width="12.4" height="1.4" fill="#3157D6"/>
<rect x="-5.7" y="-1.5" width="11.4" height="0.4" fill="#7E9EF2"/>
<rect x="-6.2" y="0.5" width="12.4" height="1.4" fill="#3157D6"/>
<rect x="-5.7" y="0.9" width="11.4" height="0.4" fill="#7E9EF2"/>
<rect x="-6.2" y="3" width="12.4" height="1.4" fill="#3157D6"/>
<rect x="-5.7" y="3.4" width="11.4" height="0.4" fill="#7E9EF2"/>
</g>
<g transform="translate(626.7,343.4) rotate(155)">
<rect x="-5.5" y="-5.6" width="11.1" height="1.4" fill="#3157D6"/>
<rect x="-5" y="-5.2" width="10.1" height="0.4" fill="#7E9EF2"/>
<rect x="-5.5" y="-3.2" width="11.1" height="1.4" fill="#3157D6"/>
<rect x="-5" y="-2.7" width="10.1" height="0.4" fill="#7E9EF2"/>
<rect x="-5.5" y="-0.7" width="11.1" height="1.4" fill="#3157D6"/>
<rect x="-5" y="-0.3" width="10.1" height="0.4" fill="#7E9EF2"/>
<rect x="-5.5" y="1.7" width="11.1" height="1.4" fill="#3157D6"/>
<rect x="-5" y="2.2" width="10.1" height="0.4" fill="#7E9EF2"/>
<rect x="-5.5" y="4.2" width="11.1" height="1.4" fill="#3157D6"/>
<rect x="-5" y="4.6" width="10.1" height="0.4" fill="#7E9EF2"/>
</g>
<g transform="translate(642.5,342.5) rotate(17)">
<rect x="-6" y="-5.6" width="11.9" height="1.4" fill="#3157D6"/>
<rect x="-5.5" y="-5.2" width="10.9" height="0.4" fill="#7E9EF2"/>
<rect x="-6" y="-3.2" width="11.9" height="1.4" fill="#3157D6"/>
<rect x="-5.5" y="-2.7" width="10.9" height="0.4" fill="#7E9EF2"/>
<rect x="-6" y="-0.7" width="11.9" height="1.4" fill="#3157D6"/>
<rect x="-5.5" y="-0.3" width="10.9" height="0.4" fill="#7E9EF2"/>
<rect x="-6" y="1.7" width="11.9" height="1.4" fill="#3157D6"/>
<rect x="-5.5" y="2.2" width="10.9" height="0.4" fill="#7E9EF2"/>
<rect x="-6" y="4.2" width="11.9" height="1.4" fill="#3157D6"/>
<rect x="-5.5" y="4.6" width="10.9" height="0.4" fill="#7E9EF2"/>
</g>
<g transform="translate(655.9,340.6) rotate(24)">
<rect x="-5.7" y="-5.6" width="11.3" height="1.4" fill="#3157D6"/>
<rect x="-5.2" y="-5.2" width="10.3" height="0.4" fill="#7E9EF2"/>
<rect x="-5.7" y="-3.2" width="11.3" height="1.4" fill="#3157D6"/>
<rect x="-5.2" y="-2.7" width="10.3" height="0.4" fill="#7E9EF2"/>
<rect x="-5.7" y="-0.7" width="11.3" height="1.4" fill="#3157D6"/>
<rect x="-5.2" y="-0.3" width="10.3" height="0.4" fill="#7E9EF2"/>
<rect x="-5.7" y="1.7" width="11.3" height="1.4" fill="#3157D6"/>
<rect x="-5.2" y="2.2" width="10.3" height="0.4" fill="#7E9EF2"/>
<rect x="-5.7" y="4.2" width="11.3" height="1.4" fill="#3157D6"/>
<rect x="-5.2" y="4.6" width="10.3" height="0.4" fill="#7E9EF2"/>
</g>
<g transform="translate(669,339.3) rotate(75)">
<rect x="-5.7" y="-5.6" width="11.3" height="1.4" fill="#3157D6"/>
<rect x="-5.2" y="-5.2" width="10.3" height="0.4" fill="#7E9EF2"/>
<rect x="-5.7" y="-3.2" width="11.3" height="1.4" fill="#3157D6"/>
<rect x="-5.2" y="-2.7" width="10.3" height="0.4" fill="#7E9EF2"/>
<rect x="-5.7" y="-0.7" width="11.3" height="1.4" fill="#3157D6"/>
<rect x="-5.2" y="-0.3" width="10.3" height="0.4" fill="#7E9EF2"/>
<rect x="-5.7" y="1.7" width="11.3" height="1.4" fill="#3157D6"/>
<rect x="-5.2" y="2.2" width="10.3" height="0.4" fill="#7E9EF2"/>
<rect x="-5.7" y="4.2" width="11.3" height="1.4" fill="#3157D6"/>
<rect x="-5.2" y="4.6" width="10.3" height="0.4" fill="#7E9EF2"/>
</g>
<g transform="translate(543.9,356.2) rotate(116)">
<rect x="-6" y="-4.4" width="12" height="1.4" fill="#3157D6"/>
<rect x="-5.5" y="-4" width="11" height="0.4" fill="#7E9EF2"/>
<rect x="-6" y="-2" width="12" height="1.4" fill="#3157D6"/>
<rect x="-5.5" y="-1.5" width="11" height="0.4" fill="#7E9EF2"/>
<rect x="-6" y="0.5" width="12" height="1.4" fill="#3157D6"/>
<rect x="-5.5" y="0.9" width="11" height="0.4" fill="#7E9EF2"/>
<rect x="-6" y="3" width="12" height="1.4" fill="#3157D6"/>
<rect x="-5.5" y="3.4" width="11" height="0.4" fill="#7E9EF2"/>
</g>
<g transform="translate(563.4,358.6) rotate(47)">
<rect x="-5.7" y="-4.4" width="11.5" height="1.4" fill="#3157D6"/>
<rect x="-5.2" y="-4" width="10.5" height="0.4" fill="#7E9EF2"/>
<rect x="-5.7" y="-2" width="11.5" height="1.4" fill="#3157D6"/>
<rect x="-5.2" y="-1.5" width="10.5" height="0.4" fill="#7E9EF2"/>
<rect x="-5.7" y="0.5" width="11.5" height="1.4" fill="#3157D6"/>
<rect x="-5.2" y="0.9" width="10.5" height="0.4" fill="#7E9EF2"/>
<rect x="-5.7" y="3" width="11.5" height="1.4" fill="#3157D6"/>
<rect x="-5.2" y="3.4" width="10.5" height="0.4" fill="#7E9EF2"/>
</g>
<g transform="translate(579.5,359.2) rotate(7)">
<rect x="-6.1" y="-5.6" width="12.2" height="1.4" fill="#3157D6"/>
<rect x="-5.6" y="-5.2" width="11.2" height="0.4" fill="#7E9EF2"/>
<rect x="-6.1" y="-3.2" width="12.2" height="1.4" fill="#3157D6"/>
<rect x="-5.6" y="-2.7" width="11.2" height="0.4" fill="#7E9EF2"/>
<rect x="-6.1" y="-0.7" width="12.2" height="1.4" fill="#3157D6"/>
<rect x="-5.6" y="-0.3" width="11.2" height="0.4" fill="#7E9EF2"/>
<rect x="-6.1" y="1.7" width="12.2" height="1.4" fill="#3157D6"/>
<rect x="-5.6" y="2.2" width="11.2" height="0.4" fill="#7E9EF2"/>
<rect x="-6.1" y="4.2" width="12.2" height="1.4" fill="#3157D6"/>
<rect x="-5.6" y="4.6" width="11.2" height="0.4" fill="#7E9EF2"/>
</g>
<g transform="translate(595.9,352.6) rotate(40)">
<rect x="-5.9" y="-5.6" width="11.7" height="1.4" fill="#3157D6"/>
<rect x="-5.4" y="-5.2" width="10.7" height="0.4" fill="#7E9EF2"/>
<rect x="-5.9" y="-3.2" width="11.7" height="1.4" fill="#3157D6"/>
<rect x="-5.4" y="-2.7" width="10.7" height="0.4" fill="#7E9EF2"/>
<rect x="-5.9" y="-0.7" width="11.7" height="1.4" fill="#3157D6"/>
<rect x="-5.4" y="-0.3" width="10.7" height="0.4" fill="#7E9EF2"/>
<rect x="-5.9" y="1.7" width="11.7" height="1.4" fill="#3157D6"/>
<rect x="-5.4" y="2.2" width="10.7" height="0.4" fill="#7E9EF2"/>
<rect x="-5.9" y="4.2" width="11.7" height="1.4" fill="#3157D6"/>
<rect x="-5.4" y="4.6" width="10.7" height="0.4" fill="#7E9EF2"/>
</g>
<g transform="translate(612.9,356.6) rotate(133)">
<rect x="-5.8" y="-5.6" width="11.5" height="1.4" fill="#3157D6"/>
<rect x="-5.3" y="-5.2" width="10.5" height="0.4" fill="#7E9EF2"/>
<rect x="-5.8" y="-3.2" width="11.5" height="1.4" fill="#3157D6"/>
<rect x="-5.3" y="-2.7" width="10.5" height="0.4" fill="#7E9EF2"/>
<rect x="-5.8" y="-0.7" width="11.5" height="1.4" fill="#3157D6"/>
<rect x="-5.3" y="-0.3" width="10.5" height="0.4" fill="#7E9EF2"/>
<rect x="-5.8" y="1.7" width="11.5" height="1.4" fill="#3157D6"/>
<rect x="-5.3" y="2.2" width="10.5" height="0.4" fill="#7E9EF2"/>
<rect x="-5.8" y="4.2" width="11.5" height="1.4" fill="#3157D6"/>
<rect x="-5.3" y="4.6" width="10.5" height="0.4" fill="#7E9EF2"/>
</g>
<g transform="translate(624.3,353.3) rotate(86)">
<rect x="-6.4" y="-5.6" width="12.9" height="1.4" fill="#3157D6"/>
<rect x="-5.9" y="-5.2" width="11.9" height="0.4" fill="#7E9EF2"/>
<rect x="-6.4" y="-3.2" width="12.9" height="1.4" fill="#3157D6"/>
<rect x="-5.9" y="-2.7" width="11.9" height="0.4" fill="#7E9EF2"/>
<rect x="-6.4" y="-0.7" width="12.9" height="1.4" fill="#3157D6"/>
<rect x="-5.9" y="-0.3" width="11.9" height="0.4" fill="#7E9EF2"/>
<rect x="-6.4" y="1.7" width="12.9" height="1.4" fill="#3157D6"/>
<rect x="-5.9" y="2.2" width="11.9" height="0.4" fill="#7E9EF2"/>
<rect x="-6.4" y="4.2" width="12.9" height="1.4" fill="#3157D6"/>
<rect x="-5.9" y="4.6" width="11.9" height="0.4" fill="#7E9EF2"/>
</g>
<g transform="translate(637.2,353.1) rotate(142)">
<rect x="-6.1" y="-5.6" width="12.3" height="1.4" fill="#3157D6"/>
<rect x="-5.6" y="-5.2" width="11.3" height="0.4" fill="#7E9EF2"/>
<rect x="-6.1" y="-3.2" width="12.3" height="1.4" fill="#3157D6"/>
<rect x="-5.6" y="-2.7" width="11.3" height="0.4" fill="#7E9EF2"/>
<rect x="-6.1" y="-0.7" width="12.3" height="1.4" fill="#3157D6"/>
<rect x="-5.6" y="-0.3" width="11.3" height="0.4" fill="#7E9EF2"/>
<rect x="-6.1" y="1.7" width="12.3" height="1.4" fill="#3157D6"/>
<rect x="-5.6" y="2.2" width="11.3" height="0.4" fill="#7E9EF2"/>
<rect x="-6.1" y="4.2" width="12.3" height="1.4" fill="#3157D6"/>
<rect x="-5.6" y="4.6" width="11.3" height="0.4" fill="#7E9EF2"/>
</g>
<g transform="translate(652.2,359) rotate(31)">
<rect x="-6.1" y="-5.6" width="12.2" height="1.4" fill="#3157D6"/>
<rect x="-5.6" y="-5.2" width="11.2" height="0.4" fill="#7E9EF2"/>
<rect x="-6.1" y="-3.2" width="12.2" height="1.4" fill="#3157D6"/>
<rect x="-5.6" y="-2.7" width="11.2" height="0.4" fill="#7E9EF2"/>
<rect x="-6.1" y="-0.7" width="12.2" height="1.4" fill="#3157D6"/>
<rect x="-5.6" y="-0.3" width="11.2" height="0.4" fill="#7E9EF2"/>
<rect x="-6.1" y="1.7" width="12.2" height="1.4" fill="#3157D6"/>
<rect x="-5.6" y="2.2" width="11.2" height="0.4" fill="#7E9EF2"/>
<rect x="-6.1" y="4.2" width="12.2" height="1.4" fill="#3157D6"/>
<rect x="-5.6" y="4.6" width="11.2" height="0.4" fill="#7E9EF2"/>
</g>
<g transform="translate(670.4,358.9) rotate(89)">
<rect x="-5.5" y="-5.6" width="11.1" height="1.4" fill="#3157D6"/>
<rect x="-5" y="-5.2" width="10.1" height="0.4" fill="#7E9EF2"/>
<rect x="-5.5" y="-3.2" width="11.1" height="1.4" fill="#3157D6"/>
<rect x="-5" y="-2.7" width="10.1" height="0.4" fill="#7E9EF2"/>
<rect x="-5.5" y="-0.7" width="11.1" height="1.4" fill="#3157D6"/>
<rect x="-5" y="-0.3" width="10.1" height="0.4" fill="#7E9EF2"/>
<rect x="-5.5" y="1.7" width="11.1" height="1.4" fill="#3157D6"/>
<rect x="-5" y="2.2" width="10.1" height="0.4" fill="#7E9EF2"/>
<rect x="-5.5" y="4.2" width="11.1" height="1.4" fill="#3157D6"/>
<rect x="-5" y="4.6" width="10.1" height="0.4" fill="#7E9EF2"/>
</g>
<g transform="translate(551.5,371.3) rotate(131)">
<rect x="-5.7" y="-5.6" width="11.4" height="1.4" fill="#3157D6"/>
<rect x="-5.2" y="-5.2" width="10.4" height="0.4" fill="#7E9EF2"/>
<rect x="-5.7" y="-3.2" width="11.4" height="1.4" fill="#3157D6"/>
<rect x="-5.2" y="-2.7" width="10.4" height="0.4" fill="#7E9EF2"/>
<rect x="-5.7" y="-0.7" width="11.4" height="1.4" fill="#3157D6"/>
<rect x="-5.2" y="-0.3" width="10.4" height="0.4" fill="#7E9EF2"/>
<rect x="-5.7" y="1.7" width="11.4" height="1.4" fill="#3157D6"/>
<rect x="-5.2" y="2.2" width="10.4" height="0.4" fill="#7E9EF2"/>
<rect x="-5.7" y="4.2" width="11.4" height="1.4" fill="#3157D6"/>
<rect x="-5.2" y="4.6" width="10.4" height="0.4" fill="#7E9EF2"/>
</g>
<g transform="translate(559.8,367.5) rotate(63)">
<rect x="-5.6" y="-4.4" width="11.2" height="1.4" fill="#3157D6"/>
<rect x="-5.1" y="-4" width="10.2" height="0.4" fill="#7E9EF2"/>
<rect x="-5.6" y="-2" width="11.2" height="1.4" fill="#3157D6"/>
<rect x="-5.1" y="-1.5" width="10.2" height="0.4" fill="#7E9EF2"/>
<rect x="-5.6" y="0.5" width="11.2" height="1.4" fill="#3157D6"/>
<rect x="-5.1" y="0.9" width="10.2" height="0.4" fill="#7E9EF2"/>
<rect x="-5.6" y="3" width="11.2" height="1.4" fill="#3157D6"/>
<rect x="-5.1" y="3.4" width="10.2" height="0.4" fill="#7E9EF2"/>
</g>
<g transform="translate(582.5,370.2) rotate(125)">
<rect x="-6.1" y="-5.6" width="12.2" height="1.4" fill="#3157D6"/>
<rect x="-5.6" y="-5.2" width="11.2" height="0.4" fill="#7E9EF2"/>
<rect x="-6.1" y="-3.2" width="12.2" height="1.4" fill="#3157D6"/>
<rect x="-5.6" y="-2.7" width="11.2" height="0.4" fill="#7E9EF2"/>
<rect x="-6.1" y="-0.7" width="12.2" height="1.4" fill="#3157D6"/>
<rect x="-5.6" y="-0.3" width="11.2" height="0.4" fill="#7E9EF2"/>
<rect x="-6.1" y="1.7" width="12.2" height="1.4" fill="#3157D6"/>
<rect x="-5.6" y="2.2" width="11.2" height="0.4" fill="#7E9EF2"/>
<rect x="-6.1" y="4.2" width="12.2" height="1.4" fill="#3157D6"/>
<rect x="-5.6" y="4.6" width="11.2" height="0.4" fill="#7E9EF2"/>
</g>
<g transform="translate(592.2,374) rotate(111)">
<rect x="-6.4" y="-5.6" width="12.8" height="1.4" fill="#3157D6"/>
<rect x="-5.9" y="-5.2" width="11.8" height="0.4" fill="#7E9EF2"/>
<rect x="-6.4" y="-3.2" width="12.8" height="1.4" fill="#3157D6"/>
<rect x="-5.9" y="-2.7" width="11.8" height="0.4" fill="#7E9EF2"/>
<rect x="-6.4" y="-0.7" width="12.8" height="1.4" fill="#3157D6"/>
<rect x="-5.9" y="-0.3" width="11.8" height="0.4" fill="#7E9EF2"/>
<rect x="-6.4" y="1.7" width="12.8" height="1.4" fill="#3157D6"/>
<rect x="-5.9" y="2.2" width="11.8" height="0.4" fill="#7E9EF2"/>
<rect x="-6.4" y="4.2" width="12.8" height="1.4" fill="#3157D6"/>
<rect x="-5.9" y="4.6" width="11.8" height="0.4" fill="#7E9EF2"/>
</g>
<g transform="translate(606.2,373.4) rotate(148)">
<rect x="-5.7" y="-5.6" width="11.4" height="1.4" fill="#3157D6"/>
<rect x="-5.2" y="-5.2" width="10.4" height="0.4" fill="#7E9EF2"/>
<rect x="-5.7" y="-3.2" width="11.4" height="1.4" fill="#3157D6"/>
<rect x="-5.2" y="-2.7" width="10.4" height="0.4" fill="#7E9EF2"/>
<rect x="-5.7" y="-0.7" width="11.4" height="1.4" fill="#3157D6"/>
<rect x="-5.2" y="-0.3" width="10.4" height="0.4" fill="#7E9EF2"/>
<rect x="-5.7" y="1.7" width="11.4" height="1.4" fill="#3157D6"/>
<rect x="-5.2" y="2.2" width="10.4" height="0.4" fill="#7E9EF2"/>
<rect x="-5.7" y="4.2" width="11.4" height="1.4" fill="#3157D6"/>
<rect x="-5.2" y="4.6" width="10.4" height="0.4" fill="#7E9EF2"/>
</g>
<g transform="translate(620.3,369.8) rotate(161)">
<rect x="-6.1" y="-5.6" width="12.2" height="1.4" fill="#3157D6"/>
<rect x="-5.6" y="-5.2" width="11.2" height="0.4" fill="#7E9EF2"/>
<rect x="-6.1" y="-3.2" width="12.2" height="1.4" fill="#3157D6"/>
<rect x="-5.6" y="-2.7" width="11.2" height="0.4" fill="#7E9EF2"/>
<rect x="-6.1" y="-0.7" width="12.2" height="1.4" fill="#3157D6"/>
<rect x="-5.6" y="-0.3" width="11.2" height="0.4" fill="#7E9EF2"/>
<rect x="-6.1" y="1.7" width="12.2" height="1.4" fill="#3157D6"/>
<rect x="-5.6" y="2.2" width="11.2" height="0.4" fill="#7E9EF2"/>
<rect x="-6.1" y="4.2" width="12.2" height="1.4" fill="#3157D6"/>
<rect x="-5.6" y="4.6" width="11.2" height="0.4" fill="#7E9EF2"/>
</g>
<g transform="translate(638.9,374.1) rotate(52)">
<rect x="-6.3" y="-4.4" width="12.6" height="1.4" fill="#3157D6"/>
<rect x="-5.8" y="-4" width="11.6" height="0.4" fill="#7E9EF2"/>
<rect x="-6.3" y="-2" width="12.6" height="1.4" fill="#3157D6"/>
<rect x="-5.8" y="-1.5" width="11.6" height="0.4" fill="#7E9EF2"/>
<rect x="-6.3" y="0.5" width="12.6" height="1.4" fill="#3157D6"/>
<rect x="-5.8" y="0.9" width="11.6" height="0.4" fill="#7E9EF2"/>
<rect x="-6.3" y="3" width="12.6" height="1.4" fill="#3157D6"/>
<rect x="-5.8" y="3.4" width="11.6" height="0.4" fill="#7E9EF2"/>
</g>
<g transform="translate(655.6,370.8) rotate(106)">
<rect x="-6" y="-5.6" width="12.1" height="1.4" fill="#3157D6"/>
<rect x="-5.5" y="-5.2" width="11.1" height="0.4" fill="#7E9EF2"/>
<rect x="-6" y="-3.2" width="12.1" height="1.4" fill="#3157D6"/>
<rect x="-5.5" y="-2.7" width="11.1" height="0.4" fill="#7E9EF2"/>
<rect x="-6" y="-0.7" width="12.1" height="1.4" fill="#3157D6"/>
<rect x="-5.5" y="-0.3" width="11.1" height="0.4" fill="#7E9EF2"/>
<rect x="-6" y="1.7" width="12.1" height="1.4" fill="#3157D6"/>
<rect x="-5.5" y="2.2" width="11.1" height="0.4" fill="#7E9EF2"/>
<rect x="-6" y="4.2" width="12.1" height="1.4" fill="#3157D6"/>
<rect x="-5.5" y="4.6" width="11.1" height="0.4" fill="#7E9EF2"/>
</g>
<g transform="translate(674.5,371.3) rotate(168)">
<rect x="-5.8" y="-4.4" width="11.6" height="1.4" fill="#3157D6"/>
<rect x="-5.3" y="-4" width="10.6" height="0.4" fill="#7E9EF2"/>
<rect x="-5.8" y="-2" width="11.6" height="1.4" fill="#3157D6"/>
<rect x="-5.3" y="-1.5" width="10.6" height="0.4" fill="#7E9EF2"/>
<rect x="-5.8" y="0.5" width="11.6" height="1.4" fill="#3157D6"/>
<rect x="-5.3" y="0.9" width="10.6" height="0.4" fill="#7E9EF2"/>
<rect x="-5.8" y="3" width="11.6" height="1.4" fill="#3157D6"/>
<rect x="-5.3" y="3.4" width="10.6" height="0.4" fill="#7E9EF2"/>
</g>
<defs><path id="p201" d="M612.6 384.6Q611.8 381.7 611.6 380.2Q611.4 378.7 611.6 377.2Q611.7 375.7 612 374.3Q612.4 372.8 612.9 371.4Q613.5 370 614.1 368.6Q614.7 367.3 615.5 366L616.3 364.7"/></defs><use href="#p201" class="t1b"/><use href="#p201" class="t2b"/><use href="#p201" class="t3"/>
<g transform="translate(626.9,414.8) rotate(167)">
<rect x="-4.7" y="-3.2" width="9.4" height="1.4" fill="#3157D6"/>
<rect x="-4.2" y="-2.7" width="8.4" height="0.4" fill="#7E9EF2"/>
<rect x="-4.7" y="-0.7" width="9.4" height="1.4" fill="#3157D6"/>
<rect x="-4.2" y="-0.3" width="8.4" height="0.4" fill="#7E9EF2"/>
<rect x="-4.7" y="1.7" width="9.4" height="1.4" fill="#3157D6"/>
<rect x="-4.2" y="2.2" width="8.4" height="0.4" fill="#7E9EF2"/>
</g>
<defs><path id="p202" d="M551.5 407.2Q551.9 410.2 552 411.7Q552.2 413.2 552.4 414.7Q552.6 416.1 552.6 417.6Q552.7 419.1 552.4 420.6Q552.1 422.1 551.6 423.5Q551.1 424.9 550.5 426.3Q549.9 427.7 549.3 429.1Q548.8 430.5 548.2 431.9Q547.7 433.3 547.2 434.7Q546.6 436 546.2 437.5Q545.8 438.9 545.3 440.3L544.8 441.8"/></defs><use href="#p202" class="t1b"/><use href="#p202" class="t2b"/><use href="#p202" class="t3"/>
<defs><path id="p203" d="M548.8 384Q546.1 385.4 544.7 385.9Q543.3 386.4 541.9 386.9Q540.5 387.4 539.1 388.1Q537.8 388.7 536.4 389.3Q535 389.9 533.6 390.2Q532.1 390.5 530.6 390.3Q529.1 390.1 527.8 389.4Q526.5 388.7 525.4 387.6Q524.4 386.5 523.9 385.1Q523.3 383.7 523.1 382.2Q522.9 380.7 523.3 379.3Q523.6 377.8 524.4 376.6L525.2 375.3"/></defs><use href="#p203" class="t1b"/><use href="#p203" class="t2b"/><use href="#p203" class="t3"/>
<defs><path id="p204" d="M667.4 391.4Q666.4 388.6 665.9 387.2Q665.5 385.7 665.1 384.3Q664.8 382.8 664.5 381.4Q664.2 379.9 664.1 378.4Q663.9 376.9 663.6 375.4Q663.3 374 663 372.5Q662.7 371 662.3 369.6Q662 368.1 661.6 366.6L661.2 365.2"/></defs><use href="#p204" class="t1b"/><use href="#p204" class="t2b"/><use href="#p204" class="t3"/>
<defs><path id="p205" d="M571.6 411.7Q573.5 414.1 573.9 415.5Q574.4 417 574.6 418.4Q574.7 419.9 574.3 421.4Q574 422.8 573.3 424.2Q572.7 425.6 572.1 426.9Q571.4 428.3 570.9 429.7Q570.4 431.1 569.9 432.5Q569.4 433.9 568.7 435.3Q568 436.6 567.1 437.8Q566.2 438.9 565.1 440L564 441"/></defs><use href="#p205" class="t1b"/><use href="#p205" class="t2b"/><use href="#p205" class="t3"/>
<defs><path id="p206" d="M580.6 418.7Q578.2 416.8 577.4 415.6Q576.5 414.4 576.2 412.9Q575.8 411.5 575.9 410Q576.1 408.5 576.7 407.1Q577.4 405.8 578.3 404.6Q579.2 403.4 580.4 402.5Q581.6 401.7 583.1 401.2Q584.5 400.8 586 400.8L587.5 400.9"/></defs><use href="#p206" class="t1b"/><use href="#p206" class="t2b"/><use href="#p206" class="t3"/>
<g transform="translate(599.3,399.4) rotate(14)">
<rect x="-5.2" y="-4.4" width="10.4" height="1.4" fill="#3157D6"/>
<rect x="-4.7" y="-4" width="9.4" height="0.4" fill="#7E9EF2"/>
<rect x="-5.2" y="-2" width="10.4" height="1.4" fill="#3157D6"/>
<rect x="-4.7" y="-1.5" width="9.4" height="0.4" fill="#7E9EF2"/>
<rect x="-5.2" y="0.5" width="10.4" height="1.4" fill="#3157D6"/>
<rect x="-4.7" y="0.9" width="9.4" height="0.4" fill="#7E9EF2"/>
<rect x="-5.2" y="3" width="10.4" height="1.4" fill="#3157D6"/>
<rect x="-4.7" y="3.4" width="9.4" height="0.4" fill="#7E9EF2"/>
</g>
<defs><path id="p207" d="M638.1 369.7Q635.3 368.6 634.2 367.6Q633 366.6 632.3 365.3Q631.6 364 631.3 362.5Q631.1 361 630.4 362.3Q629.7 363.7 628.6 364.7Q627.6 365.8 626.2 366.5Q624.9 367.1 623.4 367.5Q622 367.9 620.5 367.9Q619 367.9 617.6 367.4L616.2 366.9"/></defs><use href="#p207" class="t1b"/><use href="#p207" class="t2b"/><use href="#p207" class="t3"/>
<defs><path id="p208" d="M617.2 417.3Q620.2 416.8 621.5 416.1Q622.9 415.4 624 414.5Q625.2 413.5 626.3 412.5Q627.4 411.5 628.3 410.3Q629.3 409.2 630.1 407.9Q630.9 406.7 631.4 405.3Q631.9 403.8 632 402.3Q632.1 400.8 631.6 399.4Q631.2 398 630.3 396.8Q629.4 395.6 628.2 394.7Q627 393.8 625.6 393.2L624.2 392.7"/></defs><use href="#p208" class="t1b"/><use href="#p208" class="t2b"/><use href="#p208" class="t3"/>
<defs><path id="p209" d="M569.9 393.2Q572.9 393.5 574.4 393.6Q575.9 393.7 577.4 393.9Q578.8 394.1 580.3 394.6Q581.7 395.1 583.1 395.7Q584.4 396.3 585.8 397Q587.1 397.7 588.3 398.5Q589.6 399.3 590.7 400.3Q591.9 401.2 592.8 402.4Q593.7 403.6 594.5 404.9Q595.3 406.2 596.1 407.4L596.9 408.7"/></defs><use href="#p209" class="t1b"/><use href="#p209" class="t2b"/><use href="#p209" class="t3"/>
<g transform="translate(653.5,390.6) rotate(77)">
<rect x="-5.2" y="-3.2" width="10.3" height="1.4" fill="#3157D6"/>
<rect x="-4.7" y="-2.7" width="9.3" height="0.4" fill="#7E9EF2"/>
<rect x="-5.2" y="-0.7" width="10.3" height="1.4" fill="#3157D6"/>
<rect x="-4.7" y="-0.3" width="9.3" height="0.4" fill="#7E9EF2"/>
<rect x="-5.2" y="1.7" width="10.3" height="1.4" fill="#3157D6"/>
<rect x="-4.7" y="2.2" width="9.3" height="0.4" fill="#7E9EF2"/>
</g>
<g transform="translate(640.1,394.4) rotate(55)">
<rect x="-4.6" y="-3.2" width="9.2" height="1.4" fill="#3157D6"/>
<rect x="-4.1" y="-2.7" width="8.2" height="0.4" fill="#7E9EF2"/>
<rect x="-4.6" y="-0.7" width="9.2" height="1.4" fill="#3157D6"/>
<rect x="-4.1" y="-0.3" width="8.2" height="0.4" fill="#7E9EF2"/>
<rect x="-4.6" y="1.7" width="9.2" height="1.4" fill="#3157D6"/>
<rect x="-4.1" y="2.2" width="8.2" height="0.4" fill="#7E9EF2"/>
</g>
<defs><path id="p210" d="M604.4 368.4Q607.3 369.1 608.8 369.1Q610.3 369.1 611.8 368.8Q613.3 368.5 614.7 368Q616.1 367.5 617.5 367Q618.9 366.4 620.3 365.9Q621.7 365.3 623.1 364.7L624.5 364.1"/></defs><use href="#p210" class="t1b"/><use href="#p210" class="t2b"/><use href="#p210" class="t3"/>
<defs><path id="p211" d="M589.1 384.3Q587.5 381.8 586.3 380.9Q585.1 380 583.6 379.6Q582.2 379.2 580.7 379Q579.2 378.9 577.7 378.9Q576.2 379 574.7 379.1Q573.2 379.3 571.8 379.7Q570.3 380.1 568.9 380.5Q567.4 381 566 381.2Q564.5 381.5 563 381.4Q561.5 381.3 560 381L558.5 380.7"/></defs><use href="#p211" class="t1b"/><use href="#p211" class="t2b"/><use href="#p211" class="t3"/>
<defs><path id="p212" d="M670.4 424.1Q672.8 422.2 673.5 420.9Q674.3 419.6 674.6 418.2Q674.9 416.7 674.6 415.2Q674.4 413.7 673.7 412.4Q672.9 411.1 671.8 410.1Q670.7 409.2 669.4 408.4Q668.1 407.7 666.6 407.3Q665.1 407 663.7 407.2Q662.2 407.4 660.8 408Q659.5 408.7 658.4 409.8Q657.3 410.8 656.6 412.1Q655.9 413.4 655.4 414.8L654.9 416.3"/></defs><use href="#p212" class="t1b"/><use href="#p212" class="t2b"/><use href="#p212" class="t3"/>
<defs><path id="p213" d="M625.4 391.2Q623.1 393.2 621.9 394Q620.7 394.9 619.3 395.6Q618 396.2 616.5 396.3Q615 396.4 613.5 396Q612.1 395.6 610.8 394.8Q609.5 394.1 608.5 392.9Q607.6 391.8 607.1 390.4Q606.5 389 606.4 387.5Q606.2 386 606.6 384.5Q607 383.1 607.8 381.8Q608.6 380.6 609.8 379.6Q610.9 378.7 612.4 378.2L613.8 377.7"/></defs><use href="#p213" class="t1b"/><use href="#p213" class="t2b"/><use href="#p213" class="t3"/>
<defs><path id="p214" d="M557.8 425.3Q556 427.7 555.5 429.1Q555 430.6 554.9 432.1Q554.8 433.6 555 435Q555.2 436.5 555.5 438Q555.8 439.5 556.2 440.9Q556.6 442.3 557.3 443.7Q558 445 559 446.2L560 447.3"/></defs><use href="#p214" class="t1b"/><use href="#p214" class="t2b"/><use href="#p214" class="t3"/>
<defs><path id="p215" d="M582.1 431.8Q580 433.9 579.2 435.2Q578.4 436.5 578 437.9Q577.6 439.4 577.7 440.9Q577.8 442.3 578.2 443.8Q578.7 445.2 579.5 446.5Q580.3 447.7 581.5 448.6L582.7 449.5"/></defs><use href="#p215" class="t1b"/><use href="#p215" class="t2b"/><use href="#p215" class="t3"/>
<defs><path id="p216" d="M608.5 412.9Q606.8 415.4 606.4 416.8Q606 418.3 605.9 419.8Q605.8 421.3 606.2 422.7Q606.7 424.2 607.4 425.5Q608.2 426.7 609.4 427.7Q610.6 428.6 612 429.1Q613.4 429.6 614.9 429.5Q616.4 429.5 617.8 428.9Q619.2 428.4 620.5 427.6Q621.7 426.8 622.9 425.9Q624.2 425 625.3 424.1L626.5 423.1"/></defs><use href="#p216" class="t1b"/><use href="#p216" class="t2b"/><use href="#p216" class="t3"/>
<defs><path id="p217" d="M566.7 399.4Q564.9 397 563.7 396.1Q562.5 395.2 561.1 394.6Q559.8 393.9 558.3 393.6Q556.8 393.3 555.3 393.2Q553.9 393 552.4 393Q550.9 393 549.4 393Q547.9 392.9 546.4 392.8Q544.9 392.7 543.4 392.4Q541.9 392.1 540.6 391.5Q539.2 390.8 538.2 389.7Q537.1 388.7 536.5 387.3L535.9 385.9"/></defs><use href="#p217" class="t1b"/><use href="#p217" class="t2b"/><use href="#p217" class="t3"/>
<defs><path id="p218" d="M558.9 395.4Q556.4 393.8 555 393.2Q553.6 392.6 552.1 392.6Q550.6 392.5 549.2 392.9Q547.8 393.4 546.6 394.3Q545.4 395.2 544.5 396.5Q543.7 397.7 543 399.1Q542.4 400.4 542.1 401.9Q541.8 403.3 542 404.8L542.2 406.3"/></defs><use href="#p218" class="t1b"/><use href="#p218" class="t2b"/><use href="#p218" class="t3"/>
<g transform="translate(607.1,422) rotate(3)">
<rect x="-5.3" y="-3.2" width="10.5" height="1.4" fill="#3157D6"/>
<rect x="-4.8" y="-2.7" width="9.5" height="0.4" fill="#7E9EF2"/>
<rect x="-5.3" y="-0.7" width="10.5" height="1.4" fill="#3157D6"/>
<rect x="-4.8" y="-0.3" width="9.5" height="0.4" fill="#7E9EF2"/>
<rect x="-5.3" y="1.7" width="10.5" height="1.4" fill="#3157D6"/>
<rect x="-4.8" y="2.2" width="9.5" height="0.4" fill="#7E9EF2"/>
</g>
<defs><path id="p219" d="M539.5 389.5Q542.1 390.9 543.6 391.4Q545 391.8 546.5 391.8Q548 391.8 549.4 391.3Q550.8 390.8 552 389.9Q553.2 389 554.2 387.8Q555.1 386.7 555.8 385.3L556.4 384"/></defs><use href="#p219" class="t1b"/><use href="#p219" class="t2b"/><use href="#p219" class="t3"/>
<defs><path id="p220" d="M591.1 409.3Q591.2 406.3 591.1 404.8Q591 403.3 590.9 401.8Q590.8 400.3 590.6 398.9Q590.4 397.4 590.2 395.9Q589.9 394.4 589.7 392.9Q589.5 391.5 589 390Q588.6 388.6 587.8 387.3Q587 386 586.1 384.9Q585.1 383.7 584 382.7Q583 381.6 582 380.5Q581 379.4 580.3 378.1L579.5 376.8"/></defs><use href="#p220" class="t1b"/><use href="#p220" class="t2b"/><use href="#p220" class="t3"/>
<defs><path id="p221" d="M616.5 402.6Q613.7 403.6 612.4 404.3Q611.1 405 610 406Q608.8 407 607.9 408.2Q606.9 409.3 606 410.5Q605.1 411.7 604.4 413Q603.8 414.4 603.2 415.8L602.6 417.1"/></defs><use href="#p221" class="t1b"/><use href="#p221" class="t2b"/><use href="#p221" class="t3"/>
<defs><path id="p222" d="M602.1 423.9Q599.1 424 597.6 424.2Q596.2 424.4 594.8 425Q593.4 425.5 592.2 426.4Q591 427.4 590.1 428.6Q589.2 429.8 588.3 431Q587.4 432.2 586.7 433.5Q585.9 434.8 585.1 436.1Q584.4 437.4 583.9 438.8Q583.4 440.2 583 441.6Q582.6 443.1 582.5 444.6L582.3 446.1"/></defs><use href="#p222" class="t1b"/><use href="#p222" class="t2b"/><use href="#p222" class="t3"/>
<defs><path id="p223" d="M538.1 429.5Q535.3 428.3 534.2 427.4Q533 426.5 532 425.3Q531 424.2 530.1 423Q529.2 421.8 528.6 420.4Q528 419 527.9 417.5Q527.8 416 528.1 414.6Q528.4 413.1 529.1 411.8Q529.9 410.5 531 409.5Q532.2 408.6 533.6 408.1Q535 407.6 536.5 407.3L538 407.1"/></defs><use href="#p223" class="t1b"/><use href="#p223" class="t2b"/><use href="#p223" class="t3"/>
<defs><path id="p224" d="M629.5 381.8Q626.8 383.1 625.5 383.9Q624.2 384.7 623.1 385.7Q622 386.8 621.2 388Q620.4 389.3 620.1 390.8Q619.8 392.2 620 393.7Q620.2 395.2 620.9 396.5Q621.6 397.9 622.7 398.9Q623.8 399.9 625.2 400.5Q626.5 401.1 628 401.3Q629.5 401.4 631 401Q632.4 400.6 633.6 399.7L634.8 398.9"/></defs><use href="#p224" class="t1b"/><use href="#p224" class="t2b"/><use href="#p224" class="t3"/>
<defs><path id="p225" d="M542.3 417.9Q543.5 420.7 544 422.1Q544.5 423.5 544.8 425Q545.2 426.4 545.4 427.9Q545.6 429.4 545.7 430.9Q545.9 432.4 546.1 433.9Q546.3 435.4 546.7 436.8Q547 438.3 547.4 439.7L547.9 441.1"/></defs><use href="#p225" class="t1b"/><use href="#p225" class="t2b"/><use href="#p225" class="t3"/>
<defs><path id="p226" d="M653.5 378.2Q650.6 378.5 649.1 378.9Q647.6 379.2 646.2 379.8Q644.8 380.3 643.5 381Q642.2 381.7 640.9 382.5Q639.6 383.2 638.3 384Q637.1 384.8 635.8 385.5Q634.4 386.3 633.1 387Q631.9 387.8 630.6 388.6Q629.3 389.4 628 390.1Q626.7 390.9 625.3 391.5Q624 392.2 622.7 392.9L621.4 393.7"/></defs><use href="#p226" class="t1b"/><use href="#p226" class="t2b"/><use href="#p226" class="t3"/>
<defs><path id="p227" d="M577.4 424.9Q580.3 423.9 581.8 423.9Q583.3 423.9 584.7 424.4Q586.1 424.9 587.4 425.7Q588.6 426.5 589.7 427.5Q590.9 428.5 591.8 429.7Q592.7 430.9 593.5 432.1Q594.3 433.4 595.2 434.6Q596.1 435.8 597.2 436.8Q598.3 437.8 599.5 438.7Q600.8 439.5 602.2 440.1Q603.6 440.6 605.1 440.6Q606.6 440.5 608 440.1L609.5 439.7"/></defs><use href="#p227" class="t1b"/><use href="#p227" class="t2b"/><use href="#p227" class="t3"/>
<defs><path id="p228" d="M657.7 375.5Q655.4 373.6 654.4 372.4Q653.4 371.3 652.5 370.1Q651.6 368.9 650.6 367.8Q649.7 366.6 648.9 365.3L648.1 364.1"/></defs><use href="#p228" class="t1b"/><use href="#p228" class="t2b"/><use href="#p228" class="t3"/>
<defs><path id="p229" d="M650.1 372.8Q648.1 375 647.1 376.1Q646.1 377.2 645.1 378.3Q644.1 379.5 643.1 380.6Q642.2 381.8 641.2 382.9Q640.3 384.1 639.2 385.2Q638.1 386.2 636.9 387Q635.6 387.9 634.2 388.4L632.8 389"/></defs><use href="#p229" class="t1b"/><use href="#p229" class="t2b"/><use href="#p229" class="t3"/>
<defs><path id="p230" d="M671.6 411.5Q669.6 413.7 668.5 414.7Q667.4 415.8 666.1 416.6Q664.9 417.4 663.6 418.2Q662.3 418.9 660.9 419.5Q659.5 420 658.1 420.5Q656.7 421 655.2 421.4Q653.8 421.8 652.3 422.2Q650.9 422.6 649.4 422.8Q647.9 423 646.4 423.2Q644.9 423.3 643.4 423.4Q641.9 423.6 640.5 423.7Q639 423.8 637.5 424.3L636.1 424.7"/></defs><use href="#p230" class="t1b"/><use href="#p230" class="t2b"/><use href="#p230" class="t3"/>
<defs><path id="p231" d="M664.9 396.8Q662.5 398.4 661 398.8Q659.5 399.2 658 399.1Q656.5 399 655.1 398.6Q653.6 398.2 652.4 397.3Q651.2 396.5 650.3 395.3Q649.4 394.1 649 392.6L648.6 391.2"/></defs><use href="#p231" class="t1b"/><use href="#p231" class="t2b"/><use href="#p231" class="t3"/>
<defs><path id="p232" d="M635.6 420.6Q638.6 420.7 640.1 420.6Q641.6 420.5 643 420.1Q644.5 419.7 645.8 418.9Q647.1 418.2 648.3 417.4Q649.6 416.5 650.9 415.8Q652.2 415.1 653.5 414.3L654.7 413.4"/></defs><use href="#p232" class="t1b"/><use href="#p232" class="t2b"/><use href="#p232" class="t3"/>
<defs><path id="p233" d="M647.1 418.8Q650 418.1 651.3 417.4Q652.6 416.7 653.7 415.6Q654.8 414.6 655.5 413.3Q656.2 412 656.6 410.5Q656.9 409.1 657 407.6Q657.1 406.1 656.9 404.6L656.7 403.1"/></defs><use href="#p233" class="t1b"/><use href="#p233" class="t2b"/><use href="#p233" class="t3"/>
<defs><path id="p234" d="M647.1 429.1Q650 428.4 651.3 427.8Q652.7 427.2 654 426.4Q655.3 425.7 656.6 424.9Q657.8 424.1 659.1 423.3Q660.4 422.5 661.6 421.5L662.7 420.6"/></defs><use href="#p234" class="t1b"/><use href="#p234" class="t2b"/><use href="#p234" class="t3"/>
<defs><path id="p235" d="M668.3 409.7Q668.9 406.8 669.1 405.3Q669.4 403.8 669.3 402.3Q669.3 400.8 668.9 399.4Q668.6 397.9 667.9 396.6Q667.2 395.3 666.2 394.1Q665.3 392.9 664.2 391.9Q663.2 390.8 661.8 390.2Q660.4 389.6 658.9 389.4Q657.4 389.3 656 389.6L654.5 390"/></defs><use href="#p235" class="t1b"/><use href="#p235" class="t2b"/><use href="#p235" class="t3"/>
<defs><path id="p236" d="M608.7 397.7Q605.7 397.7 604.2 397.5Q602.8 397.3 601.3 396.8Q599.9 396.4 598.6 395.7Q597.2 395 596.1 394Q594.9 393 593.9 391.9Q592.9 390.8 591.9 389.7Q590.9 388.6 589.8 387.6Q588.6 386.6 587.6 385.6Q586.5 384.5 585.5 383.4Q584.6 382.2 583.6 381.1Q582.6 380 581.7 378.8L580.8 377.6"/></defs><use href="#p236" class="t1b"/><use href="#p236" class="t2b"/><use href="#p236" class="t3"/>
<defs><path id="p237" d="M640.6 378.2Q643.6 378.5 645.1 378.8Q646.6 379.1 648 379.6Q649.4 380 650.8 380.5Q652.3 380.9 653.7 381.3Q655.2 381.6 656.7 381.9Q658.1 382.2 659.6 382.4Q661.1 382.7 662.6 382.7L664.1 382.8"/></defs><use href="#p237" class="t1b"/><use href="#p237" class="t2b"/><use href="#p237" class="t3"/>
<defs><path id="p238" d="M562.6 387.2Q560.1 385.7 558.7 385.2Q557.3 384.6 555.8 384.3Q554.4 383.9 552.9 383.5Q551.5 383.1 550 382.7Q548.6 382.2 547.1 381.9Q545.6 381.7 544.1 381.6L542.6 381.6"/></defs><use href="#p238" class="t1b"/><use href="#p238" class="t2b"/><use href="#p238" class="t3"/>
<defs><path id="p239" d="M563.6 413.2Q562.4 410.5 561.7 409.1Q561.1 407.8 560.3 406.5Q559.6 405.1 558.9 403.8Q558.2 402.5 557.5 401.2Q556.8 399.8 555.9 398.6Q555.1 397.4 554 396.4Q552.9 395.3 551.6 394.5Q550.3 393.8 548.9 393.2L547.5 392.7"/></defs><use href="#p239" class="t1b"/><use href="#p239" class="t2b"/><use href="#p239" class="t3"/>
<defs><path id="p240" d="M587.4 367.6Q588.5 364.7 589.1 363.4Q589.8 362 590.2 363.5Q590.5 364.9 590.5 366.4Q590.4 367.9 589.8 369.3Q589.2 370.7 588.2 371.8Q587.2 372.9 585.9 373.6Q584.5 374.3 583.1 374.5Q581.6 374.8 580.1 374.5Q578.6 374.2 577.4 373.4Q576.1 372.6 575.1 371.4Q574.2 370.2 573.6 368.9Q573 367.5 572.9 366L572.8 364.5"/></defs><use href="#p240" class="t1b"/><use href="#p240" class="t2b"/><use href="#p240" class="t3"/>
<defs><path id="p241" d="M610.9 428Q613.5 426.5 614.7 425.6Q615.9 424.8 617.2 424Q618.5 423.2 619.8 422.4Q621 421.6 622.4 421.1Q623.9 420.6 625.3 420.2Q626.7 419.8 628.2 419.3Q629.6 418.8 631 418.3Q632.4 417.7 633.8 417.3L635.2 416.8"/></defs><use href="#p241" class="t1b"/><use href="#p241" class="t2b"/><use href="#p241" class="t3"/>
<defs><path id="p242" d="M618.4 376.3Q621.1 377.6 622.1 378.7Q623.1 379.8 623.7 381.2Q624.4 382.5 624.8 384Q625.2 385.4 625.2 386.9Q625.1 388.4 624.5 389.8L624 391.2"/></defs><use href="#p242" class="t1b"/><use href="#p242" class="t2b"/><use href="#p242" class="t3"/>
<defs><path id="p243" d="M643.8 402.5Q644 399.5 644.6 398.1Q645.2 396.8 646.2 395.7Q647.2 394.6 648.6 393.9Q649.9 393.2 651.4 393.1Q652.9 392.9 654.4 393.2Q655.8 393.4 657.2 394.1Q658.5 394.8 659.6 395.8Q660.7 396.8 661.8 397.9Q662.8 399 663.7 400.2Q664.6 401.4 665.4 402.6L666.2 403.9"/></defs><use href="#p243" class="t1b"/><use href="#p243" class="t2b"/><use href="#p243" class="t3"/>
<defs><path id="p244" d="M593.8 394.5Q595.8 396.7 597.1 397.4Q598.5 398.1 599.9 398.3Q601.4 398.5 602.9 398.2Q604.4 397.9 605.7 397.2Q607 396.5 608.1 395.5Q609.2 394.5 610 393.2L610.8 391.9"/></defs><use href="#p244" class="t1b"/><use href="#p244" class="t2b"/><use href="#p244" class="t3"/>
<defs><path id="p245" d="M559.3 400.1Q556.4 399.6 554.9 399.7Q553.4 399.9 552 400.5Q550.7 401.2 549.6 402.2Q548.6 403.3 547.7 404.5Q546.9 405.8 546.4 407.2Q545.9 408.6 545.5 410.1Q545.2 411.5 545.2 413L545.2 414.5"/></defs><use href="#p245" class="t1b"/><use href="#p245" class="t2b"/><use href="#p245" class="t3"/>
<defs><path id="p246" d="M671.2 381.3Q672.4 384.1 672.7 385.6Q673 387 672.9 388.5Q672.8 390 672.1 391.4Q671.5 392.8 670.5 393.8Q669.4 394.9 668.1 395.6Q666.8 396.3 665.3 396.5Q663.8 396.7 662.3 396.4Q660.9 396 659.6 395.2Q658.3 394.4 657.2 393.4L656.1 392.4"/></defs><use href="#p246" class="t1b"/><use href="#p246" class="t2b"/><use href="#p246" class="t3"/>
<defs><path id="p247" d="M673.8 371.7Q674.9 368.9 675.9 367.8Q677 366.7 678.3 366Q679.6 365.3 681.1 365Q682.6 364.7 684 365Q685.5 365.2 686.8 365.9Q688.2 366.6 689.2 367.7Q690.2 368.8 690.7 370.2Q691.3 371.6 691.5 373.1Q691.7 374.6 691.4 376.1Q691 377.5 690.3 378.8L689.5 380.1"/></defs><use href="#p247" class="t1b"/><use href="#p247" class="t2b"/><use href="#p247" class="t3"/>
<defs><path id="p248" d="M657.1 413.5Q656.8 416.5 656.1 417.9Q655.5 419.2 654.6 420.4Q653.7 421.6 652.5 422.6Q651.4 423.6 650.1 424.4Q648.9 425.2 647.6 426Q646.3 426.8 645.2 427.7Q644 428.7 643 429.8Q642 430.9 641.2 432.2Q640.4 433.5 639.8 434.8L639.1 436.1"/></defs><use href="#p248" class="t1b"/><use href="#p248" class="t2b"/><use href="#p248" class="t3"/>
<defs><path id="p249" d="M600.3 400.8Q597.4 401.6 596 402.1Q594.6 402.7 593.3 403.3Q591.9 403.9 590.5 404.4Q589.1 404.9 587.6 405.1Q586.1 405.4 584.6 405.3Q583.1 405.3 581.6 404.9Q580.2 404.6 578.9 403.8L577.6 403.1"/></defs><use href="#p249" class="t1b"/><use href="#p249" class="t2b"/><use href="#p249" class="t3"/>
<g transform="translate(553.2,391.6) rotate(153)">
<rect x="-5.3" y="-3.2" width="10.6" height="1.4" fill="#3157D6"/>
<rect x="-4.8" y="-2.7" width="9.6" height="0.4" fill="#7E9EF2"/>
<rect x="-5.3" y="-0.7" width="10.6" height="1.4" fill="#3157D6"/>
<rect x="-4.8" y="-0.3" width="9.6" height="0.4" fill="#7E9EF2"/>
<rect x="-5.3" y="1.7" width="10.6" height="1.4" fill="#3157D6"/>
<rect x="-4.8" y="2.2" width="9.6" height="0.4" fill="#7E9EF2"/>
</g>
<g transform="translate(660.8,424.5) rotate(13)">
<rect x="-4.6" y="-3.2" width="9.2" height="1.4" fill="#3157D6"/>
<rect x="-4.1" y="-2.7" width="8.2" height="0.4" fill="#7E9EF2"/>
<rect x="-4.6" y="-0.7" width="9.2" height="1.4" fill="#3157D6"/>
<rect x="-4.1" y="-0.3" width="8.2" height="0.4" fill="#7E9EF2"/>
<rect x="-4.6" y="1.7" width="9.2" height="1.4" fill="#3157D6"/>
<rect x="-4.1" y="2.2" width="8.2" height="0.4" fill="#7E9EF2"/>
</g>
<defs><path id="p250" d="M647.7 390.9Q646.2 393.5 645.5 394.8Q644.7 396.1 644.2 397.5Q643.7 399 643.6 400.4Q643.5 401.9 643.9 403.4Q644.3 404.8 645.1 406.1Q646 407.3 647.1 408.3L648.2 409.4"/></defs><use href="#p250" class="t1b"/><use href="#p250" class="t2b"/><use href="#p250" class="t3"/>
<defs><path id="p251" d="M544.8 371.2Q543.1 373.7 542.5 375Q541.9 376.4 541.5 377.8Q541 379.3 540.9 380.8Q540.7 382.2 540.6 383.7Q540.6 385.2 540.4 386.7Q540.3 388.2 540.3 389.7Q540.2 391.2 540.5 392.7L540.7 394.2"/></defs><use href="#p251" class="t1b"/><use href="#p251" class="t2b"/><use href="#p251" class="t3"/>
<defs><path id="p252" d="M580 370.3Q580.4 373.3 580.9 374.7Q581.4 376.1 582.1 377.4Q582.8 378.7 583.6 380Q584.4 381.3 585.3 382.5Q586.2 383.7 587.1 384.8L588.1 386"/></defs><use href="#p252" class="t1b"/><use href="#p252" class="t2b"/><use href="#p252" class="t3"/>
<defs><path id="p253" d="M556 375.8Q553 375.9 551.5 375.5Q550.1 375.1 548.9 374.2Q547.7 373.3 546.9 372Q546.1 370.8 545.7 369.3Q545.4 367.8 545.5 366.3L545.6 364.8"/></defs><use href="#p253" class="t1b"/><use href="#p253" class="t2b"/><use href="#p253" class="t3"/>
<defs><path id="p254" d="M626.8 404.1Q626.2 407 625.8 408.5Q625.5 409.9 624.9 411.3Q624.3 412.7 623.6 414Q622.9 415.3 622 416.6Q621.2 417.8 620.4 419.1Q619.6 420.4 618.9 421.7Q618.2 423 617.6 424.4Q616.9 425.7 616 426.9L615.2 428.2"/></defs><use href="#p254" class="t1b"/><use href="#p254" class="t2b"/><use href="#p254" class="t3"/>
<g transform="translate(570.9,393.2) rotate(74)">
<rect x="-4.5" y="-3.2" width="9.1" height="1.4" fill="#3157D6"/>
<rect x="-4" y="-2.7" width="8.1" height="0.4" fill="#7E9EF2"/>
<rect x="-4.5" y="-0.7" width="9.1" height="1.4" fill="#3157D6"/>
<rect x="-4" y="-0.3" width="8.1" height="0.4" fill="#7E9EF2"/>
<rect x="-4.5" y="1.7" width="9.1" height="1.4" fill="#3157D6"/>
<rect x="-4" y="2.2" width="8.1" height="0.4" fill="#7E9EF2"/>
</g>
<defs><path id="p255" d="M569.3 377.8Q568.9 374.8 568.2 373.5Q567.4 372.2 566.4 371.1Q565.4 370 564.1 369.3Q562.8 368.6 561.3 368.2Q559.9 367.7 558.4 367.8Q556.9 367.9 555.4 368.2Q554 368.6 552.6 369.1Q551.2 369.6 549.9 370.3Q548.5 371 547.3 371.9Q546.1 372.8 544.9 373.7Q543.7 374.7 542.8 375.8Q541.8 377 541.2 378.3L540.5 379.6"/></defs><use href="#p255" class="t1b"/><use href="#p255" class="t2b"/><use href="#p255" class="t3"/>
<g transform="translate(572,423.7) rotate(104)">
<rect x="-5.1" y="-3.2" width="10.3" height="1.4" fill="#3157D6"/>
<rect x="-4.6" y="-2.7" width="9.3" height="0.4" fill="#7E9EF2"/>
<rect x="-5.1" y="-0.7" width="10.3" height="1.4" fill="#3157D6"/>
<rect x="-4.6" y="-0.3" width="9.3" height="0.4" fill="#7E9EF2"/>
<rect x="-5.1" y="1.7" width="10.3" height="1.4" fill="#3157D6"/>
<rect x="-4.6" y="2.2" width="9.3" height="0.4" fill="#7E9EF2"/>
</g>
<defs><path id="p256" d="M652.7 425.9Q651 423.4 649.9 422.4Q648.8 421.4 647.5 420.6Q646.3 419.7 645 419Q643.7 418.2 642.4 417.4Q641.2 416.5 640 415.6Q638.8 414.7 637.6 413.8Q636.4 412.9 635.3 411.9Q634.2 410.9 633.2 409.8Q632.2 408.6 631.3 407.4Q630.4 406.3 629.6 405Q628.8 403.7 628.4 402.3L628 400.8"/></defs><use href="#p256" class="t1b"/><use href="#p256" class="t2b"/><use href="#p256" class="t3"/>
<defs><path id="p257" d="M618.7 396.1Q619.3 399 619.6 400.5Q620 402 620.6 403.3Q621.2 404.7 622 406Q622.8 407.3 623.6 408.5Q624.5 409.7 625.5 410.8Q626.5 412 627.6 413L628.7 414"/></defs><use href="#p257" class="t1b"/><use href="#p257" class="t2b"/><use href="#p257" class="t3"/>
<defs><path id="p258" d="M637 428.4Q634.5 426.7 633.6 425.6Q632.6 424.4 632.1 423Q631.6 421.6 631.5 420.1Q631.4 418.6 631.8 417.2Q632.2 415.7 632.9 414.4Q633.6 413 634.6 412Q635.7 410.9 636.9 410Q638.1 409.2 639.5 408.6Q640.9 407.9 642.3 407.7L643.8 407.4"/></defs><use href="#p258" class="t1b"/><use href="#p258" class="t2b"/><use href="#p258" class="t3"/>
<defs><path id="p259" d="M597.9 380.4Q599.7 382.8 601 383.6Q602.2 384.4 603.7 384.9Q605.1 385.4 606.6 385.6Q608 385.8 609.5 385.8Q611 385.8 612.5 385.5Q614 385.3 615.3 384.6Q616.7 383.9 617.7 382.8Q618.7 381.7 619.2 380.3Q619.8 378.9 619.9 377.4Q620 375.9 619.5 374.5L619.1 373.1"/></defs><use href="#p259" class="t1b"/><use href="#p259" class="t2b"/><use href="#p259" class="t3"/>
<g transform="translate(555.1,420.7) rotate(13)">
<rect x="-4.8" y="-3.2" width="9.6" height="1.4" fill="#3157D6"/>
<rect x="-4.3" y="-2.7" width="8.6" height="0.4" fill="#7E9EF2"/>
<rect x="-4.8" y="-0.7" width="9.6" height="1.4" fill="#3157D6"/>
<rect x="-4.3" y="-0.3" width="8.6" height="0.4" fill="#7E9EF2"/>
<rect x="-4.8" y="1.7" width="9.6" height="1.4" fill="#3157D6"/>
<rect x="-4.3" y="2.2" width="8.6" height="0.4" fill="#7E9EF2"/>
</g>
<defs><path id="p260" d="M663.8 409Q664.6 406.1 664.9 404.6Q665.3 403.2 665.5 401.7Q665.7 400.2 665.5 398.7Q665.4 397.2 665.1 395.7Q664.8 394.3 664.3 392.8L663.8 391.4"/></defs><use href="#p260" class="t1b"/><use href="#p260" class="t2b"/><use href="#p260" class="t3"/>
</g></svg>
<text x="540.5" y="430.8" font-size="10" font-weight="bold" fill="#FFFF00" stroke="#8a7a00" stroke-width="0.35" stroke-opacity="0.6" paint-order="stroke">SVD-120</text>
<text x="527.6" y="9.6" font-size="13.5" font-weight="bold">f</text></svg></body></html>
